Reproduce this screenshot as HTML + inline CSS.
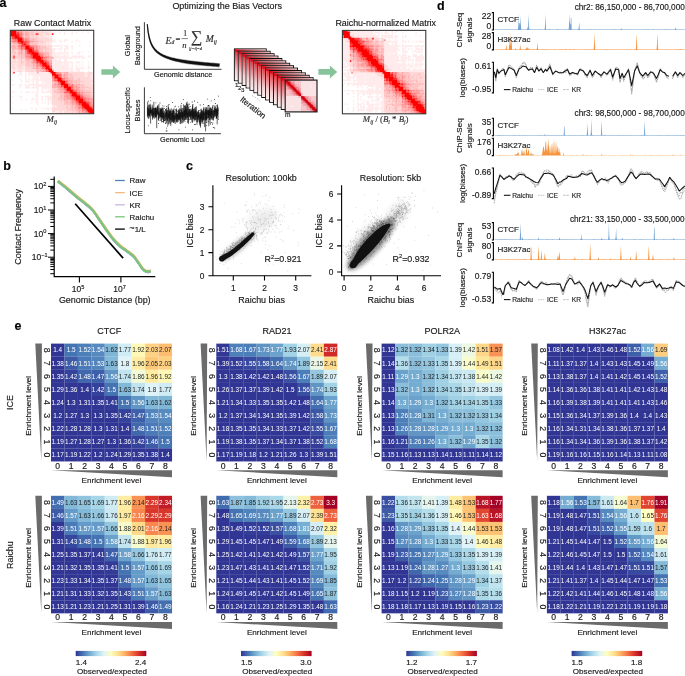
<!DOCTYPE html>
<html><head><meta charset="utf-8"><title>Raichu figure</title>
<style>html,body{margin:0;padding:0;background:#fff;overflow:hidden;width:685px;height:676px;}svg{display:block;will-change:transform;}text{stroke:#1a1a1a;stroke-width:.16px;}text.w,text.g{stroke:none;}</style></head>
<body><svg width="685" height="676" viewBox="0 0 685 676" font-family='"Liberation Sans", sans-serif' fill="#1a1a1a">
<rect width="685" height="676" fill="#fff"/>
<text x="14.50" y="330.20" font-size="12.5" fill="#000" font-weight="bold">e</text>
<text x="109.20" y="334.00" font-size="9.0" text-anchor="middle">CTCF</text>
<rect x="51.00" y="343.60" width="13.49" height="13.14" fill="#313695"/>
<rect x="64.44" y="343.60" width="13.49" height="13.14" fill="#4574b3"/>
<rect x="77.89" y="343.60" width="13.49" height="13.14" fill="#4d7fb9"/>
<rect x="91.33" y="343.60" width="13.49" height="13.14" fill="#578abf"/>
<rect x="104.78" y="343.60" width="13.49" height="13.14" fill="#7fb6d6"/>
<rect x="118.22" y="343.60" width="13.49" height="13.14" fill="#cfebf3"/>
<rect x="131.67" y="343.60" width="13.49" height="13.14" fill="#fff8b6"/>
<rect x="145.11" y="343.60" width="13.49" height="13.14" fill="#fed081"/>
<rect x="158.56" y="343.60" width="13.49" height="13.14" fill="#fdbd6f"/>
<rect x="51.00" y="356.69" width="13.49" height="13.14" fill="#313695"/>
<rect x="64.44" y="356.69" width="13.49" height="13.14" fill="#3d5ba7"/>
<rect x="77.89" y="356.69" width="13.49" height="13.14" fill="#4a7ab7"/>
<rect x="91.33" y="356.69" width="13.49" height="13.14" fill="#5385bd"/>
<rect x="104.78" y="356.69" width="13.49" height="13.14" fill="#83b9d8"/>
<rect x="118.22" y="356.69" width="13.49" height="13.14" fill="#e0f3f8"/>
<rect x="131.67" y="356.69" width="13.49" height="13.14" fill="#feeca3"/>
<rect x="145.11" y="356.69" width="13.49" height="13.14" fill="#fdc778"/>
<rect x="158.56" y="356.69" width="13.49" height="13.14" fill="#fed081"/>
<rect x="51.00" y="369.78" width="13.49" height="13.14" fill="#313695"/>
<rect x="64.44" y="369.78" width="13.49" height="13.14" fill="#35429b"/>
<rect x="77.89" y="369.78" width="13.49" height="13.14" fill="#4167ad"/>
<rect x="91.33" y="369.78" width="13.49" height="13.14" fill="#3e60aa"/>
<rect x="104.78" y="369.78" width="13.49" height="13.14" fill="#6095c4"/>
<rect x="118.22" y="369.78" width="13.49" height="13.14" fill="#c1e4ef"/>
<rect x="131.67" y="369.78" width="13.49" height="13.14" fill="#f2fad7"/>
<rect x="145.11" y="369.78" width="13.49" height="13.14" fill="#feeca3"/>
<rect x="158.56" y="369.78" width="13.49" height="13.14" fill="#fff8b6"/>
<rect x="51.00" y="382.87" width="13.49" height="13.14" fill="#313695"/>
<rect x="64.44" y="382.87" width="13.49" height="13.14" fill="#313695"/>
<rect x="77.89" y="382.87" width="13.49" height="13.14" fill="#313695"/>
<rect x="91.33" y="382.87" width="13.49" height="13.14" fill="#35429b"/>
<rect x="104.78" y="382.87" width="13.49" height="13.14" fill="#4574b3"/>
<rect x="118.22" y="382.87" width="13.49" height="13.14" fill="#83b9d8"/>
<rect x="131.67" y="382.87" width="13.49" height="13.14" fill="#c1e4ef"/>
<rect x="145.11" y="382.87" width="13.49" height="13.14" fill="#e0f3f8"/>
<rect x="158.56" y="382.87" width="13.49" height="13.14" fill="#cfebf3"/>
<rect x="51.00" y="395.96" width="13.49" height="13.14" fill="#313695"/>
<rect x="64.44" y="395.96" width="13.49" height="13.14" fill="#313695"/>
<rect x="77.89" y="395.96" width="13.49" height="13.14" fill="#313695"/>
<rect x="91.33" y="395.96" width="13.49" height="13.14" fill="#313695"/>
<rect x="104.78" y="395.96" width="13.49" height="13.14" fill="#333b97"/>
<rect x="118.22" y="395.96" width="13.49" height="13.14" fill="#4574b3"/>
<rect x="131.67" y="395.96" width="13.49" height="13.14" fill="#6095c4"/>
<rect x="145.11" y="395.96" width="13.49" height="13.14" fill="#83b9d8"/>
<rect x="158.56" y="395.96" width="13.49" height="13.14" fill="#7fb6d6"/>
<rect x="51.00" y="409.04" width="13.49" height="13.14" fill="#313695"/>
<rect x="64.44" y="409.04" width="13.49" height="13.14" fill="#313695"/>
<rect x="77.89" y="409.04" width="13.49" height="13.14" fill="#313695"/>
<rect x="91.33" y="409.04" width="13.49" height="13.14" fill="#313695"/>
<rect x="104.78" y="409.04" width="13.49" height="13.14" fill="#313695"/>
<rect x="118.22" y="409.04" width="13.49" height="13.14" fill="#35429b"/>
<rect x="131.67" y="409.04" width="13.49" height="13.14" fill="#3e60aa"/>
<rect x="145.11" y="409.04" width="13.49" height="13.14" fill="#5385bd"/>
<rect x="158.56" y="409.04" width="13.49" height="13.14" fill="#578abf"/>
<rect x="51.00" y="422.13" width="13.49" height="13.14" fill="#313695"/>
<rect x="64.44" y="422.13" width="13.49" height="13.14" fill="#313695"/>
<rect x="77.89" y="422.13" width="13.49" height="13.14" fill="#313695"/>
<rect x="91.33" y="422.13" width="13.49" height="13.14" fill="#313695"/>
<rect x="104.78" y="422.13" width="13.49" height="13.14" fill="#313695"/>
<rect x="118.22" y="422.13" width="13.49" height="13.14" fill="#313695"/>
<rect x="131.67" y="422.13" width="13.49" height="13.14" fill="#4167ad"/>
<rect x="145.11" y="422.13" width="13.49" height="13.14" fill="#4a7ab7"/>
<rect x="158.56" y="422.13" width="13.49" height="13.14" fill="#4d7fb9"/>
<rect x="51.00" y="435.22" width="13.49" height="13.14" fill="#313695"/>
<rect x="64.44" y="435.22" width="13.49" height="13.14" fill="#313695"/>
<rect x="77.89" y="435.22" width="13.49" height="13.14" fill="#313695"/>
<rect x="91.33" y="435.22" width="13.49" height="13.14" fill="#313695"/>
<rect x="104.78" y="435.22" width="13.49" height="13.14" fill="#313695"/>
<rect x="118.22" y="435.22" width="13.49" height="13.14" fill="#313695"/>
<rect x="131.67" y="435.22" width="13.49" height="13.14" fill="#35429b"/>
<rect x="145.11" y="435.22" width="13.49" height="13.14" fill="#3d5ba7"/>
<rect x="158.56" y="435.22" width="13.49" height="13.14" fill="#4574b3"/>
<rect x="51.00" y="448.31" width="13.49" height="13.14" fill="#313695"/>
<rect x="64.44" y="448.31" width="13.49" height="13.14" fill="#313695"/>
<rect x="77.89" y="448.31" width="13.49" height="13.14" fill="#313695"/>
<rect x="91.33" y="448.31" width="13.49" height="13.14" fill="#313695"/>
<rect x="104.78" y="448.31" width="13.49" height="13.14" fill="#313695"/>
<rect x="118.22" y="448.31" width="13.49" height="13.14" fill="#313695"/>
<rect x="131.67" y="448.31" width="13.49" height="13.14" fill="#313695"/>
<rect x="145.11" y="448.31" width="13.49" height="13.14" fill="#313695"/>
<rect x="158.56" y="448.31" width="13.49" height="13.14" fill="#313695"/>
<text x="57.72" y="352.45" font-size="6.4" fill="#fff" text-anchor="middle" class="w">1.4</text>
<text x="71.17" y="352.45" font-size="6.4" fill="#fff" text-anchor="middle" class="w">1.5</text>
<text x="84.61" y="352.45" font-size="6.4" fill="#fff" text-anchor="middle" class="w">1.52</text>
<text x="98.06" y="352.45" font-size="6.4" fill="#fff" text-anchor="middle" class="w">1.54</text>
<text x="111.50" y="352.45" font-size="6.4" fill="#222" text-anchor="middle" class="g">1.62</text>
<text x="124.94" y="352.45" font-size="6.4" fill="#222" text-anchor="middle" class="g">1.77</text>
<text x="138.39" y="352.45" font-size="6.4" fill="#222" text-anchor="middle" class="g">1.92</text>
<text x="151.83" y="352.45" font-size="6.4" fill="#222" text-anchor="middle" class="g">2.03</text>
<text x="165.28" y="352.45" font-size="6.4" fill="#222" text-anchor="middle" class="g">2.07</text>
<text x="57.72" y="365.54" font-size="6.4" fill="#fff" text-anchor="middle" class="w">1.38</text>
<text x="71.17" y="365.54" font-size="6.4" fill="#fff" text-anchor="middle" class="w">1.46</text>
<text x="84.61" y="365.54" font-size="6.4" fill="#fff" text-anchor="middle" class="w">1.51</text>
<text x="98.06" y="365.54" font-size="6.4" fill="#fff" text-anchor="middle" class="w">1.53</text>
<text x="111.50" y="365.54" font-size="6.4" fill="#222" text-anchor="middle" class="g">1.63</text>
<text x="124.94" y="365.54" font-size="6.4" fill="#222" text-anchor="middle" class="g">1.8</text>
<text x="138.39" y="365.54" font-size="6.4" fill="#222" text-anchor="middle" class="g">1.96</text>
<text x="151.83" y="365.54" font-size="6.4" fill="#222" text-anchor="middle" class="g">2.05</text>
<text x="165.28" y="365.54" font-size="6.4" fill="#222" text-anchor="middle" class="g">2.03</text>
<text x="57.72" y="378.63" font-size="6.4" fill="#fff" text-anchor="middle" class="w">1.35</text>
<text x="71.17" y="378.63" font-size="6.4" fill="#fff" text-anchor="middle" class="w">1.42</text>
<text x="84.61" y="378.63" font-size="6.4" fill="#fff" text-anchor="middle" class="w">1.48</text>
<text x="98.06" y="378.63" font-size="6.4" fill="#fff" text-anchor="middle" class="w">1.47</text>
<text x="111.50" y="378.63" font-size="6.4" fill="#fff" text-anchor="middle" class="w">1.56</text>
<text x="124.94" y="378.63" font-size="6.4" fill="#222" text-anchor="middle" class="g">1.74</text>
<text x="138.39" y="378.63" font-size="6.4" fill="#222" text-anchor="middle" class="g">1.86</text>
<text x="151.83" y="378.63" font-size="6.4" fill="#222" text-anchor="middle" class="g">1.96</text>
<text x="165.28" y="378.63" font-size="6.4" fill="#222" text-anchor="middle" class="g">1.92</text>
<text x="57.72" y="391.72" font-size="6.4" fill="#fff" text-anchor="middle" class="w">1.29</text>
<text x="71.17" y="391.72" font-size="6.4" fill="#fff" text-anchor="middle" class="w">1.36</text>
<text x="84.61" y="391.72" font-size="6.4" fill="#fff" text-anchor="middle" class="w">1.4</text>
<text x="98.06" y="391.72" font-size="6.4" fill="#fff" text-anchor="middle" class="w">1.42</text>
<text x="111.50" y="391.72" font-size="6.4" fill="#fff" text-anchor="middle" class="w">1.5</text>
<text x="124.94" y="391.72" font-size="6.4" fill="#222" text-anchor="middle" class="g">1.63</text>
<text x="138.39" y="391.72" font-size="6.4" fill="#222" text-anchor="middle" class="g">1.74</text>
<text x="151.83" y="391.72" font-size="6.4" fill="#222" text-anchor="middle" class="g">1.8</text>
<text x="165.28" y="391.72" font-size="6.4" fill="#222" text-anchor="middle" class="g">1.77</text>
<text x="57.72" y="404.80" font-size="6.4" fill="#fff" text-anchor="middle" class="w">1.24</text>
<text x="71.17" y="404.80" font-size="6.4" fill="#fff" text-anchor="middle" class="w">1.3</text>
<text x="84.61" y="404.80" font-size="6.4" fill="#fff" text-anchor="middle" class="w">1.31</text>
<text x="98.06" y="404.80" font-size="6.4" fill="#fff" text-anchor="middle" class="w">1.35</text>
<text x="111.50" y="404.80" font-size="6.4" fill="#fff" text-anchor="middle" class="w">1.41</text>
<text x="124.94" y="404.80" font-size="6.4" fill="#fff" text-anchor="middle" class="w">1.5</text>
<text x="138.39" y="404.80" font-size="6.4" fill="#fff" text-anchor="middle" class="w">1.56</text>
<text x="151.83" y="404.80" font-size="6.4" fill="#222" text-anchor="middle" class="g">1.63</text>
<text x="165.28" y="404.80" font-size="6.4" fill="#222" text-anchor="middle" class="g">1.62</text>
<text x="57.72" y="417.89" font-size="6.4" fill="#fff" text-anchor="middle" class="w">1.2</text>
<text x="71.17" y="417.89" font-size="6.4" fill="#fff" text-anchor="middle" class="w">1.27</text>
<text x="84.61" y="417.89" font-size="6.4" fill="#fff" text-anchor="middle" class="w">1.3</text>
<text x="98.06" y="417.89" font-size="6.4" fill="#fff" text-anchor="middle" class="w">1.3</text>
<text x="111.50" y="417.89" font-size="6.4" fill="#fff" text-anchor="middle" class="w">1.35</text>
<text x="124.94" y="417.89" font-size="6.4" fill="#fff" text-anchor="middle" class="w">1.42</text>
<text x="138.39" y="417.89" font-size="6.4" fill="#fff" text-anchor="middle" class="w">1.47</text>
<text x="151.83" y="417.89" font-size="6.4" fill="#fff" text-anchor="middle" class="w">1.53</text>
<text x="165.28" y="417.89" font-size="6.4" fill="#fff" text-anchor="middle" class="w">1.54</text>
<text x="57.72" y="430.98" font-size="6.4" fill="#fff" text-anchor="middle" class="w">1.22</text>
<text x="71.17" y="430.98" font-size="6.4" fill="#fff" text-anchor="middle" class="w">1.28</text>
<text x="84.61" y="430.98" font-size="6.4" fill="#fff" text-anchor="middle" class="w">1.28</text>
<text x="98.06" y="430.98" font-size="6.4" fill="#fff" text-anchor="middle" class="w">1.3</text>
<text x="111.50" y="430.98" font-size="6.4" fill="#fff" text-anchor="middle" class="w">1.31</text>
<text x="124.94" y="430.98" font-size="6.4" fill="#fff" text-anchor="middle" class="w">1.4</text>
<text x="138.39" y="430.98" font-size="6.4" fill="#fff" text-anchor="middle" class="w">1.48</text>
<text x="151.83" y="430.98" font-size="6.4" fill="#fff" text-anchor="middle" class="w">1.51</text>
<text x="165.28" y="430.98" font-size="6.4" fill="#fff" text-anchor="middle" class="w">1.52</text>
<text x="57.72" y="444.07" font-size="6.4" fill="#fff" text-anchor="middle" class="w">1.19</text>
<text x="71.17" y="444.07" font-size="6.4" fill="#fff" text-anchor="middle" class="w">1.27</text>
<text x="84.61" y="444.07" font-size="6.4" fill="#fff" text-anchor="middle" class="w">1.28</text>
<text x="98.06" y="444.07" font-size="6.4" fill="#fff" text-anchor="middle" class="w">1.27</text>
<text x="111.50" y="444.07" font-size="6.4" fill="#fff" text-anchor="middle" class="w">1.3</text>
<text x="124.94" y="444.07" font-size="6.4" fill="#fff" text-anchor="middle" class="w">1.36</text>
<text x="138.39" y="444.07" font-size="6.4" fill="#fff" text-anchor="middle" class="w">1.42</text>
<text x="151.83" y="444.07" font-size="6.4" fill="#fff" text-anchor="middle" class="w">1.46</text>
<text x="165.28" y="444.07" font-size="6.4" fill="#fff" text-anchor="middle" class="w">1.5</text>
<text x="57.72" y="457.16" font-size="6.4" fill="#fff" text-anchor="middle" class="w">1.17</text>
<text x="71.17" y="457.16" font-size="6.4" fill="#fff" text-anchor="middle" class="w">1.19</text>
<text x="84.61" y="457.16" font-size="6.4" fill="#fff" text-anchor="middle" class="w">1.22</text>
<text x="98.06" y="457.16" font-size="6.4" fill="#fff" text-anchor="middle" class="w">1.2</text>
<text x="111.50" y="457.16" font-size="6.4" fill="#fff" text-anchor="middle" class="w">1.24</text>
<text x="124.94" y="457.16" font-size="6.4" fill="#fff" text-anchor="middle" class="w">1.29</text>
<text x="138.39" y="457.16" font-size="6.4" fill="#fff" text-anchor="middle" class="w">1.35</text>
<text x="151.83" y="457.16" font-size="6.4" fill="#fff" text-anchor="middle" class="w">1.38</text>
<text x="165.28" y="457.16" font-size="6.4" fill="#fff" text-anchor="middle" class="w">1.4</text>
<polygon points="35.30,343.60 41.90,343.60 41.30,461.40" fill="#6b6b6b"/>
<polygon points="51.00,470.20 172.00,470.20 172.00,477.20" fill="#6b6b6b"/>
<text transform="translate(43.70,350.14) rotate(90)" font-size="8.6" text-anchor="middle">8</text>
<text transform="translate(43.70,363.23) rotate(90)" font-size="8.6" text-anchor="middle">7</text>
<text transform="translate(43.70,376.32) rotate(90)" font-size="8.6" text-anchor="middle">6</text>
<text transform="translate(43.70,389.41) rotate(90)" font-size="8.6" text-anchor="middle">5</text>
<text transform="translate(43.70,402.50) rotate(90)" font-size="8.6" text-anchor="middle">4</text>
<text transform="translate(43.70,415.59) rotate(90)" font-size="8.6" text-anchor="middle">3</text>
<text transform="translate(43.70,428.68) rotate(90)" font-size="8.6" text-anchor="middle">2</text>
<text transform="translate(43.70,441.77) rotate(90)" font-size="8.6" text-anchor="middle">1</text>
<text transform="translate(43.70,454.86) rotate(90)" font-size="8.6" text-anchor="middle">0</text>
<text x="57.72" y="468.50" font-size="8.6" text-anchor="middle">0</text>
<text x="71.17" y="468.50" font-size="8.6" text-anchor="middle">1</text>
<text x="84.61" y="468.50" font-size="8.6" text-anchor="middle">2</text>
<text x="98.06" y="468.50" font-size="8.6" text-anchor="middle">3</text>
<text x="111.50" y="468.50" font-size="8.6" text-anchor="middle">4</text>
<text x="124.94" y="468.50" font-size="8.6" text-anchor="middle">5</text>
<text x="138.39" y="468.50" font-size="8.6" text-anchor="middle">6</text>
<text x="151.83" y="468.50" font-size="8.6" text-anchor="middle">7</text>
<text x="165.28" y="468.50" font-size="8.6" text-anchor="middle">8</text>
<text x="111.50" y="483.20" font-size="8.1" text-anchor="middle">Enrichment level</text>
<text transform="translate(31.00,405.90) rotate(-90)" font-size="8.1" text-anchor="middle">Enrichment level</text>
<rect x="51.00" y="495.80" width="13.49" height="13.11" fill="#436fb1"/>
<rect x="64.44" y="495.80" width="13.49" height="13.11" fill="#83b9d8"/>
<rect x="77.89" y="495.80" width="13.49" height="13.11" fill="#90c3dd"/>
<rect x="91.33" y="495.80" width="13.49" height="13.11" fill="#a6d5e7"/>
<rect x="104.78" y="495.80" width="13.49" height="13.11" fill="#cfebf3"/>
<rect x="118.22" y="495.80" width="13.49" height="13.11" fill="#feeca3"/>
<rect x="131.67" y="495.80" width="13.49" height="13.11" fill="#f99355"/>
<rect x="145.11" y="495.80" width="13.49" height="13.11" fill="#da362a"/>
<rect x="158.56" y="495.80" width="13.49" height="13.11" fill="#c21c27"/>
<rect x="51.00" y="508.86" width="13.49" height="13.11" fill="#3d5ba7"/>
<rect x="64.44" y="508.86" width="13.49" height="13.11" fill="#659bc8"/>
<rect x="77.89" y="508.86" width="13.49" height="13.11" fill="#83b9d8"/>
<rect x="91.33" y="508.86" width="13.49" height="13.11" fill="#94c7df"/>
<rect x="104.78" y="508.86" width="13.49" height="13.11" fill="#cbe9f2"/>
<rect x="118.22" y="508.86" width="13.49" height="13.11" fill="#feea9f"/>
<rect x="131.67" y="508.86" width="13.49" height="13.11" fill="#f8864f"/>
<rect x="145.11" y="508.86" width="13.49" height="13.11" fill="#da362a"/>
<rect x="158.56" y="508.86" width="13.49" height="13.11" fill="#da362a"/>
<rect x="51.00" y="521.91" width="13.49" height="13.11" fill="#313695"/>
<rect x="64.44" y="521.91" width="13.49" height="13.11" fill="#4a7ab7"/>
<rect x="77.89" y="521.91" width="13.49" height="13.11" fill="#659bc8"/>
<rect x="91.33" y="521.91" width="13.49" height="13.11" fill="#659bc8"/>
<rect x="104.78" y="521.91" width="13.49" height="13.11" fill="#94c7df"/>
<rect x="118.22" y="521.91" width="13.49" height="13.11" fill="#f8fccc"/>
<rect x="131.67" y="521.91" width="13.49" height="13.11" fill="#feda8a"/>
<rect x="145.11" y="521.91" width="13.49" height="13.11" fill="#f8864f"/>
<rect x="158.56" y="521.91" width="13.49" height="13.11" fill="#f99355"/>
<rect x="51.00" y="534.97" width="13.49" height="13.11" fill="#313695"/>
<rect x="64.44" y="534.97" width="13.49" height="13.11" fill="#36479e"/>
<rect x="77.89" y="534.97" width="13.49" height="13.11" fill="#4167ad"/>
<rect x="91.33" y="534.97" width="13.49" height="13.11" fill="#4574b3"/>
<rect x="104.78" y="534.97" width="13.49" height="13.11" fill="#6ba2cb"/>
<rect x="118.22" y="534.97" width="13.49" height="13.11" fill="#c1e4ef"/>
<rect x="131.67" y="534.97" width="13.49" height="13.11" fill="#f8fccc"/>
<rect x="145.11" y="534.97" width="13.49" height="13.11" fill="#feea9f"/>
<rect x="158.56" y="534.97" width="13.49" height="13.11" fill="#feeca3"/>
<rect x="51.00" y="548.02" width="13.49" height="13.11" fill="#313695"/>
<rect x="64.44" y="548.02" width="13.49" height="13.11" fill="#313695"/>
<rect x="77.89" y="548.02" width="13.49" height="13.11" fill="#313695"/>
<rect x="91.33" y="548.02" width="13.49" height="13.11" fill="#333b97"/>
<rect x="104.78" y="548.02" width="13.49" height="13.11" fill="#3e60aa"/>
<rect x="118.22" y="548.02" width="13.49" height="13.11" fill="#6ba2cb"/>
<rect x="131.67" y="548.02" width="13.49" height="13.11" fill="#94c7df"/>
<rect x="145.11" y="548.02" width="13.49" height="13.11" fill="#cbe9f2"/>
<rect x="158.56" y="548.02" width="13.49" height="13.11" fill="#cfebf3"/>
<rect x="51.00" y="561.08" width="13.49" height="13.11" fill="#313695"/>
<rect x="64.44" y="561.08" width="13.49" height="13.11" fill="#313695"/>
<rect x="77.89" y="561.08" width="13.49" height="13.11" fill="#313695"/>
<rect x="91.33" y="561.08" width="13.49" height="13.11" fill="#313695"/>
<rect x="104.78" y="561.08" width="13.49" height="13.11" fill="#333b97"/>
<rect x="118.22" y="561.08" width="13.49" height="13.11" fill="#4574b3"/>
<rect x="131.67" y="561.08" width="13.49" height="13.11" fill="#659bc8"/>
<rect x="145.11" y="561.08" width="13.49" height="13.11" fill="#94c7df"/>
<rect x="158.56" y="561.08" width="13.49" height="13.11" fill="#a6d5e7"/>
<rect x="51.00" y="574.13" width="13.49" height="13.11" fill="#313695"/>
<rect x="64.44" y="574.13" width="13.49" height="13.11" fill="#313695"/>
<rect x="77.89" y="574.13" width="13.49" height="13.11" fill="#313695"/>
<rect x="91.33" y="574.13" width="13.49" height="13.11" fill="#313695"/>
<rect x="104.78" y="574.13" width="13.49" height="13.11" fill="#313695"/>
<rect x="118.22" y="574.13" width="13.49" height="13.11" fill="#4167ad"/>
<rect x="131.67" y="574.13" width="13.49" height="13.11" fill="#659bc8"/>
<rect x="145.11" y="574.13" width="13.49" height="13.11" fill="#83b9d8"/>
<rect x="158.56" y="574.13" width="13.49" height="13.11" fill="#90c3dd"/>
<rect x="51.00" y="587.19" width="13.49" height="13.11" fill="#313695"/>
<rect x="64.44" y="587.19" width="13.49" height="13.11" fill="#313695"/>
<rect x="77.89" y="587.19" width="13.49" height="13.11" fill="#313695"/>
<rect x="91.33" y="587.19" width="13.49" height="13.11" fill="#313695"/>
<rect x="104.78" y="587.19" width="13.49" height="13.11" fill="#313695"/>
<rect x="118.22" y="587.19" width="13.49" height="13.11" fill="#36479e"/>
<rect x="131.67" y="587.19" width="13.49" height="13.11" fill="#4a7ab7"/>
<rect x="145.11" y="587.19" width="13.49" height="13.11" fill="#659bc8"/>
<rect x="158.56" y="587.19" width="13.49" height="13.11" fill="#83b9d8"/>
<rect x="51.00" y="600.24" width="13.49" height="13.11" fill="#313695"/>
<rect x="64.44" y="600.24" width="13.49" height="13.11" fill="#313695"/>
<rect x="77.89" y="600.24" width="13.49" height="13.11" fill="#313695"/>
<rect x="91.33" y="600.24" width="13.49" height="13.11" fill="#313695"/>
<rect x="104.78" y="600.24" width="13.49" height="13.11" fill="#313695"/>
<rect x="118.22" y="600.24" width="13.49" height="13.11" fill="#313695"/>
<rect x="131.67" y="600.24" width="13.49" height="13.11" fill="#313695"/>
<rect x="145.11" y="600.24" width="13.49" height="13.11" fill="#3d5ba7"/>
<rect x="158.56" y="600.24" width="13.49" height="13.11" fill="#436fb1"/>
<text x="57.72" y="504.63" font-size="6.4" fill="#fff" text-anchor="middle" class="w">1.49</text>
<text x="71.17" y="504.63" font-size="6.4" fill="#222" text-anchor="middle" class="g">1.63</text>
<text x="84.61" y="504.63" font-size="6.4" fill="#222" text-anchor="middle" class="g">1.65</text>
<text x="98.06" y="504.63" font-size="6.4" fill="#222" text-anchor="middle" class="g">1.69</text>
<text x="111.50" y="504.63" font-size="6.4" fill="#222" text-anchor="middle" class="g">1.77</text>
<text x="124.94" y="504.63" font-size="6.4" fill="#222" text-anchor="middle" class="g">1.96</text>
<text x="138.39" y="504.63" font-size="6.4" fill="#222" text-anchor="middle" class="g">2.14</text>
<text x="151.83" y="504.63" font-size="6.4" fill="#fff" text-anchor="middle" class="w">2.29</text>
<text x="165.28" y="504.63" font-size="6.4" fill="#fff" text-anchor="middle" class="w">2.34</text>
<text x="57.72" y="517.69" font-size="6.4" fill="#fff" text-anchor="middle" class="w">1.46</text>
<text x="71.17" y="517.69" font-size="6.4" fill="#fff" text-anchor="middle" class="w">1.57</text>
<text x="84.61" y="517.69" font-size="6.4" fill="#222" text-anchor="middle" class="g">1.63</text>
<text x="98.06" y="517.69" font-size="6.4" fill="#222" text-anchor="middle" class="g">1.66</text>
<text x="111.50" y="517.69" font-size="6.4" fill="#222" text-anchor="middle" class="g">1.76</text>
<text x="124.94" y="517.69" font-size="6.4" fill="#222" text-anchor="middle" class="g">1.97</text>
<text x="138.39" y="517.69" font-size="6.4" fill="#fff" text-anchor="middle" class="w">2.16</text>
<text x="151.83" y="517.69" font-size="6.4" fill="#fff" text-anchor="middle" class="w">2.29</text>
<text x="165.28" y="517.69" font-size="6.4" fill="#fff" text-anchor="middle" class="w">2.29</text>
<text x="57.72" y="530.74" font-size="6.4" fill="#fff" text-anchor="middle" class="w">1.39</text>
<text x="71.17" y="530.74" font-size="6.4" fill="#fff" text-anchor="middle" class="w">1.51</text>
<text x="84.61" y="530.74" font-size="6.4" fill="#fff" text-anchor="middle" class="w">1.57</text>
<text x="98.06" y="530.74" font-size="6.4" fill="#fff" text-anchor="middle" class="w">1.57</text>
<text x="111.50" y="530.74" font-size="6.4" fill="#222" text-anchor="middle" class="g">1.66</text>
<text x="124.94" y="530.74" font-size="6.4" fill="#222" text-anchor="middle" class="g">1.88</text>
<text x="138.39" y="530.74" font-size="6.4" fill="#222" text-anchor="middle" class="g">2.01</text>
<text x="151.83" y="530.74" font-size="6.4" fill="#fff" text-anchor="middle" class="w">2.16</text>
<text x="165.28" y="530.74" font-size="6.4" fill="#222" text-anchor="middle" class="g">2.14</text>
<text x="57.72" y="543.80" font-size="6.4" fill="#fff" text-anchor="middle" class="w">1.31</text>
<text x="71.17" y="543.80" font-size="6.4" fill="#fff" text-anchor="middle" class="w">1.43</text>
<text x="84.61" y="543.80" font-size="6.4" fill="#fff" text-anchor="middle" class="w">1.48</text>
<text x="98.06" y="543.80" font-size="6.4" fill="#fff" text-anchor="middle" class="w">1.5</text>
<text x="111.50" y="543.80" font-size="6.4" fill="#fff" text-anchor="middle" class="w">1.58</text>
<text x="124.94" y="543.80" font-size="6.4" fill="#222" text-anchor="middle" class="g">1.74</text>
<text x="138.39" y="543.80" font-size="6.4" fill="#222" text-anchor="middle" class="g">1.88</text>
<text x="151.83" y="543.80" font-size="6.4" fill="#222" text-anchor="middle" class="g">1.97</text>
<text x="165.28" y="543.80" font-size="6.4" fill="#222" text-anchor="middle" class="g">1.96</text>
<text x="57.72" y="556.85" font-size="6.4" fill="#fff" text-anchor="middle" class="w">1.25</text>
<text x="71.17" y="556.85" font-size="6.4" fill="#fff" text-anchor="middle" class="w">1.35</text>
<text x="84.61" y="556.85" font-size="6.4" fill="#fff" text-anchor="middle" class="w">1.37</text>
<text x="98.06" y="556.85" font-size="6.4" fill="#fff" text-anchor="middle" class="w">1.41</text>
<text x="111.50" y="556.85" font-size="6.4" fill="#fff" text-anchor="middle" class="w">1.47</text>
<text x="124.94" y="556.85" font-size="6.4" fill="#fff" text-anchor="middle" class="w">1.58</text>
<text x="138.39" y="556.85" font-size="6.4" fill="#222" text-anchor="middle" class="g">1.66</text>
<text x="151.83" y="556.85" font-size="6.4" fill="#222" text-anchor="middle" class="g">1.76</text>
<text x="165.28" y="556.85" font-size="6.4" fill="#222" text-anchor="middle" class="g">1.77</text>
<text x="57.72" y="569.91" font-size="6.4" fill="#fff" text-anchor="middle" class="w">1.21</text>
<text x="71.17" y="569.91" font-size="6.4" fill="#fff" text-anchor="middle" class="w">1.32</text>
<text x="84.61" y="569.91" font-size="6.4" fill="#fff" text-anchor="middle" class="w">1.35</text>
<text x="98.06" y="569.91" font-size="6.4" fill="#fff" text-anchor="middle" class="w">1.35</text>
<text x="111.50" y="569.91" font-size="6.4" fill="#fff" text-anchor="middle" class="w">1.41</text>
<text x="124.94" y="569.91" font-size="6.4" fill="#fff" text-anchor="middle" class="w">1.5</text>
<text x="138.39" y="569.91" font-size="6.4" fill="#fff" text-anchor="middle" class="w">1.57</text>
<text x="151.83" y="569.91" font-size="6.4" fill="#222" text-anchor="middle" class="g">1.66</text>
<text x="165.28" y="569.91" font-size="6.4" fill="#222" text-anchor="middle" class="g">1.69</text>
<text x="57.72" y="582.97" font-size="6.4" fill="#fff" text-anchor="middle" class="w">1.23</text>
<text x="71.17" y="582.97" font-size="6.4" fill="#fff" text-anchor="middle" class="w">1.33</text>
<text x="84.61" y="582.97" font-size="6.4" fill="#fff" text-anchor="middle" class="w">1.34</text>
<text x="98.06" y="582.97" font-size="6.4" fill="#fff" text-anchor="middle" class="w">1.35</text>
<text x="111.50" y="582.97" font-size="6.4" fill="#fff" text-anchor="middle" class="w">1.37</text>
<text x="124.94" y="582.97" font-size="6.4" fill="#fff" text-anchor="middle" class="w">1.48</text>
<text x="138.39" y="582.97" font-size="6.4" fill="#fff" text-anchor="middle" class="w">1.57</text>
<text x="151.83" y="582.97" font-size="6.4" fill="#222" text-anchor="middle" class="g">1.63</text>
<text x="165.28" y="582.97" font-size="6.4" fill="#222" text-anchor="middle" class="g">1.65</text>
<text x="57.72" y="596.02" font-size="6.4" fill="#fff" text-anchor="middle" class="w">1.21</text>
<text x="71.17" y="596.02" font-size="6.4" fill="#fff" text-anchor="middle" class="w">1.31</text>
<text x="84.61" y="596.02" font-size="6.4" fill="#fff" text-anchor="middle" class="w">1.33</text>
<text x="98.06" y="596.02" font-size="6.4" fill="#fff" text-anchor="middle" class="w">1.32</text>
<text x="111.50" y="596.02" font-size="6.4" fill="#fff" text-anchor="middle" class="w">1.35</text>
<text x="124.94" y="596.02" font-size="6.4" fill="#fff" text-anchor="middle" class="w">1.43</text>
<text x="138.39" y="596.02" font-size="6.4" fill="#fff" text-anchor="middle" class="w">1.51</text>
<text x="151.83" y="596.02" font-size="6.4" fill="#fff" text-anchor="middle" class="w">1.57</text>
<text x="165.28" y="596.02" font-size="6.4" fill="#222" text-anchor="middle" class="g">1.63</text>
<text x="57.72" y="609.08" font-size="6.4" fill="#fff" text-anchor="middle" class="w">1.13</text>
<text x="71.17" y="609.08" font-size="6.4" fill="#fff" text-anchor="middle" class="w">1.21</text>
<text x="84.61" y="609.08" font-size="6.4" fill="#fff" text-anchor="middle" class="w">1.23</text>
<text x="98.06" y="609.08" font-size="6.4" fill="#fff" text-anchor="middle" class="w">1.21</text>
<text x="111.50" y="609.08" font-size="6.4" fill="#fff" text-anchor="middle" class="w">1.25</text>
<text x="124.94" y="609.08" font-size="6.4" fill="#fff" text-anchor="middle" class="w">1.31</text>
<text x="138.39" y="609.08" font-size="6.4" fill="#fff" text-anchor="middle" class="w">1.39</text>
<text x="151.83" y="609.08" font-size="6.4" fill="#fff" text-anchor="middle" class="w">1.46</text>
<text x="165.28" y="609.08" font-size="6.4" fill="#fff" text-anchor="middle" class="w">1.49</text>
<polygon points="35.30,495.80 41.90,495.80 41.30,613.30" fill="#6b6b6b"/>
<polygon points="51.00,622.10 172.00,622.10 172.00,629.10" fill="#6b6b6b"/>
<text transform="translate(43.70,502.33) rotate(90)" font-size="8.6" text-anchor="middle">8</text>
<text transform="translate(43.70,515.38) rotate(90)" font-size="8.6" text-anchor="middle">7</text>
<text transform="translate(43.70,528.44) rotate(90)" font-size="8.6" text-anchor="middle">6</text>
<text transform="translate(43.70,541.49) rotate(90)" font-size="8.6" text-anchor="middle">5</text>
<text transform="translate(43.70,554.55) rotate(90)" font-size="8.6" text-anchor="middle">4</text>
<text transform="translate(43.70,567.61) rotate(90)" font-size="8.6" text-anchor="middle">3</text>
<text transform="translate(43.70,580.66) rotate(90)" font-size="8.6" text-anchor="middle">2</text>
<text transform="translate(43.70,593.72) rotate(90)" font-size="8.6" text-anchor="middle">1</text>
<text transform="translate(43.70,606.77) rotate(90)" font-size="8.6" text-anchor="middle">0</text>
<text x="57.72" y="620.40" font-size="8.6" text-anchor="middle">0</text>
<text x="71.17" y="620.40" font-size="8.6" text-anchor="middle">1</text>
<text x="84.61" y="620.40" font-size="8.6" text-anchor="middle">2</text>
<text x="98.06" y="620.40" font-size="8.6" text-anchor="middle">3</text>
<text x="111.50" y="620.40" font-size="8.6" text-anchor="middle">4</text>
<text x="124.94" y="620.40" font-size="8.6" text-anchor="middle">5</text>
<text x="138.39" y="620.40" font-size="8.6" text-anchor="middle">6</text>
<text x="151.83" y="620.40" font-size="8.6" text-anchor="middle">7</text>
<text x="165.28" y="620.40" font-size="8.6" text-anchor="middle">8</text>
<text x="111.50" y="635.10" font-size="8.1" text-anchor="middle">Enrichment level</text>
<text transform="translate(31.00,557.95) rotate(-90)" font-size="8.1" text-anchor="middle">Enrichment level</text>
<defs><linearGradient id="cb75" x1="0" y1="0" x2="1" y2="0"><stop offset="0.00" stop-color="#313695"/><stop offset="0.10" stop-color="#4574b3"/><stop offset="0.20" stop-color="#74add1"/><stop offset="0.30" stop-color="#aad8e9"/><stop offset="0.40" stop-color="#e0f3f8"/><stop offset="0.50" stop-color="#fffebf"/><stop offset="0.60" stop-color="#fee090"/><stop offset="0.70" stop-color="#fdad60"/><stop offset="0.80" stop-color="#f46d43"/><stop offset="0.90" stop-color="#d62f27"/><stop offset="1.00" stop-color="#a50026"/></linearGradient></defs>
<rect x="75.70" y="650.90" width="70.60" height="5.20" fill="url(#cb75)"/>
<text x="75.70" y="665.40" font-size="8.1">1.4</text>
<text x="146.30" y="665.40" font-size="8.1" text-anchor="end">2.4</text>
<text x="112.00" y="673.60" font-size="8.1" text-anchor="middle">Observed/expected</text>
<text x="277.00" y="334.00" font-size="9.0" text-anchor="middle">RAD21</text>
<rect x="216.30" y="343.60" width="13.49" height="13.14" fill="#323896"/>
<rect x="229.74" y="343.60" width="13.49" height="13.14" fill="#4d7fb9"/>
<rect x="243.19" y="343.60" width="13.49" height="13.14" fill="#4b7db8"/>
<rect x="256.63" y="343.60" width="13.49" height="13.14" fill="#5e93c3"/>
<rect x="270.08" y="343.60" width="13.49" height="13.14" fill="#6ba2cb"/>
<rect x="283.52" y="343.60" width="13.49" height="13.14" fill="#a3d3e6"/>
<rect x="296.97" y="343.60" width="13.49" height="13.14" fill="#d6eef5"/>
<rect x="310.41" y="343.60" width="13.49" height="13.14" fill="#fedc8c"/>
<rect x="323.86" y="343.60" width="13.49" height="13.14" fill="#d02927"/>
<rect x="216.30" y="356.69" width="13.49" height="13.14" fill="#313695"/>
<rect x="229.74" y="356.69" width="13.49" height="13.14" fill="#333d99"/>
<rect x="243.19" y="356.69" width="13.49" height="13.14" fill="#374a9f"/>
<rect x="256.63" y="356.69" width="13.49" height="13.14" fill="#3b56a5"/>
<rect x="270.08" y="356.69" width="13.49" height="13.14" fill="#436fb1"/>
<rect x="283.52" y="356.69" width="13.49" height="13.14" fill="#6095c4"/>
<rect x="296.97" y="356.69" width="13.49" height="13.14" fill="#94c7df"/>
<rect x="310.41" y="356.69" width="13.49" height="13.14" fill="#eaf7e6"/>
<rect x="323.86" y="356.69" width="13.49" height="13.14" fill="#fedc8c"/>
<rect x="216.30" y="369.78" width="13.49" height="13.14" fill="#313695"/>
<rect x="229.74" y="369.78" width="13.49" height="13.14" fill="#313695"/>
<rect x="243.19" y="369.78" width="13.49" height="13.14" fill="#313695"/>
<rect x="256.63" y="369.78" width="13.49" height="13.14" fill="#313695"/>
<rect x="270.08" y="369.78" width="13.49" height="13.14" fill="#313695"/>
<rect x="283.52" y="369.78" width="13.49" height="13.14" fill="#394fa1"/>
<rect x="296.97" y="369.78" width="13.49" height="13.14" fill="#4b7db8"/>
<rect x="310.41" y="369.78" width="13.49" height="13.14" fill="#94c7df"/>
<rect x="323.86" y="369.78" width="13.49" height="13.14" fill="#d6eef5"/>
<rect x="216.30" y="382.87" width="13.49" height="13.14" fill="#313695"/>
<rect x="229.74" y="382.87" width="13.49" height="13.14" fill="#313695"/>
<rect x="243.19" y="382.87" width="13.49" height="13.14" fill="#313695"/>
<rect x="256.63" y="382.87" width="13.49" height="13.14" fill="#313695"/>
<rect x="270.08" y="382.87" width="13.49" height="13.14" fill="#313695"/>
<rect x="283.52" y="382.87" width="13.49" height="13.14" fill="#313695"/>
<rect x="296.97" y="382.87" width="13.49" height="13.14" fill="#394fa1"/>
<rect x="310.41" y="382.87" width="13.49" height="13.14" fill="#6095c4"/>
<rect x="323.86" y="382.87" width="13.49" height="13.14" fill="#a3d3e6"/>
<rect x="216.30" y="395.96" width="13.49" height="13.14" fill="#313695"/>
<rect x="229.74" y="395.96" width="13.49" height="13.14" fill="#313695"/>
<rect x="243.19" y="395.96" width="13.49" height="13.14" fill="#313695"/>
<rect x="256.63" y="395.96" width="13.49" height="13.14" fill="#313695"/>
<rect x="270.08" y="395.96" width="13.49" height="13.14" fill="#313695"/>
<rect x="283.52" y="395.96" width="13.49" height="13.14" fill="#313695"/>
<rect x="296.97" y="395.96" width="13.49" height="13.14" fill="#313695"/>
<rect x="310.41" y="395.96" width="13.49" height="13.14" fill="#436fb1"/>
<rect x="323.86" y="395.96" width="13.49" height="13.14" fill="#6ba2cb"/>
<rect x="216.30" y="409.04" width="13.49" height="13.14" fill="#313695"/>
<rect x="229.74" y="409.04" width="13.49" height="13.14" fill="#313695"/>
<rect x="243.19" y="409.04" width="13.49" height="13.14" fill="#313695"/>
<rect x="256.63" y="409.04" width="13.49" height="13.14" fill="#313695"/>
<rect x="270.08" y="409.04" width="13.49" height="13.14" fill="#313695"/>
<rect x="283.52" y="409.04" width="13.49" height="13.14" fill="#313695"/>
<rect x="296.97" y="409.04" width="13.49" height="13.14" fill="#313695"/>
<rect x="310.41" y="409.04" width="13.49" height="13.14" fill="#3b56a5"/>
<rect x="323.86" y="409.04" width="13.49" height="13.14" fill="#5e93c3"/>
<rect x="216.30" y="422.13" width="13.49" height="13.14" fill="#313695"/>
<rect x="229.74" y="422.13" width="13.49" height="13.14" fill="#313695"/>
<rect x="243.19" y="422.13" width="13.49" height="13.14" fill="#313695"/>
<rect x="256.63" y="422.13" width="13.49" height="13.14" fill="#313695"/>
<rect x="270.08" y="422.13" width="13.49" height="13.14" fill="#313695"/>
<rect x="283.52" y="422.13" width="13.49" height="13.14" fill="#313695"/>
<rect x="296.97" y="422.13" width="13.49" height="13.14" fill="#313695"/>
<rect x="310.41" y="422.13" width="13.49" height="13.14" fill="#374a9f"/>
<rect x="323.86" y="422.13" width="13.49" height="13.14" fill="#4b7db8"/>
<rect x="216.30" y="435.22" width="13.49" height="13.14" fill="#313695"/>
<rect x="229.74" y="435.22" width="13.49" height="13.14" fill="#313695"/>
<rect x="243.19" y="435.22" width="13.49" height="13.14" fill="#313695"/>
<rect x="256.63" y="435.22" width="13.49" height="13.14" fill="#313695"/>
<rect x="270.08" y="435.22" width="13.49" height="13.14" fill="#313695"/>
<rect x="283.52" y="435.22" width="13.49" height="13.14" fill="#313695"/>
<rect x="296.97" y="435.22" width="13.49" height="13.14" fill="#313695"/>
<rect x="310.41" y="435.22" width="13.49" height="13.14" fill="#333d99"/>
<rect x="323.86" y="435.22" width="13.49" height="13.14" fill="#4d7fb9"/>
<rect x="216.30" y="448.31" width="13.49" height="13.14" fill="#313695"/>
<rect x="229.74" y="448.31" width="13.49" height="13.14" fill="#313695"/>
<rect x="243.19" y="448.31" width="13.49" height="13.14" fill="#313695"/>
<rect x="256.63" y="448.31" width="13.49" height="13.14" fill="#313695"/>
<rect x="270.08" y="448.31" width="13.49" height="13.14" fill="#313695"/>
<rect x="283.52" y="448.31" width="13.49" height="13.14" fill="#313695"/>
<rect x="296.97" y="448.31" width="13.49" height="13.14" fill="#313695"/>
<rect x="310.41" y="448.31" width="13.49" height="13.14" fill="#313695"/>
<rect x="323.86" y="448.31" width="13.49" height="13.14" fill="#323896"/>
<text x="223.02" y="352.45" font-size="6.4" fill="#fff" text-anchor="middle" class="w">1.51</text>
<text x="236.47" y="352.45" font-size="6.4" fill="#fff" text-anchor="middle" class="w">1.68</text>
<text x="249.91" y="352.45" font-size="6.4" fill="#fff" text-anchor="middle" class="w">1.67</text>
<text x="263.36" y="352.45" font-size="6.4" fill="#fff" text-anchor="middle" class="w">1.73</text>
<text x="276.80" y="352.45" font-size="6.4" fill="#fff" text-anchor="middle" class="w">1.77</text>
<text x="290.24" y="352.45" font-size="6.4" fill="#222" text-anchor="middle" class="g">1.93</text>
<text x="303.69" y="352.45" font-size="6.4" fill="#222" text-anchor="middle" class="g">2.07</text>
<text x="317.13" y="352.45" font-size="6.4" fill="#222" text-anchor="middle" class="g">2.41</text>
<text x="330.58" y="352.45" font-size="6.4" fill="#fff" text-anchor="middle" class="w">2.87</text>
<text x="223.02" y="365.54" font-size="6.4" fill="#fff" text-anchor="middle" class="w">1.39</text>
<text x="236.47" y="365.54" font-size="6.4" fill="#fff" text-anchor="middle" class="w">1.52</text>
<text x="249.91" y="365.54" font-size="6.4" fill="#fff" text-anchor="middle" class="w">1.55</text>
<text x="263.36" y="365.54" font-size="6.4" fill="#fff" text-anchor="middle" class="w">1.58</text>
<text x="276.80" y="365.54" font-size="6.4" fill="#fff" text-anchor="middle" class="w">1.64</text>
<text x="290.24" y="365.54" font-size="6.4" fill="#fff" text-anchor="middle" class="w">1.74</text>
<text x="303.69" y="365.54" font-size="6.4" fill="#222" text-anchor="middle" class="g">1.89</text>
<text x="317.13" y="365.54" font-size="6.4" fill="#222" text-anchor="middle" class="g">2.15</text>
<text x="330.58" y="365.54" font-size="6.4" fill="#222" text-anchor="middle" class="g">2.41</text>
<text x="223.02" y="378.63" font-size="6.4" fill="#fff" text-anchor="middle" class="w">1.3</text>
<text x="236.47" y="378.63" font-size="6.4" fill="#fff" text-anchor="middle" class="w">1.38</text>
<text x="249.91" y="378.63" font-size="6.4" fill="#fff" text-anchor="middle" class="w">1.42</text>
<text x="263.36" y="378.63" font-size="6.4" fill="#fff" text-anchor="middle" class="w">1.42</text>
<text x="276.80" y="378.63" font-size="6.4" fill="#fff" text-anchor="middle" class="w">1.48</text>
<text x="290.24" y="378.63" font-size="6.4" fill="#fff" text-anchor="middle" class="w">1.56</text>
<text x="303.69" y="378.63" font-size="6.4" fill="#fff" text-anchor="middle" class="w">1.67</text>
<text x="317.13" y="378.63" font-size="6.4" fill="#222" text-anchor="middle" class="g">1.89</text>
<text x="330.58" y="378.63" font-size="6.4" fill="#222" text-anchor="middle" class="g">2.07</text>
<text x="223.02" y="391.72" font-size="6.4" fill="#fff" text-anchor="middle" class="w">1.26</text>
<text x="236.47" y="391.72" font-size="6.4" fill="#fff" text-anchor="middle" class="w">1.37</text>
<text x="249.91" y="391.72" font-size="6.4" fill="#fff" text-anchor="middle" class="w">1.37</text>
<text x="263.36" y="391.72" font-size="6.4" fill="#fff" text-anchor="middle" class="w">1.39</text>
<text x="276.80" y="391.72" font-size="6.4" fill="#fff" text-anchor="middle" class="w">1.42</text>
<text x="290.24" y="391.72" font-size="6.4" fill="#fff" text-anchor="middle" class="w">1.5</text>
<text x="303.69" y="391.72" font-size="6.4" fill="#fff" text-anchor="middle" class="w">1.56</text>
<text x="317.13" y="391.72" font-size="6.4" fill="#fff" text-anchor="middle" class="w">1.74</text>
<text x="330.58" y="391.72" font-size="6.4" fill="#222" text-anchor="middle" class="g">1.93</text>
<text x="223.02" y="404.80" font-size="6.4" fill="#fff" text-anchor="middle" class="w">1.21</text>
<text x="236.47" y="404.80" font-size="6.4" fill="#fff" text-anchor="middle" class="w">1.34</text>
<text x="249.91" y="404.80" font-size="6.4" fill="#fff" text-anchor="middle" class="w">1.33</text>
<text x="263.36" y="404.80" font-size="6.4" fill="#fff" text-anchor="middle" class="w">1.35</text>
<text x="276.80" y="404.80" font-size="6.4" fill="#fff" text-anchor="middle" class="w">1.35</text>
<text x="290.24" y="404.80" font-size="6.4" fill="#fff" text-anchor="middle" class="w">1.42</text>
<text x="303.69" y="404.80" font-size="6.4" fill="#fff" text-anchor="middle" class="w">1.48</text>
<text x="317.13" y="404.80" font-size="6.4" fill="#fff" text-anchor="middle" class="w">1.64</text>
<text x="330.58" y="404.80" font-size="6.4" fill="#fff" text-anchor="middle" class="w">1.77</text>
<text x="223.02" y="417.89" font-size="6.4" fill="#fff" text-anchor="middle" class="w">1.2</text>
<text x="236.47" y="417.89" font-size="6.4" fill="#fff" text-anchor="middle" class="w">1.37</text>
<text x="249.91" y="417.89" font-size="6.4" fill="#fff" text-anchor="middle" class="w">1.34</text>
<text x="263.36" y="417.89" font-size="6.4" fill="#fff" text-anchor="middle" class="w">1.34</text>
<text x="276.80" y="417.89" font-size="6.4" fill="#fff" text-anchor="middle" class="w">1.35</text>
<text x="290.24" y="417.89" font-size="6.4" fill="#fff" text-anchor="middle" class="w">1.39</text>
<text x="303.69" y="417.89" font-size="6.4" fill="#fff" text-anchor="middle" class="w">1.42</text>
<text x="317.13" y="417.89" font-size="6.4" fill="#fff" text-anchor="middle" class="w">1.58</text>
<text x="330.58" y="417.89" font-size="6.4" fill="#fff" text-anchor="middle" class="w">1.73</text>
<text x="223.02" y="430.98" font-size="6.4" fill="#fff" text-anchor="middle" class="w">1.18</text>
<text x="236.47" y="430.98" font-size="6.4" fill="#fff" text-anchor="middle" class="w">1.35</text>
<text x="249.91" y="430.98" font-size="6.4" fill="#fff" text-anchor="middle" class="w">1.35</text>
<text x="263.36" y="430.98" font-size="6.4" fill="#fff" text-anchor="middle" class="w">1.34</text>
<text x="276.80" y="430.98" font-size="6.4" fill="#fff" text-anchor="middle" class="w">1.33</text>
<text x="290.24" y="430.98" font-size="6.4" fill="#fff" text-anchor="middle" class="w">1.37</text>
<text x="303.69" y="430.98" font-size="6.4" fill="#fff" text-anchor="middle" class="w">1.42</text>
<text x="317.13" y="430.98" font-size="6.4" fill="#fff" text-anchor="middle" class="w">1.55</text>
<text x="330.58" y="430.98" font-size="6.4" fill="#fff" text-anchor="middle" class="w">1.67</text>
<text x="223.02" y="444.07" font-size="6.4" fill="#fff" text-anchor="middle" class="w">1.19</text>
<text x="236.47" y="444.07" font-size="6.4" fill="#fff" text-anchor="middle" class="w">1.38</text>
<text x="249.91" y="444.07" font-size="6.4" fill="#fff" text-anchor="middle" class="w">1.35</text>
<text x="263.36" y="444.07" font-size="6.4" fill="#fff" text-anchor="middle" class="w">1.37</text>
<text x="276.80" y="444.07" font-size="6.4" fill="#fff" text-anchor="middle" class="w">1.34</text>
<text x="290.24" y="444.07" font-size="6.4" fill="#fff" text-anchor="middle" class="w">1.37</text>
<text x="303.69" y="444.07" font-size="6.4" fill="#fff" text-anchor="middle" class="w">1.38</text>
<text x="317.13" y="444.07" font-size="6.4" fill="#fff" text-anchor="middle" class="w">1.52</text>
<text x="330.58" y="444.07" font-size="6.4" fill="#fff" text-anchor="middle" class="w">1.68</text>
<text x="223.02" y="457.16" font-size="6.4" fill="#fff" text-anchor="middle" class="w">1.17</text>
<text x="236.47" y="457.16" font-size="6.4" fill="#fff" text-anchor="middle" class="w">1.19</text>
<text x="249.91" y="457.16" font-size="6.4" fill="#fff" text-anchor="middle" class="w">1.18</text>
<text x="263.36" y="457.16" font-size="6.4" fill="#fff" text-anchor="middle" class="w">1.2</text>
<text x="276.80" y="457.16" font-size="6.4" fill="#fff" text-anchor="middle" class="w">1.21</text>
<text x="290.24" y="457.16" font-size="6.4" fill="#fff" text-anchor="middle" class="w">1.26</text>
<text x="303.69" y="457.16" font-size="6.4" fill="#fff" text-anchor="middle" class="w">1.3</text>
<text x="317.13" y="457.16" font-size="6.4" fill="#fff" text-anchor="middle" class="w">1.39</text>
<text x="330.58" y="457.16" font-size="6.4" fill="#fff" text-anchor="middle" class="w">1.51</text>
<polygon points="200.60,343.60 207.20,343.60 206.60,461.40" fill="#6b6b6b"/>
<polygon points="216.30,470.20 337.30,470.20 337.30,477.20" fill="#6b6b6b"/>
<text transform="translate(209.00,350.14) rotate(90)" font-size="8.6" text-anchor="middle">8</text>
<text transform="translate(209.00,363.23) rotate(90)" font-size="8.6" text-anchor="middle">7</text>
<text transform="translate(209.00,376.32) rotate(90)" font-size="8.6" text-anchor="middle">6</text>
<text transform="translate(209.00,389.41) rotate(90)" font-size="8.6" text-anchor="middle">5</text>
<text transform="translate(209.00,402.50) rotate(90)" font-size="8.6" text-anchor="middle">4</text>
<text transform="translate(209.00,415.59) rotate(90)" font-size="8.6" text-anchor="middle">3</text>
<text transform="translate(209.00,428.68) rotate(90)" font-size="8.6" text-anchor="middle">2</text>
<text transform="translate(209.00,441.77) rotate(90)" font-size="8.6" text-anchor="middle">1</text>
<text transform="translate(209.00,454.86) rotate(90)" font-size="8.6" text-anchor="middle">0</text>
<text x="223.02" y="468.50" font-size="8.6" text-anchor="middle">0</text>
<text x="236.47" y="468.50" font-size="8.6" text-anchor="middle">1</text>
<text x="249.91" y="468.50" font-size="8.6" text-anchor="middle">2</text>
<text x="263.36" y="468.50" font-size="8.6" text-anchor="middle">3</text>
<text x="276.80" y="468.50" font-size="8.6" text-anchor="middle">4</text>
<text x="290.24" y="468.50" font-size="8.6" text-anchor="middle">5</text>
<text x="303.69" y="468.50" font-size="8.6" text-anchor="middle">6</text>
<text x="317.13" y="468.50" font-size="8.6" text-anchor="middle">7</text>
<text x="330.58" y="468.50" font-size="8.6" text-anchor="middle">8</text>
<text x="276.80" y="483.20" font-size="8.1" text-anchor="middle">Enrichment level</text>
<text transform="translate(196.30,405.90) rotate(-90)" font-size="8.1" text-anchor="middle">Enrichment level</text>
<rect x="216.30" y="495.80" width="13.49" height="13.11" fill="#426cb0"/>
<rect x="229.74" y="495.80" width="13.49" height="13.11" fill="#8ec2dc"/>
<rect x="243.19" y="495.80" width="13.49" height="13.11" fill="#85bbd9"/>
<rect x="256.63" y="495.80" width="13.49" height="13.11" fill="#9fd0e4"/>
<rect x="270.08" y="495.80" width="13.49" height="13.11" fill="#aad8e9"/>
<rect x="283.52" y="495.80" width="13.49" height="13.11" fill="#e6f5ed"/>
<rect x="296.97" y="495.80" width="13.49" height="13.11" fill="#fff1aa"/>
<rect x="310.41" y="495.80" width="13.49" height="13.11" fill="#ee613e"/>
<rect x="323.86" y="495.80" width="13.49" height="13.11" fill="#a50026"/>
<rect x="216.30" y="508.86" width="13.49" height="13.11" fill="#313695"/>
<rect x="229.74" y="508.86" width="13.49" height="13.11" fill="#4574b3"/>
<rect x="243.19" y="508.86" width="13.49" height="13.11" fill="#5183bb"/>
<rect x="256.63" y="508.86" width="13.49" height="13.11" fill="#578abf"/>
<rect x="270.08" y="508.86" width="13.49" height="13.11" fill="#6ba2cb"/>
<rect x="283.52" y="508.86" width="13.49" height="13.11" fill="#94c7df"/>
<rect x="296.97" y="508.86" width="13.49" height="13.11" fill="#d6eef5"/>
<rect x="310.41" y="508.86" width="13.49" height="13.11" fill="#fee294"/>
<rect x="323.86" y="508.86" width="13.49" height="13.11" fill="#ee613e"/>
<rect x="216.30" y="521.91" width="13.49" height="13.11" fill="#313695"/>
<rect x="229.74" y="521.91" width="13.49" height="13.11" fill="#313695"/>
<rect x="243.19" y="521.91" width="13.49" height="13.11" fill="#333d99"/>
<rect x="256.63" y="521.91" width="13.49" height="13.11" fill="#333d99"/>
<rect x="270.08" y="521.91" width="13.49" height="13.11" fill="#3a51a2"/>
<rect x="283.52" y="521.91" width="13.49" height="13.11" fill="#4d7fb9"/>
<rect x="296.97" y="521.91" width="13.49" height="13.11" fill="#76afd2"/>
<rect x="310.41" y="521.91" width="13.49" height="13.11" fill="#d6eef5"/>
<rect x="323.86" y="521.91" width="13.49" height="13.11" fill="#fff1aa"/>
<rect x="216.30" y="534.97" width="13.49" height="13.11" fill="#313695"/>
<rect x="229.74" y="534.97" width="13.49" height="13.11" fill="#313695"/>
<rect x="243.19" y="534.97" width="13.49" height="13.11" fill="#313695"/>
<rect x="256.63" y="534.97" width="13.49" height="13.11" fill="#313695"/>
<rect x="270.08" y="534.97" width="13.49" height="13.11" fill="#313695"/>
<rect x="283.52" y="534.97" width="13.49" height="13.11" fill="#3d5ba7"/>
<rect x="296.97" y="534.97" width="13.49" height="13.11" fill="#4d7fb9"/>
<rect x="310.41" y="534.97" width="13.49" height="13.11" fill="#94c7df"/>
<rect x="323.86" y="534.97" width="13.49" height="13.11" fill="#e6f5ed"/>
<rect x="216.30" y="548.02" width="13.49" height="13.11" fill="#313695"/>
<rect x="229.74" y="548.02" width="13.49" height="13.11" fill="#313695"/>
<rect x="243.19" y="548.02" width="13.49" height="13.11" fill="#313695"/>
<rect x="256.63" y="548.02" width="13.49" height="13.11" fill="#313695"/>
<rect x="270.08" y="548.02" width="13.49" height="13.11" fill="#313695"/>
<rect x="283.52" y="548.02" width="13.49" height="13.11" fill="#313695"/>
<rect x="296.97" y="548.02" width="13.49" height="13.11" fill="#3a51a2"/>
<rect x="310.41" y="548.02" width="13.49" height="13.11" fill="#6ba2cb"/>
<rect x="323.86" y="548.02" width="13.49" height="13.11" fill="#aad8e9"/>
<rect x="216.30" y="561.08" width="13.49" height="13.11" fill="#313695"/>
<rect x="229.74" y="561.08" width="13.49" height="13.11" fill="#313695"/>
<rect x="243.19" y="561.08" width="13.49" height="13.11" fill="#313695"/>
<rect x="256.63" y="561.08" width="13.49" height="13.11" fill="#313695"/>
<rect x="270.08" y="561.08" width="13.49" height="13.11" fill="#313695"/>
<rect x="283.52" y="561.08" width="13.49" height="13.11" fill="#313695"/>
<rect x="296.97" y="561.08" width="13.49" height="13.11" fill="#333d99"/>
<rect x="310.41" y="561.08" width="13.49" height="13.11" fill="#578abf"/>
<rect x="323.86" y="561.08" width="13.49" height="13.11" fill="#9fd0e4"/>
<rect x="216.30" y="574.13" width="13.49" height="13.11" fill="#313695"/>
<rect x="229.74" y="574.13" width="13.49" height="13.11" fill="#313695"/>
<rect x="243.19" y="574.13" width="13.49" height="13.11" fill="#313695"/>
<rect x="256.63" y="574.13" width="13.49" height="13.11" fill="#313695"/>
<rect x="270.08" y="574.13" width="13.49" height="13.11" fill="#313695"/>
<rect x="283.52" y="574.13" width="13.49" height="13.11" fill="#313695"/>
<rect x="296.97" y="574.13" width="13.49" height="13.11" fill="#333d99"/>
<rect x="310.41" y="574.13" width="13.49" height="13.11" fill="#5183bb"/>
<rect x="323.86" y="574.13" width="13.49" height="13.11" fill="#85bbd9"/>
<rect x="216.30" y="587.19" width="13.49" height="13.11" fill="#313695"/>
<rect x="229.74" y="587.19" width="13.49" height="13.11" fill="#313695"/>
<rect x="243.19" y="587.19" width="13.49" height="13.11" fill="#313695"/>
<rect x="256.63" y="587.19" width="13.49" height="13.11" fill="#313695"/>
<rect x="270.08" y="587.19" width="13.49" height="13.11" fill="#313695"/>
<rect x="283.52" y="587.19" width="13.49" height="13.11" fill="#313695"/>
<rect x="296.97" y="587.19" width="13.49" height="13.11" fill="#313695"/>
<rect x="310.41" y="587.19" width="13.49" height="13.11" fill="#4574b3"/>
<rect x="323.86" y="587.19" width="13.49" height="13.11" fill="#8ec2dc"/>
<rect x="216.30" y="600.24" width="13.49" height="13.11" fill="#313695"/>
<rect x="229.74" y="600.24" width="13.49" height="13.11" fill="#313695"/>
<rect x="243.19" y="600.24" width="13.49" height="13.11" fill="#313695"/>
<rect x="256.63" y="600.24" width="13.49" height="13.11" fill="#313695"/>
<rect x="270.08" y="600.24" width="13.49" height="13.11" fill="#313695"/>
<rect x="283.52" y="600.24" width="13.49" height="13.11" fill="#313695"/>
<rect x="296.97" y="600.24" width="13.49" height="13.11" fill="#313695"/>
<rect x="310.41" y="600.24" width="13.49" height="13.11" fill="#313695"/>
<rect x="323.86" y="600.24" width="13.49" height="13.11" fill="#426cb0"/>
<text x="223.02" y="504.63" font-size="6.4" fill="#fff" text-anchor="middle" class="w">1.63</text>
<text x="236.47" y="504.63" font-size="6.4" fill="#222" text-anchor="middle" class="g">1.87</text>
<text x="249.91" y="504.63" font-size="6.4" fill="#222" text-anchor="middle" class="g">1.85</text>
<text x="263.36" y="504.63" font-size="6.4" fill="#222" text-anchor="middle" class="g">1.92</text>
<text x="276.80" y="504.63" font-size="6.4" fill="#222" text-anchor="middle" class="g">1.95</text>
<text x="290.24" y="504.63" font-size="6.4" fill="#222" text-anchor="middle" class="g">2.13</text>
<text x="303.69" y="504.63" font-size="6.4" fill="#222" text-anchor="middle" class="g">2.32</text>
<text x="317.13" y="504.63" font-size="6.4" fill="#fff" text-anchor="middle" class="w">2.73</text>
<text x="330.58" y="504.63" font-size="6.4" fill="#fff" text-anchor="middle" class="w">3.3</text>
<text x="223.02" y="517.69" font-size="6.4" fill="#fff" text-anchor="middle" class="w">1.48</text>
<text x="236.47" y="517.69" font-size="6.4" fill="#fff" text-anchor="middle" class="w">1.65</text>
<text x="249.91" y="517.69" font-size="6.4" fill="#fff" text-anchor="middle" class="w">1.69</text>
<text x="263.36" y="517.69" font-size="6.4" fill="#fff" text-anchor="middle" class="w">1.71</text>
<text x="276.80" y="517.69" font-size="6.4" fill="#fff" text-anchor="middle" class="w">1.77</text>
<text x="290.24" y="517.69" font-size="6.4" fill="#222" text-anchor="middle" class="g">1.89</text>
<text x="303.69" y="517.69" font-size="6.4" fill="#222" text-anchor="middle" class="g">2.07</text>
<text x="317.13" y="517.69" font-size="6.4" fill="#222" text-anchor="middle" class="g">2.39</text>
<text x="330.58" y="517.69" font-size="6.4" fill="#fff" text-anchor="middle" class="w">2.73</text>
<text x="223.02" y="530.74" font-size="6.4" fill="#fff" text-anchor="middle" class="w">1.35</text>
<text x="236.47" y="530.74" font-size="6.4" fill="#fff" text-anchor="middle" class="w">1.49</text>
<text x="249.91" y="530.74" font-size="6.4" fill="#fff" text-anchor="middle" class="w">1.52</text>
<text x="263.36" y="530.74" font-size="6.4" fill="#fff" text-anchor="middle" class="w">1.52</text>
<text x="276.80" y="530.74" font-size="6.4" fill="#fff" text-anchor="middle" class="w">1.57</text>
<text x="290.24" y="530.74" font-size="6.4" fill="#fff" text-anchor="middle" class="w">1.68</text>
<text x="303.69" y="530.74" font-size="6.4" fill="#fff" text-anchor="middle" class="w">1.81</text>
<text x="317.13" y="530.74" font-size="6.4" fill="#222" text-anchor="middle" class="g">2.07</text>
<text x="330.58" y="530.74" font-size="6.4" fill="#222" text-anchor="middle" class="g">2.32</text>
<text x="223.02" y="543.80" font-size="6.4" fill="#fff" text-anchor="middle" class="w">1.29</text>
<text x="236.47" y="543.80" font-size="6.4" fill="#fff" text-anchor="middle" class="w">1.45</text>
<text x="249.91" y="543.80" font-size="6.4" fill="#fff" text-anchor="middle" class="w">1.45</text>
<text x="263.36" y="543.80" font-size="6.4" fill="#fff" text-anchor="middle" class="w">1.47</text>
<text x="276.80" y="543.80" font-size="6.4" fill="#fff" text-anchor="middle" class="w">1.49</text>
<text x="290.24" y="543.80" font-size="6.4" fill="#fff" text-anchor="middle" class="w">1.59</text>
<text x="303.69" y="543.80" font-size="6.4" fill="#fff" text-anchor="middle" class="w">1.68</text>
<text x="317.13" y="543.80" font-size="6.4" fill="#222" text-anchor="middle" class="g">1.89</text>
<text x="330.58" y="543.80" font-size="6.4" fill="#222" text-anchor="middle" class="g">2.13</text>
<text x="223.02" y="556.85" font-size="6.4" fill="#fff" text-anchor="middle" class="w">1.25</text>
<text x="236.47" y="556.85" font-size="6.4" fill="#fff" text-anchor="middle" class="w">1.42</text>
<text x="249.91" y="556.85" font-size="6.4" fill="#fff" text-anchor="middle" class="w">1.41</text>
<text x="263.36" y="556.85" font-size="6.4" fill="#fff" text-anchor="middle" class="w">1.42</text>
<text x="276.80" y="556.85" font-size="6.4" fill="#fff" text-anchor="middle" class="w">1.42</text>
<text x="290.24" y="556.85" font-size="6.4" fill="#fff" text-anchor="middle" class="w">1.49</text>
<text x="303.69" y="556.85" font-size="6.4" fill="#fff" text-anchor="middle" class="w">1.57</text>
<text x="317.13" y="556.85" font-size="6.4" fill="#fff" text-anchor="middle" class="w">1.77</text>
<text x="330.58" y="556.85" font-size="6.4" fill="#222" text-anchor="middle" class="g">1.95</text>
<text x="223.02" y="569.91" font-size="6.4" fill="#fff" text-anchor="middle" class="w">1.23</text>
<text x="236.47" y="569.91" font-size="6.4" fill="#fff" text-anchor="middle" class="w">1.47</text>
<text x="249.91" y="569.91" font-size="6.4" fill="#fff" text-anchor="middle" class="w">1.43</text>
<text x="263.36" y="569.91" font-size="6.4" fill="#fff" text-anchor="middle" class="w">1.41</text>
<text x="276.80" y="569.91" font-size="6.4" fill="#fff" text-anchor="middle" class="w">1.42</text>
<text x="290.24" y="569.91" font-size="6.4" fill="#fff" text-anchor="middle" class="w">1.47</text>
<text x="303.69" y="569.91" font-size="6.4" fill="#fff" text-anchor="middle" class="w">1.52</text>
<text x="317.13" y="569.91" font-size="6.4" fill="#fff" text-anchor="middle" class="w">1.71</text>
<text x="330.58" y="569.91" font-size="6.4" fill="#222" text-anchor="middle" class="g">1.92</text>
<text x="223.02" y="582.97" font-size="6.4" fill="#fff" text-anchor="middle" class="w">1.21</text>
<text x="236.47" y="582.97" font-size="6.4" fill="#fff" text-anchor="middle" class="w">1.45</text>
<text x="249.91" y="582.97" font-size="6.4" fill="#fff" text-anchor="middle" class="w">1.44</text>
<text x="263.36" y="582.97" font-size="6.4" fill="#fff" text-anchor="middle" class="w">1.43</text>
<text x="276.80" y="582.97" font-size="6.4" fill="#fff" text-anchor="middle" class="w">1.41</text>
<text x="290.24" y="582.97" font-size="6.4" fill="#fff" text-anchor="middle" class="w">1.45</text>
<text x="303.69" y="582.97" font-size="6.4" fill="#fff" text-anchor="middle" class="w">1.52</text>
<text x="317.13" y="582.97" font-size="6.4" fill="#fff" text-anchor="middle" class="w">1.69</text>
<text x="330.58" y="582.97" font-size="6.4" fill="#222" text-anchor="middle" class="g">1.85</text>
<text x="223.02" y="596.02" font-size="6.4" fill="#fff" text-anchor="middle" class="w">1.24</text>
<text x="236.47" y="596.02" font-size="6.4" fill="#fff" text-anchor="middle" class="w">1.49</text>
<text x="249.91" y="596.02" font-size="6.4" fill="#fff" text-anchor="middle" class="w">1.45</text>
<text x="263.36" y="596.02" font-size="6.4" fill="#fff" text-anchor="middle" class="w">1.47</text>
<text x="276.80" y="596.02" font-size="6.4" fill="#fff" text-anchor="middle" class="w">1.42</text>
<text x="290.24" y="596.02" font-size="6.4" fill="#fff" text-anchor="middle" class="w">1.45</text>
<text x="303.69" y="596.02" font-size="6.4" fill="#fff" text-anchor="middle" class="w">1.49</text>
<text x="317.13" y="596.02" font-size="6.4" fill="#fff" text-anchor="middle" class="w">1.65</text>
<text x="330.58" y="596.02" font-size="6.4" fill="#222" text-anchor="middle" class="g">1.87</text>
<text x="223.02" y="609.08" font-size="6.4" fill="#fff" text-anchor="middle" class="w">1.16</text>
<text x="236.47" y="609.08" font-size="6.4" fill="#fff" text-anchor="middle" class="w">1.24</text>
<text x="249.91" y="609.08" font-size="6.4" fill="#fff" text-anchor="middle" class="w">1.21</text>
<text x="263.36" y="609.08" font-size="6.4" fill="#fff" text-anchor="middle" class="w">1.23</text>
<text x="276.80" y="609.08" font-size="6.4" fill="#fff" text-anchor="middle" class="w">1.25</text>
<text x="290.24" y="609.08" font-size="6.4" fill="#fff" text-anchor="middle" class="w">1.29</text>
<text x="303.69" y="609.08" font-size="6.4" fill="#fff" text-anchor="middle" class="w">1.35</text>
<text x="317.13" y="609.08" font-size="6.4" fill="#fff" text-anchor="middle" class="w">1.48</text>
<text x="330.58" y="609.08" font-size="6.4" fill="#fff" text-anchor="middle" class="w">1.63</text>
<polygon points="200.60,495.80 207.20,495.80 206.60,613.30" fill="#6b6b6b"/>
<polygon points="216.30,622.10 337.30,622.10 337.30,629.10" fill="#6b6b6b"/>
<text transform="translate(209.00,502.33) rotate(90)" font-size="8.6" text-anchor="middle">8</text>
<text transform="translate(209.00,515.38) rotate(90)" font-size="8.6" text-anchor="middle">7</text>
<text transform="translate(209.00,528.44) rotate(90)" font-size="8.6" text-anchor="middle">6</text>
<text transform="translate(209.00,541.49) rotate(90)" font-size="8.6" text-anchor="middle">5</text>
<text transform="translate(209.00,554.55) rotate(90)" font-size="8.6" text-anchor="middle">4</text>
<text transform="translate(209.00,567.61) rotate(90)" font-size="8.6" text-anchor="middle">3</text>
<text transform="translate(209.00,580.66) rotate(90)" font-size="8.6" text-anchor="middle">2</text>
<text transform="translate(209.00,593.72) rotate(90)" font-size="8.6" text-anchor="middle">1</text>
<text transform="translate(209.00,606.77) rotate(90)" font-size="8.6" text-anchor="middle">0</text>
<text x="223.02" y="620.40" font-size="8.6" text-anchor="middle">0</text>
<text x="236.47" y="620.40" font-size="8.6" text-anchor="middle">1</text>
<text x="249.91" y="620.40" font-size="8.6" text-anchor="middle">2</text>
<text x="263.36" y="620.40" font-size="8.6" text-anchor="middle">3</text>
<text x="276.80" y="620.40" font-size="8.6" text-anchor="middle">4</text>
<text x="290.24" y="620.40" font-size="8.6" text-anchor="middle">5</text>
<text x="303.69" y="620.40" font-size="8.6" text-anchor="middle">6</text>
<text x="317.13" y="620.40" font-size="8.6" text-anchor="middle">7</text>
<text x="330.58" y="620.40" font-size="8.6" text-anchor="middle">8</text>
<text x="276.80" y="635.10" font-size="8.1" text-anchor="middle">Enrichment level</text>
<text transform="translate(196.30,557.95) rotate(-90)" font-size="8.1" text-anchor="middle">Enrichment level</text>
<defs><linearGradient id="cb241" x1="0" y1="0" x2="1" y2="0"><stop offset="0.00" stop-color="#313695"/><stop offset="0.10" stop-color="#4574b3"/><stop offset="0.20" stop-color="#74add1"/><stop offset="0.30" stop-color="#aad8e9"/><stop offset="0.40" stop-color="#e0f3f8"/><stop offset="0.50" stop-color="#fffebf"/><stop offset="0.60" stop-color="#fee090"/><stop offset="0.70" stop-color="#fdad60"/><stop offset="0.80" stop-color="#f46d43"/><stop offset="0.90" stop-color="#d62f27"/><stop offset="1.00" stop-color="#a50026"/></linearGradient></defs>
<rect x="241.00" y="650.90" width="70.60" height="5.20" fill="url(#cb241)"/>
<text x="241.00" y="665.40" font-size="8.1">1.5</text>
<text x="311.60" y="665.40" font-size="8.1" text-anchor="end">3.0</text>
<text x="277.30" y="673.60" font-size="8.1" text-anchor="middle">Observed/expected</text>
<text x="442.30" y="334.00" font-size="9.0" text-anchor="middle">POLR2A</text>
<rect x="381.60" y="343.60" width="13.49" height="13.14" fill="#313695"/>
<rect x="395.04" y="343.60" width="13.49" height="13.14" fill="#8abeda"/>
<rect x="408.49" y="343.60" width="13.49" height="13.14" fill="#8abeda"/>
<rect x="421.93" y="343.60" width="13.49" height="13.14" fill="#9fd0e4"/>
<rect x="435.38" y="343.60" width="13.49" height="13.14" fill="#94c7df"/>
<rect x="448.82" y="343.60" width="13.49" height="13.14" fill="#d6eef5"/>
<rect x="462.27" y="343.60" width="13.49" height="13.14" fill="#ecf8e2"/>
<rect x="475.71" y="343.60" width="13.49" height="13.14" fill="#fed687"/>
<rect x="489.16" y="343.60" width="13.49" height="13.14" fill="#f99355"/>
<rect x="381.60" y="356.69" width="13.49" height="13.14" fill="#313695"/>
<rect x="395.04" y="356.69" width="13.49" height="13.14" fill="#b4deec"/>
<rect x="408.49" y="356.69" width="13.49" height="13.14" fill="#8abeda"/>
<rect x="421.93" y="356.69" width="13.49" height="13.14" fill="#94c7df"/>
<rect x="435.38" y="356.69" width="13.49" height="13.14" fill="#aad8e9"/>
<rect x="448.82" y="356.69" width="13.49" height="13.14" fill="#d6eef5"/>
<rect x="462.27" y="356.69" width="13.49" height="13.14" fill="#f8fccc"/>
<rect x="475.71" y="356.69" width="13.49" height="13.14" fill="#fee699"/>
<rect x="489.16" y="356.69" width="13.49" height="13.14" fill="#fed687"/>
<rect x="381.60" y="369.78" width="13.49" height="13.14" fill="#313695"/>
<rect x="395.04" y="369.78" width="13.49" height="13.14" fill="#6ba2cb"/>
<rect x="408.49" y="369.78" width="13.49" height="13.14" fill="#74add1"/>
<rect x="421.93" y="369.78" width="13.49" height="13.14" fill="#8abeda"/>
<rect x="435.38" y="369.78" width="13.49" height="13.14" fill="#9fd0e4"/>
<rect x="448.82" y="369.78" width="13.49" height="13.14" fill="#c1e4ef"/>
<rect x="462.27" y="369.78" width="13.49" height="13.14" fill="#cbe9f2"/>
<rect x="475.71" y="369.78" width="13.49" height="13.14" fill="#f8fccc"/>
<rect x="489.16" y="369.78" width="13.49" height="13.14" fill="#ecf8e2"/>
<rect x="381.60" y="382.87" width="13.49" height="13.14" fill="#313695"/>
<rect x="395.04" y="382.87" width="13.49" height="13.14" fill="#8abeda"/>
<rect x="408.49" y="382.87" width="13.49" height="13.14" fill="#74add1"/>
<rect x="421.93" y="382.87" width="13.49" height="13.14" fill="#8abeda"/>
<rect x="435.38" y="382.87" width="13.49" height="13.14" fill="#9fd0e4"/>
<rect x="448.82" y="382.87" width="13.49" height="13.14" fill="#aad8e9"/>
<rect x="462.27" y="382.87" width="13.49" height="13.14" fill="#c1e4ef"/>
<rect x="475.71" y="382.87" width="13.49" height="13.14" fill="#d6eef5"/>
<rect x="489.16" y="382.87" width="13.49" height="13.14" fill="#d6eef5"/>
<rect x="381.60" y="395.96" width="13.49" height="13.14" fill="#313695"/>
<rect x="395.04" y="395.96" width="13.49" height="13.14" fill="#74add1"/>
<rect x="408.49" y="395.96" width="13.49" height="13.14" fill="#6ba2cb"/>
<rect x="421.93" y="395.96" width="13.49" height="13.14" fill="#74add1"/>
<rect x="435.38" y="395.96" width="13.49" height="13.14" fill="#8abeda"/>
<rect x="448.82" y="395.96" width="13.49" height="13.14" fill="#9fd0e4"/>
<rect x="462.27" y="395.96" width="13.49" height="13.14" fill="#9fd0e4"/>
<rect x="475.71" y="395.96" width="13.49" height="13.14" fill="#aad8e9"/>
<rect x="489.16" y="395.96" width="13.49" height="13.14" fill="#94c7df"/>
<rect x="381.60" y="409.04" width="13.49" height="13.14" fill="#313695"/>
<rect x="395.04" y="409.04" width="13.49" height="13.14" fill="#4d7fb9"/>
<rect x="408.49" y="409.04" width="13.49" height="13.14" fill="#6095c4"/>
<rect x="421.93" y="409.04" width="13.49" height="13.14" fill="#7fb6d6"/>
<rect x="435.38" y="409.04" width="13.49" height="13.14" fill="#74add1"/>
<rect x="448.82" y="409.04" width="13.49" height="13.14" fill="#8abeda"/>
<rect x="462.27" y="409.04" width="13.49" height="13.14" fill="#8abeda"/>
<rect x="475.71" y="409.04" width="13.49" height="13.14" fill="#94c7df"/>
<rect x="489.16" y="409.04" width="13.49" height="13.14" fill="#9fd0e4"/>
<rect x="381.60" y="422.13" width="13.49" height="13.14" fill="#313695"/>
<rect x="395.04" y="422.13" width="13.49" height="13.14" fill="#4d7fb9"/>
<rect x="408.49" y="422.13" width="13.49" height="13.14" fill="#6095c4"/>
<rect x="421.93" y="422.13" width="13.49" height="13.14" fill="#6095c4"/>
<rect x="435.38" y="422.13" width="13.49" height="13.14" fill="#6ba2cb"/>
<rect x="448.82" y="422.13" width="13.49" height="13.14" fill="#74add1"/>
<rect x="462.27" y="422.13" width="13.49" height="13.14" fill="#74add1"/>
<rect x="475.71" y="422.13" width="13.49" height="13.14" fill="#8abeda"/>
<rect x="489.16" y="422.13" width="13.49" height="13.14" fill="#8abeda"/>
<rect x="381.60" y="435.22" width="13.49" height="13.14" fill="#313695"/>
<rect x="395.04" y="435.22" width="13.49" height="13.14" fill="#35429b"/>
<rect x="408.49" y="435.22" width="13.49" height="13.14" fill="#4d7fb9"/>
<rect x="421.93" y="435.22" width="13.49" height="13.14" fill="#4d7fb9"/>
<rect x="435.38" y="435.22" width="13.49" height="13.14" fill="#74add1"/>
<rect x="448.82" y="435.22" width="13.49" height="13.14" fill="#8abeda"/>
<rect x="462.27" y="435.22" width="13.49" height="13.14" fill="#6ba2cb"/>
<rect x="475.71" y="435.22" width="13.49" height="13.14" fill="#aad8e9"/>
<rect x="489.16" y="435.22" width="13.49" height="13.14" fill="#8abeda"/>
<rect x="381.60" y="448.31" width="13.49" height="13.14" fill="#313695"/>
<rect x="395.04" y="448.31" width="13.49" height="13.14" fill="#313695"/>
<rect x="408.49" y="448.31" width="13.49" height="13.14" fill="#313695"/>
<rect x="421.93" y="448.31" width="13.49" height="13.14" fill="#313695"/>
<rect x="435.38" y="448.31" width="13.49" height="13.14" fill="#313695"/>
<rect x="448.82" y="448.31" width="13.49" height="13.14" fill="#313695"/>
<rect x="462.27" y="448.31" width="13.49" height="13.14" fill="#313695"/>
<rect x="475.71" y="448.31" width="13.49" height="13.14" fill="#313695"/>
<rect x="489.16" y="448.31" width="13.49" height="13.14" fill="#313695"/>
<text x="388.32" y="352.45" font-size="6.4" fill="#fff" text-anchor="middle" class="w">1.12</text>
<text x="401.77" y="352.45" font-size="6.4" fill="#222" text-anchor="middle" class="g">1.32</text>
<text x="415.21" y="352.45" font-size="6.4" fill="#222" text-anchor="middle" class="g">1.32</text>
<text x="428.66" y="352.45" font-size="6.4" fill="#222" text-anchor="middle" class="g">1.34</text>
<text x="442.10" y="352.45" font-size="6.4" fill="#222" text-anchor="middle" class="g">1.33</text>
<text x="455.54" y="352.45" font-size="6.4" fill="#222" text-anchor="middle" class="g">1.39</text>
<text x="468.99" y="352.45" font-size="6.4" fill="#222" text-anchor="middle" class="g">1.42</text>
<text x="482.43" y="352.45" font-size="6.4" fill="#222" text-anchor="middle" class="g">1.51</text>
<text x="495.88" y="352.45" font-size="6.4" fill="#222" text-anchor="middle" class="g">1.57</text>
<text x="388.32" y="365.54" font-size="6.4" fill="#fff" text-anchor="middle" class="w">1.14</text>
<text x="401.77" y="365.54" font-size="6.4" fill="#222" text-anchor="middle" class="g">1.36</text>
<text x="415.21" y="365.54" font-size="6.4" fill="#222" text-anchor="middle" class="g">1.32</text>
<text x="428.66" y="365.54" font-size="6.4" fill="#222" text-anchor="middle" class="g">1.33</text>
<text x="442.10" y="365.54" font-size="6.4" fill="#222" text-anchor="middle" class="g">1.35</text>
<text x="455.54" y="365.54" font-size="6.4" fill="#222" text-anchor="middle" class="g">1.39</text>
<text x="468.99" y="365.54" font-size="6.4" fill="#222" text-anchor="middle" class="g">1.44</text>
<text x="482.43" y="365.54" font-size="6.4" fill="#222" text-anchor="middle" class="g">1.49</text>
<text x="495.88" y="365.54" font-size="6.4" fill="#222" text-anchor="middle" class="g">1.51</text>
<text x="388.32" y="378.63" font-size="6.4" fill="#fff" text-anchor="middle" class="w">1.11</text>
<text x="401.77" y="378.63" font-size="6.4" fill="#fff" text-anchor="middle" class="w">1.29</text>
<text x="415.21" y="378.63" font-size="6.4" fill="#fff" text-anchor="middle" class="w">1.3</text>
<text x="428.66" y="378.63" font-size="6.4" fill="#222" text-anchor="middle" class="g">1.32</text>
<text x="442.10" y="378.63" font-size="6.4" fill="#222" text-anchor="middle" class="g">1.34</text>
<text x="455.54" y="378.63" font-size="6.4" fill="#222" text-anchor="middle" class="g">1.37</text>
<text x="468.99" y="378.63" font-size="6.4" fill="#222" text-anchor="middle" class="g">1.38</text>
<text x="482.43" y="378.63" font-size="6.4" fill="#222" text-anchor="middle" class="g">1.44</text>
<text x="495.88" y="378.63" font-size="6.4" fill="#222" text-anchor="middle" class="g">1.42</text>
<text x="388.32" y="391.72" font-size="6.4" fill="#fff" text-anchor="middle" class="w">1.13</text>
<text x="401.77" y="391.72" font-size="6.4" fill="#222" text-anchor="middle" class="g">1.32</text>
<text x="415.21" y="391.72" font-size="6.4" fill="#fff" text-anchor="middle" class="w">1.3</text>
<text x="428.66" y="391.72" font-size="6.4" fill="#222" text-anchor="middle" class="g">1.32</text>
<text x="442.10" y="391.72" font-size="6.4" fill="#222" text-anchor="middle" class="g">1.34</text>
<text x="455.54" y="391.72" font-size="6.4" fill="#222" text-anchor="middle" class="g">1.35</text>
<text x="468.99" y="391.72" font-size="6.4" fill="#222" text-anchor="middle" class="g">1.37</text>
<text x="482.43" y="391.72" font-size="6.4" fill="#222" text-anchor="middle" class="g">1.39</text>
<text x="495.88" y="391.72" font-size="6.4" fill="#222" text-anchor="middle" class="g">1.39</text>
<text x="388.32" y="404.80" font-size="6.4" fill="#fff" text-anchor="middle" class="w">1.14</text>
<text x="401.77" y="404.80" font-size="6.4" fill="#fff" text-anchor="middle" class="w">1.3</text>
<text x="415.21" y="404.80" font-size="6.4" fill="#fff" text-anchor="middle" class="w">1.29</text>
<text x="428.66" y="404.80" font-size="6.4" fill="#fff" text-anchor="middle" class="w">1.3</text>
<text x="442.10" y="404.80" font-size="6.4" fill="#222" text-anchor="middle" class="g">1.32</text>
<text x="455.54" y="404.80" font-size="6.4" fill="#222" text-anchor="middle" class="g">1.34</text>
<text x="468.99" y="404.80" font-size="6.4" fill="#222" text-anchor="middle" class="g">1.34</text>
<text x="482.43" y="404.80" font-size="6.4" fill="#222" text-anchor="middle" class="g">1.35</text>
<text x="495.88" y="404.80" font-size="6.4" fill="#222" text-anchor="middle" class="g">1.33</text>
<text x="388.32" y="417.89" font-size="6.4" fill="#fff" text-anchor="middle" class="w">1.13</text>
<text x="401.77" y="417.89" font-size="6.4" fill="#fff" text-anchor="middle" class="w">1.26</text>
<text x="415.21" y="417.89" font-size="6.4" fill="#fff" text-anchor="middle" class="w">1.28</text>
<text x="428.66" y="417.89" font-size="6.4" fill="#222" text-anchor="middle" class="g">1.31</text>
<text x="442.10" y="417.89" font-size="6.4" fill="#fff" text-anchor="middle" class="w">1.3</text>
<text x="455.54" y="417.89" font-size="6.4" fill="#222" text-anchor="middle" class="g">1.32</text>
<text x="468.99" y="417.89" font-size="6.4" fill="#222" text-anchor="middle" class="g">1.32</text>
<text x="482.43" y="417.89" font-size="6.4" fill="#222" text-anchor="middle" class="g">1.33</text>
<text x="495.88" y="417.89" font-size="6.4" fill="#222" text-anchor="middle" class="g">1.34</text>
<text x="388.32" y="430.98" font-size="6.4" fill="#fff" text-anchor="middle" class="w">1.13</text>
<text x="401.77" y="430.98" font-size="6.4" fill="#fff" text-anchor="middle" class="w">1.26</text>
<text x="415.21" y="430.98" font-size="6.4" fill="#fff" text-anchor="middle" class="w">1.28</text>
<text x="428.66" y="430.98" font-size="6.4" fill="#fff" text-anchor="middle" class="w">1.28</text>
<text x="442.10" y="430.98" font-size="6.4" fill="#fff" text-anchor="middle" class="w">1.29</text>
<text x="455.54" y="430.98" font-size="6.4" fill="#fff" text-anchor="middle" class="w">1.3</text>
<text x="468.99" y="430.98" font-size="6.4" fill="#fff" text-anchor="middle" class="w">1.3</text>
<text x="482.43" y="430.98" font-size="6.4" fill="#222" text-anchor="middle" class="g">1.32</text>
<text x="495.88" y="430.98" font-size="6.4" fill="#222" text-anchor="middle" class="g">1.32</text>
<text x="388.32" y="444.07" font-size="6.4" fill="#fff" text-anchor="middle" class="w">1.16</text>
<text x="401.77" y="444.07" font-size="6.4" fill="#fff" text-anchor="middle" class="w">1.21</text>
<text x="415.21" y="444.07" font-size="6.4" fill="#fff" text-anchor="middle" class="w">1.26</text>
<text x="428.66" y="444.07" font-size="6.4" fill="#fff" text-anchor="middle" class="w">1.26</text>
<text x="442.10" y="444.07" font-size="6.4" fill="#fff" text-anchor="middle" class="w">1.3</text>
<text x="455.54" y="444.07" font-size="6.4" fill="#222" text-anchor="middle" class="g">1.32</text>
<text x="468.99" y="444.07" font-size="6.4" fill="#fff" text-anchor="middle" class="w">1.29</text>
<text x="482.43" y="444.07" font-size="6.4" fill="#222" text-anchor="middle" class="g">1.35</text>
<text x="495.88" y="444.07" font-size="6.4" fill="#222" text-anchor="middle" class="g">1.32</text>
<text x="388.32" y="457.16" font-size="6.4" fill="#fff" text-anchor="middle" class="w">1.15</text>
<text x="401.77" y="457.16" font-size="6.4" fill="#fff" text-anchor="middle" class="w">1.16</text>
<text x="415.21" y="457.16" font-size="6.4" fill="#fff" text-anchor="middle" class="w">1.13</text>
<text x="428.66" y="457.16" font-size="6.4" fill="#fff" text-anchor="middle" class="w">1.13</text>
<text x="442.10" y="457.16" font-size="6.4" fill="#fff" text-anchor="middle" class="w">1.14</text>
<text x="455.54" y="457.16" font-size="6.4" fill="#fff" text-anchor="middle" class="w">1.13</text>
<text x="468.99" y="457.16" font-size="6.4" fill="#fff" text-anchor="middle" class="w">1.11</text>
<text x="482.43" y="457.16" font-size="6.4" fill="#fff" text-anchor="middle" class="w">1.14</text>
<text x="495.88" y="457.16" font-size="6.4" fill="#fff" text-anchor="middle" class="w">1.12</text>
<polygon points="365.90,343.60 372.50,343.60 371.90,461.40" fill="#6b6b6b"/>
<polygon points="381.60,470.20 502.60,470.20 502.60,477.20" fill="#6b6b6b"/>
<text transform="translate(374.30,350.14) rotate(90)" font-size="8.6" text-anchor="middle">8</text>
<text transform="translate(374.30,363.23) rotate(90)" font-size="8.6" text-anchor="middle">7</text>
<text transform="translate(374.30,376.32) rotate(90)" font-size="8.6" text-anchor="middle">6</text>
<text transform="translate(374.30,389.41) rotate(90)" font-size="8.6" text-anchor="middle">5</text>
<text transform="translate(374.30,402.50) rotate(90)" font-size="8.6" text-anchor="middle">4</text>
<text transform="translate(374.30,415.59) rotate(90)" font-size="8.6" text-anchor="middle">3</text>
<text transform="translate(374.30,428.68) rotate(90)" font-size="8.6" text-anchor="middle">2</text>
<text transform="translate(374.30,441.77) rotate(90)" font-size="8.6" text-anchor="middle">1</text>
<text transform="translate(374.30,454.86) rotate(90)" font-size="8.6" text-anchor="middle">0</text>
<text x="388.32" y="468.50" font-size="8.6" text-anchor="middle">0</text>
<text x="401.77" y="468.50" font-size="8.6" text-anchor="middle">1</text>
<text x="415.21" y="468.50" font-size="8.6" text-anchor="middle">2</text>
<text x="428.66" y="468.50" font-size="8.6" text-anchor="middle">3</text>
<text x="442.10" y="468.50" font-size="8.6" text-anchor="middle">4</text>
<text x="455.54" y="468.50" font-size="8.6" text-anchor="middle">5</text>
<text x="468.99" y="468.50" font-size="8.6" text-anchor="middle">6</text>
<text x="482.43" y="468.50" font-size="8.6" text-anchor="middle">7</text>
<text x="495.88" y="468.50" font-size="8.6" text-anchor="middle">8</text>
<text x="442.10" y="483.20" font-size="8.1" text-anchor="middle">Enrichment level</text>
<text transform="translate(361.60,405.90) rotate(-90)" font-size="8.1" text-anchor="middle">Enrichment level</text>
<rect x="381.60" y="495.80" width="13.49" height="13.11" fill="#394fa1"/>
<rect x="395.04" y="495.80" width="13.49" height="13.11" fill="#b4deec"/>
<rect x="408.49" y="495.80" width="13.49" height="13.11" fill="#c1e4ef"/>
<rect x="421.93" y="495.80" width="13.49" height="13.11" fill="#e6f5ed"/>
<rect x="435.38" y="495.80" width="13.49" height="13.11" fill="#d6eef5"/>
<rect x="448.82" y="495.80" width="13.49" height="13.11" fill="#feeca3"/>
<rect x="462.27" y="495.80" width="13.49" height="13.11" fill="#fdc374"/>
<rect x="475.71" y="495.80" width="13.49" height="13.11" fill="#b91326"/>
<rect x="489.16" y="495.80" width="13.49" height="13.11" fill="#a50026"/>
<rect x="381.60" y="508.86" width="13.49" height="13.11" fill="#3d5ba7"/>
<rect x="395.04" y="508.86" width="13.49" height="13.11" fill="#aad8e9"/>
<rect x="408.49" y="508.86" width="13.49" height="13.11" fill="#9fd0e4"/>
<rect x="421.93" y="508.86" width="13.49" height="13.11" fill="#b4deec"/>
<rect x="435.38" y="508.86" width="13.49" height="13.11" fill="#d6eef5"/>
<rect x="448.82" y="508.86" width="13.49" height="13.11" fill="#fff8b6"/>
<rect x="462.27" y="508.86" width="13.49" height="13.11" fill="#fdc374"/>
<rect x="475.71" y="508.86" width="13.49" height="13.11" fill="#e24731"/>
<rect x="489.16" y="508.86" width="13.49" height="13.11" fill="#b91326"/>
<rect x="381.60" y="521.91" width="13.49" height="13.11" fill="#313695"/>
<rect x="395.04" y="521.91" width="13.49" height="13.11" fill="#6095c4"/>
<rect x="408.49" y="521.91" width="13.49" height="13.11" fill="#6ba2cb"/>
<rect x="421.93" y="521.91" width="13.49" height="13.11" fill="#94c7df"/>
<rect x="435.38" y="521.91" width="13.49" height="13.11" fill="#aad8e9"/>
<rect x="448.82" y="521.91" width="13.49" height="13.11" fill="#e0f3f8"/>
<rect x="462.27" y="521.91" width="13.49" height="13.11" fill="#f8fccc"/>
<rect x="475.71" y="521.91" width="13.49" height="13.11" fill="#fdc374"/>
<rect x="489.16" y="521.91" width="13.49" height="13.11" fill="#fdc374"/>
<rect x="381.60" y="534.97" width="13.49" height="13.11" fill="#313695"/>
<rect x="395.04" y="534.97" width="13.49" height="13.11" fill="#578abf"/>
<rect x="408.49" y="534.97" width="13.49" height="13.11" fill="#6095c4"/>
<rect x="421.93" y="534.97" width="13.49" height="13.11" fill="#74add1"/>
<rect x="435.38" y="534.97" width="13.49" height="13.11" fill="#94c7df"/>
<rect x="448.82" y="534.97" width="13.49" height="13.11" fill="#aad8e9"/>
<rect x="462.27" y="534.97" width="13.49" height="13.11" fill="#e0f3f8"/>
<rect x="475.71" y="534.97" width="13.49" height="13.11" fill="#fff8b6"/>
<rect x="489.16" y="534.97" width="13.49" height="13.11" fill="#feeca3"/>
<rect x="381.60" y="548.02" width="13.49" height="13.11" fill="#313695"/>
<rect x="395.04" y="548.02" width="13.49" height="13.11" fill="#3d5ba7"/>
<rect x="408.49" y="548.02" width="13.49" height="13.11" fill="#4574b3"/>
<rect x="421.93" y="548.02" width="13.49" height="13.11" fill="#578abf"/>
<rect x="435.38" y="548.02" width="13.49" height="13.11" fill="#6ba2cb"/>
<rect x="448.82" y="548.02" width="13.49" height="13.11" fill="#94c7df"/>
<rect x="462.27" y="548.02" width="13.49" height="13.11" fill="#aad8e9"/>
<rect x="475.71" y="548.02" width="13.49" height="13.11" fill="#d6eef5"/>
<rect x="489.16" y="548.02" width="13.49" height="13.11" fill="#d6eef5"/>
<rect x="381.60" y="561.08" width="13.49" height="13.11" fill="#313695"/>
<rect x="395.04" y="561.08" width="13.49" height="13.11" fill="#313695"/>
<rect x="408.49" y="561.08" width="13.49" height="13.11" fill="#4167ad"/>
<rect x="421.93" y="561.08" width="13.49" height="13.11" fill="#6095c4"/>
<rect x="435.38" y="561.08" width="13.49" height="13.11" fill="#578abf"/>
<rect x="448.82" y="561.08" width="13.49" height="13.11" fill="#74add1"/>
<rect x="462.27" y="561.08" width="13.49" height="13.11" fill="#94c7df"/>
<rect x="475.71" y="561.08" width="13.49" height="13.11" fill="#b4deec"/>
<rect x="489.16" y="561.08" width="13.49" height="13.11" fill="#e6f5ed"/>
<rect x="381.60" y="574.13" width="13.49" height="13.11" fill="#313695"/>
<rect x="395.04" y="574.13" width="13.49" height="13.11" fill="#313695"/>
<rect x="408.49" y="574.13" width="13.49" height="13.11" fill="#394fa1"/>
<rect x="421.93" y="574.13" width="13.49" height="13.11" fill="#4167ad"/>
<rect x="435.38" y="574.13" width="13.49" height="13.11" fill="#4574b3"/>
<rect x="448.82" y="574.13" width="13.49" height="13.11" fill="#6095c4"/>
<rect x="462.27" y="574.13" width="13.49" height="13.11" fill="#6ba2cb"/>
<rect x="475.71" y="574.13" width="13.49" height="13.11" fill="#9fd0e4"/>
<rect x="489.16" y="574.13" width="13.49" height="13.11" fill="#c1e4ef"/>
<rect x="381.60" y="587.19" width="13.49" height="13.11" fill="#313695"/>
<rect x="395.04" y="587.19" width="13.49" height="13.11" fill="#313695"/>
<rect x="408.49" y="587.19" width="13.49" height="13.11" fill="#313695"/>
<rect x="421.93" y="587.19" width="13.49" height="13.11" fill="#313695"/>
<rect x="435.38" y="587.19" width="13.49" height="13.11" fill="#3d5ba7"/>
<rect x="448.82" y="587.19" width="13.49" height="13.11" fill="#578abf"/>
<rect x="462.27" y="587.19" width="13.49" height="13.11" fill="#6095c4"/>
<rect x="475.71" y="587.19" width="13.49" height="13.11" fill="#aad8e9"/>
<rect x="489.16" y="587.19" width="13.49" height="13.11" fill="#b4deec"/>
<rect x="381.60" y="600.24" width="13.49" height="13.11" fill="#313695"/>
<rect x="395.04" y="600.24" width="13.49" height="13.11" fill="#313695"/>
<rect x="408.49" y="600.24" width="13.49" height="13.11" fill="#313695"/>
<rect x="421.93" y="600.24" width="13.49" height="13.11" fill="#313695"/>
<rect x="435.38" y="600.24" width="13.49" height="13.11" fill="#313695"/>
<rect x="448.82" y="600.24" width="13.49" height="13.11" fill="#313695"/>
<rect x="462.27" y="600.24" width="13.49" height="13.11" fill="#313695"/>
<rect x="475.71" y="600.24" width="13.49" height="13.11" fill="#3d5ba7"/>
<rect x="489.16" y="600.24" width="13.49" height="13.11" fill="#394fa1"/>
<text x="388.32" y="504.63" font-size="6.4" fill="#fff" text-anchor="middle" class="w">1.22</text>
<text x="401.77" y="504.63" font-size="6.4" fill="#222" text-anchor="middle" class="g">1.36</text>
<text x="415.21" y="504.63" font-size="6.4" fill="#222" text-anchor="middle" class="g">1.37</text>
<text x="428.66" y="504.63" font-size="6.4" fill="#222" text-anchor="middle" class="g">1.41</text>
<text x="442.10" y="504.63" font-size="6.4" fill="#222" text-anchor="middle" class="g">1.39</text>
<text x="455.54" y="504.63" font-size="6.4" fill="#222" text-anchor="middle" class="g">1.48</text>
<text x="468.99" y="504.63" font-size="6.4" fill="#222" text-anchor="middle" class="g">1.53</text>
<text x="482.43" y="504.63" font-size="6.4" fill="#fff" text-anchor="middle" class="w">1.68</text>
<text x="495.88" y="504.63" font-size="6.4" fill="#fff" text-anchor="middle" class="w">1.77</text>
<text x="388.32" y="517.69" font-size="6.4" fill="#fff" text-anchor="middle" class="w">1.23</text>
<text x="401.77" y="517.69" font-size="6.4" fill="#222" text-anchor="middle" class="g">1.35</text>
<text x="415.21" y="517.69" font-size="6.4" fill="#222" text-anchor="middle" class="g">1.34</text>
<text x="428.66" y="517.69" font-size="6.4" fill="#222" text-anchor="middle" class="g">1.36</text>
<text x="442.10" y="517.69" font-size="6.4" fill="#222" text-anchor="middle" class="g">1.39</text>
<text x="455.54" y="517.69" font-size="6.4" fill="#222" text-anchor="middle" class="g">1.46</text>
<text x="468.99" y="517.69" font-size="6.4" fill="#222" text-anchor="middle" class="g">1.53</text>
<text x="482.43" y="517.69" font-size="6.4" fill="#fff" text-anchor="middle" class="w">1.63</text>
<text x="495.88" y="517.69" font-size="6.4" fill="#fff" text-anchor="middle" class="w">1.68</text>
<text x="388.32" y="530.74" font-size="6.4" fill="#fff" text-anchor="middle" class="w">1.16</text>
<text x="401.77" y="530.74" font-size="6.4" fill="#fff" text-anchor="middle" class="w">1.28</text>
<text x="415.21" y="530.74" font-size="6.4" fill="#fff" text-anchor="middle" class="w">1.29</text>
<text x="428.66" y="530.74" font-size="6.4" fill="#222" text-anchor="middle" class="g">1.33</text>
<text x="442.10" y="530.74" font-size="6.4" fill="#222" text-anchor="middle" class="g">1.35</text>
<text x="455.54" y="530.74" font-size="6.4" fill="#222" text-anchor="middle" class="g">1.4</text>
<text x="468.99" y="530.74" font-size="6.4" fill="#222" text-anchor="middle" class="g">1.44</text>
<text x="482.43" y="530.74" font-size="6.4" fill="#222" text-anchor="middle" class="g">1.53</text>
<text x="495.88" y="530.74" font-size="6.4" fill="#222" text-anchor="middle" class="g">1.53</text>
<text x="388.32" y="543.80" font-size="6.4" fill="#fff" text-anchor="middle" class="w">1.15</text>
<text x="401.77" y="543.80" font-size="6.4" fill="#fff" text-anchor="middle" class="w">1.27</text>
<text x="415.21" y="543.80" font-size="6.4" fill="#fff" text-anchor="middle" class="w">1.28</text>
<text x="428.66" y="543.80" font-size="6.4" fill="#fff" text-anchor="middle" class="w">1.3</text>
<text x="442.10" y="543.80" font-size="6.4" fill="#222" text-anchor="middle" class="g">1.33</text>
<text x="455.54" y="543.80" font-size="6.4" fill="#222" text-anchor="middle" class="g">1.35</text>
<text x="468.99" y="543.80" font-size="6.4" fill="#222" text-anchor="middle" class="g">1.4</text>
<text x="482.43" y="543.80" font-size="6.4" fill="#222" text-anchor="middle" class="g">1.46</text>
<text x="495.88" y="543.80" font-size="6.4" fill="#222" text-anchor="middle" class="g">1.48</text>
<text x="388.32" y="556.85" font-size="6.4" fill="#fff" text-anchor="middle" class="w">1.19</text>
<text x="401.77" y="556.85" font-size="6.4" fill="#fff" text-anchor="middle" class="w">1.23</text>
<text x="415.21" y="556.85" font-size="6.4" fill="#fff" text-anchor="middle" class="w">1.25</text>
<text x="428.66" y="556.85" font-size="6.4" fill="#fff" text-anchor="middle" class="w">1.27</text>
<text x="442.10" y="556.85" font-size="6.4" fill="#fff" text-anchor="middle" class="w">1.29</text>
<text x="455.54" y="556.85" font-size="6.4" fill="#222" text-anchor="middle" class="g">1.33</text>
<text x="468.99" y="556.85" font-size="6.4" fill="#222" text-anchor="middle" class="g">1.35</text>
<text x="482.43" y="556.85" font-size="6.4" fill="#222" text-anchor="middle" class="g">1.39</text>
<text x="495.88" y="556.85" font-size="6.4" fill="#222" text-anchor="middle" class="g">1.39</text>
<text x="388.32" y="569.91" font-size="6.4" fill="#fff" text-anchor="middle" class="w">1.13</text>
<text x="401.77" y="569.91" font-size="6.4" fill="#fff" text-anchor="middle" class="w">1.19</text>
<text x="415.21" y="569.91" font-size="6.4" fill="#fff" text-anchor="middle" class="w">1.24</text>
<text x="428.66" y="569.91" font-size="6.4" fill="#fff" text-anchor="middle" class="w">1.28</text>
<text x="442.10" y="569.91" font-size="6.4" fill="#fff" text-anchor="middle" class="w">1.27</text>
<text x="455.54" y="569.91" font-size="6.4" fill="#fff" text-anchor="middle" class="w">1.3</text>
<text x="468.99" y="569.91" font-size="6.4" fill="#222" text-anchor="middle" class="g">1.33</text>
<text x="482.43" y="569.91" font-size="6.4" fill="#222" text-anchor="middle" class="g">1.36</text>
<text x="495.88" y="569.91" font-size="6.4" fill="#222" text-anchor="middle" class="g">1.41</text>
<text x="388.32" y="582.97" font-size="6.4" fill="#fff" text-anchor="middle" class="w">1.17</text>
<text x="401.77" y="582.97" font-size="6.4" fill="#fff" text-anchor="middle" class="w">1.2</text>
<text x="415.21" y="582.97" font-size="6.4" fill="#fff" text-anchor="middle" class="w">1.22</text>
<text x="428.66" y="582.97" font-size="6.4" fill="#fff" text-anchor="middle" class="w">1.24</text>
<text x="442.10" y="582.97" font-size="6.4" fill="#fff" text-anchor="middle" class="w">1.25</text>
<text x="455.54" y="582.97" font-size="6.4" fill="#fff" text-anchor="middle" class="w">1.28</text>
<text x="468.99" y="582.97" font-size="6.4" fill="#fff" text-anchor="middle" class="w">1.29</text>
<text x="482.43" y="582.97" font-size="6.4" fill="#222" text-anchor="middle" class="g">1.34</text>
<text x="495.88" y="582.97" font-size="6.4" fill="#222" text-anchor="middle" class="g">1.37</text>
<text x="388.32" y="596.02" font-size="6.4" fill="#fff" text-anchor="middle" class="w">1.18</text>
<text x="401.77" y="596.02" font-size="6.4" fill="#fff" text-anchor="middle" class="w">1.15</text>
<text x="415.21" y="596.02" font-size="6.4" fill="#fff" text-anchor="middle" class="w">1.2</text>
<text x="428.66" y="596.02" font-size="6.4" fill="#fff" text-anchor="middle" class="w">1.19</text>
<text x="442.10" y="596.02" font-size="6.4" fill="#fff" text-anchor="middle" class="w">1.23</text>
<text x="455.54" y="596.02" font-size="6.4" fill="#fff" text-anchor="middle" class="w">1.27</text>
<text x="468.99" y="596.02" font-size="6.4" fill="#fff" text-anchor="middle" class="w">1.28</text>
<text x="482.43" y="596.02" font-size="6.4" fill="#222" text-anchor="middle" class="g">1.35</text>
<text x="495.88" y="596.02" font-size="6.4" fill="#222" text-anchor="middle" class="g">1.36</text>
<text x="388.32" y="609.08" font-size="6.4" fill="#fff" text-anchor="middle" class="w">1.18</text>
<text x="401.77" y="609.08" font-size="6.4" fill="#fff" text-anchor="middle" class="w">1.18</text>
<text x="415.21" y="609.08" font-size="6.4" fill="#fff" text-anchor="middle" class="w">1.17</text>
<text x="428.66" y="609.08" font-size="6.4" fill="#fff" text-anchor="middle" class="w">1.13</text>
<text x="442.10" y="609.08" font-size="6.4" fill="#fff" text-anchor="middle" class="w">1.19</text>
<text x="455.54" y="609.08" font-size="6.4" fill="#fff" text-anchor="middle" class="w">1.15</text>
<text x="468.99" y="609.08" font-size="6.4" fill="#fff" text-anchor="middle" class="w">1.16</text>
<text x="482.43" y="609.08" font-size="6.4" fill="#fff" text-anchor="middle" class="w">1.23</text>
<text x="495.88" y="609.08" font-size="6.4" fill="#fff" text-anchor="middle" class="w">1.22</text>
<polygon points="365.90,495.80 372.50,495.80 371.90,613.30" fill="#6b6b6b"/>
<polygon points="381.60,622.10 502.60,622.10 502.60,629.10" fill="#6b6b6b"/>
<text transform="translate(374.30,502.33) rotate(90)" font-size="8.6" text-anchor="middle">8</text>
<text transform="translate(374.30,515.38) rotate(90)" font-size="8.6" text-anchor="middle">7</text>
<text transform="translate(374.30,528.44) rotate(90)" font-size="8.6" text-anchor="middle">6</text>
<text transform="translate(374.30,541.49) rotate(90)" font-size="8.6" text-anchor="middle">5</text>
<text transform="translate(374.30,554.55) rotate(90)" font-size="8.6" text-anchor="middle">4</text>
<text transform="translate(374.30,567.61) rotate(90)" font-size="8.6" text-anchor="middle">3</text>
<text transform="translate(374.30,580.66) rotate(90)" font-size="8.6" text-anchor="middle">2</text>
<text transform="translate(374.30,593.72) rotate(90)" font-size="8.6" text-anchor="middle">1</text>
<text transform="translate(374.30,606.77) rotate(90)" font-size="8.6" text-anchor="middle">0</text>
<text x="388.32" y="620.40" font-size="8.6" text-anchor="middle">0</text>
<text x="401.77" y="620.40" font-size="8.6" text-anchor="middle">1</text>
<text x="415.21" y="620.40" font-size="8.6" text-anchor="middle">2</text>
<text x="428.66" y="620.40" font-size="8.6" text-anchor="middle">3</text>
<text x="442.10" y="620.40" font-size="8.6" text-anchor="middle">4</text>
<text x="455.54" y="620.40" font-size="8.6" text-anchor="middle">5</text>
<text x="468.99" y="620.40" font-size="8.6" text-anchor="middle">6</text>
<text x="482.43" y="620.40" font-size="8.6" text-anchor="middle">7</text>
<text x="495.88" y="620.40" font-size="8.6" text-anchor="middle">8</text>
<text x="442.10" y="635.10" font-size="8.1" text-anchor="middle">Enrichment level</text>
<text transform="translate(361.60,557.95) rotate(-90)" font-size="8.1" text-anchor="middle">Enrichment level</text>
<defs><linearGradient id="cb406" x1="0" y1="0" x2="1" y2="0"><stop offset="0.00" stop-color="#313695"/><stop offset="0.10" stop-color="#4574b3"/><stop offset="0.20" stop-color="#74add1"/><stop offset="0.30" stop-color="#aad8e9"/><stop offset="0.40" stop-color="#e0f3f8"/><stop offset="0.50" stop-color="#fffebf"/><stop offset="0.60" stop-color="#fee090"/><stop offset="0.70" stop-color="#fdad60"/><stop offset="0.80" stop-color="#f46d43"/><stop offset="0.90" stop-color="#d62f27"/><stop offset="1.00" stop-color="#a50026"/></linearGradient></defs>
<rect x="406.30" y="650.90" width="70.60" height="5.20" fill="url(#cb406)"/>
<text x="406.30" y="665.40" font-size="8.1">1.2</text>
<text x="476.90" y="665.40" font-size="8.1" text-anchor="end">1.7</text>
<text x="442.60" y="673.60" font-size="8.1" text-anchor="middle">Observed/expected</text>
<text x="607.60" y="334.00" font-size="9.0" text-anchor="middle">H3K27ac</text>
<rect x="546.90" y="343.60" width="13.49" height="13.14" fill="#313695"/>
<rect x="560.34" y="343.60" width="13.49" height="13.14" fill="#313695"/>
<rect x="573.79" y="343.60" width="13.49" height="13.14" fill="#313695"/>
<rect x="587.23" y="343.60" width="13.49" height="13.14" fill="#313695"/>
<rect x="600.68" y="343.60" width="13.49" height="13.14" fill="#313695"/>
<rect x="614.12" y="343.60" width="13.49" height="13.14" fill="#313695"/>
<rect x="627.57" y="343.60" width="13.49" height="13.14" fill="#3e60aa"/>
<rect x="641.01" y="343.60" width="13.49" height="13.14" fill="#74add1"/>
<rect x="654.46" y="343.60" width="13.49" height="13.14" fill="#fece7f"/>
<rect x="546.90" y="356.69" width="13.49" height="13.14" fill="#313695"/>
<rect x="560.34" y="356.69" width="13.49" height="13.14" fill="#313695"/>
<rect x="573.79" y="356.69" width="13.49" height="13.14" fill="#313695"/>
<rect x="587.23" y="356.69" width="13.49" height="13.14" fill="#313695"/>
<rect x="600.68" y="356.69" width="13.49" height="13.14" fill="#313695"/>
<rect x="614.12" y="356.69" width="13.49" height="13.14" fill="#313695"/>
<rect x="627.57" y="356.69" width="13.49" height="13.14" fill="#313695"/>
<rect x="641.01" y="356.69" width="13.49" height="13.14" fill="#313695"/>
<rect x="654.46" y="356.69" width="13.49" height="13.14" fill="#74add1"/>
<rect x="546.90" y="369.78" width="13.49" height="13.14" fill="#313695"/>
<rect x="560.34" y="369.78" width="13.49" height="13.14" fill="#313695"/>
<rect x="573.79" y="369.78" width="13.49" height="13.14" fill="#313695"/>
<rect x="587.23" y="369.78" width="13.49" height="13.14" fill="#313695"/>
<rect x="600.68" y="369.78" width="13.49" height="13.14" fill="#313695"/>
<rect x="614.12" y="369.78" width="13.49" height="13.14" fill="#313695"/>
<rect x="627.57" y="369.78" width="13.49" height="13.14" fill="#313695"/>
<rect x="641.01" y="369.78" width="13.49" height="13.14" fill="#313695"/>
<rect x="654.46" y="369.78" width="13.49" height="13.14" fill="#3e60aa"/>
<rect x="546.90" y="382.87" width="13.49" height="13.14" fill="#313695"/>
<rect x="560.34" y="382.87" width="13.49" height="13.14" fill="#313695"/>
<rect x="573.79" y="382.87" width="13.49" height="13.14" fill="#313695"/>
<rect x="587.23" y="382.87" width="13.49" height="13.14" fill="#313695"/>
<rect x="600.68" y="382.87" width="13.49" height="13.14" fill="#313695"/>
<rect x="614.12" y="382.87" width="13.49" height="13.14" fill="#313695"/>
<rect x="627.57" y="382.87" width="13.49" height="13.14" fill="#313695"/>
<rect x="641.01" y="382.87" width="13.49" height="13.14" fill="#313695"/>
<rect x="654.46" y="382.87" width="13.49" height="13.14" fill="#313695"/>
<rect x="546.90" y="395.96" width="13.49" height="13.14" fill="#313695"/>
<rect x="560.34" y="395.96" width="13.49" height="13.14" fill="#313695"/>
<rect x="573.79" y="395.96" width="13.49" height="13.14" fill="#313695"/>
<rect x="587.23" y="395.96" width="13.49" height="13.14" fill="#313695"/>
<rect x="600.68" y="395.96" width="13.49" height="13.14" fill="#313695"/>
<rect x="614.12" y="395.96" width="13.49" height="13.14" fill="#313695"/>
<rect x="627.57" y="395.96" width="13.49" height="13.14" fill="#313695"/>
<rect x="641.01" y="395.96" width="13.49" height="13.14" fill="#313695"/>
<rect x="654.46" y="395.96" width="13.49" height="13.14" fill="#313695"/>
<rect x="546.90" y="409.04" width="13.49" height="13.14" fill="#313695"/>
<rect x="560.34" y="409.04" width="13.49" height="13.14" fill="#313695"/>
<rect x="573.79" y="409.04" width="13.49" height="13.14" fill="#313695"/>
<rect x="587.23" y="409.04" width="13.49" height="13.14" fill="#313695"/>
<rect x="600.68" y="409.04" width="13.49" height="13.14" fill="#313695"/>
<rect x="614.12" y="409.04" width="13.49" height="13.14" fill="#313695"/>
<rect x="627.57" y="409.04" width="13.49" height="13.14" fill="#313695"/>
<rect x="641.01" y="409.04" width="13.49" height="13.14" fill="#313695"/>
<rect x="654.46" y="409.04" width="13.49" height="13.14" fill="#313695"/>
<rect x="546.90" y="422.13" width="13.49" height="13.14" fill="#313695"/>
<rect x="560.34" y="422.13" width="13.49" height="13.14" fill="#313695"/>
<rect x="573.79" y="422.13" width="13.49" height="13.14" fill="#313695"/>
<rect x="587.23" y="422.13" width="13.49" height="13.14" fill="#313695"/>
<rect x="600.68" y="422.13" width="13.49" height="13.14" fill="#313695"/>
<rect x="614.12" y="422.13" width="13.49" height="13.14" fill="#313695"/>
<rect x="627.57" y="422.13" width="13.49" height="13.14" fill="#313695"/>
<rect x="641.01" y="422.13" width="13.49" height="13.14" fill="#313695"/>
<rect x="654.46" y="422.13" width="13.49" height="13.14" fill="#313695"/>
<rect x="546.90" y="435.22" width="13.49" height="13.14" fill="#313695"/>
<rect x="560.34" y="435.22" width="13.49" height="13.14" fill="#313695"/>
<rect x="573.79" y="435.22" width="13.49" height="13.14" fill="#313695"/>
<rect x="587.23" y="435.22" width="13.49" height="13.14" fill="#313695"/>
<rect x="600.68" y="435.22" width="13.49" height="13.14" fill="#313695"/>
<rect x="614.12" y="435.22" width="13.49" height="13.14" fill="#313695"/>
<rect x="627.57" y="435.22" width="13.49" height="13.14" fill="#313695"/>
<rect x="641.01" y="435.22" width="13.49" height="13.14" fill="#313695"/>
<rect x="654.46" y="435.22" width="13.49" height="13.14" fill="#313695"/>
<rect x="546.90" y="448.31" width="13.49" height="13.14" fill="#313695"/>
<rect x="560.34" y="448.31" width="13.49" height="13.14" fill="#313695"/>
<rect x="573.79" y="448.31" width="13.49" height="13.14" fill="#313695"/>
<rect x="587.23" y="448.31" width="13.49" height="13.14" fill="#313695"/>
<rect x="600.68" y="448.31" width="13.49" height="13.14" fill="#313695"/>
<rect x="614.12" y="448.31" width="13.49" height="13.14" fill="#313695"/>
<rect x="627.57" y="448.31" width="13.49" height="13.14" fill="#313695"/>
<rect x="641.01" y="448.31" width="13.49" height="13.14" fill="#313695"/>
<rect x="654.46" y="448.31" width="13.49" height="13.14" fill="#313695"/>
<text x="553.62" y="352.45" font-size="6.4" fill="#fff" text-anchor="middle" class="w">1.08</text>
<text x="567.07" y="352.45" font-size="6.4" fill="#fff" text-anchor="middle" class="w">1.42</text>
<text x="580.51" y="352.45" font-size="6.4" fill="#fff" text-anchor="middle" class="w">1.4</text>
<text x="593.96" y="352.45" font-size="6.4" fill="#fff" text-anchor="middle" class="w">1.43</text>
<text x="607.40" y="352.45" font-size="6.4" fill="#fff" text-anchor="middle" class="w">1.46</text>
<text x="620.84" y="352.45" font-size="6.4" fill="#fff" text-anchor="middle" class="w">1.48</text>
<text x="634.29" y="352.45" font-size="6.4" fill="#fff" text-anchor="middle" class="w">1.52</text>
<text x="647.73" y="352.45" font-size="6.4" fill="#fff" text-anchor="middle" class="w">1.56</text>
<text x="661.18" y="352.45" font-size="6.4" fill="#222" text-anchor="middle" class="g">1.69</text>
<text x="553.62" y="365.54" font-size="6.4" fill="#fff" text-anchor="middle" class="w">1.11</text>
<text x="567.07" y="365.54" font-size="6.4" fill="#fff" text-anchor="middle" class="w">1.37</text>
<text x="580.51" y="365.54" font-size="6.4" fill="#fff" text-anchor="middle" class="w">1.37</text>
<text x="593.96" y="365.54" font-size="6.4" fill="#fff" text-anchor="middle" class="w">1.4</text>
<text x="607.40" y="365.54" font-size="6.4" fill="#fff" text-anchor="middle" class="w">1.43</text>
<text x="620.84" y="365.54" font-size="6.4" fill="#fff" text-anchor="middle" class="w">1.43</text>
<text x="634.29" y="365.54" font-size="6.4" fill="#fff" text-anchor="middle" class="w">1.45</text>
<text x="647.73" y="365.54" font-size="6.4" fill="#fff" text-anchor="middle" class="w">1.49</text>
<text x="661.18" y="365.54" font-size="6.4" fill="#fff" text-anchor="middle" class="w">1.56</text>
<text x="553.62" y="378.63" font-size="6.4" fill="#fff" text-anchor="middle" class="w">1.13</text>
<text x="567.07" y="378.63" font-size="6.4" fill="#fff" text-anchor="middle" class="w">1.38</text>
<text x="580.51" y="378.63" font-size="6.4" fill="#fff" text-anchor="middle" class="w">1.37</text>
<text x="593.96" y="378.63" font-size="6.4" fill="#fff" text-anchor="middle" class="w">1.4</text>
<text x="607.40" y="378.63" font-size="6.4" fill="#fff" text-anchor="middle" class="w">1.41</text>
<text x="620.84" y="378.63" font-size="6.4" fill="#fff" text-anchor="middle" class="w">1.42</text>
<text x="634.29" y="378.63" font-size="6.4" fill="#fff" text-anchor="middle" class="w">1.45</text>
<text x="647.73" y="378.63" font-size="6.4" fill="#fff" text-anchor="middle" class="w">1.45</text>
<text x="661.18" y="378.63" font-size="6.4" fill="#fff" text-anchor="middle" class="w">1.52</text>
<text x="553.62" y="391.72" font-size="6.4" fill="#fff" text-anchor="middle" class="w">1.14</text>
<text x="567.07" y="391.72" font-size="6.4" fill="#fff" text-anchor="middle" class="w">1.36</text>
<text x="580.51" y="391.72" font-size="6.4" fill="#fff" text-anchor="middle" class="w">1.36</text>
<text x="593.96" y="391.72" font-size="6.4" fill="#fff" text-anchor="middle" class="w">1.38</text>
<text x="607.40" y="391.72" font-size="6.4" fill="#fff" text-anchor="middle" class="w">1.41</text>
<text x="620.84" y="391.72" font-size="6.4" fill="#fff" text-anchor="middle" class="w">1.41</text>
<text x="634.29" y="391.72" font-size="6.4" fill="#fff" text-anchor="middle" class="w">1.42</text>
<text x="647.73" y="391.72" font-size="6.4" fill="#fff" text-anchor="middle" class="w">1.43</text>
<text x="661.18" y="391.72" font-size="6.4" fill="#fff" text-anchor="middle" class="w">1.48</text>
<text x="553.62" y="404.80" font-size="6.4" fill="#fff" text-anchor="middle" class="w">1.16</text>
<text x="567.07" y="404.80" font-size="6.4" fill="#fff" text-anchor="middle" class="w">1.39</text>
<text x="580.51" y="404.80" font-size="6.4" fill="#fff" text-anchor="middle" class="w">1.38</text>
<text x="593.96" y="404.80" font-size="6.4" fill="#fff" text-anchor="middle" class="w">1.39</text>
<text x="607.40" y="404.80" font-size="6.4" fill="#fff" text-anchor="middle" class="w">1.41</text>
<text x="620.84" y="404.80" font-size="6.4" fill="#fff" text-anchor="middle" class="w">1.41</text>
<text x="634.29" y="404.80" font-size="6.4" fill="#fff" text-anchor="middle" class="w">1.41</text>
<text x="647.73" y="404.80" font-size="6.4" fill="#fff" text-anchor="middle" class="w">1.43</text>
<text x="661.18" y="404.80" font-size="6.4" fill="#fff" text-anchor="middle" class="w">1.46</text>
<text x="553.62" y="417.89" font-size="6.4" fill="#fff" text-anchor="middle" class="w">1.15</text>
<text x="567.07" y="417.89" font-size="6.4" fill="#fff" text-anchor="middle" class="w">1.36</text>
<text x="580.51" y="417.89" font-size="6.4" fill="#fff" text-anchor="middle" class="w">1.34</text>
<text x="593.96" y="417.89" font-size="6.4" fill="#fff" text-anchor="middle" class="w">1.37</text>
<text x="607.40" y="417.89" font-size="6.4" fill="#fff" text-anchor="middle" class="w">1.39</text>
<text x="620.84" y="417.89" font-size="6.4" fill="#fff" text-anchor="middle" class="w">1.36</text>
<text x="634.29" y="417.89" font-size="6.4" fill="#fff" text-anchor="middle" class="w">1.4</text>
<text x="647.73" y="417.89" font-size="6.4" fill="#fff" text-anchor="middle" class="w">1.4</text>
<text x="661.18" y="417.89" font-size="6.4" fill="#fff" text-anchor="middle" class="w">1.43</text>
<text x="553.62" y="430.98" font-size="6.4" fill="#fff" text-anchor="middle" class="w">1.16</text>
<text x="567.07" y="430.98" font-size="6.4" fill="#fff" text-anchor="middle" class="w">1.34</text>
<text x="580.51" y="430.98" font-size="6.4" fill="#fff" text-anchor="middle" class="w">1.31</text>
<text x="593.96" y="430.98" font-size="6.4" fill="#fff" text-anchor="middle" class="w">1.34</text>
<text x="607.40" y="430.98" font-size="6.4" fill="#fff" text-anchor="middle" class="w">1.38</text>
<text x="620.84" y="430.98" font-size="6.4" fill="#fff" text-anchor="middle" class="w">1.36</text>
<text x="634.29" y="430.98" font-size="6.4" fill="#fff" text-anchor="middle" class="w">1.37</text>
<text x="647.73" y="430.98" font-size="6.4" fill="#fff" text-anchor="middle" class="w">1.37</text>
<text x="661.18" y="430.98" font-size="6.4" fill="#fff" text-anchor="middle" class="w">1.4</text>
<text x="553.62" y="444.07" font-size="6.4" fill="#fff" text-anchor="middle" class="w">1.16</text>
<text x="567.07" y="444.07" font-size="6.4" fill="#fff" text-anchor="middle" class="w">1.34</text>
<text x="580.51" y="444.07" font-size="6.4" fill="#fff" text-anchor="middle" class="w">1.34</text>
<text x="593.96" y="444.07" font-size="6.4" fill="#fff" text-anchor="middle" class="w">1.36</text>
<text x="607.40" y="444.07" font-size="6.4" fill="#fff" text-anchor="middle" class="w">1.39</text>
<text x="620.84" y="444.07" font-size="6.4" fill="#fff" text-anchor="middle" class="w">1.36</text>
<text x="634.29" y="444.07" font-size="6.4" fill="#fff" text-anchor="middle" class="w">1.38</text>
<text x="647.73" y="444.07" font-size="6.4" fill="#fff" text-anchor="middle" class="w">1.37</text>
<text x="661.18" y="444.07" font-size="6.4" fill="#fff" text-anchor="middle" class="w">1.42</text>
<text x="553.62" y="457.16" font-size="6.4" fill="#fff" text-anchor="middle" class="w">1.19</text>
<text x="567.07" y="457.16" font-size="6.4" fill="#fff" text-anchor="middle" class="w">1.16</text>
<text x="580.51" y="457.16" font-size="6.4" fill="#fff" text-anchor="middle" class="w">1.16</text>
<text x="593.96" y="457.16" font-size="6.4" fill="#fff" text-anchor="middle" class="w">1.15</text>
<text x="607.40" y="457.16" font-size="6.4" fill="#fff" text-anchor="middle" class="w">1.16</text>
<text x="620.84" y="457.16" font-size="6.4" fill="#fff" text-anchor="middle" class="w">1.14</text>
<text x="634.29" y="457.16" font-size="6.4" fill="#fff" text-anchor="middle" class="w">1.13</text>
<text x="647.73" y="457.16" font-size="6.4" fill="#fff" text-anchor="middle" class="w">1.11</text>
<text x="661.18" y="457.16" font-size="6.4" fill="#fff" text-anchor="middle" class="w">1.08</text>
<polygon points="531.20,343.60 537.80,343.60 537.20,461.40" fill="#6b6b6b"/>
<polygon points="546.90,470.20 667.90,470.20 667.90,477.20" fill="#6b6b6b"/>
<text transform="translate(539.60,350.14) rotate(90)" font-size="8.6" text-anchor="middle">8</text>
<text transform="translate(539.60,363.23) rotate(90)" font-size="8.6" text-anchor="middle">7</text>
<text transform="translate(539.60,376.32) rotate(90)" font-size="8.6" text-anchor="middle">6</text>
<text transform="translate(539.60,389.41) rotate(90)" font-size="8.6" text-anchor="middle">5</text>
<text transform="translate(539.60,402.50) rotate(90)" font-size="8.6" text-anchor="middle">4</text>
<text transform="translate(539.60,415.59) rotate(90)" font-size="8.6" text-anchor="middle">3</text>
<text transform="translate(539.60,428.68) rotate(90)" font-size="8.6" text-anchor="middle">2</text>
<text transform="translate(539.60,441.77) rotate(90)" font-size="8.6" text-anchor="middle">1</text>
<text transform="translate(539.60,454.86) rotate(90)" font-size="8.6" text-anchor="middle">0</text>
<text x="553.62" y="468.50" font-size="8.6" text-anchor="middle">0</text>
<text x="567.07" y="468.50" font-size="8.6" text-anchor="middle">1</text>
<text x="580.51" y="468.50" font-size="8.6" text-anchor="middle">2</text>
<text x="593.96" y="468.50" font-size="8.6" text-anchor="middle">3</text>
<text x="607.40" y="468.50" font-size="8.6" text-anchor="middle">4</text>
<text x="620.84" y="468.50" font-size="8.6" text-anchor="middle">5</text>
<text x="634.29" y="468.50" font-size="8.6" text-anchor="middle">6</text>
<text x="647.73" y="468.50" font-size="8.6" text-anchor="middle">7</text>
<text x="661.18" y="468.50" font-size="8.6" text-anchor="middle">8</text>
<text x="607.40" y="483.20" font-size="8.1" text-anchor="middle">Enrichment level</text>
<text transform="translate(526.90,405.90) rotate(-90)" font-size="8.1" text-anchor="middle">Enrichment level</text>
<rect x="546.90" y="495.80" width="13.49" height="13.11" fill="#313695"/>
<rect x="560.34" y="495.80" width="13.49" height="13.11" fill="#74add1"/>
<rect x="573.79" y="495.80" width="13.49" height="13.11" fill="#4574b3"/>
<rect x="587.23" y="495.80" width="13.49" height="13.11" fill="#85bbd9"/>
<rect x="600.68" y="495.80" width="13.49" height="13.11" fill="#cdeaf3"/>
<rect x="614.12" y="495.80" width="13.49" height="13.11" fill="#f5fbd3"/>
<rect x="627.57" y="495.80" width="13.49" height="13.11" fill="#fdbf71"/>
<rect x="641.01" y="495.80" width="13.49" height="13.11" fill="#e14430"/>
<rect x="654.46" y="495.80" width="13.49" height="13.11" fill="#a50026"/>
<rect x="546.90" y="508.86" width="13.49" height="13.11" fill="#313695"/>
<rect x="560.34" y="508.86" width="13.49" height="13.11" fill="#313695"/>
<rect x="573.79" y="508.86" width="13.49" height="13.11" fill="#313695"/>
<rect x="587.23" y="508.86" width="13.49" height="13.11" fill="#374a9f"/>
<rect x="600.68" y="508.86" width="13.49" height="13.11" fill="#5588be"/>
<rect x="614.12" y="508.86" width="13.49" height="13.11" fill="#74add1"/>
<rect x="627.57" y="508.86" width="13.49" height="13.11" fill="#bde2ee"/>
<rect x="641.01" y="508.86" width="13.49" height="13.11" fill="#feffc1"/>
<rect x="654.46" y="508.86" width="13.49" height="13.11" fill="#e14430"/>
<rect x="546.90" y="521.91" width="13.49" height="13.11" fill="#313695"/>
<rect x="560.34" y="521.91" width="13.49" height="13.11" fill="#313695"/>
<rect x="573.79" y="521.91" width="13.49" height="13.11" fill="#313695"/>
<rect x="587.23" y="521.91" width="13.49" height="13.11" fill="#374a9f"/>
<rect x="600.68" y="521.91" width="13.49" height="13.11" fill="#3e60aa"/>
<rect x="614.12" y="521.91" width="13.49" height="13.11" fill="#6399c7"/>
<rect x="627.57" y="521.91" width="13.49" height="13.11" fill="#aad8e9"/>
<rect x="641.01" y="521.91" width="13.49" height="13.11" fill="#bde2ee"/>
<rect x="654.46" y="521.91" width="13.49" height="13.11" fill="#fdbf71"/>
<rect x="546.90" y="534.97" width="13.49" height="13.11" fill="#313695"/>
<rect x="560.34" y="534.97" width="13.49" height="13.11" fill="#313695"/>
<rect x="573.79" y="534.97" width="13.49" height="13.11" fill="#313695"/>
<rect x="587.23" y="534.97" width="13.49" height="13.11" fill="#313695"/>
<rect x="600.68" y="534.97" width="13.49" height="13.11" fill="#313695"/>
<rect x="614.12" y="534.97" width="13.49" height="13.11" fill="#3e60aa"/>
<rect x="627.57" y="534.97" width="13.49" height="13.11" fill="#6399c7"/>
<rect x="641.01" y="534.97" width="13.49" height="13.11" fill="#74add1"/>
<rect x="654.46" y="534.97" width="13.49" height="13.11" fill="#f5fbd3"/>
<rect x="546.90" y="548.02" width="13.49" height="13.11" fill="#313695"/>
<rect x="560.34" y="548.02" width="13.49" height="13.11" fill="#313695"/>
<rect x="573.79" y="548.02" width="13.49" height="13.11" fill="#313695"/>
<rect x="587.23" y="548.02" width="13.49" height="13.11" fill="#313695"/>
<rect x="600.68" y="548.02" width="13.49" height="13.11" fill="#313695"/>
<rect x="614.12" y="548.02" width="13.49" height="13.11" fill="#313695"/>
<rect x="627.57" y="548.02" width="13.49" height="13.11" fill="#3e60aa"/>
<rect x="641.01" y="548.02" width="13.49" height="13.11" fill="#5588be"/>
<rect x="654.46" y="548.02" width="13.49" height="13.11" fill="#cdeaf3"/>
<rect x="546.90" y="561.08" width="13.49" height="13.11" fill="#313695"/>
<rect x="560.34" y="561.08" width="13.49" height="13.11" fill="#313695"/>
<rect x="573.79" y="561.08" width="13.49" height="13.11" fill="#313695"/>
<rect x="587.23" y="561.08" width="13.49" height="13.11" fill="#313695"/>
<rect x="600.68" y="561.08" width="13.49" height="13.11" fill="#313695"/>
<rect x="614.12" y="561.08" width="13.49" height="13.11" fill="#313695"/>
<rect x="627.57" y="561.08" width="13.49" height="13.11" fill="#374a9f"/>
<rect x="641.01" y="561.08" width="13.49" height="13.11" fill="#374a9f"/>
<rect x="654.46" y="561.08" width="13.49" height="13.11" fill="#85bbd9"/>
<rect x="546.90" y="574.13" width="13.49" height="13.11" fill="#313695"/>
<rect x="560.34" y="574.13" width="13.49" height="13.11" fill="#313695"/>
<rect x="573.79" y="574.13" width="13.49" height="13.11" fill="#313695"/>
<rect x="587.23" y="574.13" width="13.49" height="13.11" fill="#313695"/>
<rect x="600.68" y="574.13" width="13.49" height="13.11" fill="#313695"/>
<rect x="614.12" y="574.13" width="13.49" height="13.11" fill="#313695"/>
<rect x="627.57" y="574.13" width="13.49" height="13.11" fill="#313695"/>
<rect x="641.01" y="574.13" width="13.49" height="13.11" fill="#313695"/>
<rect x="654.46" y="574.13" width="13.49" height="13.11" fill="#4574b3"/>
<rect x="546.90" y="587.19" width="13.49" height="13.11" fill="#313695"/>
<rect x="560.34" y="587.19" width="13.49" height="13.11" fill="#313695"/>
<rect x="573.79" y="587.19" width="13.49" height="13.11" fill="#313695"/>
<rect x="587.23" y="587.19" width="13.49" height="13.11" fill="#313695"/>
<rect x="600.68" y="587.19" width="13.49" height="13.11" fill="#313695"/>
<rect x="614.12" y="587.19" width="13.49" height="13.11" fill="#313695"/>
<rect x="627.57" y="587.19" width="13.49" height="13.11" fill="#313695"/>
<rect x="641.01" y="587.19" width="13.49" height="13.11" fill="#313695"/>
<rect x="654.46" y="587.19" width="13.49" height="13.11" fill="#74add1"/>
<rect x="546.90" y="600.24" width="13.49" height="13.11" fill="#313695"/>
<rect x="560.34" y="600.24" width="13.49" height="13.11" fill="#313695"/>
<rect x="573.79" y="600.24" width="13.49" height="13.11" fill="#313695"/>
<rect x="587.23" y="600.24" width="13.49" height="13.11" fill="#313695"/>
<rect x="600.68" y="600.24" width="13.49" height="13.11" fill="#313695"/>
<rect x="614.12" y="600.24" width="13.49" height="13.11" fill="#313695"/>
<rect x="627.57" y="600.24" width="13.49" height="13.11" fill="#313695"/>
<rect x="641.01" y="600.24" width="13.49" height="13.11" fill="#313695"/>
<rect x="654.46" y="600.24" width="13.49" height="13.11" fill="#313695"/>
<text x="553.62" y="504.63" font-size="6.4" fill="#fff" text-anchor="middle" class="w">1.18</text>
<text x="567.07" y="504.63" font-size="6.4" fill="#fff" text-anchor="middle" class="w">1.56</text>
<text x="580.51" y="504.63" font-size="6.4" fill="#fff" text-anchor="middle" class="w">1.53</text>
<text x="593.96" y="504.63" font-size="6.4" fill="#222" text-anchor="middle" class="g">1.57</text>
<text x="607.40" y="504.63" font-size="6.4" fill="#222" text-anchor="middle" class="g">1.61</text>
<text x="620.84" y="504.63" font-size="6.4" fill="#222" text-anchor="middle" class="g">1.64</text>
<text x="634.29" y="504.63" font-size="6.4" fill="#222" text-anchor="middle" class="g">1.7</text>
<text x="647.73" y="504.63" font-size="6.4" fill="#fff" text-anchor="middle" class="w">1.76</text>
<text x="661.18" y="504.63" font-size="6.4" fill="#fff" text-anchor="middle" class="w">1.91</text>
<text x="553.62" y="517.69" font-size="6.4" fill="#fff" text-anchor="middle" class="w">1.19</text>
<text x="567.07" y="517.69" font-size="6.4" fill="#fff" text-anchor="middle" class="w">1.48</text>
<text x="580.51" y="517.69" font-size="6.4" fill="#fff" text-anchor="middle" class="w">1.47</text>
<text x="593.96" y="517.69" font-size="6.4" fill="#fff" text-anchor="middle" class="w">1.51</text>
<text x="607.40" y="517.69" font-size="6.4" fill="#fff" text-anchor="middle" class="w">1.54</text>
<text x="620.84" y="517.69" font-size="6.4" fill="#fff" text-anchor="middle" class="w">1.56</text>
<text x="634.29" y="517.69" font-size="6.4" fill="#222" text-anchor="middle" class="g">1.6</text>
<text x="647.73" y="517.69" font-size="6.4" fill="#222" text-anchor="middle" class="g">1.65</text>
<text x="661.18" y="517.69" font-size="6.4" fill="#fff" text-anchor="middle" class="w">1.76</text>
<text x="553.62" y="530.74" font-size="6.4" fill="#fff" text-anchor="middle" class="w">1.19</text>
<text x="567.07" y="530.74" font-size="6.4" fill="#fff" text-anchor="middle" class="w">1.48</text>
<text x="580.51" y="530.74" font-size="6.4" fill="#fff" text-anchor="middle" class="w">1.47</text>
<text x="593.96" y="530.74" font-size="6.4" fill="#fff" text-anchor="middle" class="w">1.51</text>
<text x="607.40" y="530.74" font-size="6.4" fill="#fff" text-anchor="middle" class="w">1.52</text>
<text x="620.84" y="530.74" font-size="6.4" fill="#fff" text-anchor="middle" class="w">1.55</text>
<text x="634.29" y="530.74" font-size="6.4" fill="#222" text-anchor="middle" class="g">1.59</text>
<text x="647.73" y="530.74" font-size="6.4" fill="#222" text-anchor="middle" class="g">1.6</text>
<text x="661.18" y="530.74" font-size="6.4" fill="#222" text-anchor="middle" class="g">1.7</text>
<text x="553.62" y="543.80" font-size="6.4" fill="#fff" text-anchor="middle" class="w">1.21</text>
<text x="567.07" y="543.80" font-size="6.4" fill="#fff" text-anchor="middle" class="w">1.45</text>
<text x="580.51" y="543.80" font-size="6.4" fill="#fff" text-anchor="middle" class="w">1.44</text>
<text x="593.96" y="543.80" font-size="6.4" fill="#fff" text-anchor="middle" class="w">1.47</text>
<text x="607.40" y="543.80" font-size="6.4" fill="#fff" text-anchor="middle" class="w">1.5</text>
<text x="620.84" y="543.80" font-size="6.4" fill="#fff" text-anchor="middle" class="w">1.52</text>
<text x="634.29" y="543.80" font-size="6.4" fill="#fff" text-anchor="middle" class="w">1.55</text>
<text x="647.73" y="543.80" font-size="6.4" fill="#fff" text-anchor="middle" class="w">1.56</text>
<text x="661.18" y="543.80" font-size="6.4" fill="#222" text-anchor="middle" class="g">1.64</text>
<text x="553.62" y="556.85" font-size="6.4" fill="#fff" text-anchor="middle" class="w">1.22</text>
<text x="567.07" y="556.85" font-size="6.4" fill="#fff" text-anchor="middle" class="w">1.46</text>
<text x="580.51" y="556.85" font-size="6.4" fill="#fff" text-anchor="middle" class="w">1.45</text>
<text x="593.96" y="556.85" font-size="6.4" fill="#fff" text-anchor="middle" class="w">1.47</text>
<text x="607.40" y="556.85" font-size="6.4" fill="#fff" text-anchor="middle" class="w">1.5</text>
<text x="620.84" y="556.85" font-size="6.4" fill="#fff" text-anchor="middle" class="w">1.5</text>
<text x="634.29" y="556.85" font-size="6.4" fill="#fff" text-anchor="middle" class="w">1.52</text>
<text x="647.73" y="556.85" font-size="6.4" fill="#fff" text-anchor="middle" class="w">1.54</text>
<text x="661.18" y="556.85" font-size="6.4" fill="#222" text-anchor="middle" class="g">1.61</text>
<text x="553.62" y="569.91" font-size="6.4" fill="#fff" text-anchor="middle" class="w">1.19</text>
<text x="567.07" y="569.91" font-size="6.4" fill="#fff" text-anchor="middle" class="w">1.44</text>
<text x="580.51" y="569.91" font-size="6.4" fill="#fff" text-anchor="middle" class="w">1.4</text>
<text x="593.96" y="569.91" font-size="6.4" fill="#fff" text-anchor="middle" class="w">1.43</text>
<text x="607.40" y="569.91" font-size="6.4" fill="#fff" text-anchor="middle" class="w">1.47</text>
<text x="620.84" y="569.91" font-size="6.4" fill="#fff" text-anchor="middle" class="w">1.47</text>
<text x="634.29" y="569.91" font-size="6.4" fill="#fff" text-anchor="middle" class="w">1.51</text>
<text x="647.73" y="569.91" font-size="6.4" fill="#fff" text-anchor="middle" class="w">1.51</text>
<text x="661.18" y="569.91" font-size="6.4" fill="#222" text-anchor="middle" class="g">1.57</text>
<text x="553.62" y="582.97" font-size="6.4" fill="#fff" text-anchor="middle" class="w">1.21</text>
<text x="567.07" y="582.97" font-size="6.4" fill="#fff" text-anchor="middle" class="w">1.41</text>
<text x="580.51" y="582.97" font-size="6.4" fill="#fff" text-anchor="middle" class="w">1.37</text>
<text x="593.96" y="582.97" font-size="6.4" fill="#fff" text-anchor="middle" class="w">1.4</text>
<text x="607.40" y="582.97" font-size="6.4" fill="#fff" text-anchor="middle" class="w">1.45</text>
<text x="620.84" y="582.97" font-size="6.4" fill="#fff" text-anchor="middle" class="w">1.44</text>
<text x="634.29" y="582.97" font-size="6.4" fill="#fff" text-anchor="middle" class="w">1.47</text>
<text x="647.73" y="582.97" font-size="6.4" fill="#fff" text-anchor="middle" class="w">1.47</text>
<text x="661.18" y="582.97" font-size="6.4" fill="#fff" text-anchor="middle" class="w">1.53</text>
<text x="553.62" y="596.02" font-size="6.4" fill="#fff" text-anchor="middle" class="w">1.22</text>
<text x="567.07" y="596.02" font-size="6.4" fill="#fff" text-anchor="middle" class="w">1.42</text>
<text x="580.51" y="596.02" font-size="6.4" fill="#fff" text-anchor="middle" class="w">1.41</text>
<text x="593.96" y="596.02" font-size="6.4" fill="#fff" text-anchor="middle" class="w">1.44</text>
<text x="607.40" y="596.02" font-size="6.4" fill="#fff" text-anchor="middle" class="w">1.46</text>
<text x="620.84" y="596.02" font-size="6.4" fill="#fff" text-anchor="middle" class="w">1.45</text>
<text x="634.29" y="596.02" font-size="6.4" fill="#fff" text-anchor="middle" class="w">1.48</text>
<text x="647.73" y="596.02" font-size="6.4" fill="#fff" text-anchor="middle" class="w">1.48</text>
<text x="661.18" y="596.02" font-size="6.4" fill="#fff" text-anchor="middle" class="w">1.56</text>
<text x="553.62" y="609.08" font-size="6.4" fill="#fff" text-anchor="middle" class="w">1.18</text>
<text x="567.07" y="609.08" font-size="6.4" fill="#fff" text-anchor="middle" class="w">1.22</text>
<text x="580.51" y="609.08" font-size="6.4" fill="#fff" text-anchor="middle" class="w">1.21</text>
<text x="593.96" y="609.08" font-size="6.4" fill="#fff" text-anchor="middle" class="w">1.19</text>
<text x="607.40" y="609.08" font-size="6.4" fill="#fff" text-anchor="middle" class="w">1.22</text>
<text x="620.84" y="609.08" font-size="6.4" fill="#fff" text-anchor="middle" class="w">1.21</text>
<text x="634.29" y="609.08" font-size="6.4" fill="#fff" text-anchor="middle" class="w">1.19</text>
<text x="647.73" y="609.08" font-size="6.4" fill="#fff" text-anchor="middle" class="w">1.19</text>
<text x="661.18" y="609.08" font-size="6.4" fill="#fff" text-anchor="middle" class="w">1.18</text>
<polygon points="531.20,495.80 537.80,495.80 537.20,613.30" fill="#6b6b6b"/>
<polygon points="546.90,622.10 667.90,622.10 667.90,629.10" fill="#6b6b6b"/>
<text transform="translate(539.60,502.33) rotate(90)" font-size="8.6" text-anchor="middle">8</text>
<text transform="translate(539.60,515.38) rotate(90)" font-size="8.6" text-anchor="middle">7</text>
<text transform="translate(539.60,528.44) rotate(90)" font-size="8.6" text-anchor="middle">6</text>
<text transform="translate(539.60,541.49) rotate(90)" font-size="8.6" text-anchor="middle">5</text>
<text transform="translate(539.60,554.55) rotate(90)" font-size="8.6" text-anchor="middle">4</text>
<text transform="translate(539.60,567.61) rotate(90)" font-size="8.6" text-anchor="middle">3</text>
<text transform="translate(539.60,580.66) rotate(90)" font-size="8.6" text-anchor="middle">2</text>
<text transform="translate(539.60,593.72) rotate(90)" font-size="8.6" text-anchor="middle">1</text>
<text transform="translate(539.60,606.77) rotate(90)" font-size="8.6" text-anchor="middle">0</text>
<text x="553.62" y="620.40" font-size="8.6" text-anchor="middle">0</text>
<text x="567.07" y="620.40" font-size="8.6" text-anchor="middle">1</text>
<text x="580.51" y="620.40" font-size="8.6" text-anchor="middle">2</text>
<text x="593.96" y="620.40" font-size="8.6" text-anchor="middle">3</text>
<text x="607.40" y="620.40" font-size="8.6" text-anchor="middle">4</text>
<text x="620.84" y="620.40" font-size="8.6" text-anchor="middle">5</text>
<text x="634.29" y="620.40" font-size="8.6" text-anchor="middle">6</text>
<text x="647.73" y="620.40" font-size="8.6" text-anchor="middle">7</text>
<text x="661.18" y="620.40" font-size="8.6" text-anchor="middle">8</text>
<text x="607.40" y="635.10" font-size="8.1" text-anchor="middle">Enrichment level</text>
<text transform="translate(526.90,557.95) rotate(-90)" font-size="8.1" text-anchor="middle">Enrichment level</text>
<defs><linearGradient id="cb571" x1="0" y1="0" x2="1" y2="0"><stop offset="0.00" stop-color="#313695"/><stop offset="0.10" stop-color="#4574b3"/><stop offset="0.20" stop-color="#74add1"/><stop offset="0.30" stop-color="#aad8e9"/><stop offset="0.40" stop-color="#e0f3f8"/><stop offset="0.50" stop-color="#fffebf"/><stop offset="0.60" stop-color="#fee090"/><stop offset="0.70" stop-color="#fdad60"/><stop offset="0.80" stop-color="#f46d43"/><stop offset="0.90" stop-color="#d62f27"/><stop offset="1.00" stop-color="#a50026"/></linearGradient></defs>
<rect x="571.60" y="650.90" width="70.60" height="5.20" fill="url(#cb571)"/>
<text x="571.60" y="665.40" font-size="8.1">1.5</text>
<text x="642.20" y="665.40" font-size="8.1" text-anchor="end">1.8</text>
<text x="607.90" y="673.60" font-size="8.1" text-anchor="middle">Observed/expected</text>
<text transform="translate(13.2,402.5) rotate(-90)" font-size="8.9" text-anchor="middle">ICE</text>
<text transform="translate(13.2,555.1) rotate(-90)" font-size="8.9" text-anchor="middle">Raichu</text>
<text x="-0.60" y="6.80" font-size="12.5" fill="#000" font-weight="bold">a</text>
<text x="13.80" y="26.10" font-size="8.9">Raw Contact Matrix</text>
<path d="M52.0 30.3h41.7v1.6h-41.7zM55.0 31.8h4.5v1.6h-4.5zM60.9 31.8h3.0v1.6h-3.0zM65.4 31.8h6.0v1.6h-6.0zM72.9 31.8h3.0v1.6h-3.0zM77.3 31.8h4.5v1.6h-4.5zM83.3 31.8h4.5v1.6h-4.5zM89.2 31.8h4.5v1.6h-4.5zM53.5 33.3h10.4v1.6h-10.4zM65.4 33.3h6.0v1.6h-6.0zM72.9 33.3h20.9v1.6h-20.9zM52.0 34.8h41.7v1.6h-41.7zM52.0 36.3h41.7v1.6h-41.7zM52.0 37.7h3.0v1.6h-3.0zM56.5 37.7h37.2v1.6h-37.2zM55.0 39.2h3.0v1.6h-3.0zM59.4 39.2h4.5v1.6h-4.5zM68.4 39.2h7.4v1.6h-7.4zM77.3 39.2h16.4v1.6h-16.4zM56.5 40.7h3.0v1.6h-3.0zM62.4 40.7h1.5v1.6h-1.5zM65.4 40.7h6.0v1.6h-6.0zM72.9 40.7h3.0v1.6h-3.0zM77.3 40.7h1.5v1.6h-1.5zM80.3 40.7h8.9v1.6h-8.9zM90.7 40.7h3.0v1.6h-3.0zM52.0 42.2h41.7v1.6h-41.7zM52.0 43.7h41.7v1.6h-41.7zM62.4 45.2h1.5v1.6h-1.5zM68.4 45.2h3.0v1.6h-3.0zM72.9 45.2h6.0v1.6h-6.0zM80.3 45.2h8.9v1.6h-8.9zM90.7 45.2h3.0v1.6h-3.0zM52.0 46.7h8.9v1.6h-8.9zM62.4 46.7h3.0v1.6h-3.0zM68.4 46.7h3.0v1.6h-3.0zM72.9 46.7h20.9v1.6h-20.9zM56.5 48.2h1.5v1.6h-1.5zM62.4 48.2h1.5v1.6h-1.5zM68.4 48.2h3.0v1.6h-3.0zM72.9 48.2h20.9v1.6h-20.9zM55.0 49.7h8.9v1.6h-8.9zM65.4 49.7h28.3v1.6h-28.3zM55.0 51.2h4.5v1.6h-4.5zM60.9 51.2h3.0v1.6h-3.0zM65.4 51.2h1.5v1.6h-1.5zM68.4 51.2h3.0v1.6h-3.0zM72.9 51.2h6.0v1.6h-6.0zM80.3 51.2h1.5v1.6h-1.5zM83.3 51.2h4.5v1.6h-4.5zM89.2 51.2h4.5v1.6h-4.5zM68.4 52.6h3.0v1.6h-3.0zM72.9 52.6h4.5v1.6h-4.5zM80.3 52.6h13.4v1.6h-13.4zM56.5 54.1h1.5v1.6h-1.5zM59.4 54.1h4.5v1.6h-4.5zM65.4 54.1h1.5v1.6h-1.5zM68.4 54.1h25.3v1.6h-25.3zM68.4 55.6h3.0v1.6h-3.0zM83.3 55.6h4.5v1.6h-4.5zM90.7 55.6h3.0v1.6h-3.0zM72.9 57.1h1.5v1.6h-1.5zM77.3 57.1h1.5v1.6h-1.5zM80.3 57.1h1.5v1.6h-1.5zM84.8 57.1h8.9v1.6h-8.9zM56.5 58.6h3.0v1.6h-3.0zM60.9 58.6h3.0v1.6h-3.0zM66.9 58.6h26.8v1.6h-26.8zM60.9 60.1h3.0v1.6h-3.0zM66.9 60.1h26.8v1.6h-26.8zM72.9 61.6h3.0v1.6h-3.0zM80.3 61.6h1.5v1.6h-1.5zM83.3 61.6h4.5v1.6h-4.5zM89.2 61.6h4.5v1.6h-4.5zM62.4 63.1h1.5v1.6h-1.5zM68.4 63.1h3.0v1.6h-3.0zM72.9 63.1h20.9v1.6h-20.9zM69.9 64.6h1.5v1.6h-1.5zM72.9 64.6h3.0v1.6h-3.0zM77.3 64.6h1.5v1.6h-1.5zM80.3 64.6h1.5v1.6h-1.5zM83.3 64.6h4.5v1.6h-4.5zM89.2 64.6h4.5v1.6h-4.5zM68.4 66.0h3.0v1.6h-3.0zM72.9 66.0h3.0v1.6h-3.0zM77.3 66.0h10.4v1.6h-10.4zM89.2 66.0h4.5v1.6h-4.5zM72.9 67.5h3.0v1.6h-3.0zM84.8 67.5h3.0v1.6h-3.0zM90.7 67.5h3.0v1.6h-3.0zM68.4 69.0h1.5v1.6h-1.5zM72.9 69.0h3.0v1.6h-3.0zM80.3 69.0h13.4v1.6h-13.4zM74.3 70.5h1.5v1.6h-1.5zM80.3 70.5h1.5v1.6h-1.5zM83.3 70.5h4.5v1.6h-4.5zM89.2 70.5h4.5v1.6h-4.5zM10.3 72.0h1.5v1.6h-1.5zM14.8 72.0h4.5v1.6h-4.5zM22.2 72.0h3.0v1.6h-3.0zM26.7 72.0h1.5v1.6h-1.5zM10.3 73.5h1.5v1.6h-1.5zM13.3 73.5h6.0v1.6h-6.0zM22.2 73.5h3.0v1.6h-3.0zM26.7 73.5h1.5v1.6h-1.5zM10.3 75.0h7.4v1.6h-7.4zM19.2 75.0h1.5v1.6h-1.5zM22.2 75.0h3.0v1.6h-3.0zM26.7 75.0h1.5v1.6h-1.5zM29.7 75.0h3.0v1.6h-3.0zM10.3 76.5h14.9v1.6h-14.9zM26.7 76.5h6.0v1.6h-6.0zM34.1 76.5h1.5v1.6h-1.5zM38.6 76.5h1.5v1.6h-1.5zM10.3 78.0h8.9v1.6h-8.9zM20.7 78.0h4.5v1.6h-4.5zM26.7 78.0h1.5v1.6h-1.5zM29.7 78.0h3.0v1.6h-3.0zM38.6 78.0h1.5v1.6h-1.5zM10.3 79.4h1.5v1.6h-1.5zM13.3 79.4h7.4v1.6h-7.4zM22.2 79.4h3.0v1.6h-3.0zM26.7 79.4h1.5v1.6h-1.5zM29.7 79.4h1.5v1.6h-1.5zM34.1 79.4h1.5v1.6h-1.5zM10.3 80.9h10.4v1.6h-10.4zM22.2 80.9h3.0v1.6h-3.0zM29.7 80.9h3.0v1.6h-3.0zM34.1 80.9h1.5v1.6h-1.5zM38.6 80.9h3.0v1.6h-3.0zM10.3 82.4h22.3v1.6h-22.3zM34.1 82.4h1.5v1.6h-1.5zM38.6 82.4h3.0v1.6h-3.0zM43.1 82.4h1.5v1.6h-1.5zM10.3 83.9h1.5v1.6h-1.5zM14.8 83.9h4.5v1.6h-4.5zM22.2 83.9h3.0v1.6h-3.0zM26.7 83.9h1.5v1.6h-1.5zM10.3 85.4h8.9v1.6h-8.9zM20.7 85.4h4.5v1.6h-4.5zM29.7 85.4h3.0v1.6h-3.0zM34.1 85.4h1.5v1.6h-1.5zM10.3 86.9h8.9v1.6h-8.9zM20.7 86.9h4.5v1.6h-4.5zM29.7 86.9h1.5v1.6h-1.5zM38.6 86.9h3.0v1.6h-3.0zM10.3 88.4h26.8v1.6h-26.8zM38.6 88.4h3.0v1.6h-3.0zM43.1 88.4h1.5v1.6h-1.5zM46.0 88.4h1.5v1.6h-1.5zM49.0 88.4h1.5v1.6h-1.5zM10.3 89.9h26.8v1.6h-26.8zM38.6 89.9h3.0v1.6h-3.0zM43.1 89.9h4.5v1.6h-4.5zM10.3 91.4h1.5v1.6h-1.5zM14.8 91.4h6.0v1.6h-6.0zM22.2 91.4h3.0v1.6h-3.0zM29.7 91.4h1.5v1.6h-1.5zM34.1 91.4h1.5v1.6h-1.5zM38.6 91.4h3.0v1.6h-3.0zM10.3 92.9h25.3v1.6h-25.3zM37.1 92.9h13.4v1.6h-13.4zM10.3 94.3h25.3v1.6h-25.3zM38.6 94.3h13.4v1.6h-13.4zM10.3 95.8h1.5v1.6h-1.5zM13.3 95.8h6.0v1.6h-6.0zM22.2 95.8h13.4v1.6h-13.4zM38.6 95.8h3.0v1.6h-3.0zM43.1 95.8h1.5v1.6h-1.5zM10.3 97.3h22.3v1.6h-22.3zM34.1 97.3h1.5v1.6h-1.5zM37.1 97.3h4.5v1.6h-4.5zM43.1 97.3h4.5v1.6h-4.5zM10.3 98.8h10.4v1.6h-10.4zM22.2 98.8h3.0v1.6h-3.0zM26.7 98.8h4.5v1.6h-4.5zM34.1 98.8h1.5v1.6h-1.5zM38.6 98.8h3.0v1.6h-3.0zM43.1 98.8h1.5v1.6h-1.5zM46.0 98.8h1.5v1.6h-1.5zM10.3 100.3h25.3v1.6h-25.3zM37.1 100.3h10.4v1.6h-10.4zM49.0 100.3h3.0v1.6h-3.0zM10.3 101.8h1.5v1.6h-1.5zM13.3 101.8h17.9v1.6h-17.9zM32.6 101.8h3.0v1.6h-3.0zM38.6 101.8h3.0v1.6h-3.0zM43.1 101.8h1.5v1.6h-1.5zM46.0 101.8h1.5v1.6h-1.5zM49.0 101.8h1.5v1.6h-1.5zM10.3 103.3h26.8v1.6h-26.8zM38.6 103.3h8.9v1.6h-8.9zM49.0 103.3h3.0v1.6h-3.0zM10.3 104.8h41.7v1.6h-41.7zM10.3 106.3h41.7v1.6h-41.7zM10.3 107.7h1.5v1.6h-1.5zM13.3 107.7h17.9v1.6h-17.9zM32.6 107.7h3.0v1.6h-3.0zM37.1 107.7h4.5v1.6h-4.5zM43.1 107.7h1.5v1.6h-1.5zM49.0 107.7h1.5v1.6h-1.5zM10.3 109.2h10.4v1.6h-10.4zM22.2 109.2h3.0v1.6h-3.0zM26.7 109.2h8.9v1.6h-8.9zM37.1 109.2h10.4v1.6h-10.4zM49.0 109.2h3.0v1.6h-3.0zM10.3 110.7h41.7v1.6h-41.7zM10.3 112.2h41.7v1.6h-41.7z" fill="#ffffff"/>
<path d="M38.6 30.3h3.0v1.6h-3.0zM43.1 30.3h8.9v1.6h-8.9zM49.0 31.8h6.0v1.6h-6.0zM59.4 31.8h1.5v1.6h-1.5zM63.9 31.8h1.5v1.6h-1.5zM71.4 31.8h1.5v1.6h-1.5zM75.8 31.8h1.5v1.6h-1.5zM81.8 31.8h1.5v1.6h-1.5zM87.7 31.8h1.5v1.6h-1.5zM43.1 33.3h1.5v1.6h-1.5zM63.9 33.3h1.5v1.6h-1.5zM71.4 33.3h1.5v1.6h-1.5zM44.6 34.8h3.0v1.6h-3.0zM49.0 34.8h3.0v1.6h-3.0zM38.6 36.3h3.0v1.6h-3.0zM43.1 36.3h1.5v1.6h-1.5zM46.0 36.3h6.0v1.6h-6.0zM49.0 37.7h1.5v1.6h-1.5zM55.0 37.7h1.5v1.6h-1.5zM52.0 39.2h3.0v1.6h-3.0zM58.0 39.2h1.5v1.6h-1.5zM63.9 39.2h4.5v1.6h-4.5zM75.8 39.2h1.5v1.6h-1.5zM49.0 40.7h1.5v1.6h-1.5zM52.0 40.7h4.5v1.6h-4.5zM59.4 40.7h3.0v1.6h-3.0zM63.9 40.7h1.5v1.6h-1.5zM71.4 40.7h1.5v1.6h-1.5zM75.8 40.7h1.5v1.6h-1.5zM78.8 40.7h1.5v1.6h-1.5zM89.2 40.7h1.5v1.6h-1.5zM46.0 42.2h1.5v1.6h-1.5zM49.0 42.2h3.0v1.6h-3.0zM43.1 43.7h1.5v1.6h-1.5zM46.0 43.7h6.0v1.6h-6.0zM52.0 45.2h10.4v1.6h-10.4zM63.9 45.2h4.5v1.6h-4.5zM71.4 45.2h1.5v1.6h-1.5zM78.8 45.2h1.5v1.6h-1.5zM89.2 45.2h1.5v1.6h-1.5zM60.9 46.7h1.5v1.6h-1.5zM65.4 46.7h3.0v1.6h-3.0zM71.4 46.7h1.5v1.6h-1.5zM52.0 48.2h4.5v1.6h-4.5zM58.0 48.2h4.5v1.6h-4.5zM63.9 48.2h4.5v1.6h-4.5zM71.4 48.2h1.5v1.6h-1.5zM52.0 49.7h3.0v1.6h-3.0zM63.9 49.7h1.5v1.6h-1.5zM52.0 51.2h3.0v1.6h-3.0zM59.4 51.2h1.5v1.6h-1.5zM63.9 51.2h1.5v1.6h-1.5zM66.9 51.2h1.5v1.6h-1.5zM71.4 51.2h1.5v1.6h-1.5zM78.8 51.2h1.5v1.6h-1.5zM81.8 51.2h1.5v1.6h-1.5zM87.7 51.2h1.5v1.6h-1.5zM52.0 52.6h16.4v1.6h-16.4zM71.4 52.6h1.5v1.6h-1.5zM77.3 52.6h3.0v1.6h-3.0zM52.0 54.1h4.5v1.6h-4.5zM58.0 54.1h1.5v1.6h-1.5zM63.9 54.1h1.5v1.6h-1.5zM66.9 54.1h1.5v1.6h-1.5zM52.0 55.6h16.4v1.6h-16.4zM71.4 55.6h11.9v1.6h-11.9zM87.7 55.6h3.0v1.6h-3.0zM53.5 57.1h19.4v1.6h-19.4zM74.3 57.1h3.0v1.6h-3.0zM78.8 57.1h1.5v1.6h-1.5zM81.8 57.1h3.0v1.6h-3.0zM10.3 58.6h1.5v1.6h-1.5zM16.3 58.6h1.5v1.6h-1.5zM52.0 58.6h4.5v1.6h-4.5zM59.4 58.6h1.5v1.6h-1.5zM63.9 58.6h3.0v1.6h-3.0zM10.3 60.1h1.5v1.6h-1.5zM16.3 60.1h1.5v1.6h-1.5zM52.0 60.1h8.9v1.6h-8.9zM63.9 60.1h3.0v1.6h-3.0zM52.0 61.6h20.9v1.6h-20.9zM75.8 61.6h4.5v1.6h-4.5zM81.8 61.6h1.5v1.6h-1.5zM87.7 61.6h1.5v1.6h-1.5zM10.3 63.1h1.5v1.6h-1.5zM13.3 63.1h1.5v1.6h-1.5zM16.3 63.1h1.5v1.6h-1.5zM23.7 63.1h1.5v1.6h-1.5zM52.0 63.1h10.4v1.6h-10.4zM63.9 63.1h4.5v1.6h-4.5zM71.4 63.1h1.5v1.6h-1.5zM10.3 64.6h1.5v1.6h-1.5zM14.8 64.6h1.5v1.6h-1.5zM52.0 64.6h17.9v1.6h-17.9zM71.4 64.6h1.5v1.6h-1.5zM75.8 64.6h1.5v1.6h-1.5zM78.8 64.6h1.5v1.6h-1.5zM81.8 64.6h1.5v1.6h-1.5zM87.7 64.6h1.5v1.6h-1.5zM10.3 66.0h1.5v1.6h-1.5zM14.8 66.0h3.0v1.6h-3.0zM22.2 66.0h3.0v1.6h-3.0zM52.0 66.0h16.4v1.6h-16.4zM71.4 66.0h1.5v1.6h-1.5zM75.8 66.0h1.5v1.6h-1.5zM87.7 66.0h1.5v1.6h-1.5zM10.3 67.5h1.5v1.6h-1.5zM16.3 67.5h1.5v1.6h-1.5zM23.7 67.5h1.5v1.6h-1.5zM53.5 67.5h19.4v1.6h-19.4zM75.8 67.5h8.9v1.6h-8.9zM87.7 67.5h3.0v1.6h-3.0zM10.3 69.0h3.0v1.6h-3.0zM14.8 69.0h4.5v1.6h-4.5zM20.7 69.0h4.5v1.6h-4.5zM53.5 69.0h14.9v1.6h-14.9zM69.9 69.0h3.0v1.6h-3.0zM75.8 69.0h4.5v1.6h-4.5zM10.3 70.5h3.0v1.6h-3.0zM14.8 70.5h3.0v1.6h-3.0zM22.2 70.5h3.0v1.6h-3.0zM56.5 70.5h17.9v1.6h-17.9zM75.8 70.5h4.5v1.6h-4.5zM81.8 70.5h1.5v1.6h-1.5zM87.7 70.5h1.5v1.6h-1.5zM11.8 72.0h1.5v1.6h-1.5zM19.2 72.0h3.0v1.6h-3.0zM25.2 72.0h1.5v1.6h-1.5zM28.2 72.0h8.9v1.6h-8.9zM38.6 72.0h8.9v1.6h-8.9zM84.8 72.0h3.0v1.6h-3.0zM92.2 72.0h1.5v1.6h-1.5zM11.8 73.5h1.5v1.6h-1.5zM19.2 73.5h3.0v1.6h-3.0zM25.2 73.5h1.5v1.6h-1.5zM28.2 73.5h22.3v1.6h-22.3zM84.8 73.5h1.5v1.6h-1.5zM92.2 73.5h1.5v1.6h-1.5zM17.7 75.0h1.5v1.6h-1.5zM20.7 75.0h1.5v1.6h-1.5zM25.2 75.0h1.5v1.6h-1.5zM28.2 75.0h1.5v1.6h-1.5zM32.6 75.0h17.9v1.6h-17.9zM84.8 75.0h3.0v1.6h-3.0zM90.7 75.0h3.0v1.6h-3.0zM25.2 76.5h1.5v1.6h-1.5zM32.6 76.5h1.5v1.6h-1.5zM35.6 76.5h3.0v1.6h-3.0zM40.1 76.5h11.9v1.6h-11.9zM90.7 76.5h1.5v1.6h-1.5zM19.2 78.0h1.5v1.6h-1.5zM25.2 78.0h1.5v1.6h-1.5zM28.2 78.0h1.5v1.6h-1.5zM32.6 78.0h6.0v1.6h-6.0zM40.1 78.0h11.9v1.6h-11.9zM90.7 78.0h3.0v1.6h-3.0zM11.8 79.4h1.5v1.6h-1.5zM20.7 79.4h1.5v1.6h-1.5zM25.2 79.4h1.5v1.6h-1.5zM28.2 79.4h1.5v1.6h-1.5zM31.2 79.4h3.0v1.6h-3.0zM35.6 79.4h16.4v1.6h-16.4zM20.7 80.9h1.5v1.6h-1.5zM25.2 80.9h4.5v1.6h-4.5zM32.6 80.9h1.5v1.6h-1.5zM35.6 80.9h3.0v1.6h-3.0zM41.6 80.9h10.4v1.6h-10.4zM32.6 82.4h1.5v1.6h-1.5zM35.6 82.4h3.0v1.6h-3.0zM41.6 82.4h1.5v1.6h-1.5zM44.6 82.4h7.4v1.6h-7.4zM90.7 82.4h3.0v1.6h-3.0zM11.8 83.9h3.0v1.6h-3.0zM19.2 83.9h3.0v1.6h-3.0zM25.2 83.9h1.5v1.6h-1.5zM28.2 83.9h23.8v1.6h-23.8zM19.2 85.4h1.5v1.6h-1.5zM25.2 85.4h4.5v1.6h-4.5zM32.6 85.4h1.5v1.6h-1.5zM35.6 85.4h16.4v1.6h-16.4zM19.2 86.9h1.5v1.6h-1.5zM25.2 86.9h4.5v1.6h-4.5zM31.2 86.9h7.4v1.6h-7.4zM41.6 86.9h10.4v1.6h-10.4zM37.1 88.4h1.5v1.6h-1.5zM41.6 88.4h1.5v1.6h-1.5zM44.6 88.4h1.5v1.6h-1.5zM47.5 88.4h1.5v1.6h-1.5zM50.5 88.4h1.5v1.6h-1.5zM37.1 89.9h1.5v1.6h-1.5zM41.6 89.9h1.5v1.6h-1.5zM47.5 89.9h4.5v1.6h-4.5zM11.8 91.4h3.0v1.6h-3.0zM20.7 91.4h1.5v1.6h-1.5zM25.2 91.4h4.5v1.6h-4.5zM31.2 91.4h3.0v1.6h-3.0zM35.6 91.4h3.0v1.6h-3.0zM41.6 91.4h10.4v1.6h-10.4zM35.6 92.9h1.5v1.6h-1.5zM50.5 92.9h1.5v1.6h-1.5zM35.6 94.3h3.0v1.6h-3.0zM11.8 95.8h1.5v1.6h-1.5zM19.2 95.8h3.0v1.6h-3.0zM35.6 95.8h3.0v1.6h-3.0zM41.6 95.8h1.5v1.6h-1.5zM44.6 95.8h7.4v1.6h-7.4zM32.6 97.3h1.5v1.6h-1.5zM35.6 97.3h1.5v1.6h-1.5zM41.6 97.3h1.5v1.6h-1.5zM47.5 97.3h4.5v1.6h-4.5zM20.7 98.8h1.5v1.6h-1.5zM25.2 98.8h1.5v1.6h-1.5zM31.2 98.8h3.0v1.6h-3.0zM35.6 98.8h3.0v1.6h-3.0zM41.6 98.8h1.5v1.6h-1.5zM44.6 98.8h1.5v1.6h-1.5zM47.5 98.8h4.5v1.6h-4.5zM35.6 100.3h1.5v1.6h-1.5zM47.5 100.3h1.5v1.6h-1.5zM11.8 101.8h1.5v1.6h-1.5zM31.2 101.8h1.5v1.6h-1.5zM35.6 101.8h3.0v1.6h-3.0zM41.6 101.8h1.5v1.6h-1.5zM44.6 101.8h1.5v1.6h-1.5zM47.5 101.8h1.5v1.6h-1.5zM50.5 101.8h1.5v1.6h-1.5zM37.1 103.3h1.5v1.6h-1.5zM47.5 103.3h1.5v1.6h-1.5zM52.0 104.8h4.5v1.6h-4.5zM52.0 106.3h1.5v1.6h-1.5zM55.0 106.3h1.5v1.6h-1.5zM11.8 107.7h1.5v1.6h-1.5zM31.2 107.7h1.5v1.6h-1.5zM35.6 107.7h1.5v1.6h-1.5zM41.6 107.7h1.5v1.6h-1.5zM44.6 107.7h4.5v1.6h-4.5zM50.5 107.7h1.5v1.6h-1.5zM20.7 109.2h1.5v1.6h-1.5zM25.2 109.2h1.5v1.6h-1.5zM35.6 109.2h1.5v1.6h-1.5zM47.5 109.2h1.5v1.6h-1.5zM55.0 110.7h4.5v1.6h-4.5zM62.4 110.7h1.5v1.6h-1.5zM52.0 112.2h4.5v1.6h-4.5zM58.0 112.2h1.5v1.6h-1.5zM62.4 112.2h1.5v1.6h-1.5z" fill="#ffebeb"/>
<path d="M23.7 30.3h1.5v1.6h-1.5zM28.2 30.3h10.4v1.6h-10.4zM41.6 30.3h1.5v1.6h-1.5zM34.1 31.8h1.5v1.6h-1.5zM38.6 31.8h10.4v1.6h-10.4zM34.1 33.3h1.5v1.6h-1.5zM38.6 33.3h4.5v1.6h-4.5zM44.6 33.3h7.4v1.6h-7.4zM29.7 34.8h1.5v1.6h-1.5zM34.1 34.8h1.5v1.6h-1.5zM37.1 34.8h7.4v1.6h-7.4zM47.5 34.8h1.5v1.6h-1.5zM29.7 36.3h7.4v1.6h-7.4zM41.6 36.3h1.5v1.6h-1.5zM44.6 36.3h1.5v1.6h-1.5zM37.1 37.7h11.9v1.6h-11.9zM50.5 37.7h1.5v1.6h-1.5zM38.6 39.2h13.4v1.6h-13.4zM43.1 40.7h6.0v1.6h-6.0zM50.5 40.7h1.5v1.6h-1.5zM38.6 42.2h3.0v1.6h-3.0zM43.1 42.2h3.0v1.6h-3.0zM47.5 42.2h1.5v1.6h-1.5zM10.3 43.7h1.5v1.6h-1.5zM38.6 43.7h4.5v1.6h-4.5zM44.6 43.7h1.5v1.6h-1.5zM46.0 45.2h1.5v1.6h-1.5zM49.0 45.2h3.0v1.6h-3.0zM46.0 46.7h6.0v1.6h-6.0zM10.3 48.2h1.5v1.6h-1.5zM49.0 48.2h3.0v1.6h-3.0zM10.3 49.7h1.5v1.6h-1.5zM14.8 49.7h3.0v1.6h-3.0zM43.1 49.7h1.5v1.6h-1.5zM46.0 49.7h6.0v1.6h-6.0zM10.3 51.2h1.5v1.6h-1.5zM16.3 51.2h1.5v1.6h-1.5zM49.0 51.2h1.5v1.6h-1.5zM10.3 52.6h1.5v1.6h-1.5zM16.3 52.6h1.5v1.6h-1.5zM49.0 52.6h3.0v1.6h-3.0zM10.3 54.1h7.4v1.6h-7.4zM49.0 54.1h3.0v1.6h-3.0zM10.3 55.6h1.5v1.6h-1.5zM16.3 55.6h1.5v1.6h-1.5zM10.3 57.1h1.5v1.6h-1.5zM14.8 57.1h1.5v1.6h-1.5zM17.7 57.1h1.5v1.6h-1.5zM11.8 58.6h4.5v1.6h-4.5zM17.7 58.6h3.0v1.6h-3.0zM22.2 58.6h3.0v1.6h-3.0zM11.8 60.1h4.5v1.6h-4.5zM17.7 60.1h3.0v1.6h-3.0zM22.2 60.1h3.0v1.6h-3.0zM10.3 61.6h10.4v1.6h-10.4zM23.7 61.6h1.5v1.6h-1.5zM11.8 63.1h1.5v1.6h-1.5zM14.8 63.1h1.5v1.6h-1.5zM17.7 63.1h6.0v1.6h-6.0zM29.7 63.1h1.5v1.6h-1.5zM11.8 64.6h3.0v1.6h-3.0zM16.3 64.6h8.9v1.6h-8.9zM11.8 66.0h3.0v1.6h-3.0zM17.7 66.0h4.5v1.6h-4.5zM25.2 66.0h3.0v1.6h-3.0zM29.7 66.0h1.5v1.6h-1.5zM11.8 67.5h4.5v1.6h-4.5zM17.7 67.5h6.0v1.6h-6.0zM26.7 67.5h1.5v1.6h-1.5zM29.7 67.5h1.5v1.6h-1.5zM52.0 67.5h1.5v1.6h-1.5zM13.3 69.0h1.5v1.6h-1.5zM19.2 69.0h1.5v1.6h-1.5zM25.2 69.0h10.4v1.6h-10.4zM52.0 69.0h1.5v1.6h-1.5zM13.3 70.5h1.5v1.6h-1.5zM17.7 70.5h4.5v1.6h-4.5zM25.2 70.5h6.0v1.6h-6.0zM32.6 70.5h3.0v1.6h-3.0zM53.5 70.5h3.0v1.6h-3.0zM47.5 72.0h3.0v1.6h-3.0zM68.4 72.0h16.4v1.6h-16.4zM87.7 72.0h4.5v1.6h-4.5zM50.5 73.5h1.5v1.6h-1.5zM72.9 73.5h3.0v1.6h-3.0zM77.3 73.5h7.4v1.6h-7.4zM86.3 73.5h6.0v1.6h-6.0zM50.5 75.0h1.5v1.6h-1.5zM68.4 75.0h1.5v1.6h-1.5zM72.9 75.0h11.9v1.6h-11.9zM87.7 75.0h3.0v1.6h-3.0zM74.3 76.5h16.4v1.6h-16.4zM92.2 76.5h1.5v1.6h-1.5zM72.9 78.0h4.5v1.6h-4.5zM80.3 78.0h10.4v1.6h-10.4zM80.3 79.4h13.4v1.6h-13.4zM83.3 80.9h10.4v1.6h-10.4zM80.3 82.4h10.4v1.6h-10.4zM84.8 83.9h8.9v1.6h-8.9zM84.8 85.4h1.5v1.6h-1.5zM87.7 85.4h6.0v1.6h-6.0zM90.7 86.9h3.0v1.6h-3.0zM52.0 88.4h1.5v1.6h-1.5zM55.0 88.4h1.5v1.6h-1.5zM84.8 88.4h4.5v1.6h-4.5zM90.7 88.4h3.0v1.6h-3.0zM52.0 89.9h1.5v1.6h-1.5zM90.7 89.9h3.0v1.6h-3.0zM52.0 91.4h1.5v1.6h-1.5zM52.0 92.9h4.5v1.6h-4.5zM58.0 92.9h1.5v1.6h-1.5zM90.7 92.9h3.0v1.6h-3.0zM52.0 94.3h7.4v1.6h-7.4zM92.2 94.3h1.5v1.6h-1.5zM52.0 95.8h1.5v1.6h-1.5zM55.0 95.8h4.5v1.6h-4.5zM52.0 97.3h6.0v1.6h-6.0zM52.0 98.8h6.0v1.6h-6.0zM52.0 100.3h8.9v1.6h-8.9zM62.4 100.3h1.5v1.6h-1.5zM52.0 101.8h8.9v1.6h-8.9zM62.4 101.8h1.5v1.6h-1.5zM52.0 103.3h11.9v1.6h-11.9zM56.5 104.8h10.4v1.6h-10.4zM68.4 104.8h1.5v1.6h-1.5zM53.5 106.3h1.5v1.6h-1.5zM56.5 106.3h8.9v1.6h-8.9zM68.4 106.3h1.5v1.6h-1.5zM52.0 107.7h14.9v1.6h-14.9zM68.4 107.7h1.5v1.6h-1.5zM52.0 109.2h14.9v1.6h-14.9zM52.0 110.7h3.0v1.6h-3.0zM59.4 110.7h3.0v1.6h-3.0zM63.9 110.7h7.4v1.6h-7.4zM72.9 110.7h1.5v1.6h-1.5zM56.5 112.2h1.5v1.6h-1.5zM59.4 112.2h3.0v1.6h-3.0zM63.9 112.2h7.4v1.6h-7.4zM72.9 112.2h3.0v1.6h-3.0z" fill="#ffd8d8"/>
<path d="M22.2 30.3h1.5v1.6h-1.5zM25.2 30.3h3.0v1.6h-3.0zM23.7 31.8h1.5v1.6h-1.5zM29.7 31.8h4.5v1.6h-4.5zM35.6 31.8h3.0v1.6h-3.0zM23.7 33.3h1.5v1.6h-1.5zM29.7 33.3h4.5v1.6h-4.5zM23.7 34.8h1.5v1.6h-1.5zM31.2 34.8h3.0v1.6h-3.0zM35.6 34.8h1.5v1.6h-1.5zM23.7 36.3h1.5v1.6h-1.5zM26.7 36.3h1.5v1.6h-1.5zM37.1 36.3h1.5v1.6h-1.5zM29.7 37.7h3.0v1.6h-3.0zM34.1 37.7h3.0v1.6h-3.0zM34.1 39.2h4.5v1.6h-4.5zM38.6 40.7h4.5v1.6h-4.5zM10.3 42.2h1.5v1.6h-1.5zM34.1 42.2h4.5v1.6h-4.5zM41.6 42.2h1.5v1.6h-1.5zM11.8 43.7h6.0v1.6h-6.0zM29.7 43.7h8.9v1.6h-8.9zM10.3 45.2h1.5v1.6h-1.5zM40.1 45.2h6.0v1.6h-6.0zM47.5 45.2h1.5v1.6h-1.5zM10.3 46.7h1.5v1.6h-1.5zM16.3 46.7h1.5v1.6h-1.5zM40.1 46.7h6.0v1.6h-6.0zM43.1 48.2h6.0v1.6h-6.0zM11.8 49.7h3.0v1.6h-3.0zM17.7 49.7h1.5v1.6h-1.5zM23.7 49.7h1.5v1.6h-1.5zM38.6 49.7h4.5v1.6h-4.5zM44.6 49.7h1.5v1.6h-1.5zM11.8 51.2h4.5v1.6h-4.5zM17.7 51.2h1.5v1.6h-1.5zM23.7 51.2h1.5v1.6h-1.5zM43.1 51.2h6.0v1.6h-6.0zM50.5 51.2h1.5v1.6h-1.5zM11.8 52.6h4.5v1.6h-4.5zM23.7 52.6h1.5v1.6h-1.5zM17.7 54.1h3.0v1.6h-3.0zM22.2 54.1h3.0v1.6h-3.0zM46.0 54.1h1.5v1.6h-1.5zM11.8 55.6h1.5v1.6h-1.5zM14.8 55.6h1.5v1.6h-1.5zM17.7 55.6h3.0v1.6h-3.0zM22.2 55.6h3.0v1.6h-3.0zM49.0 55.6h3.0v1.6h-3.0zM11.8 57.1h1.5v1.6h-1.5zM16.3 57.1h1.5v1.6h-1.5zM19.2 57.1h1.5v1.6h-1.5zM22.2 57.1h3.0v1.6h-3.0zM20.7 58.6h1.5v1.6h-1.5zM29.7 58.6h1.5v1.6h-1.5zM49.0 58.6h3.0v1.6h-3.0zM20.7 60.1h1.5v1.6h-1.5zM25.2 60.1h3.0v1.6h-3.0zM29.7 60.1h1.5v1.6h-1.5zM20.7 61.6h3.0v1.6h-3.0zM25.2 61.6h3.0v1.6h-3.0zM29.7 61.6h1.5v1.6h-1.5zM25.2 63.1h4.5v1.6h-4.5zM31.2 63.1h1.5v1.6h-1.5zM25.2 64.6h7.4v1.6h-7.4zM28.2 66.0h1.5v1.6h-1.5zM31.2 66.0h1.5v1.6h-1.5zM34.1 66.0h1.5v1.6h-1.5zM25.2 67.5h1.5v1.6h-1.5zM28.2 67.5h1.5v1.6h-1.5zM31.2 67.5h1.5v1.6h-1.5zM35.6 69.0h1.5v1.6h-1.5zM38.6 69.0h1.5v1.6h-1.5zM31.2 70.5h1.5v1.6h-1.5zM35.6 70.5h1.5v1.6h-1.5zM38.6 70.5h1.5v1.6h-1.5zM62.4 72.0h1.5v1.6h-1.5zM68.4 73.5h4.5v1.6h-4.5zM75.8 73.5h1.5v1.6h-1.5zM69.9 75.0h3.0v1.6h-3.0zM68.4 76.5h6.0v1.6h-6.0zM69.9 78.0h1.5v1.6h-1.5zM77.3 78.0h3.0v1.6h-3.0zM72.9 79.4h7.4v1.6h-7.4zM72.9 80.9h3.0v1.6h-3.0zM77.3 80.9h6.0v1.6h-6.0zM52.0 82.4h1.5v1.6h-1.5zM72.9 82.4h7.4v1.6h-7.4zM80.3 83.9h4.5v1.6h-4.5zM80.3 85.4h1.5v1.6h-1.5zM83.3 85.4h1.5v1.6h-1.5zM86.3 85.4h1.5v1.6h-1.5zM80.3 86.9h1.5v1.6h-1.5zM83.3 86.9h7.4v1.6h-7.4zM53.5 88.4h1.5v1.6h-1.5zM56.5 88.4h1.5v1.6h-1.5zM80.3 88.4h4.5v1.6h-4.5zM89.2 88.4h1.5v1.6h-1.5zM53.5 89.9h6.0v1.6h-6.0zM83.3 89.9h7.4v1.6h-7.4zM53.5 91.4h4.5v1.6h-4.5zM90.7 91.4h3.0v1.6h-3.0zM56.5 92.9h1.5v1.6h-1.5zM59.4 92.9h4.5v1.6h-4.5zM84.8 92.9h6.0v1.6h-6.0zM59.4 94.3h4.5v1.6h-4.5zM89.2 94.3h3.0v1.6h-3.0zM53.5 95.8h1.5v1.6h-1.5zM59.4 95.8h1.5v1.6h-1.5zM62.4 95.8h1.5v1.6h-1.5zM90.7 95.8h3.0v1.6h-3.0zM58.0 97.3h6.0v1.6h-6.0zM92.2 97.3h1.5v1.6h-1.5zM58.0 98.8h6.0v1.6h-6.0zM60.9 100.3h1.5v1.6h-1.5zM63.9 100.3h6.0v1.6h-6.0zM60.9 101.8h1.5v1.6h-1.5zM63.9 101.8h1.5v1.6h-1.5zM68.4 101.8h1.5v1.6h-1.5zM63.9 103.3h7.4v1.6h-7.4zM66.9 104.8h1.5v1.6h-1.5zM69.9 104.8h1.5v1.6h-1.5zM72.9 104.8h1.5v1.6h-1.5zM65.4 106.3h3.0v1.6h-3.0zM69.9 106.3h1.5v1.6h-1.5zM72.9 106.3h1.5v1.6h-1.5zM66.9 107.7h1.5v1.6h-1.5zM69.9 107.7h1.5v1.6h-1.5zM72.9 107.7h1.5v1.6h-1.5zM66.9 109.2h4.5v1.6h-4.5zM72.9 109.2h3.0v1.6h-3.0zM71.4 110.7h1.5v1.6h-1.5zM74.3 110.7h3.0v1.6h-3.0zM71.4 112.2h1.5v1.6h-1.5zM75.8 112.2h3.0v1.6h-3.0z" fill="#ffc4c4"/>
<path d="M20.7 30.3h1.5v1.6h-1.5zM22.2 31.8h1.5v1.6h-1.5zM26.7 31.8h3.0v1.6h-3.0zM26.7 33.3h3.0v1.6h-3.0zM25.2 34.8h4.5v1.6h-4.5zM25.2 36.3h1.5v1.6h-1.5zM28.2 36.3h1.5v1.6h-1.5zM23.7 37.7h1.5v1.6h-1.5zM32.6 37.7h1.5v1.6h-1.5zM29.7 39.2h4.5v1.6h-4.5zM10.3 40.7h1.5v1.6h-1.5zM34.1 40.7h4.5v1.6h-4.5zM11.8 42.2h1.5v1.6h-1.5zM29.7 42.2h4.5v1.6h-4.5zM17.7 43.7h1.5v1.6h-1.5zM14.8 45.2h3.0v1.6h-3.0zM38.6 45.2h1.5v1.6h-1.5zM11.8 46.7h4.5v1.6h-4.5zM38.6 46.7h1.5v1.6h-1.5zM11.8 48.2h6.0v1.6h-6.0zM40.1 48.2h3.0v1.6h-3.0zM19.2 49.7h1.5v1.6h-1.5zM22.2 49.7h1.5v1.6h-1.5zM19.2 51.2h1.5v1.6h-1.5zM22.2 51.2h1.5v1.6h-1.5zM40.1 51.2h1.5v1.6h-1.5zM17.7 52.6h3.0v1.6h-3.0zM22.2 52.6h1.5v1.6h-1.5zM44.6 52.6h4.5v1.6h-4.5zM20.7 54.1h1.5v1.6h-1.5zM43.1 54.1h3.0v1.6h-3.0zM47.5 54.1h1.5v1.6h-1.5zM20.7 55.6h1.5v1.6h-1.5zM20.7 57.1h1.5v1.6h-1.5zM49.0 57.1h3.0v1.6h-3.0zM25.2 58.6h3.0v1.6h-3.0zM46.0 58.6h3.0v1.6h-3.0zM28.2 60.1h1.5v1.6h-1.5zM31.2 60.1h1.5v1.6h-1.5zM47.5 60.1h4.5v1.6h-4.5zM28.2 61.6h1.5v1.6h-1.5zM49.0 61.6h1.5v1.6h-1.5zM34.1 63.1h1.5v1.6h-1.5zM32.6 64.6h3.0v1.6h-3.0zM32.6 66.0h1.5v1.6h-1.5zM38.6 66.0h1.5v1.6h-1.5zM32.6 67.5h3.0v1.6h-3.0zM38.6 67.5h3.0v1.6h-3.0zM37.1 69.0h1.5v1.6h-1.5zM40.1 69.0h3.0v1.6h-3.0zM37.1 70.5h1.5v1.6h-1.5zM40.1 70.5h1.5v1.6h-1.5zM60.9 72.0h1.5v1.6h-1.5zM63.9 72.0h4.5v1.6h-4.5zM62.4 73.5h1.5v1.6h-1.5zM65.4 73.5h3.0v1.6h-3.0zM62.4 75.0h1.5v1.6h-1.5zM65.4 75.0h3.0v1.6h-3.0zM62.4 76.5h1.5v1.6h-1.5zM66.9 76.5h1.5v1.6h-1.5zM68.4 78.0h1.5v1.6h-1.5zM71.4 78.0h1.5v1.6h-1.5zM69.9 79.4h3.0v1.6h-3.0zM52.0 80.9h1.5v1.6h-1.5zM69.9 80.9h3.0v1.6h-3.0zM75.8 80.9h1.5v1.6h-1.5zM53.5 82.4h4.5v1.6h-4.5zM69.9 82.4h3.0v1.6h-3.0zM52.0 83.9h1.5v1.6h-1.5zM74.3 83.9h1.5v1.6h-1.5zM77.3 83.9h1.5v1.6h-1.5zM52.0 85.4h4.5v1.6h-4.5zM77.3 85.4h3.0v1.6h-3.0zM81.8 85.4h1.5v1.6h-1.5zM52.0 86.9h6.0v1.6h-6.0zM81.8 86.9h1.5v1.6h-1.5zM58.0 88.4h1.5v1.6h-1.5zM78.8 88.4h1.5v1.6h-1.5zM59.4 89.9h4.5v1.6h-4.5zM80.3 89.9h3.0v1.6h-3.0zM58.0 91.4h6.0v1.6h-6.0zM84.8 91.4h6.0v1.6h-6.0zM83.3 92.9h1.5v1.6h-1.5zM63.9 94.3h1.5v1.6h-1.5zM83.3 94.3h6.0v1.6h-6.0zM60.9 95.8h1.5v1.6h-1.5zM86.3 95.8h4.5v1.6h-4.5zM63.9 97.3h3.0v1.6h-3.0zM90.7 97.3h1.5v1.6h-1.5zM65.4 98.8h1.5v1.6h-1.5zM68.4 98.8h1.5v1.6h-1.5zM69.9 100.3h1.5v1.6h-1.5zM90.7 100.3h3.0v1.6h-3.0zM65.4 101.8h3.0v1.6h-3.0zM69.9 101.8h1.5v1.6h-1.5zM72.9 103.3h3.0v1.6h-3.0zM71.4 104.8h1.5v1.6h-1.5zM74.3 104.8h1.5v1.6h-1.5zM71.4 106.3h1.5v1.6h-1.5zM74.3 106.3h3.0v1.6h-3.0zM71.4 107.7h1.5v1.6h-1.5zM74.3 107.7h3.0v1.6h-3.0zM71.4 109.2h1.5v1.6h-1.5zM75.8 109.2h1.5v1.6h-1.5zM77.3 110.7h1.5v1.6h-1.5zM80.3 110.7h1.5v1.6h-1.5zM80.3 112.2h1.5v1.6h-1.5z" fill="#ffb1b1"/>
<path d="M16.3 30.3h1.5v1.6h-1.5zM19.2 30.3h1.5v1.6h-1.5zM25.2 31.8h1.5v1.6h-1.5zM22.2 34.8h1.5v1.6h-1.5zM10.3 36.3h1.5v1.6h-1.5zM22.2 36.3h1.5v1.6h-1.5zM26.7 37.7h3.0v1.6h-3.0zM10.3 39.2h1.5v1.6h-1.5zM29.7 40.7h1.5v1.6h-1.5zM32.6 40.7h1.5v1.6h-1.5zM14.8 42.2h3.0v1.6h-3.0zM11.8 45.2h1.5v1.6h-1.5zM37.1 45.2h1.5v1.6h-1.5zM17.7 46.7h1.5v1.6h-1.5zM34.1 46.7h1.5v1.6h-1.5zM37.1 46.7h1.5v1.6h-1.5zM17.7 48.2h1.5v1.6h-1.5zM38.6 48.2h1.5v1.6h-1.5zM20.7 49.7h1.5v1.6h-1.5zM38.6 51.2h1.5v1.6h-1.5zM41.6 51.2h1.5v1.6h-1.5zM20.7 52.6h1.5v1.6h-1.5zM41.6 52.6h3.0v1.6h-3.0zM26.7 54.1h1.5v1.6h-1.5zM44.6 55.6h4.5v1.6h-4.5zM25.2 57.1h3.0v1.6h-3.0zM47.5 57.1h1.5v1.6h-1.5zM52.0 57.1h1.5v1.6h-1.5zM28.2 58.6h1.5v1.6h-1.5zM31.2 58.6h1.5v1.6h-1.5zM31.2 61.6h3.0v1.6h-3.0zM50.5 61.6h1.5v1.6h-1.5zM32.6 63.1h1.5v1.6h-1.5zM49.0 63.1h3.0v1.6h-3.0zM35.6 64.6h1.5v1.6h-1.5zM35.6 66.0h1.5v1.6h-1.5zM35.6 67.5h3.0v1.6h-3.0zM43.1 69.0h1.5v1.6h-1.5zM41.6 70.5h3.0v1.6h-3.0zM37.1 72.0h1.5v1.6h-1.5zM59.4 72.0h1.5v1.6h-1.5zM60.9 73.5h1.5v1.6h-1.5zM63.9 73.5h1.5v1.6h-1.5zM63.9 76.5h3.0v1.6h-3.0zM65.4 78.0h3.0v1.6h-3.0zM52.0 79.4h1.5v1.6h-1.5zM68.4 79.4h1.5v1.6h-1.5zM53.5 80.9h1.5v1.6h-1.5zM68.4 80.9h1.5v1.6h-1.5zM53.5 83.9h1.5v1.6h-1.5zM56.5 83.9h1.5v1.6h-1.5zM69.9 83.9h1.5v1.6h-1.5zM72.9 83.9h1.5v1.6h-1.5zM75.8 83.9h1.5v1.6h-1.5zM78.8 83.9h1.5v1.6h-1.5zM56.5 85.4h3.0v1.6h-3.0zM72.9 85.4h3.0v1.6h-3.0zM58.0 86.9h1.5v1.6h-1.5zM74.3 86.9h6.0v1.6h-6.0zM59.4 88.4h3.0v1.6h-3.0zM75.8 88.4h3.0v1.6h-3.0zM63.9 89.9h1.5v1.6h-1.5zM77.3 89.9h3.0v1.6h-3.0zM80.3 91.4h1.5v1.6h-1.5zM83.3 91.4h1.5v1.6h-1.5zM63.9 92.9h3.0v1.6h-3.0zM80.3 92.9h3.0v1.6h-3.0zM65.4 94.3h3.0v1.6h-3.0zM63.9 95.8h1.5v1.6h-1.5zM66.9 95.8h3.0v1.6h-3.0zM84.8 95.8h1.5v1.6h-1.5zM66.9 97.3h4.5v1.6h-4.5zM87.7 97.3h3.0v1.6h-3.0zM63.9 98.8h1.5v1.6h-1.5zM66.9 98.8h1.5v1.6h-1.5zM69.9 98.8h1.5v1.6h-1.5zM89.2 98.8h4.5v1.6h-4.5zM71.4 100.3h3.0v1.6h-3.0zM89.2 100.3h1.5v1.6h-1.5zM72.9 101.8h1.5v1.6h-1.5zM92.2 101.8h1.5v1.6h-1.5zM71.4 103.3h1.5v1.6h-1.5zM90.7 103.3h3.0v1.6h-3.0zM75.8 104.8h1.5v1.6h-1.5zM77.3 107.7h1.5v1.6h-1.5zM77.3 109.2h4.5v1.6h-4.5zM78.8 110.7h1.5v1.6h-1.5zM83.3 110.7h1.5v1.6h-1.5zM78.8 112.2h1.5v1.6h-1.5zM81.8 112.2h3.0v1.6h-3.0z" fill="#ff9d9d"/>
<path d="M17.7 30.3h1.5v1.6h-1.5zM19.2 31.8h1.5v1.6h-1.5zM22.2 33.3h1.5v1.6h-1.5zM25.2 33.3h1.5v1.6h-1.5zM10.3 37.7h1.5v1.6h-1.5zM11.8 39.2h1.5v1.6h-1.5zM23.7 39.2h1.5v1.6h-1.5zM26.7 39.2h3.0v1.6h-3.0zM31.2 40.7h1.5v1.6h-1.5zM13.3 42.2h1.5v1.6h-1.5zM19.2 43.7h1.5v1.6h-1.5zM13.3 45.2h1.5v1.6h-1.5zM34.1 45.2h3.0v1.6h-3.0zM19.2 46.7h1.5v1.6h-1.5zM35.6 46.7h1.5v1.6h-1.5zM19.2 48.2h1.5v1.6h-1.5zM34.1 48.2h1.5v1.6h-1.5zM37.1 48.2h1.5v1.6h-1.5zM20.7 51.2h1.5v1.6h-1.5zM38.6 52.6h3.0v1.6h-3.0zM25.2 54.1h1.5v1.6h-1.5zM28.2 54.1h1.5v1.6h-1.5zM40.1 54.1h3.0v1.6h-3.0zM25.2 55.6h3.0v1.6h-3.0zM43.1 55.6h1.5v1.6h-1.5zM28.2 57.1h1.5v1.6h-1.5zM46.0 57.1h1.5v1.6h-1.5zM32.6 58.6h1.5v1.6h-1.5zM43.1 58.6h3.0v1.6h-3.0zM32.6 60.1h3.0v1.6h-3.0zM34.1 61.6h1.5v1.6h-1.5zM35.6 63.1h1.5v1.6h-1.5zM38.6 63.1h1.5v1.6h-1.5zM38.6 64.6h1.5v1.6h-1.5zM50.5 64.6h1.5v1.6h-1.5zM37.1 66.0h1.5v1.6h-1.5zM44.6 70.5h1.5v1.6h-1.5zM56.5 72.0h3.0v1.6h-3.0zM60.9 75.0h1.5v1.6h-1.5zM63.9 75.0h1.5v1.6h-1.5zM52.0 76.5h1.5v1.6h-1.5zM60.9 76.5h1.5v1.6h-1.5zM52.0 78.0h1.5v1.6h-1.5zM65.4 79.4h3.0v1.6h-3.0zM55.0 80.9h3.0v1.6h-3.0zM66.9 80.9h1.5v1.6h-1.5zM66.9 82.4h3.0v1.6h-3.0zM55.0 83.9h1.5v1.6h-1.5zM59.4 85.4h1.5v1.6h-1.5zM75.8 85.4h1.5v1.6h-1.5zM59.4 86.9h4.5v1.6h-4.5zM72.9 86.9h1.5v1.6h-1.5zM62.4 88.4h1.5v1.6h-1.5zM74.3 88.4h1.5v1.6h-1.5zM81.8 91.4h1.5v1.6h-1.5zM66.9 92.9h1.5v1.6h-1.5zM68.4 94.3h1.5v1.6h-1.5zM80.3 94.3h3.0v1.6h-3.0zM65.4 95.8h1.5v1.6h-1.5zM83.3 95.8h1.5v1.6h-1.5zM84.8 97.3h3.0v1.6h-3.0zM86.3 98.8h1.5v1.6h-1.5zM74.3 100.3h1.5v1.6h-1.5zM87.7 100.3h1.5v1.6h-1.5zM71.4 101.8h1.5v1.6h-1.5zM74.3 101.8h1.5v1.6h-1.5zM90.7 101.8h1.5v1.6h-1.5zM75.8 103.3h1.5v1.6h-1.5zM77.3 104.8h1.5v1.6h-1.5zM90.7 104.8h3.0v1.6h-3.0zM77.3 106.3h3.0v1.6h-3.0zM80.3 107.7h1.5v1.6h-1.5zM81.8 110.7h1.5v1.6h-1.5zM84.8 110.7h1.5v1.6h-1.5zM84.8 112.2h1.5v1.6h-1.5z" fill="#ff8989"/>
<path d="M20.7 31.8h1.5v1.6h-1.5zM20.7 33.3h1.5v1.6h-1.5zM20.7 34.8h1.5v1.6h-1.5zM25.2 37.7h1.5v1.6h-1.5zM11.8 40.7h4.5v1.6h-4.5zM26.7 42.2h1.5v1.6h-1.5zM26.7 43.7h3.0v1.6h-3.0zM17.7 45.2h1.5v1.6h-1.5zM31.2 45.2h3.0v1.6h-3.0zM22.2 46.7h3.0v1.6h-3.0zM23.7 48.2h1.5v1.6h-1.5zM35.6 48.2h1.5v1.6h-1.5zM34.1 49.7h4.5v1.6h-4.5zM25.2 51.2h1.5v1.6h-1.5zM25.2 52.6h1.5v1.6h-1.5zM29.7 54.1h1.5v1.6h-1.5zM28.2 55.6h3.0v1.6h-3.0zM29.7 57.1h1.5v1.6h-1.5zM43.1 57.1h3.0v1.6h-3.0zM44.6 60.1h3.0v1.6h-3.0zM37.1 63.1h1.5v1.6h-1.5zM37.1 64.6h1.5v1.6h-1.5zM40.1 64.6h1.5v1.6h-1.5zM49.0 64.6h1.5v1.6h-1.5zM40.1 66.0h1.5v1.6h-1.5zM44.6 69.0h1.5v1.6h-1.5zM62.4 78.0h3.0v1.6h-3.0zM58.0 82.4h1.5v1.6h-1.5zM58.0 83.9h1.5v1.6h-1.5zM68.4 83.9h1.5v1.6h-1.5zM63.9 88.4h1.5v1.6h-1.5zM72.9 88.4h1.5v1.6h-1.5zM74.3 89.9h3.0v1.6h-3.0zM78.8 91.4h1.5v1.6h-1.5zM68.4 92.9h1.5v1.6h-1.5zM77.3 92.9h3.0v1.6h-3.0zM69.9 94.3h1.5v1.6h-1.5zM69.9 95.8h1.5v1.6h-1.5zM72.9 97.3h1.5v1.6h-1.5zM83.3 97.3h1.5v1.6h-1.5zM71.4 98.8h3.0v1.6h-3.0zM84.8 98.8h1.5v1.6h-1.5zM87.7 98.8h1.5v1.6h-1.5zM86.3 100.3h1.5v1.6h-1.5zM77.3 103.3h1.5v1.6h-1.5zM78.8 104.8h1.5v1.6h-1.5zM80.3 106.3h1.5v1.6h-1.5zM92.2 106.3h1.5v1.6h-1.5zM78.8 107.7h1.5v1.6h-1.5zM86.3 112.2h1.5v1.6h-1.5z" fill="#ff7676"/>
<path d="M19.2 33.3h1.5v1.6h-1.5zM20.7 36.3h1.5v1.6h-1.5zM13.3 39.2h1.5v1.6h-1.5zM16.3 40.7h1.5v1.6h-1.5zM23.7 40.7h1.5v1.6h-1.5zM26.7 40.7h3.0v1.6h-3.0zM28.2 42.2h1.5v1.6h-1.5zM20.7 43.7h1.5v1.6h-1.5zM29.7 45.2h1.5v1.6h-1.5zM20.7 46.7h1.5v1.6h-1.5zM32.6 46.7h1.5v1.6h-1.5zM20.7 48.2h3.0v1.6h-3.0zM25.2 49.7h1.5v1.6h-1.5zM26.7 52.6h1.5v1.6h-1.5zM38.6 54.1h1.5v1.6h-1.5zM41.6 55.6h1.5v1.6h-1.5zM34.1 58.6h1.5v1.6h-1.5zM35.6 61.6h1.5v1.6h-1.5zM46.0 61.6h3.0v1.6h-3.0zM47.5 63.1h1.5v1.6h-1.5zM41.6 66.0h1.5v1.6h-1.5zM50.5 66.0h1.5v1.6h-1.5zM41.6 67.5h3.0v1.6h-3.0zM46.0 70.5h1.5v1.6h-1.5zM58.0 73.5h3.0v1.6h-3.0zM59.4 75.0h1.5v1.6h-1.5zM53.5 78.0h1.5v1.6h-1.5zM53.5 79.4h3.0v1.6h-3.0zM63.9 79.4h1.5v1.6h-1.5zM59.4 83.9h1.5v1.6h-1.5zM71.4 83.9h1.5v1.6h-1.5zM69.9 85.4h3.0v1.6h-3.0zM65.4 89.9h1.5v1.6h-1.5zM63.9 91.4h3.0v1.6h-3.0zM77.3 91.4h1.5v1.6h-1.5zM81.8 95.8h1.5v1.6h-1.5zM71.4 97.3h1.5v1.6h-1.5zM84.8 100.3h1.5v1.6h-1.5zM75.8 101.8h1.5v1.6h-1.5zM89.2 101.8h1.5v1.6h-1.5zM89.2 103.3h1.5v1.6h-1.5zM80.3 104.8h1.5v1.6h-1.5zM89.2 104.8h1.5v1.6h-1.5zM90.7 106.3h1.5v1.6h-1.5zM81.8 109.2h4.5v1.6h-4.5zM86.3 110.7h1.5v1.6h-1.5z" fill="#ff6262"/>
<path d="M16.3 31.8h3.0v1.6h-3.0zM37.1 33.3h1.5v1.6h-1.5zM19.2 34.8h1.5v1.6h-1.5zM11.8 36.3h1.5v1.6h-1.5zM11.8 37.7h1.5v1.6h-1.5zM22.2 37.7h1.5v1.6h-1.5zM14.8 39.2h1.5v1.6h-1.5zM25.2 39.2h1.5v1.6h-1.5zM17.7 42.2h1.5v1.6h-1.5zM19.2 45.2h1.5v1.6h-1.5zM37.1 51.2h1.5v1.6h-1.5zM40.1 55.6h1.5v1.6h-1.5zM13.3 57.1h1.5v1.6h-1.5zM31.2 57.1h1.5v1.6h-1.5zM35.6 60.1h1.5v1.6h-1.5zM62.4 79.4h1.5v1.6h-1.5zM65.4 80.9h1.5v1.6h-1.5zM59.4 82.4h1.5v1.6h-1.5zM60.9 85.4h1.5v1.6h-1.5zM71.4 86.9h1.5v1.6h-1.5zM72.9 89.9h1.5v1.6h-1.5zM66.9 91.4h1.5v1.6h-1.5zM69.9 92.9h1.5v1.6h-1.5zM80.3 95.8h1.5v1.6h-1.5zM75.8 100.3h1.5v1.6h-1.5zM87.7 101.8h1.5v1.6h-1.5zM81.8 107.7h1.5v1.6h-1.5z" fill="#ff4e4e"/>
<path d="M35.6 33.3h1.5v1.6h-1.5zM19.2 36.3h1.5v1.6h-1.5zM16.3 39.2h1.5v1.6h-1.5zM29.7 46.7h3.0v1.6h-3.0zM26.7 49.7h1.5v1.6h-1.5zM26.7 51.2h1.5v1.6h-1.5zM35.6 51.2h1.5v1.6h-1.5zM13.3 55.6h1.5v1.6h-1.5zM31.2 55.6h1.5v1.6h-1.5zM41.6 58.6h1.5v1.6h-1.5zM43.1 60.1h1.5v1.6h-1.5zM38.6 61.6h1.5v1.6h-1.5zM40.1 63.1h1.5v1.6h-1.5zM49.0 66.0h1.5v1.6h-1.5zM50.5 67.5h1.5v1.6h-1.5zM46.0 69.0h1.5v1.6h-1.5zM47.5 70.5h1.5v1.6h-1.5zM56.5 73.5h1.5v1.6h-1.5zM58.0 75.0h1.5v1.6h-1.5zM53.5 76.5h1.5v1.6h-1.5zM55.0 78.0h1.5v1.6h-1.5zM65.4 82.4h1.5v1.6h-1.5zM62.4 85.4h1.5v1.6h-1.5zM71.4 88.4h1.5v1.6h-1.5zM68.4 91.4h1.5v1.6h-1.5zM75.8 91.4h1.5v1.6h-1.5zM78.8 94.3h1.5v1.6h-1.5zM71.4 95.8h1.5v1.6h-1.5zM81.8 97.3h1.5v1.6h-1.5zM74.3 98.8h1.5v1.6h-1.5zM83.3 98.8h1.5v1.6h-1.5zM77.3 101.8h1.5v1.6h-1.5zM86.3 101.8h1.5v1.6h-1.5zM78.8 103.3h1.5v1.6h-1.5zM87.7 103.3h1.5v1.6h-1.5zM81.8 106.3h1.5v1.6h-1.5zM83.3 107.7h1.5v1.6h-1.5zM92.2 107.7h1.5v1.6h-1.5zM87.7 112.2h1.5v1.6h-1.5z" fill="#ff3b3b"/>
<path d="M16.3 33.3h1.5v1.6h-1.5zM52.0 33.3h1.5v1.6h-1.5zM17.7 34.8h1.5v1.6h-1.5zM13.3 36.3h1.5v1.6h-1.5zM14.8 37.7h1.5v1.6h-1.5zM25.2 40.7h1.5v1.6h-1.5zM25.2 43.7h1.5v1.6h-1.5zM20.7 45.2h1.5v1.6h-1.5zM23.7 45.2h1.5v1.6h-1.5zM32.6 49.7h1.5v1.6h-1.5zM29.7 52.6h1.5v1.6h-1.5zM41.6 57.1h1.5v1.6h-1.5zM37.1 61.6h1.5v1.6h-1.5zM46.0 63.1h1.5v1.6h-1.5zM47.5 64.6h1.5v1.6h-1.5zM43.1 66.0h1.5v1.6h-1.5zM44.6 67.5h1.5v1.6h-1.5zM13.3 72.0h1.5v1.6h-1.5zM55.0 72.0h1.5v1.6h-1.5zM52.0 75.0h1.5v1.6h-1.5zM59.4 76.5h1.5v1.6h-1.5zM60.9 78.0h1.5v1.6h-1.5zM56.5 79.4h1.5v1.6h-1.5zM58.0 80.9h1.5v1.6h-1.5zM68.4 85.4h1.5v1.6h-1.5zM65.4 88.4h1.5v1.6h-1.5zM75.8 92.9h1.5v1.6h-1.5zM77.3 94.3h1.5v1.6h-1.5zM72.9 95.8h1.5v1.6h-1.5zM74.3 97.3h1.5v1.6h-1.5zM83.3 100.3h1.5v1.6h-1.5zM80.3 103.3h1.5v1.6h-1.5z" fill="#ff2727"/>
<path d="M17.7 33.3h1.5v1.6h-1.5zM13.3 37.7h1.5v1.6h-1.5zM22.2 39.2h1.5v1.6h-1.5zM19.2 42.2h1.5v1.6h-1.5zM23.7 42.2h3.0v1.6h-3.0zM22.2 43.7h1.5v1.6h-1.5zM22.2 45.2h1.5v1.6h-1.5zM32.6 48.2h1.5v1.6h-1.5zM34.1 51.2h1.5v1.6h-1.5zM28.2 52.6h1.5v1.6h-1.5zM31.2 54.1h1.5v1.6h-1.5zM44.6 61.6h1.5v1.6h-1.5zM41.6 64.6h1.5v1.6h-1.5zM80.3 97.3h1.5v1.6h-1.5zM77.3 100.3h1.5v1.6h-1.5z" fill="#ff1414"/>
<path d="M10.3 30.3h6.0v1.6h-6.0zM10.3 31.8h6.0v1.6h-6.0zM10.3 33.3h6.0v1.6h-6.0zM10.3 34.8h7.4v1.6h-7.4zM14.8 36.3h4.5v1.6h-4.5zM16.3 37.7h6.0v1.6h-6.0zM17.7 39.2h4.5v1.6h-4.5zM17.7 40.7h6.0v1.6h-6.0zM20.7 42.2h3.0v1.6h-3.0zM23.7 43.7h1.5v1.6h-1.5zM25.2 45.2h4.5v1.6h-4.5zM25.2 46.7h4.5v1.6h-4.5zM25.2 48.2h7.4v1.6h-7.4zM28.2 49.7h4.5v1.6h-4.5zM28.2 51.2h6.0v1.6h-6.0zM31.2 52.6h7.4v1.6h-7.4zM32.6 54.1h6.0v1.6h-6.0zM32.6 55.6h7.4v1.6h-7.4zM32.6 57.1h8.9v1.6h-8.9zM35.6 58.6h6.0v1.6h-6.0zM37.1 60.1h6.0v1.6h-6.0zM40.1 61.6h4.5v1.6h-4.5zM41.6 63.1h4.5v1.6h-4.5zM43.1 64.6h4.5v1.6h-4.5zM44.6 66.0h4.5v1.6h-4.5zM46.0 67.5h4.5v1.6h-4.5zM47.5 69.0h4.5v1.6h-4.5zM49.0 70.5h4.5v1.6h-4.5zM50.5 72.0h4.5v1.6h-4.5zM52.0 73.5h4.5v1.6h-4.5zM53.5 75.0h4.5v1.6h-4.5zM55.0 76.5h4.5v1.6h-4.5zM56.5 78.0h4.5v1.6h-4.5zM58.0 79.4h4.5v1.6h-4.5zM59.4 80.9h6.0v1.6h-6.0zM60.9 82.4h4.5v1.6h-4.5zM60.9 83.9h7.4v1.6h-7.4zM63.9 85.4h4.5v1.6h-4.5zM63.9 86.9h7.4v1.6h-7.4zM66.9 88.4h4.5v1.6h-4.5zM66.9 89.9h6.0v1.6h-6.0zM69.9 91.4h6.0v1.6h-6.0zM71.4 92.9h4.5v1.6h-4.5zM71.4 94.3h6.0v1.6h-6.0zM74.3 95.8h6.0v1.6h-6.0zM75.8 97.3h4.5v1.6h-4.5zM75.8 98.8h7.4v1.6h-7.4zM78.8 100.3h4.5v1.6h-4.5zM78.8 101.8h7.4v1.6h-7.4zM81.8 103.3h6.0v1.6h-6.0zM81.8 104.8h7.4v1.6h-7.4zM83.3 106.3h7.4v1.6h-7.4zM84.8 107.7h7.4v1.6h-7.4zM86.3 109.2h7.4v1.6h-7.4zM87.7 110.7h6.0v1.6h-6.0zM89.2 112.2h4.5v1.6h-4.5z" fill="#ff0000"/>
<rect x="10.3" y="30.3" width="83.4" height="83.4" fill="none" stroke="#3a3a3a" stroke-width="1.1"/>
<text x="46.6" y="122.4" font-size="8.8" font-style="italic" font-family='"Liberation Serif", serif' fill="#333">M<tspan font-size="5.5" dy="2">ij</tspan></text>
<polygon points="101.4,69.2 112.9,69.2 112.9,65.5 120.2,72.0 112.9,78.5 112.9,74.8 101.4,74.8" fill="#88c49b"/>
<text x="172.40" y="8.50" font-size="8.98">Optimizing the Bias Vectors</text>
<path d="M144.4 22.2V69.3H221.5" fill="none" stroke="#222" stroke-width="0.9"/>
<polygon points="146.70,24.22 146.74,24.86 146.84,26.07 146.97,27.58 147.14,29.23 147.34,30.93 147.56,32.62 147.81,34.26 148.09,35.83 148.39,37.32 148.72,38.72 149.06,40.05 149.43,41.30 149.82,42.47 150.23,43.58 150.66,44.62 151.11,45.60 151.58,46.53 152.06,47.40 152.57,48.23 153.10,49.02 153.65,49.76 154.21,50.46 154.79,51.13 155.39,51.77 156.00,52.38 156.63,52.96 157.27,53.51 157.93,54.04 158.60,54.54 159.29,55.02 159.99,55.49 160.71,55.93 161.43,56.35 162.17,56.76 162.92,57.15 163.69,57.53 164.46,57.90 165.25,58.25 166.05,58.59 166.87,58.91 167.69,59.23 168.52,59.54 169.37,59.83 170.23,60.12 171.10,60.40 171.97,60.67 172.87,60.93 173.77,61.19 174.68,61.44 175.60,61.68 176.53,61.92 177.48,62.14 178.43,62.37 179.40,62.59 180.37,62.80 181.36,63.01 182.36,63.21 183.36,63.41 184.38,63.60 185.40,63.79 186.44,63.98 187.49,64.15 188.55,64.30 189.62,64.45 190.70,64.59 191.78,64.73 192.88,64.87 193.99,65.00 195.11,65.14 196.23,65.26 197.37,65.39 198.51,65.51 199.67,65.63 200.83,65.75 202.00,65.87 203.18,65.98 204.37,66.09 205.57,66.20 206.78,66.30 208.00,66.41 209.23,66.51 210.46,66.61 211.71,66.71 212.96,66.81 214.22,66.90 215.49,66.99 216.77,67.09 218.06,67.18 219.36,67.26 219.64,63.07 218.35,62.99 217.07,62.90 215.80,62.80 214.53,62.71 213.28,62.62 212.03,62.52 210.80,62.42 209.57,62.32 208.35,62.22 207.15,62.12 205.95,62.01 204.76,61.91 203.58,61.80 202.41,61.69 201.25,61.57 200.10,61.46 198.95,61.34 197.82,61.21 196.70,61.09 195.59,60.96 194.49,60.83 193.40,60.70 192.31,60.57 191.24,60.43 190.18,60.29 189.13,60.14 188.09,59.99 187.06,59.86 186.04,59.73 185.02,59.59 184.02,59.46 183.03,59.32 182.05,59.17 181.08,59.02 180.12,58.86 179.17,58.70 178.24,58.54 177.31,58.37 176.40,58.19 175.49,58.01 174.60,57.82 173.72,57.62 172.85,57.42 172.00,57.21 171.15,56.99 170.32,56.77 169.50,56.54 168.69,56.29 167.90,56.04 167.12,55.78 166.35,55.51 165.59,55.23 164.85,54.93 164.11,54.63 163.40,54.31 162.69,53.97 162.00,53.62 161.32,53.26 160.66,52.88 160.01,52.48 159.37,52.06 158.74,51.62 158.13,51.16 157.54,50.68 156.95,50.16 156.38,49.62 155.82,49.05 155.28,48.44 154.75,47.79 154.23,47.11 153.73,46.37 153.24,45.59 152.77,44.76 152.31,43.86 151.86,42.90 151.43,41.87 151.02,40.77 150.63,39.59 150.26,38.32 149.90,36.97 149.57,35.53 149.26,34.00 148.97,32.40 148.70,30.74 148.47,29.07 148.27,27.44 148.10,25.95 147.97,24.75 147.90,24.12" fill="#777" fill-opacity="0.7"/>
<polygon points="146.80,24.21 146.85,24.85 146.95,26.06 147.09,27.57 147.26,29.22 147.47,30.91 147.70,32.60 147.96,34.23 148.24,35.79 148.55,37.28 148.88,38.68 149.23,40.00 149.61,41.24 150.00,42.41 150.41,43.50 150.85,44.53 151.30,45.50 151.78,46.42 152.27,47.28 152.78,48.09 153.31,48.86 153.85,49.59 154.41,50.28 154.99,50.94 155.59,51.56 156.20,52.16 156.83,52.72 157.47,53.26 158.12,53.77 158.79,54.26 159.48,54.73 160.17,55.18 160.88,55.61 161.61,56.02 162.34,56.42 163.09,56.80 163.85,57.16 164.62,57.52 165.41,57.86 166.21,58.18 167.01,58.50 167.83,58.81 168.67,59.10 169.51,59.39 170.36,59.66 171.23,59.93 172.10,60.19 172.99,60.44 173.89,60.69 174.80,60.93 175.72,61.16 176.65,61.38 177.59,61.60 178.55,61.81 179.51,62.02 180.48,62.22 181.46,62.42 182.46,62.62 183.46,62.80 184.48,62.99 185.50,63.17 186.54,63.34 187.58,63.51 188.64,63.66 189.70,63.80 190.78,63.95 191.87,64.09 192.96,64.23 194.07,64.36 195.18,64.49 196.30,64.62 197.44,64.74 198.58,64.87 199.73,64.99 200.89,65.10 202.07,65.22 203.24,65.33 204.43,65.44 205.63,65.55 206.84,65.66 208.06,65.76 209.28,65.86 210.52,65.96 211.76,66.06 213.01,66.16 214.27,66.25 215.54,66.35 216.82,66.44 218.11,66.53 219.40,66.61 219.60,63.72 218.31,63.63 217.02,63.54 215.75,63.45 214.49,63.36 213.23,63.27 211.98,63.17 210.75,63.07 209.52,62.97 208.30,62.87 207.09,62.77 205.89,62.66 204.70,62.55 203.52,62.44 202.34,62.33 201.18,62.22 200.03,62.10 198.89,61.98 197.75,61.86 196.63,61.74 195.51,61.61 194.41,61.48 193.32,61.35 192.23,61.21 191.16,61.07 190.09,60.93 189.04,60.79 188.00,60.64 186.96,60.49 185.94,60.35 184.92,60.21 183.92,60.06 182.93,59.91 181.94,59.76 180.97,59.59 180.01,59.43 179.06,59.26 178.12,59.08 177.19,58.90 176.28,58.71 175.37,58.52 174.48,58.32 173.60,58.11 172.72,57.90 171.87,57.68 171.02,57.45 170.18,57.22 169.36,56.97 168.55,56.72 167.75,56.46 166.96,56.18 166.19,55.90 165.43,55.61 164.68,55.30 163.95,54.98 163.23,54.65 162.52,54.30 161.82,53.94 161.14,53.57 160.47,53.17 159.82,52.76 159.17,52.33 158.55,51.87 157.93,51.40 157.33,50.90 156.75,50.37 156.18,49.82 155.62,49.23 155.07,48.61 154.54,47.95 154.03,47.25 153.53,46.50 153.04,45.71 152.57,44.86 152.11,43.95 151.67,42.98 151.25,41.94 150.84,40.83 150.46,39.64 150.09,38.37 149.74,37.00 149.41,35.56 149.11,34.03 148.83,32.42 148.57,30.76 148.34,29.09 148.15,27.46 147.98,25.96 147.86,24.76 147.80,24.13" fill="#111"/>
<text transform="translate(130.4,45.6) rotate(-90)" font-size="7.3" text-anchor="middle">Global</text>
<text transform="translate(139.6,45.6) rotate(-90)" font-size="7.3" text-anchor="middle">Background</text>
<text x="154.00" y="77.40" font-size="7.29">Genomic distance</text>
<g font-family='"Liberation Serif", serif' fill="#333"><text x="165.4" y="43.8" font-size="9.8" font-style="italic">E<tspan font-size="5.6" dy="0">d</tspan></text><text x="175.6" y="41.6" font-size="8.5">=</text><text x="183.3" y="36.3" font-size="7.6">1</text><line x1="181.5" y1="38.6" x2="188.0" y2="38.6" stroke="#333" stroke-width="0.6"/><text x="182.2" y="47.6" font-size="8.6" font-style="italic">n</text><text x="190.9" y="41.7" font-size="16">&#8721;</text><text x="189.0" y="50.0" font-size="4.4" font-style="italic">|j−i|=d</text><text x="205.8" y="41.6" font-size="9.6" font-style="italic">M<tspan font-size="5.6" dy="2.4">ij</tspan></text></g>
<path d="M144.4 87.3V133.7H220.9" fill="none" stroke="#222" stroke-width="0.9"/>
<path d="M147.4 106.6V115.8M147.7 101.6V117.0M148.0 108.1V118.3M148.4 104.8V115.1M148.7 109.5V118.9M149.0 108.2V116.1M149.3 104.9V115.9M149.6 109.7V117.5M150.0 103.7V115.3M150.3 104.6V113.2M150.6 107.5V123.6M150.9 106.8V113.1M151.2 109.7V113.9M151.6 110.0V116.2M151.9 108.7V114.5M152.2 104.6V115.7M152.5 108.8V119.7M152.8 106.6V118.2M153.2 112.6V117.2M153.5 108.1V117.5M153.8 101.9V115.2M154.1 111.2V113.8M154.4 108.2V118.8M154.8 108.1V115.4M155.1 107.9V117.2M155.4 108.1V116.8M155.7 107.3V118.2M156.0 107.7V116.7M156.4 109.7V117.3M156.7 108.5V128.2M157.0 107.6V115.5M157.3 106.1V114.4M157.6 106.5V114.7M158.0 105.7V113.2M158.3 112.4V120.5M158.6 110.5V120.3M158.9 103.9V119.0M159.2 108.2V118.3M159.6 113.1V116.6M159.9 111.4V113.9M160.2 107.8V117.0M160.5 109.3V117.5M160.8 108.4V120.5M161.2 109.0V116.5M161.5 108.8V122.3M161.8 107.6V117.3M162.1 108.3V117.9M162.4 111.6V119.8M162.8 107.4V118.4M163.1 107.9V117.4M163.4 112.7V122.5M163.7 113.0V122.7M164.0 110.5V120.7M164.4 115.2V119.4M164.7 111.4V115.4M165.0 115.1V120.4M165.3 113.1V117.0M165.6 109.0V120.6M166.0 112.5V123.3M166.3 109.7V116.7M166.6 107.8V119.4M166.9 111.8V123.3M167.2 110.7V120.9M167.6 109.9V120.5M167.9 113.4V125.5M168.2 104.9V117.7M168.5 107.1V118.4M168.8 113.7V124.3M169.2 111.0V122.6M169.5 110.6V119.1M169.8 108.7V120.9M170.1 111.2V124.1M170.4 109.7V120.0M170.8 110.8V125.9M171.1 111.3V115.5M171.4 114.4V121.8M171.7 109.7V120.0M172.0 112.9V121.4M172.4 112.4V122.4M172.7 110.6V119.1M173.0 109.3V121.2M173.3 110.7V121.4M173.6 109.7V122.1M174.0 108.3V122.9M174.3 111.4V122.0M174.6 115.6V120.3M174.9 114.6V119.1M175.2 116.2V124.0M175.6 113.0V119.7M175.9 109.8V117.1M176.2 113.4V122.2M176.5 108.5V122.4M176.8 113.2V119.5M177.2 115.0V121.1M177.5 114.0V122.5M177.8 113.5V118.6M178.1 110.1V119.4M178.4 109.4V120.2M178.8 111.9V121.8M179.1 112.8V119.2M179.4 110.4V120.3M179.7 108.2V119.2M180.0 109.1V119.4M180.4 112.1V124.1M180.7 112.9V121.7M181.0 104.8V116.9M181.3 108.3V123.5M181.6 110.0V118.3M182.0 111.4V117.6M182.3 111.8V123.2M182.6 111.3V119.9M182.9 108.1V119.2M183.2 112.5V122.6M183.6 104.3V117.0M183.9 109.6V121.3M184.2 110.8V119.9M184.5 105.8V116.5M184.8 109.8V120.2M185.2 105.0V120.1M185.5 107.1V118.2M185.8 105.9V119.6M186.1 108.9V115.3M186.4 102.8V118.2M186.8 109.5V120.0M187.1 101.6V116.4M187.4 104.6V118.0M187.7 112.8V123.0M188.0 104.5V116.5M188.4 111.4V124.0M188.7 106.9V120.5M189.0 108.6V116.3M189.3 110.0V115.6M189.6 109.1V116.8M190.0 108.9V117.7M190.3 112.1V119.8M190.6 110.9V118.9M190.9 108.8V116.8M191.2 109.6V116.1M191.6 110.9V119.8M191.9 109.9V121.9M192.2 107.7V115.9M192.5 105.4V122.8M192.8 104.6V118.3M193.2 108.8V117.9M193.5 111.2V119.0M193.8 109.1V119.4M194.1 108.8V121.5M194.4 111.7V120.0M194.8 107.8V116.6M195.1 110.0V120.3M195.4 106.9V120.3M195.7 110.9V117.3M196.0 110.6V119.5M196.4 106.4V116.7M196.7 113.1V121.1M197.0 111.5V124.8M197.3 114.7V119.7M197.6 111.8V122.2M198.0 112.3V119.4M198.3 110.4V120.5M198.6 110.4V117.6M198.9 114.5V118.6M199.2 111.9V122.4M199.6 113.8V124.3M199.9 115.6V121.5M200.2 113.2V125.8M200.5 112.2V127.6M200.8 108.9V119.3M201.2 114.2V123.5M201.5 110.1V119.3M201.8 110.4V121.8M202.1 110.2V120.2M202.4 110.8V122.0M202.8 112.6V124.0M203.1 111.8V120.4M203.4 108.7V118.5M203.7 107.1V119.6M204.0 111.1V120.0M204.4 113.4V127.1M204.7 112.4V114.9M205.0 107.6V118.9M205.3 109.2V121.1M205.6 109.1V131.4M206.0 111.6V119.7M206.3 107.7V119.6M206.6 109.9V120.3M206.9 107.6V122.3M207.2 111.0V119.0M207.6 108.8V114.8M207.9 110.6V117.9M208.2 110.4V118.0M208.5 110.2V117.9M208.8 108.5V126.3M209.2 107.0V120.1M209.5 109.9V115.7M209.8 108.3V120.1M210.1 111.1V123.7M210.4 107.7V116.7M210.8 107.3V118.9M211.1 110.7V119.8M211.4 108.7V118.3M211.7 109.2V118.1M212.0 108.1V113.6M212.4 111.0V119.6M212.7 105.3V115.5M213.0 113.5V120.2M213.3 110.8V120.5M213.6 110.2V118.6M214.0 109.7V112.7M214.3 106.0V117.4M214.6 107.7V115.1M214.9 109.5V117.2M215.2 109.0V115.8M215.6 107.2V116.1M215.9 105.9V112.6M216.2 110.0V118.8M216.5 108.7V118.0M216.8 108.3V118.8M217.2 110.6V124.4M217.5 104.4V115.9M217.8 106.4V114.3M218.1 107.8V118.6" stroke="#000" stroke-width="0.62" fill="none"/>
<path d="M207.5 105.6h0.8v0.8h-0.8zM178.5 129.5h0.8v0.8h-0.8zM168.6 104.1h0.8v0.8h-0.8zM159.6 102.6h0.8v0.8h-0.8zM207.3 98.8h0.8v0.8h-0.8zM170.8 121.8h0.8v0.8h-0.8zM170.9 113.7h0.8v0.8h-0.8zM212.9 127.1h0.8v0.8h-0.8zM181.1 103.3h0.8v0.8h-0.8zM199.0 121.6h0.8v0.8h-0.8zM203.6 122.8h0.8v0.8h-0.8zM212.2 106.9h0.8v0.8h-0.8zM149.9 97.0h0.8v0.8h-0.8zM172.1 102.3h0.8v0.8h-0.8zM197.3 102.0h0.8v0.8h-0.8zM192.5 104.3h0.8v0.8h-0.8zM199.8 104.6h0.8v0.8h-0.8zM161.7 110.8h0.8v0.8h-0.8zM210.0 123.6h0.8v0.8h-0.8zM155.5 102.4h0.8v0.8h-0.8zM214.9 103.1h0.8v0.8h-0.8zM168.0 113.2h0.8v0.8h-0.8zM157.0 105.4h0.8v0.8h-0.8zM166.1 127.8h0.8v0.8h-0.8zM165.8 130.6h0.8v0.8h-0.8zM212.1 123.8h0.8v0.8h-0.8zM208.0 104.9h0.8v0.8h-0.8zM184.4 106.2h0.8v0.8h-0.8zM172.2 110.7h0.8v0.8h-0.8zM208.7 105.9h0.8v0.8h-0.8zM188.3 121.3h0.8v0.8h-0.8zM161.9 105.5h0.8v0.8h-0.8zM147.9 125.4h0.8v0.8h-0.8zM206.1 125.2h0.8v0.8h-0.8zM189.6 119.3h0.8v0.8h-0.8zM205.4 107.5h0.8v0.8h-0.8zM182.9 99.2h0.8v0.8h-0.8zM182.4 108.2h0.8v0.8h-0.8zM192.1 129.4h0.8v0.8h-0.8zM210.8 100.4h0.8v0.8h-0.8zM177.5 111.3h0.8v0.8h-0.8zM177.9 106.5h0.8v0.8h-0.8zM174.5 106.5h0.8v0.8h-0.8zM189.7 106.1h0.8v0.8h-0.8zM172.3 116.1h0.8v0.8h-0.8zM179.5 122.4h0.8v0.8h-0.8zM159.6 119.9h0.8v0.8h-0.8zM164.0 120.1h0.8v0.8h-0.8zM180.4 109.8h0.8v0.8h-0.8zM201.1 108.7h0.8v0.8h-0.8zM198.9 109.9h0.8v0.8h-0.8zM172.3 113.4h0.8v0.8h-0.8zM170.9 108.6h0.8v0.8h-0.8zM218.1 95.7h0.8v0.8h-0.8zM215.8 104.9h0.8v0.8h-0.8zM158.1 122.9h0.8v0.8h-0.8zM199.6 124.5h0.8v0.8h-0.8zM212.2 123.7h0.8v0.8h-0.8zM162.2 121.2h0.8v0.8h-0.8zM208.2 121.3h0.8v0.8h-0.8zM196.8 121.4h0.8v0.8h-0.8zM190.4 122.0h0.8v0.8h-0.8zM148.0 100.7h0.8v0.8h-0.8zM188.3 118.8h0.8v0.8h-0.8zM207.6 107.5h0.8v0.8h-0.8zM179.8 118.0h0.8v0.8h-0.8zM166.0 105.9h0.8v0.8h-0.8zM176.0 110.5h0.8v0.8h-0.8zM165.3 123.1h0.8v0.8h-0.8zM208.5 105.1h0.8v0.8h-0.8zM211.0 122.3h0.8v0.8h-0.8zM182.3 109.6h0.8v0.8h-0.8zM150.3 100.5h0.8v0.8h-0.8zM214.3 127.6h0.8v0.8h-0.8zM154.8 113.9h0.8v0.8h-0.8zM183.9 119.7h0.8v0.8h-0.8zM184.6 120.9h0.8v0.8h-0.8zM217.8 110.0h0.8v0.8h-0.8zM175.4 109.3h0.8v0.8h-0.8zM192.8 116.4h0.8v0.8h-0.8zM167.1 125.7h0.8v0.8h-0.8zM212.5 122.4h0.8v0.8h-0.8zM188.7 104.2h0.8v0.8h-0.8zM214.2 99.2h0.8v0.8h-0.8zM218.1 119.3h0.8v0.8h-0.8zM213.5 105.2h0.8v0.8h-0.8zM205.0 111.8h0.8v0.8h-0.8zM163.6 105.8h0.8v0.8h-0.8zM172.6 120.8h0.8v0.8h-0.8zM186.5 104.2h0.8v0.8h-0.8zM202.9 119.4h0.8v0.8h-0.8zM166.6 130.4h0.8v0.8h-0.8zM196.3 121.3h0.8v0.8h-0.8zM204.7 118.8h0.8v0.8h-0.8zM173.0 122.2h0.8v0.8h-0.8zM191.8 101.6h0.8v0.8h-0.8zM194.3 124.1h0.8v0.8h-0.8zM174.9 105.7h0.8v0.8h-0.8zM206.3 122.1h0.8v0.8h-0.8zM206.5 107.5h0.8v0.8h-0.8zM194.2 100.6h0.8v0.8h-0.8zM165.3 109.6h0.8v0.8h-0.8zM188.6 103.5h0.8v0.8h-0.8zM203.2 104.0h0.8v0.8h-0.8zM211.7 110.5h0.8v0.8h-0.8zM216.9 109.5h0.8v0.8h-0.8zM195.0 124.3h0.8v0.8h-0.8zM185.2 126.8h0.8v0.8h-0.8zM195.2 109.4h0.8v0.8h-0.8zM164.2 108.2h0.8v0.8h-0.8z" fill="#111"/>
<text transform="translate(130.4,110.5) rotate(-90)" font-size="7.3" text-anchor="middle">Locus-specific</text>
<text transform="translate(139.6,110.5) rotate(-90)" font-size="7.3" text-anchor="middle">Biases</text>
<text x="160.00" y="142.40" font-size="7.29">Genomic Loci</text>
<defs><linearGradient id="cardL" x1="0" y1="0" x2="0" y2="1"><stop offset="0" stop-color="#e42028"/><stop offset="0.3" stop-color="#ee7078"/><stop offset="0.7" stop-color="#f9d0d3"/><stop offset="1" stop-color="#fdeeee"/></linearGradient><linearGradient id="cardT" x1="0" y1="0" x2="1" y2="0"><stop offset="0" stop-color="#e00010"/><stop offset="0.3" stop-color="#c04a50"/><stop offset="1" stop-color="#e8b8bb"/></linearGradient></defs>
<rect x="234.40" y="48.90" width="31.8" height="31.8" fill="#fff" stroke="#111" stroke-width="1"/>
<rect x="234.90" y="49.40" width="3.91" height="30.80" fill="url(#cardL)"/>
<rect x="234.90" y="49.40" width="30.80" height="2.40" fill="url(#cardT)"/>
<rect x="238.31" y="51.30" width="31.8" height="31.8" fill="#fff" stroke="#111" stroke-width="1"/>
<rect x="238.81" y="51.80" width="3.91" height="30.80" fill="url(#cardL)"/>
<rect x="238.81" y="51.80" width="30.80" height="2.40" fill="url(#cardT)"/>
<rect x="242.22" y="53.70" width="31.8" height="31.8" fill="#fff" stroke="#111" stroke-width="1"/>
<rect x="242.72" y="54.20" width="3.91" height="30.80" fill="url(#cardL)"/>
<rect x="242.72" y="54.20" width="30.80" height="2.40" fill="url(#cardT)"/>
<rect x="246.12" y="56.10" width="31.8" height="31.8" fill="#fff" stroke="#111" stroke-width="1"/>
<rect x="246.62" y="56.60" width="3.91" height="30.80" fill="url(#cardL)"/>
<rect x="246.62" y="56.60" width="30.80" height="2.40" fill="url(#cardT)"/>
<rect x="250.03" y="58.50" width="31.8" height="31.8" fill="#fff" stroke="#111" stroke-width="1"/>
<rect x="250.53" y="59.00" width="3.91" height="30.80" fill="url(#cardL)"/>
<rect x="250.53" y="59.00" width="30.80" height="2.40" fill="url(#cardT)"/>
<rect x="253.94" y="60.90" width="31.8" height="31.8" fill="#fff" stroke="#111" stroke-width="1"/>
<rect x="254.44" y="61.40" width="3.91" height="30.80" fill="url(#cardL)"/>
<rect x="254.44" y="61.40" width="30.80" height="2.40" fill="url(#cardT)"/>
<rect x="257.85" y="63.30" width="31.8" height="31.8" fill="#fff" stroke="#111" stroke-width="1"/>
<rect x="258.35" y="63.80" width="3.91" height="30.80" fill="url(#cardL)"/>
<rect x="258.35" y="63.80" width="30.80" height="2.40" fill="url(#cardT)"/>
<rect x="261.75" y="65.70" width="31.8" height="31.8" fill="#fff" stroke="#111" stroke-width="1"/>
<rect x="262.25" y="66.20" width="3.91" height="30.80" fill="url(#cardL)"/>
<rect x="262.25" y="66.20" width="30.80" height="2.40" fill="url(#cardT)"/>
<rect x="265.66" y="68.10" width="31.8" height="31.8" fill="#fff" stroke="#111" stroke-width="1"/>
<rect x="266.16" y="68.60" width="3.91" height="30.80" fill="url(#cardL)"/>
<rect x="266.16" y="68.60" width="30.80" height="2.40" fill="url(#cardT)"/>
<rect x="269.57" y="70.50" width="31.8" height="31.8" fill="#fff" stroke="#111" stroke-width="1"/>
<rect x="270.07" y="71.00" width="3.91" height="30.80" fill="url(#cardL)"/>
<rect x="270.07" y="71.00" width="30.80" height="2.40" fill="url(#cardT)"/>
<rect x="273.48" y="72.90" width="31.8" height="31.8" fill="#fff" stroke="#111" stroke-width="1"/>
<rect x="273.98" y="73.40" width="3.91" height="30.80" fill="url(#cardL)"/>
<rect x="273.98" y="73.40" width="30.80" height="2.40" fill="url(#cardT)"/>
<rect x="277.38" y="75.30" width="31.8" height="31.8" fill="#fff" stroke="#111" stroke-width="1"/>
<rect x="277.88" y="75.80" width="3.91" height="30.80" fill="url(#cardL)"/>
<rect x="277.88" y="75.80" width="30.80" height="2.40" fill="url(#cardT)"/>
<rect x="281.29" y="77.70" width="31.8" height="31.8" fill="#fff" stroke="#111" stroke-width="1"/>
<rect x="281.79" y="78.20" width="3.91" height="30.80" fill="url(#cardL)"/>
<rect x="281.79" y="78.20" width="30.80" height="2.40" fill="url(#cardT)"/>
<path d="M311.0 86.1h1.0v1.1h-1.0zM291.2 105.9h1.0v1.1h-1.0z" fill="#ffffff"/>
<path d="M300.1 80.1h16.9v1.1h-16.9zM301.1 81.1h15.9v1.1h-15.9zM301.1 82.1h15.9v1.1h-15.9zM301.1 83.1h15.9v1.1h-15.9zM301.1 84.1h15.9v1.1h-15.9zM301.1 85.1h15.9v1.1h-15.9zM301.1 86.1h9.9v1.1h-9.9zM312.0 86.1h5.0v1.1h-5.0zM301.1 87.1h15.9v1.1h-15.9zM301.1 88.0h15.9v1.1h-15.9zM301.1 89.0h15.9v1.1h-15.9zM301.1 90.0h15.9v1.1h-15.9zM301.1 91.0h15.9v1.1h-15.9zM301.1 92.0h15.9v1.1h-15.9zM303.1 93.0h13.9v1.1h-13.9zM303.1 94.0h13.9v1.1h-13.9zM285.2 95.0h1.0v1.1h-1.0zM303.1 95.0h13.9v1.1h-13.9zM285.2 96.0h12.9v1.1h-12.9zM285.2 97.0h12.9v1.1h-12.9zM285.2 98.0h15.9v1.1h-15.9zM285.2 99.0h15.9v1.1h-15.9zM285.2 100.0h15.9v1.1h-15.9zM285.2 101.0h15.9v1.1h-15.9zM285.2 102.0h15.9v1.1h-15.9zM285.2 103.0h15.9v1.1h-15.9zM285.2 103.9h15.9v1.1h-15.9zM285.2 104.9h15.9v1.1h-15.9zM285.2 105.9h6.0v1.1h-6.0zM292.2 105.9h8.9v1.1h-8.9zM285.2 106.9h15.9v1.1h-15.9zM285.2 107.9h15.9v1.1h-15.9zM285.2 108.9h15.9v1.1h-15.9zM285.2 109.9h15.9v1.1h-15.9zM285.2 110.9h15.9v1.1h-15.9z" fill="#fae3e4"/>
<path d="M295.1 80.1h5.0v1.1h-5.0zM295.1 81.1h6.0v1.1h-6.0zM295.1 82.1h6.0v1.1h-6.0zM295.1 83.1h6.0v1.1h-6.0zM297.1 84.1h1.0v1.1h-1.0zM299.1 84.1h2.0v1.1h-2.0zM297.1 85.1h1.0v1.1h-1.0zM299.1 85.1h2.0v1.1h-2.0zM300.1 86.1h1.0v1.1h-1.0zM300.1 87.1h1.0v1.1h-1.0zM285.2 90.0h4.0v1.1h-4.0zM285.2 91.0h4.0v1.1h-4.0zM285.2 92.0h6.0v1.1h-6.0zM285.2 93.0h4.0v1.1h-4.0zM301.1 93.0h2.0v1.1h-2.0zM285.2 94.0h6.0v1.1h-6.0zM302.1 94.0h1.0v1.1h-1.0zM286.2 95.0h7.0v1.1h-7.0zM302.1 95.0h1.0v1.1h-1.0zM298.1 96.0h1.0v1.1h-1.0zM309.1 96.0h8.0v1.1h-8.0zM298.1 97.0h3.0v1.1h-3.0zM309.1 97.0h1.0v1.1h-1.0zM311.0 97.0h6.0v1.1h-6.0zM311.0 98.0h6.0v1.1h-6.0zM311.0 99.0h6.0v1.1h-6.0zM311.0 100.0h6.0v1.1h-6.0zM314.0 101.0h3.0v1.1h-3.0zM315.0 102.0h2.0v1.1h-2.0zM315.0 103.0h1.0v1.1h-1.0zM301.1 103.9h2.0v1.1h-2.0zM316.0 103.9h1.0v1.1h-1.0zM301.1 104.9h1.0v1.1h-1.0zM301.1 105.9h5.0v1.1h-5.0zM301.1 106.9h5.0v1.1h-5.0zM301.1 107.9h5.0v1.1h-5.0zM301.1 108.9h6.0v1.1h-6.0zM301.1 109.9h8.0v1.1h-8.0zM301.1 110.9h7.0v1.1h-7.0zM309.1 110.9h1.0v1.1h-1.0z" fill="#f6c6ca"/>
<path d="M291.2 80.1h4.0v1.1h-4.0zM291.2 81.1h4.0v1.1h-4.0zM294.1 82.1h1.0v1.1h-1.0zM294.1 83.1h1.0v1.1h-1.0zM295.1 84.1h2.0v1.1h-2.0zM298.1 84.1h1.0v1.1h-1.0zM295.1 85.1h2.0v1.1h-2.0zM298.1 85.1h1.0v1.1h-1.0zM285.2 86.1h2.0v1.1h-2.0zM296.1 86.1h4.0v1.1h-4.0zM285.2 87.1h2.0v1.1h-2.0zM298.1 87.1h2.0v1.1h-2.0zM285.2 88.0h2.0v1.1h-2.0zM299.1 88.0h2.0v1.1h-2.0zM285.2 89.0h4.0v1.1h-4.0zM300.1 89.0h1.0v1.1h-1.0zM289.2 90.0h2.0v1.1h-2.0zM300.1 90.0h1.0v1.1h-1.0zM289.2 91.0h3.0v1.1h-3.0zM291.2 92.0h1.0v1.1h-1.0zM289.2 93.0h4.0v1.1h-4.0zM291.2 94.0h3.0v1.1h-3.0zM301.1 94.0h1.0v1.1h-1.0zM293.1 95.0h3.0v1.1h-3.0zM301.1 95.0h1.0v1.1h-1.0zM299.1 96.0h2.0v1.1h-2.0zM306.1 96.0h3.0v1.1h-3.0zM308.1 97.0h1.0v1.1h-1.0zM310.0 97.0h1.0v1.1h-1.0zM308.1 98.0h3.0v1.1h-3.0zM308.1 99.0h3.0v1.1h-3.0zM310.0 100.0h1.0v1.1h-1.0zM301.1 101.0h1.0v1.1h-1.0zM310.0 101.0h4.0v1.1h-4.0zM301.1 102.0h1.0v1.1h-1.0zM312.0 102.0h3.0v1.1h-3.0zM301.1 103.0h4.0v1.1h-4.0zM313.0 103.0h2.0v1.1h-2.0zM316.0 103.0h1.0v1.1h-1.0zM303.1 103.9h2.0v1.1h-2.0zM314.0 103.9h2.0v1.1h-2.0zM302.1 104.9h5.0v1.1h-5.0zM315.0 104.9h2.0v1.1h-2.0zM306.1 105.9h1.0v1.1h-1.0zM316.0 105.9h1.0v1.1h-1.0zM306.1 106.9h2.0v1.1h-2.0zM306.1 107.9h3.0v1.1h-3.0zM307.1 108.9h3.0v1.1h-3.0zM309.1 109.9h2.0v1.1h-2.0zM308.1 110.9h1.0v1.1h-1.0zM310.0 110.9h2.0v1.1h-2.0z" fill="#f1aaaf"/>
<path d="M290.2 80.1h1.0v1.1h-1.0zM292.2 82.1h2.0v1.1h-2.0zM293.1 83.1h1.0v1.1h-1.0zM294.1 84.1h1.0v1.1h-1.0zM285.2 85.1h1.0v1.1h-1.0zM295.1 86.1h1.0v1.1h-1.0zM287.2 87.1h1.0v1.1h-1.0zM297.1 87.1h1.0v1.1h-1.0zM287.2 88.0h2.0v1.1h-2.0zM297.1 88.0h2.0v1.1h-2.0zM289.2 89.0h1.0v1.1h-1.0zM299.1 89.0h1.0v1.1h-1.0zM291.2 90.0h1.0v1.1h-1.0zM299.1 90.0h1.0v1.1h-1.0zM300.1 91.0h1.0v1.1h-1.0zM292.2 92.0h2.0v1.1h-2.0zM293.1 93.0h1.0v1.1h-1.0zM294.1 94.0h2.0v1.1h-2.0zM296.1 95.0h1.0v1.1h-1.0zM305.1 96.0h1.0v1.1h-1.0zM306.1 97.0h2.0v1.1h-2.0zM307.1 98.0h1.0v1.1h-1.0zM301.1 100.0h1.0v1.1h-1.0zM308.1 100.0h2.0v1.1h-2.0zM302.1 101.0h1.0v1.1h-1.0zM309.1 101.0h1.0v1.1h-1.0zM302.1 102.0h2.0v1.1h-2.0zM311.0 102.0h1.0v1.1h-1.0zM305.1 103.0h1.0v1.1h-1.0zM311.0 103.0h2.0v1.1h-2.0zM305.1 103.9h2.0v1.1h-2.0zM313.0 103.9h1.0v1.1h-1.0zM314.0 104.9h1.0v1.1h-1.0zM307.1 105.9h2.0v1.1h-2.0zM315.0 105.9h1.0v1.1h-1.0zM308.1 106.9h1.0v1.1h-1.0zM316.0 106.9h1.0v1.1h-1.0zM309.1 107.9h1.0v1.1h-1.0zM310.0 108.9h1.0v1.1h-1.0zM311.0 109.9h1.0v1.1h-1.0zM312.0 110.9h1.0v1.1h-1.0z" fill="#ed8e94"/>
<path d="M289.2 80.1h1.0v1.1h-1.0zM290.2 81.1h1.0v1.1h-1.0zM291.2 82.1h1.0v1.1h-1.0zM291.2 83.1h2.0v1.1h-2.0zM285.2 84.1h1.0v1.1h-1.0zM292.2 84.1h2.0v1.1h-2.0zM286.2 85.1h1.0v1.1h-1.0zM294.1 85.1h1.0v1.1h-1.0zM287.2 86.1h2.0v1.1h-2.0zM294.1 86.1h1.0v1.1h-1.0zM288.2 87.1h2.0v1.1h-2.0zM295.1 87.1h2.0v1.1h-2.0zM289.2 88.0h1.0v1.1h-1.0zM296.1 88.0h1.0v1.1h-1.0zM290.2 89.0h2.0v1.1h-2.0zM297.1 89.0h2.0v1.1h-2.0zM292.2 90.0h1.0v1.1h-1.0zM292.2 91.0h2.0v1.1h-2.0zM294.1 92.0h1.0v1.1h-1.0zM300.1 92.0h1.0v1.1h-1.0zM294.1 93.0h1.0v1.1h-1.0zM297.1 95.0h1.0v1.1h-1.0zM305.1 97.0h1.0v1.1h-1.0zM306.1 98.0h1.0v1.1h-1.0zM307.1 99.0h1.0v1.1h-1.0zM302.1 100.0h1.0v1.1h-1.0zM303.1 101.0h1.0v1.1h-1.0zM304.1 102.0h1.0v1.1h-1.0zM310.0 102.0h1.0v1.1h-1.0zM312.0 103.9h1.0v1.1h-1.0zM307.1 104.9h1.0v1.1h-1.0zM313.0 104.9h1.0v1.1h-1.0zM314.0 105.9h1.0v1.1h-1.0zM309.1 106.9h1.0v1.1h-1.0zM315.0 106.9h1.0v1.1h-1.0zM310.0 107.9h1.0v1.1h-1.0zM316.0 107.9h1.0v1.1h-1.0zM311.0 108.9h1.0v1.1h-1.0zM312.0 109.9h1.0v1.1h-1.0zM313.0 110.9h1.0v1.1h-1.0z" fill="#e8717a"/>
<path d="M288.2 80.1h1.0v1.1h-1.0zM289.2 81.1h1.0v1.1h-1.0zM290.2 82.1h1.0v1.1h-1.0zM285.2 83.1h1.0v1.1h-1.0zM286.2 84.1h1.0v1.1h-1.0zM287.2 85.1h1.0v1.1h-1.0zM293.1 85.1h1.0v1.1h-1.0zM290.2 88.0h1.0v1.1h-1.0zM297.1 90.0h2.0v1.1h-2.0zM299.1 91.0h1.0v1.1h-1.0zM295.1 92.0h1.0v1.1h-1.0zM295.1 93.0h1.0v1.1h-1.0zM296.1 94.0h1.0v1.1h-1.0zM304.1 96.0h1.0v1.1h-1.0zM301.1 99.0h1.0v1.1h-1.0zM306.1 99.0h1.0v1.1h-1.0zM304.1 101.0h1.0v1.1h-1.0zM308.1 101.0h1.0v1.1h-1.0zM306.1 103.0h1.0v1.1h-1.0zM313.0 105.9h1.0v1.1h-1.0zM311.0 107.9h1.0v1.1h-1.0z" fill="#e4555f"/>
<path d="M291.2 84.1h1.0v1.1h-1.0zM289.2 86.1h1.0v1.1h-1.0zM293.1 86.1h1.0v1.1h-1.0zM291.2 88.0h1.0v1.1h-1.0zM296.1 89.0h1.0v1.1h-1.0zM294.1 91.0h1.0v1.1h-1.0zM299.1 92.0h1.0v1.1h-1.0zM300.1 93.0h1.0v1.1h-1.0zM297.1 94.0h1.0v1.1h-1.0zM298.1 95.0h1.0v1.1h-1.0zM305.1 98.0h1.0v1.1h-1.0zM303.1 100.0h1.0v1.1h-1.0zM307.1 100.0h1.0v1.1h-1.0zM305.1 102.0h1.0v1.1h-1.0zM309.1 102.0h1.0v1.1h-1.0zM310.0 103.0h1.0v1.1h-1.0zM307.1 103.9h1.0v1.1h-1.0zM311.0 103.9h1.0v1.1h-1.0zM308.1 104.9h1.0v1.1h-1.0zM309.1 105.9h1.0v1.1h-1.0zM315.0 107.9h1.0v1.1h-1.0zM313.0 109.9h1.0v1.1h-1.0z" fill="#df3945"/>
<path d="M287.2 80.1h1.0v1.1h-1.0zM288.2 81.1h1.0v1.1h-1.0zM285.2 82.1h1.0v1.1h-1.0zM286.2 83.1h1.0v1.1h-1.0zM290.2 83.1h1.0v1.1h-1.0zM288.2 85.1h1.0v1.1h-1.0zM292.2 85.1h1.0v1.1h-1.0zM290.2 87.1h1.0v1.1h-1.0zM294.1 87.1h1.0v1.1h-1.0zM295.1 88.0h1.0v1.1h-1.0zM292.2 89.0h1.0v1.1h-1.0zM293.1 90.0h1.0v1.1h-1.0zM298.1 91.0h1.0v1.1h-1.0zM296.1 93.0h1.0v1.1h-1.0zM303.1 96.0h1.0v1.1h-1.0zM304.1 97.0h1.0v1.1h-1.0zM301.1 98.0h1.0v1.1h-1.0zM302.1 99.0h1.0v1.1h-1.0zM312.0 104.9h1.0v1.1h-1.0zM310.0 106.9h1.0v1.1h-1.0zM314.0 106.9h1.0v1.1h-1.0zM312.0 108.9h1.0v1.1h-1.0zM316.0 108.9h1.0v1.1h-1.0zM314.0 110.9h1.0v1.1h-1.0z" fill="#db1c2a"/>
<path d="M285.2 80.1h2.0v1.1h-2.0zM285.2 81.1h3.0v1.1h-3.0zM286.2 82.1h4.0v1.1h-4.0zM287.2 83.1h3.0v1.1h-3.0zM287.2 84.1h4.0v1.1h-4.0zM289.2 85.1h3.0v1.1h-3.0zM290.2 86.1h3.0v1.1h-3.0zM291.2 87.1h3.0v1.1h-3.0zM292.2 88.0h3.0v1.1h-3.0zM293.1 89.0h3.0v1.1h-3.0zM294.1 90.0h3.0v1.1h-3.0zM295.1 91.0h3.0v1.1h-3.0zM296.1 92.0h3.0v1.1h-3.0zM297.1 93.0h3.0v1.1h-3.0zM298.1 94.0h3.0v1.1h-3.0zM299.1 95.0h2.0v1.1h-2.0zM301.1 96.0h2.0v1.1h-2.0zM301.1 97.0h3.0v1.1h-3.0zM302.1 98.0h3.0v1.1h-3.0zM303.1 99.0h3.0v1.1h-3.0zM304.1 100.0h3.0v1.1h-3.0zM305.1 101.0h3.0v1.1h-3.0zM306.1 102.0h3.0v1.1h-3.0zM307.1 103.0h3.0v1.1h-3.0zM308.1 103.9h3.0v1.1h-3.0zM309.1 104.9h3.0v1.1h-3.0zM310.0 105.9h3.0v1.1h-3.0zM311.0 106.9h3.0v1.1h-3.0zM312.0 107.9h3.0v1.1h-3.0zM313.0 108.9h3.0v1.1h-3.0zM314.0 109.9h3.0v1.1h-3.0zM315.0 110.9h2.0v1.1h-2.0z" fill="#d6000f"/>
<rect x="285.20" y="80.10" width="31.8" height="31.8" fill="none" stroke="#222" stroke-width="1.2"/>
<text x="234.90" y="86.70" font-size="6.2">1</text>
<text x="237.90" y="89.90" font-size="6.2">2</text>
<text x="241.00" y="92.00" font-size="6.2">3</text>
<path d="M252 95.4L260.7 101" stroke="#999" stroke-width="0.8" stroke-dasharray="0.8 1.2"/>
<text transform="translate(239.4,100.4) rotate(38)" font-size="8.4">Iteration</text>
<text x="285.00" y="117.30" font-size="6.6">m</text>
<polygon points="318.4,69.1 329.9,69.1 329.9,65.4 337.2,71.9 329.9,78.5 329.9,74.7 318.4,74.7" fill="#88c49b"/>
<text x="335.40" y="26.10" font-size="8.9">Raichu-normalized Matrix</text>
<path d="M373.7 30.4h1.5v1.6h-1.5zM376.7 30.4h1.5v1.6h-1.5zM379.6 30.4h6.0v1.6h-6.0zM387.1 30.4h4.5v1.6h-4.5zM393.0 30.4h3.0v1.6h-3.0zM397.5 30.4h28.3v1.6h-28.3zM373.7 31.9h1.5v1.6h-1.5zM379.6 31.9h1.5v1.6h-1.5zM382.6 31.9h1.5v1.6h-1.5zM388.6 31.9h3.0v1.6h-3.0zM393.0 31.9h1.5v1.6h-1.5zM396.0 31.9h6.0v1.6h-6.0zM403.5 31.9h11.9v1.6h-11.9zM416.9 31.9h8.9v1.6h-8.9zM375.2 33.4h3.0v1.6h-3.0zM379.6 33.4h1.5v1.6h-1.5zM382.6 33.4h3.0v1.6h-3.0zM387.1 33.4h1.5v1.6h-1.5zM390.1 33.4h1.5v1.6h-1.5zM393.0 33.4h32.8v1.6h-32.8zM379.6 34.9h1.5v1.6h-1.5zM393.0 34.9h1.5v1.6h-1.5zM397.5 34.9h4.5v1.6h-4.5zM403.5 34.9h1.5v1.6h-1.5zM406.4 34.9h8.9v1.6h-8.9zM416.9 34.9h3.0v1.6h-3.0zM421.3 34.9h4.5v1.6h-4.5zM378.1 36.4h3.0v1.6h-3.0zM382.6 36.4h1.5v1.6h-1.5zM393.0 36.4h1.5v1.6h-1.5zM397.5 36.4h4.5v1.6h-4.5zM403.5 36.4h1.5v1.6h-1.5zM406.4 36.4h19.4v1.6h-19.4zM384.1 37.8h4.5v1.6h-4.5zM390.1 37.8h1.5v1.6h-1.5zM393.0 37.8h1.5v1.6h-1.5zM396.0 37.8h29.8v1.6h-29.8zM385.6 39.3h3.0v1.6h-3.0zM390.1 39.3h6.0v1.6h-6.0zM397.5 39.3h4.5v1.6h-4.5zM403.5 39.3h22.3v1.6h-22.3zM397.5 40.8h4.5v1.6h-4.5zM406.4 40.8h1.5v1.6h-1.5zM409.4 40.8h3.0v1.6h-3.0zM413.9 40.8h1.5v1.6h-1.5zM416.9 40.8h1.5v1.6h-1.5zM424.3 40.8h1.5v1.6h-1.5zM388.6 42.3h3.0v1.6h-3.0zM393.0 42.3h1.5v1.6h-1.5zM397.5 42.3h28.3v1.6h-28.3zM390.1 43.8h1.5v1.6h-1.5zM393.0 43.8h1.5v1.6h-1.5zM397.5 43.8h4.5v1.6h-4.5zM403.5 43.8h22.3v1.6h-22.3zM400.5 45.3h1.5v1.6h-1.5zM412.4 45.3h1.5v1.6h-1.5zM424.3 45.3h1.5v1.6h-1.5zM397.5 46.8h4.5v1.6h-4.5zM403.5 46.8h1.5v1.6h-1.5zM406.4 46.8h8.9v1.6h-8.9zM416.9 46.8h4.5v1.6h-4.5zM422.8 46.8h3.0v1.6h-3.0zM399.0 48.3h3.0v1.6h-3.0zM404.9 48.3h3.0v1.6h-3.0zM409.4 48.3h1.5v1.6h-1.5zM412.4 48.3h3.0v1.6h-3.0zM422.8 48.3h3.0v1.6h-3.0zM397.5 49.8h1.5v1.6h-1.5zM400.5 49.8h1.5v1.6h-1.5zM403.5 49.8h1.5v1.6h-1.5zM406.4 49.8h7.4v1.6h-7.4zM415.4 49.8h3.0v1.6h-3.0zM419.8 49.8h1.5v1.6h-1.5zM422.8 49.8h3.0v1.6h-3.0zM397.5 51.2h4.5v1.6h-4.5zM407.9 51.2h4.5v1.6h-4.5zM413.9 51.2h1.5v1.6h-1.5zM422.8 51.2h3.0v1.6h-3.0zM388.6 52.7h1.5v1.6h-1.5zM393.0 52.7h1.5v1.6h-1.5zM397.5 52.7h6.0v1.6h-6.0zM404.9 52.7h20.9v1.6h-20.9zM397.5 54.2h1.5v1.6h-1.5zM400.5 54.2h1.5v1.6h-1.5zM406.4 54.2h6.0v1.6h-6.0zM416.9 54.2h3.0v1.6h-3.0zM422.8 54.2h3.0v1.6h-3.0zM399.0 55.7h1.5v1.6h-1.5zM406.4 55.7h1.5v1.6h-1.5zM410.9 55.7h1.5v1.6h-1.5zM424.3 55.7h1.5v1.6h-1.5zM399.0 57.2h1.5v1.6h-1.5zM409.4 57.2h6.0v1.6h-6.0zM424.3 57.2h1.5v1.6h-1.5zM399.0 58.7h1.5v1.6h-1.5zM406.4 58.7h1.5v1.6h-1.5zM410.9 58.7h1.5v1.6h-1.5zM413.9 58.7h1.5v1.6h-1.5zM424.3 58.7h1.5v1.6h-1.5zM406.4 60.2h1.5v1.6h-1.5zM409.4 60.2h1.5v1.6h-1.5zM413.9 60.2h1.5v1.6h-1.5zM422.8 60.2h3.0v1.6h-3.0zM342.4 61.7h3.0v1.6h-3.0zM397.5 61.7h4.5v1.6h-4.5zM404.9 61.7h10.4v1.6h-10.4zM416.9 61.7h3.0v1.6h-3.0zM421.3 61.7h4.5v1.6h-4.5zM345.4 63.2h1.5v1.6h-1.5zM406.4 63.2h1.5v1.6h-1.5zM409.4 63.2h1.5v1.6h-1.5zM413.9 63.2h1.5v1.6h-1.5zM424.3 63.2h1.5v1.6h-1.5zM342.4 64.7h1.5v1.6h-1.5zM345.4 64.7h1.5v1.6h-1.5zM412.4 64.7h1.5v1.6h-1.5zM416.9 64.7h1.5v1.6h-1.5zM422.8 64.7h3.0v1.6h-3.0zM348.4 66.1h1.5v1.6h-1.5zM406.4 66.1h3.0v1.6h-3.0zM413.9 66.1h1.5v1.6h-1.5zM418.4 66.1h1.5v1.6h-1.5zM421.3 66.1h4.5v1.6h-4.5zM342.4 67.6h7.4v1.6h-7.4zM400.5 67.6h1.5v1.6h-1.5zM406.4 67.6h1.5v1.6h-1.5zM409.4 67.6h4.5v1.6h-4.5zM415.4 67.6h4.5v1.6h-4.5zM421.3 67.6h4.5v1.6h-4.5zM342.4 69.1h1.5v1.6h-1.5zM410.9 69.1h1.5v1.6h-1.5zM342.4 70.6h4.5v1.6h-4.5zM348.4 70.6h1.5v1.6h-1.5zM342.4 72.1h1.5v1.6h-1.5zM345.4 72.1h1.5v1.6h-1.5zM349.8 72.1h1.5v1.6h-1.5zM349.8 73.6h3.0v1.6h-3.0zM342.4 75.1h1.5v1.6h-1.5zM345.4 75.1h1.5v1.6h-1.5zM349.8 75.1h3.0v1.6h-3.0zM342.4 76.6h3.0v1.6h-3.0zM354.3 76.6h1.5v1.6h-1.5zM364.7 76.6h1.5v1.6h-1.5zM342.4 78.1h4.5v1.6h-4.5zM349.8 78.1h3.0v1.6h-3.0zM354.3 78.1h3.0v1.6h-3.0zM351.3 79.5h1.5v1.6h-1.5zM342.4 81.0h10.4v1.6h-10.4zM354.3 81.0h3.0v1.6h-3.0zM364.7 81.0h1.5v1.6h-1.5zM342.4 82.5h1.5v1.6h-1.5zM345.4 82.5h1.5v1.6h-1.5zM351.3 82.5h1.5v1.6h-1.5zM343.9 84.0h3.0v1.6h-3.0zM349.8 84.0h1.5v1.6h-1.5zM342.4 85.5h14.9v1.6h-14.9zM358.8 85.5h1.5v1.6h-1.5zM361.8 85.5h6.0v1.6h-6.0zM373.7 85.5h1.5v1.6h-1.5zM342.4 87.0h14.9v1.6h-14.9zM358.8 87.0h3.0v1.6h-3.0zM363.2 87.0h3.0v1.6h-3.0zM367.7 87.0h4.5v1.6h-4.5zM373.7 87.0h1.5v1.6h-1.5zM342.4 88.5h25.3v1.6h-25.3zM373.7 88.5h1.5v1.6h-1.5zM379.6 88.5h1.5v1.6h-1.5zM342.4 90.0h1.5v1.6h-1.5zM345.4 90.0h1.5v1.6h-1.5zM349.8 90.0h1.5v1.6h-1.5zM354.3 90.0h1.5v1.6h-1.5zM364.7 90.0h1.5v1.6h-1.5zM342.4 91.5h10.4v1.6h-10.4zM354.3 91.5h3.0v1.6h-3.0zM358.8 91.5h1.5v1.6h-1.5zM361.8 91.5h1.5v1.6h-1.5zM342.4 93.0h4.5v1.6h-4.5zM349.8 93.0h3.0v1.6h-3.0zM354.3 93.0h3.0v1.6h-3.0zM360.3 93.0h1.5v1.6h-1.5zM364.7 93.0h1.5v1.6h-1.5zM373.7 93.0h1.5v1.6h-1.5zM342.4 94.4h14.9v1.6h-14.9zM358.8 94.4h4.5v1.6h-4.5zM364.7 94.4h4.5v1.6h-4.5zM370.7 94.4h6.0v1.6h-6.0zM378.1 94.4h3.0v1.6h-3.0zM342.4 95.9h10.4v1.6h-10.4zM354.3 95.9h3.0v1.6h-3.0zM358.8 95.9h1.5v1.6h-1.5zM361.8 95.9h6.0v1.6h-6.0zM373.7 95.9h1.5v1.6h-1.5zM378.1 95.9h1.5v1.6h-1.5zM342.4 97.4h14.9v1.6h-14.9zM358.8 97.4h8.9v1.6h-8.9zM369.2 97.4h1.5v1.6h-1.5zM372.2 97.4h4.5v1.6h-4.5zM379.6 97.4h1.5v1.6h-1.5zM342.4 98.9h14.9v1.6h-14.9zM358.8 98.9h1.5v1.6h-1.5zM361.8 98.9h10.4v1.6h-10.4zM373.7 98.9h1.5v1.6h-1.5zM379.6 98.9h3.0v1.6h-3.0zM342.4 100.4h10.4v1.6h-10.4zM354.3 100.4h8.9v1.6h-8.9zM364.7 100.4h1.5v1.6h-1.5zM369.2 100.4h1.5v1.6h-1.5zM373.7 100.4h1.5v1.6h-1.5zM376.7 100.4h1.5v1.6h-1.5zM379.6 100.4h1.5v1.6h-1.5zM342.4 101.9h14.9v1.6h-14.9zM358.8 101.9h3.0v1.6h-3.0zM363.2 101.9h3.0v1.6h-3.0zM369.2 101.9h7.4v1.6h-7.4zM378.1 101.9h1.5v1.6h-1.5zM342.4 103.4h1.5v1.6h-1.5zM345.4 103.4h1.5v1.6h-1.5zM348.4 103.4h4.5v1.6h-4.5zM354.3 103.4h3.0v1.6h-3.0zM361.8 103.4h1.5v1.6h-1.5zM364.7 103.4h1.5v1.6h-1.5zM379.6 103.4h1.5v1.6h-1.5zM342.4 104.9h14.9v1.6h-14.9zM358.8 104.9h1.5v1.6h-1.5zM361.8 104.9h1.5v1.6h-1.5zM364.7 104.9h3.0v1.6h-3.0zM373.7 104.9h1.5v1.6h-1.5zM376.7 104.9h1.5v1.6h-1.5zM379.6 104.9h1.5v1.6h-1.5zM342.4 106.4h10.4v1.6h-10.4zM354.3 106.4h3.0v1.6h-3.0zM358.8 106.4h1.5v1.6h-1.5zM364.7 106.4h3.0v1.6h-3.0zM373.7 106.4h1.5v1.6h-1.5zM378.1 106.4h3.0v1.6h-3.0zM342.4 107.8h4.5v1.6h-4.5zM348.4 107.8h4.5v1.6h-4.5zM354.3 107.8h3.0v1.6h-3.0zM358.8 107.8h1.5v1.6h-1.5zM361.8 107.8h1.5v1.6h-1.5zM364.7 107.8h1.5v1.6h-1.5zM342.4 109.3h10.4v1.6h-10.4zM354.3 109.3h3.0v1.6h-3.0zM364.7 109.3h1.5v1.6h-1.5zM373.7 109.3h1.5v1.6h-1.5zM378.1 109.3h3.0v1.6h-3.0zM342.4 110.8h10.4v1.6h-10.4zM354.3 110.8h3.0v1.6h-3.0zM358.8 110.8h8.9v1.6h-8.9zM372.2 110.8h3.0v1.6h-3.0zM376.7 110.8h4.5v1.6h-4.5zM342.4 112.3h38.7v1.6h-38.7z" fill="#ffffff"/>
<path d="M349.8 30.4h23.8v1.6h-23.8zM375.2 30.4h1.5v1.6h-1.5zM378.1 30.4h1.5v1.6h-1.5zM385.6 30.4h1.5v1.6h-1.5zM391.5 30.4h1.5v1.6h-1.5zM396.0 30.4h1.5v1.6h-1.5zM351.3 31.9h22.3v1.6h-22.3zM375.2 31.9h4.5v1.6h-4.5zM381.1 31.9h1.5v1.6h-1.5zM384.1 31.9h4.5v1.6h-4.5zM391.5 31.9h1.5v1.6h-1.5zM394.5 31.9h1.5v1.6h-1.5zM402.0 31.9h1.5v1.6h-1.5zM415.4 31.9h1.5v1.6h-1.5zM351.3 33.4h1.5v1.6h-1.5zM354.3 33.4h20.9v1.6h-20.9zM378.1 33.4h1.5v1.6h-1.5zM381.1 33.4h1.5v1.6h-1.5zM385.6 33.4h1.5v1.6h-1.5zM388.6 33.4h1.5v1.6h-1.5zM391.5 33.4h1.5v1.6h-1.5zM354.3 34.9h3.0v1.6h-3.0zM358.8 34.9h20.9v1.6h-20.9zM381.1 34.9h11.9v1.6h-11.9zM394.5 34.9h3.0v1.6h-3.0zM402.0 34.9h1.5v1.6h-1.5zM404.9 34.9h1.5v1.6h-1.5zM415.4 34.9h1.5v1.6h-1.5zM419.8 34.9h1.5v1.6h-1.5zM354.3 36.4h23.8v1.6h-23.8zM381.1 36.4h1.5v1.6h-1.5zM384.1 36.4h8.9v1.6h-8.9zM394.5 36.4h3.0v1.6h-3.0zM402.0 36.4h1.5v1.6h-1.5zM404.9 36.4h1.5v1.6h-1.5zM342.4 37.8h1.5v1.6h-1.5zM379.6 37.8h1.5v1.6h-1.5zM388.6 37.8h1.5v1.6h-1.5zM391.5 37.8h1.5v1.6h-1.5zM394.5 37.8h1.5v1.6h-1.5zM342.4 39.3h4.5v1.6h-4.5zM378.1 39.3h3.0v1.6h-3.0zM388.6 39.3h1.5v1.6h-1.5zM396.0 39.3h1.5v1.6h-1.5zM402.0 39.3h1.5v1.6h-1.5zM342.4 40.8h3.0v1.6h-3.0zM384.1 40.8h13.4v1.6h-13.4zM402.0 40.8h4.5v1.6h-4.5zM407.9 40.8h1.5v1.6h-1.5zM412.4 40.8h1.5v1.6h-1.5zM415.4 40.8h1.5v1.6h-1.5zM418.4 40.8h6.0v1.6h-6.0zM342.4 42.3h7.4v1.6h-7.4zM384.1 42.3h4.5v1.6h-4.5zM391.5 42.3h1.5v1.6h-1.5zM394.5 42.3h3.0v1.6h-3.0zM342.4 43.8h7.4v1.6h-7.4zM384.1 43.8h6.0v1.6h-6.0zM391.5 43.8h1.5v1.6h-1.5zM394.5 43.8h3.0v1.6h-3.0zM402.0 43.8h1.5v1.6h-1.5zM342.4 45.3h4.5v1.6h-4.5zM348.4 45.3h1.5v1.6h-1.5zM384.1 45.3h16.4v1.6h-16.4zM402.0 45.3h10.4v1.6h-10.4zM413.9 45.3h10.4v1.6h-10.4zM342.4 46.8h7.4v1.6h-7.4zM384.1 46.8h13.4v1.6h-13.4zM402.0 46.8h1.5v1.6h-1.5zM404.9 46.8h1.5v1.6h-1.5zM415.4 46.8h1.5v1.6h-1.5zM421.3 46.8h1.5v1.6h-1.5zM342.4 48.3h7.4v1.6h-7.4zM384.1 48.3h14.9v1.6h-14.9zM402.0 48.3h3.0v1.6h-3.0zM407.9 48.3h1.5v1.6h-1.5zM410.9 48.3h1.5v1.6h-1.5zM415.4 48.3h7.4v1.6h-7.4zM342.4 49.8h7.4v1.6h-7.4zM384.1 49.8h13.4v1.6h-13.4zM399.0 49.8h1.5v1.6h-1.5zM402.0 49.8h1.5v1.6h-1.5zM404.9 49.8h1.5v1.6h-1.5zM413.9 49.8h1.5v1.6h-1.5zM418.4 49.8h1.5v1.6h-1.5zM421.3 49.8h1.5v1.6h-1.5zM342.4 51.2h7.4v1.6h-7.4zM384.1 51.2h13.4v1.6h-13.4zM402.0 51.2h6.0v1.6h-6.0zM412.4 51.2h1.5v1.6h-1.5zM415.4 51.2h7.4v1.6h-7.4zM342.4 52.7h7.4v1.6h-7.4zM384.1 52.7h4.5v1.6h-4.5zM390.1 52.7h3.0v1.6h-3.0zM394.5 52.7h3.0v1.6h-3.0zM403.5 52.7h1.5v1.6h-1.5zM342.4 54.2h7.4v1.6h-7.4zM384.1 54.2h13.4v1.6h-13.4zM399.0 54.2h1.5v1.6h-1.5zM402.0 54.2h4.5v1.6h-4.5zM412.4 54.2h4.5v1.6h-4.5zM419.8 54.2h3.0v1.6h-3.0zM342.4 55.7h7.4v1.6h-7.4zM384.1 55.7h14.9v1.6h-14.9zM400.5 55.7h6.0v1.6h-6.0zM407.9 55.7h3.0v1.6h-3.0zM412.4 55.7h11.9v1.6h-11.9zM342.4 57.2h7.4v1.6h-7.4zM384.1 57.2h14.9v1.6h-14.9zM400.5 57.2h8.9v1.6h-8.9zM415.4 57.2h8.9v1.6h-8.9zM342.4 58.7h7.4v1.6h-7.4zM384.1 58.7h14.9v1.6h-14.9zM400.5 58.7h6.0v1.6h-6.0zM407.9 58.7h3.0v1.6h-3.0zM412.4 58.7h1.5v1.6h-1.5zM415.4 58.7h8.9v1.6h-8.9zM342.4 60.2h7.4v1.6h-7.4zM384.1 60.2h22.3v1.6h-22.3zM407.9 60.2h1.5v1.6h-1.5zM410.9 60.2h3.0v1.6h-3.0zM415.4 60.2h7.4v1.6h-7.4zM345.4 61.7h4.5v1.6h-4.5zM384.1 61.7h13.4v1.6h-13.4zM402.0 61.7h3.0v1.6h-3.0zM415.4 61.7h1.5v1.6h-1.5zM419.8 61.7h1.5v1.6h-1.5zM342.4 63.2h3.0v1.6h-3.0zM346.9 63.2h3.0v1.6h-3.0zM385.6 63.2h20.9v1.6h-20.9zM407.9 63.2h1.5v1.6h-1.5zM410.9 63.2h3.0v1.6h-3.0zM415.4 63.2h8.9v1.6h-8.9zM343.9 64.7h1.5v1.6h-1.5zM346.9 64.7h3.0v1.6h-3.0zM387.1 64.7h25.3v1.6h-25.3zM413.9 64.7h3.0v1.6h-3.0zM418.4 64.7h4.5v1.6h-4.5zM342.4 66.1h6.0v1.6h-6.0zM351.3 66.1h1.5v1.6h-1.5zM388.6 66.1h17.9v1.6h-17.9zM409.4 66.1h4.5v1.6h-4.5zM415.4 66.1h3.0v1.6h-3.0zM419.8 66.1h1.5v1.6h-1.5zM349.8 67.6h3.0v1.6h-3.0zM388.6 67.6h11.9v1.6h-11.9zM402.0 67.6h4.5v1.6h-4.5zM407.9 67.6h1.5v1.6h-1.5zM413.9 67.6h1.5v1.6h-1.5zM419.8 67.6h1.5v1.6h-1.5zM343.9 69.1h6.0v1.6h-6.0zM391.5 69.1h19.4v1.6h-19.4zM412.4 69.1h13.4v1.6h-13.4zM346.9 70.6h1.5v1.6h-1.5zM390.1 70.6h35.7v1.6h-35.7zM343.9 72.1h1.5v1.6h-1.5zM346.9 72.1h3.0v1.6h-3.0zM352.8 72.1h22.3v1.6h-22.3zM424.3 72.1h1.5v1.6h-1.5zM342.4 73.6h7.4v1.6h-7.4zM352.8 73.6h23.8v1.6h-23.8zM424.3 73.6h1.5v1.6h-1.5zM343.9 75.1h1.5v1.6h-1.5zM346.9 75.1h3.0v1.6h-3.0zM352.8 75.1h25.3v1.6h-25.3zM345.4 76.6h8.9v1.6h-8.9zM355.8 76.6h8.9v1.6h-8.9zM366.2 76.6h14.9v1.6h-14.9zM346.9 78.1h3.0v1.6h-3.0zM352.8 78.1h1.5v1.6h-1.5zM357.3 78.1h23.8v1.6h-23.8zM382.6 78.1h1.5v1.6h-1.5zM424.3 78.1h1.5v1.6h-1.5zM342.4 79.5h8.9v1.6h-8.9zM352.8 79.5h31.3v1.6h-31.3zM352.8 81.0h1.5v1.6h-1.5zM357.3 81.0h7.4v1.6h-7.4zM366.2 81.0h17.9v1.6h-17.9zM343.9 82.5h1.5v1.6h-1.5zM346.9 82.5h4.5v1.6h-4.5zM352.8 82.5h31.3v1.6h-31.3zM342.4 84.0h1.5v1.6h-1.5zM346.9 84.0h3.0v1.6h-3.0zM351.3 84.0h32.8v1.6h-32.8zM357.3 85.5h1.5v1.6h-1.5zM360.3 85.5h1.5v1.6h-1.5zM367.7 85.5h6.0v1.6h-6.0zM375.2 85.5h8.9v1.6h-8.9zM357.3 87.0h1.5v1.6h-1.5zM361.8 87.0h1.5v1.6h-1.5zM366.2 87.0h1.5v1.6h-1.5zM372.2 87.0h1.5v1.6h-1.5zM375.2 87.0h8.9v1.6h-8.9zM367.7 88.5h6.0v1.6h-6.0zM375.2 88.5h4.5v1.6h-4.5zM381.1 88.5h3.0v1.6h-3.0zM343.9 90.0h1.5v1.6h-1.5zM346.9 90.0h3.0v1.6h-3.0zM351.3 90.0h3.0v1.6h-3.0zM355.8 90.0h8.9v1.6h-8.9zM366.2 90.0h17.9v1.6h-17.9zM352.8 91.5h1.5v1.6h-1.5zM357.3 91.5h1.5v1.6h-1.5zM360.3 91.5h1.5v1.6h-1.5zM363.2 91.5h20.9v1.6h-20.9zM346.9 93.0h3.0v1.6h-3.0zM352.8 93.0h1.5v1.6h-1.5zM357.3 93.0h3.0v1.6h-3.0zM361.8 93.0h3.0v1.6h-3.0zM366.2 93.0h7.4v1.6h-7.4zM375.2 93.0h8.9v1.6h-8.9zM357.3 94.4h1.5v1.6h-1.5zM363.2 94.4h1.5v1.6h-1.5zM369.2 94.4h1.5v1.6h-1.5zM376.7 94.4h1.5v1.6h-1.5zM381.1 94.4h3.0v1.6h-3.0zM352.8 95.9h1.5v1.6h-1.5zM357.3 95.9h1.5v1.6h-1.5zM360.3 95.9h1.5v1.6h-1.5zM367.7 95.9h6.0v1.6h-6.0zM375.2 95.9h3.0v1.6h-3.0zM379.6 95.9h4.5v1.6h-4.5zM357.3 97.4h1.5v1.6h-1.5zM367.7 97.4h1.5v1.6h-1.5zM370.7 97.4h1.5v1.6h-1.5zM376.7 97.4h3.0v1.6h-3.0zM381.1 97.4h3.0v1.6h-3.0zM357.3 98.9h1.5v1.6h-1.5zM360.3 98.9h1.5v1.6h-1.5zM372.2 98.9h1.5v1.6h-1.5zM375.2 98.9h4.5v1.6h-4.5zM382.6 98.9h1.5v1.6h-1.5zM352.8 100.4h1.5v1.6h-1.5zM363.2 100.4h1.5v1.6h-1.5zM366.2 100.4h3.0v1.6h-3.0zM370.7 100.4h3.0v1.6h-3.0zM375.2 100.4h1.5v1.6h-1.5zM378.1 100.4h1.5v1.6h-1.5zM381.1 100.4h3.0v1.6h-3.0zM357.3 101.9h1.5v1.6h-1.5zM361.8 101.9h1.5v1.6h-1.5zM366.2 101.9h3.0v1.6h-3.0zM376.7 101.9h1.5v1.6h-1.5zM379.6 101.9h4.5v1.6h-4.5zM343.9 103.4h1.5v1.6h-1.5zM346.9 103.4h1.5v1.6h-1.5zM352.8 103.4h1.5v1.6h-1.5zM357.3 103.4h4.5v1.6h-4.5zM363.2 103.4h1.5v1.6h-1.5zM366.2 103.4h13.4v1.6h-13.4zM381.1 103.4h3.0v1.6h-3.0zM357.3 104.9h1.5v1.6h-1.5zM360.3 104.9h1.5v1.6h-1.5zM363.2 104.9h1.5v1.6h-1.5zM367.7 104.9h6.0v1.6h-6.0zM375.2 104.9h1.5v1.6h-1.5zM378.1 104.9h1.5v1.6h-1.5zM381.1 104.9h3.0v1.6h-3.0zM352.8 106.4h1.5v1.6h-1.5zM357.3 106.4h1.5v1.6h-1.5zM360.3 106.4h4.5v1.6h-4.5zM367.7 106.4h6.0v1.6h-6.0zM375.2 106.4h3.0v1.6h-3.0zM381.1 106.4h3.0v1.6h-3.0zM346.9 107.8h1.5v1.6h-1.5zM352.8 107.8h1.5v1.6h-1.5zM357.3 107.8h1.5v1.6h-1.5zM360.3 107.8h1.5v1.6h-1.5zM363.2 107.8h1.5v1.6h-1.5zM366.2 107.8h17.9v1.6h-17.9zM352.8 109.3h1.5v1.6h-1.5zM357.3 109.3h7.4v1.6h-7.4zM366.2 109.3h7.4v1.6h-7.4zM375.2 109.3h3.0v1.6h-3.0zM381.1 109.3h3.0v1.6h-3.0zM352.8 110.8h1.5v1.6h-1.5zM357.3 110.8h1.5v1.6h-1.5zM367.7 110.8h4.5v1.6h-4.5zM375.2 110.8h1.5v1.6h-1.5zM381.1 110.8h3.0v1.6h-3.0zM381.1 112.3h6.0v1.6h-6.0zM390.1 112.3h1.5v1.6h-1.5z" fill="#ffebeb"/>
<path d="M349.8 31.9h1.5v1.6h-1.5zM349.8 33.4h1.5v1.6h-1.5zM352.8 33.4h1.5v1.6h-1.5zM349.8 34.9h4.5v1.6h-4.5zM357.3 34.9h1.5v1.6h-1.5zM351.3 36.4h1.5v1.6h-1.5zM343.9 37.8h4.5v1.6h-4.5zM373.7 37.8h6.0v1.6h-6.0zM381.1 37.8h3.0v1.6h-3.0zM346.9 39.3h3.0v1.6h-3.0zM373.7 39.3h4.5v1.6h-4.5zM381.1 39.3h3.0v1.6h-3.0zM345.4 40.8h3.0v1.6h-3.0zM373.7 40.8h1.5v1.6h-1.5zM379.6 40.8h1.5v1.6h-1.5zM378.1 42.3h3.0v1.6h-3.0zM382.6 42.3h1.5v1.6h-1.5zM379.6 43.8h1.5v1.6h-1.5zM382.6 43.8h1.5v1.6h-1.5zM346.9 45.3h1.5v1.6h-1.5zM382.6 46.8h1.5v1.6h-1.5zM379.6 49.8h1.5v1.6h-1.5zM349.8 61.7h4.5v1.6h-4.5zM349.8 63.2h3.0v1.6h-3.0zM384.1 63.2h1.5v1.6h-1.5zM349.8 64.7h3.0v1.6h-3.0zM384.1 64.7h3.0v1.6h-3.0zM349.8 66.1h1.5v1.6h-1.5zM354.3 66.1h1.5v1.6h-1.5zM384.1 66.1h4.5v1.6h-4.5zM352.8 67.6h4.5v1.6h-4.5zM361.8 67.6h1.5v1.6h-1.5zM384.1 67.6h4.5v1.6h-4.5zM349.8 69.1h3.0v1.6h-3.0zM388.6 69.1h3.0v1.6h-3.0zM349.8 70.6h3.0v1.6h-3.0zM354.3 70.6h3.0v1.6h-3.0zM358.8 70.6h1.5v1.6h-1.5zM387.1 70.6h3.0v1.6h-3.0zM375.2 72.1h6.0v1.6h-6.0zM409.4 72.1h14.9v1.6h-14.9zM376.7 73.6h4.5v1.6h-4.5zM410.9 73.6h3.0v1.6h-3.0zM415.4 73.6h1.5v1.6h-1.5zM421.3 73.6h3.0v1.6h-3.0zM378.1 75.1h3.0v1.6h-3.0zM382.6 75.1h1.5v1.6h-1.5zM409.4 75.1h3.0v1.6h-3.0zM413.9 75.1h1.5v1.6h-1.5zM416.9 75.1h8.9v1.6h-8.9zM381.1 76.6h3.0v1.6h-3.0zM413.9 76.6h1.5v1.6h-1.5zM416.9 76.6h1.5v1.6h-1.5zM422.8 76.6h3.0v1.6h-3.0zM381.1 78.1h1.5v1.6h-1.5zM410.9 78.1h4.5v1.6h-4.5zM416.9 78.1h7.4v1.6h-7.4zM418.4 79.5h3.0v1.6h-3.0zM422.8 79.5h3.0v1.6h-3.0zM413.9 81.0h1.5v1.6h-1.5zM418.4 81.0h1.5v1.6h-1.5zM421.3 81.0h4.5v1.6h-4.5zM424.3 82.5h1.5v1.6h-1.5zM424.3 84.0h1.5v1.6h-1.5zM419.8 85.5h6.0v1.6h-6.0zM418.4 87.0h3.0v1.6h-3.0zM422.8 87.0h3.0v1.6h-3.0zM422.8 88.5h3.0v1.6h-3.0zM424.3 90.0h1.5v1.6h-1.5zM424.3 91.5h1.5v1.6h-1.5zM424.3 94.4h1.5v1.6h-1.5zM384.1 97.4h1.5v1.6h-1.5zM387.1 97.4h1.5v1.6h-1.5zM384.1 98.9h4.5v1.6h-4.5zM390.1 98.9h1.5v1.6h-1.5zM384.1 100.4h3.0v1.6h-3.0zM390.1 100.4h1.5v1.6h-1.5zM384.1 101.9h1.5v1.6h-1.5zM387.1 101.9h4.5v1.6h-4.5zM393.0 101.9h1.5v1.6h-1.5zM384.1 103.4h3.0v1.6h-3.0zM384.1 104.9h1.5v1.6h-1.5zM387.1 104.9h4.5v1.6h-4.5zM384.1 106.4h1.5v1.6h-1.5zM387.1 106.4h1.5v1.6h-1.5zM390.1 106.4h4.5v1.6h-4.5zM399.0 106.4h1.5v1.6h-1.5zM384.1 107.8h1.5v1.6h-1.5zM387.1 107.8h1.5v1.6h-1.5zM390.1 107.8h3.0v1.6h-3.0zM397.5 107.8h3.0v1.6h-3.0zM384.1 109.3h4.5v1.6h-4.5zM390.1 109.3h1.5v1.6h-1.5zM393.0 109.3h1.5v1.6h-1.5zM397.5 109.3h1.5v1.6h-1.5zM384.1 110.8h10.4v1.6h-10.4zM397.5 110.8h4.5v1.6h-4.5zM387.1 112.3h3.0v1.6h-3.0zM391.5 112.3h13.4v1.6h-13.4zM406.4 112.3h1.5v1.6h-1.5z" fill="#ffd8d8"/>
<path d="M352.8 36.4h1.5v1.6h-1.5zM364.7 37.8h1.5v1.6h-1.5zM367.7 37.8h4.5v1.6h-4.5zM364.7 39.3h1.5v1.6h-1.5zM369.2 39.3h4.5v1.6h-4.5zM348.4 40.8h1.5v1.6h-1.5zM378.1 40.8h1.5v1.6h-1.5zM381.1 40.8h3.0v1.6h-3.0zM372.2 42.3h6.0v1.6h-6.0zM381.1 42.3h1.5v1.6h-1.5zM373.7 43.8h1.5v1.6h-1.5zM376.7 43.8h3.0v1.6h-3.0zM381.1 43.8h1.5v1.6h-1.5zM379.6 45.3h1.5v1.6h-1.5zM382.6 45.3h1.5v1.6h-1.5zM373.7 46.8h1.5v1.6h-1.5zM378.1 46.8h3.0v1.6h-3.0zM379.6 48.3h1.5v1.6h-1.5zM382.6 49.8h1.5v1.6h-1.5zM349.8 52.7h3.0v1.6h-3.0zM379.6 52.7h1.5v1.6h-1.5zM382.6 52.7h1.5v1.6h-1.5zM349.8 55.7h1.5v1.6h-1.5zM349.8 57.2h3.0v1.6h-3.0zM349.8 58.7h3.0v1.6h-3.0zM351.3 60.2h1.5v1.6h-1.5zM354.3 60.2h1.5v1.6h-1.5zM354.3 61.7h3.0v1.6h-3.0zM358.8 61.7h1.5v1.6h-1.5zM354.3 63.2h1.5v1.6h-1.5zM354.3 64.7h3.0v1.6h-3.0zM352.8 66.1h1.5v1.6h-1.5zM355.8 66.1h1.5v1.6h-1.5zM358.8 66.1h1.5v1.6h-1.5zM357.3 67.6h4.5v1.6h-4.5zM364.7 67.6h1.5v1.6h-1.5zM352.8 69.1h4.5v1.6h-4.5zM384.1 69.1h4.5v1.6h-4.5zM352.8 70.6h1.5v1.6h-1.5zM357.3 70.6h1.5v1.6h-1.5zM361.8 70.6h1.5v1.6h-1.5zM364.7 70.6h1.5v1.6h-1.5zM385.6 70.6h1.5v1.6h-1.5zM381.1 72.1h1.5v1.6h-1.5zM399.0 72.1h3.0v1.6h-3.0zM403.5 72.1h6.0v1.6h-6.0zM381.1 73.6h3.0v1.6h-3.0zM403.5 73.6h7.4v1.6h-7.4zM413.9 73.6h1.5v1.6h-1.5zM416.9 73.6h4.5v1.6h-4.5zM381.1 75.1h1.5v1.6h-1.5zM406.4 75.1h1.5v1.6h-1.5zM412.4 75.1h1.5v1.6h-1.5zM415.4 75.1h1.5v1.6h-1.5zM406.4 76.6h1.5v1.6h-1.5zM409.4 76.6h4.5v1.6h-4.5zM415.4 76.6h1.5v1.6h-1.5zM418.4 76.6h4.5v1.6h-4.5zM403.5 78.1h7.4v1.6h-7.4zM415.4 78.1h1.5v1.6h-1.5zM406.4 79.5h1.5v1.6h-1.5zM409.4 79.5h6.0v1.6h-6.0zM416.9 79.5h1.5v1.6h-1.5zM421.3 79.5h1.5v1.6h-1.5zM407.9 81.0h1.5v1.6h-1.5zM410.9 81.0h3.0v1.6h-3.0zM415.4 81.0h3.0v1.6h-3.0zM419.8 81.0h1.5v1.6h-1.5zM409.4 82.5h3.0v1.6h-3.0zM413.9 82.5h6.0v1.6h-6.0zM421.3 82.5h3.0v1.6h-3.0zM413.9 84.0h3.0v1.6h-3.0zM418.4 84.0h3.0v1.6h-3.0zM422.8 84.0h1.5v1.6h-1.5zM410.9 85.5h4.5v1.6h-4.5zM416.9 85.5h3.0v1.6h-3.0zM384.1 87.0h1.5v1.6h-1.5zM409.4 87.0h8.9v1.6h-8.9zM421.3 87.0h1.5v1.6h-1.5zM384.1 88.5h1.5v1.6h-1.5zM410.9 88.5h4.5v1.6h-4.5zM416.9 88.5h6.0v1.6h-6.0zM384.1 91.5h3.0v1.6h-3.0zM390.1 91.5h1.5v1.6h-1.5zM419.8 91.5h1.5v1.6h-1.5zM422.8 91.5h1.5v1.6h-1.5zM384.1 93.0h3.0v1.6h-3.0zM390.1 93.0h1.5v1.6h-1.5zM424.3 93.0h1.5v1.6h-1.5zM384.1 94.4h8.9v1.6h-8.9zM422.8 94.4h1.5v1.6h-1.5zM384.1 95.9h3.0v1.6h-3.0zM390.1 95.9h1.5v1.6h-1.5zM393.0 95.9h1.5v1.6h-1.5zM422.8 95.9h3.0v1.6h-3.0zM385.6 97.4h1.5v1.6h-1.5zM388.6 97.4h4.5v1.6h-4.5zM394.5 97.4h1.5v1.6h-1.5zM399.0 97.4h1.5v1.6h-1.5zM424.3 97.4h1.5v1.6h-1.5zM388.6 98.9h1.5v1.6h-1.5zM391.5 98.9h4.5v1.6h-4.5zM397.5 98.9h4.5v1.6h-4.5zM387.1 100.4h3.0v1.6h-3.0zM391.5 100.4h3.0v1.6h-3.0zM397.5 100.4h4.5v1.6h-4.5zM385.6 101.9h1.5v1.6h-1.5zM391.5 101.9h1.5v1.6h-1.5zM394.5 101.9h7.4v1.6h-7.4zM387.1 103.4h4.5v1.6h-4.5zM393.0 103.4h4.5v1.6h-4.5zM399.0 103.4h1.5v1.6h-1.5zM385.6 104.9h1.5v1.6h-1.5zM391.5 104.9h4.5v1.6h-4.5zM397.5 104.9h4.5v1.6h-4.5zM385.6 106.4h1.5v1.6h-1.5zM388.6 106.4h1.5v1.6h-1.5zM394.5 106.4h4.5v1.6h-4.5zM400.5 106.4h1.5v1.6h-1.5zM385.6 107.8h1.5v1.6h-1.5zM388.6 107.8h1.5v1.6h-1.5zM393.0 107.8h1.5v1.6h-1.5zM396.0 107.8h1.5v1.6h-1.5zM400.5 107.8h1.5v1.6h-1.5zM403.5 107.8h1.5v1.6h-1.5zM388.6 109.3h1.5v1.6h-1.5zM391.5 109.3h1.5v1.6h-1.5zM394.5 109.3h1.5v1.6h-1.5zM399.0 109.3h3.0v1.6h-3.0zM394.5 110.8h3.0v1.6h-3.0zM403.5 110.8h1.5v1.6h-1.5zM406.4 110.8h3.0v1.6h-3.0zM404.9 112.3h1.5v1.6h-1.5zM407.9 112.3h3.0v1.6h-3.0z" fill="#ffc4c4"/>
<path d="M361.8 37.8h3.0v1.6h-3.0zM361.8 39.3h1.5v1.6h-1.5zM366.2 39.3h3.0v1.6h-3.0zM372.2 40.8h1.5v1.6h-1.5zM375.2 40.8h3.0v1.6h-3.0zM364.7 42.3h1.5v1.6h-1.5zM369.2 42.3h3.0v1.6h-3.0zM369.2 43.8h4.5v1.6h-4.5zM375.2 43.8h1.5v1.6h-1.5zM373.7 45.3h1.5v1.6h-1.5zM381.1 45.3h1.5v1.6h-1.5zM376.7 46.8h1.5v1.6h-1.5zM381.1 46.8h1.5v1.6h-1.5zM373.7 48.3h1.5v1.6h-1.5zM378.1 48.3h1.5v1.6h-1.5zM381.1 48.3h3.0v1.6h-3.0zM349.8 49.8h3.0v1.6h-3.0zM373.7 49.8h1.5v1.6h-1.5zM378.1 49.8h1.5v1.6h-1.5zM381.1 49.8h1.5v1.6h-1.5zM349.8 51.2h1.5v1.6h-1.5zM378.1 51.2h3.0v1.6h-3.0zM382.6 51.2h1.5v1.6h-1.5zM354.3 52.7h1.5v1.6h-1.5zM376.7 52.7h3.0v1.6h-3.0zM381.1 52.7h1.5v1.6h-1.5zM351.3 54.2h1.5v1.6h-1.5zM379.6 54.2h1.5v1.6h-1.5zM382.6 54.2h1.5v1.6h-1.5zM351.3 55.7h1.5v1.6h-1.5zM379.6 55.7h1.5v1.6h-1.5zM354.3 57.2h3.0v1.6h-3.0zM354.3 58.7h3.0v1.6h-3.0zM352.8 60.2h1.5v1.6h-1.5zM355.8 60.2h1.5v1.6h-1.5zM357.3 61.7h1.5v1.6h-1.5zM360.3 61.7h3.0v1.6h-3.0zM352.8 63.2h1.5v1.6h-1.5zM355.8 63.2h1.5v1.6h-1.5zM352.8 64.7h1.5v1.6h-1.5zM358.8 64.7h1.5v1.6h-1.5zM364.7 64.7h1.5v1.6h-1.5zM360.3 66.1h6.0v1.6h-6.0zM363.2 67.6h1.5v1.6h-1.5zM366.2 67.6h3.0v1.6h-3.0zM357.3 69.1h6.0v1.6h-6.0zM364.7 69.1h1.5v1.6h-1.5zM360.3 70.6h1.5v1.6h-1.5zM363.2 70.6h1.5v1.6h-1.5zM366.2 70.6h1.5v1.6h-1.5zM397.5 72.1h1.5v1.6h-1.5zM397.5 73.6h6.0v1.6h-6.0zM397.5 75.1h4.5v1.6h-4.5zM403.5 75.1h3.0v1.6h-3.0zM407.9 75.1h1.5v1.6h-1.5zM400.5 76.6h1.5v1.6h-1.5zM404.9 76.6h1.5v1.6h-1.5zM407.9 76.6h1.5v1.6h-1.5zM400.5 78.1h1.5v1.6h-1.5zM403.5 79.5h3.0v1.6h-3.0zM407.9 79.5h1.5v1.6h-1.5zM415.4 79.5h1.5v1.6h-1.5zM404.9 81.0h3.0v1.6h-3.0zM409.4 81.0h1.5v1.6h-1.5zM406.4 82.5h1.5v1.6h-1.5zM412.4 82.5h1.5v1.6h-1.5zM419.8 82.5h1.5v1.6h-1.5zM410.9 84.0h3.0v1.6h-3.0zM416.9 84.0h1.5v1.6h-1.5zM421.3 84.0h1.5v1.6h-1.5zM384.1 85.5h4.5v1.6h-4.5zM406.4 85.5h4.5v1.6h-4.5zM415.4 85.5h1.5v1.6h-1.5zM385.6 87.0h3.0v1.6h-3.0zM385.6 88.5h6.0v1.6h-6.0zM409.4 88.5h1.5v1.6h-1.5zM385.6 90.0h1.5v1.6h-1.5zM419.8 90.0h4.5v1.6h-4.5zM387.1 91.5h1.5v1.6h-1.5zM391.5 91.5h1.5v1.6h-1.5zM421.3 91.5h1.5v1.6h-1.5zM387.1 93.0h3.0v1.6h-3.0zM391.5 93.0h3.0v1.6h-3.0zM419.8 93.0h3.0v1.6h-3.0zM393.0 94.4h3.0v1.6h-3.0zM397.5 94.4h1.5v1.6h-1.5zM416.9 94.4h6.0v1.6h-6.0zM387.1 95.9h3.0v1.6h-3.0zM391.5 95.9h1.5v1.6h-1.5zM397.5 95.9h1.5v1.6h-1.5zM393.0 97.4h1.5v1.6h-1.5zM397.5 97.4h1.5v1.6h-1.5zM400.5 97.4h1.5v1.6h-1.5zM421.3 97.4h3.0v1.6h-3.0zM396.0 98.9h1.5v1.6h-1.5zM422.8 98.9h3.0v1.6h-3.0zM394.5 100.4h3.0v1.6h-3.0zM422.8 100.4h3.0v1.6h-3.0zM424.3 101.9h1.5v1.6h-1.5zM391.5 103.4h1.5v1.6h-1.5zM397.5 103.4h1.5v1.6h-1.5zM396.0 104.9h1.5v1.6h-1.5zM406.4 104.9h1.5v1.6h-1.5zM406.4 106.4h1.5v1.6h-1.5zM394.5 107.8h1.5v1.6h-1.5zM402.0 107.8h1.5v1.6h-1.5zM404.9 107.8h3.0v1.6h-3.0zM396.0 109.3h1.5v1.6h-1.5zM402.0 109.3h6.0v1.6h-6.0zM409.4 109.3h1.5v1.6h-1.5zM402.0 110.8h1.5v1.6h-1.5zM409.4 110.8h4.5v1.6h-4.5zM410.9 112.3h4.5v1.6h-4.5z" fill="#ffb1b1"/>
<path d="M363.2 39.3h1.5v1.6h-1.5zM369.2 40.8h3.0v1.6h-3.0zM366.2 42.3h3.0v1.6h-3.0zM367.7 43.8h1.5v1.6h-1.5zM375.2 45.3h4.5v1.6h-4.5zM370.7 46.8h3.0v1.6h-3.0zM375.2 46.8h1.5v1.6h-1.5zM375.2 48.3h3.0v1.6h-3.0zM376.7 49.8h1.5v1.6h-1.5zM351.3 51.2h1.5v1.6h-1.5zM373.7 51.2h1.5v1.6h-1.5zM376.7 51.2h1.5v1.6h-1.5zM381.1 51.2h1.5v1.6h-1.5zM354.3 54.2h1.5v1.6h-1.5zM378.1 54.2h1.5v1.6h-1.5zM354.3 55.7h3.0v1.6h-3.0zM378.1 55.7h1.5v1.6h-1.5zM382.6 55.7h1.5v1.6h-1.5zM352.8 57.2h1.5v1.6h-1.5zM379.6 57.2h1.5v1.6h-1.5zM382.6 57.2h1.5v1.6h-1.5zM352.8 58.7h1.5v1.6h-1.5zM358.8 58.7h1.5v1.6h-1.5zM358.8 60.2h1.5v1.6h-1.5zM363.2 61.7h1.5v1.6h-1.5zM382.6 61.7h1.5v1.6h-1.5zM357.3 63.2h4.5v1.6h-4.5zM357.3 64.7h1.5v1.6h-1.5zM360.3 64.7h4.5v1.6h-4.5zM357.3 66.1h1.5v1.6h-1.5zM366.2 66.1h3.0v1.6h-3.0zM369.2 67.6h1.5v1.6h-1.5zM363.2 69.1h1.5v1.6h-1.5zM367.7 70.6h3.0v1.6h-3.0zM373.7 70.6h1.5v1.6h-1.5zM402.0 72.1h1.5v1.6h-1.5zM402.0 75.1h1.5v1.6h-1.5zM397.5 76.6h3.0v1.6h-3.0zM403.5 76.6h1.5v1.6h-1.5zM397.5 78.1h3.0v1.6h-3.0zM402.0 78.1h1.5v1.6h-1.5zM400.5 81.0h1.5v1.6h-1.5zM403.5 81.0h1.5v1.6h-1.5zM407.9 82.5h1.5v1.6h-1.5zM407.9 84.0h3.0v1.6h-3.0zM388.6 85.5h3.0v1.6h-3.0zM388.6 87.0h3.0v1.6h-3.0zM407.9 87.0h1.5v1.6h-1.5zM393.0 88.5h1.5v1.6h-1.5zM415.4 88.5h1.5v1.6h-1.5zM384.1 90.0h1.5v1.6h-1.5zM387.1 90.0h1.5v1.6h-1.5zM390.1 90.0h1.5v1.6h-1.5zM415.4 90.0h1.5v1.6h-1.5zM418.4 90.0h1.5v1.6h-1.5zM388.6 91.5h1.5v1.6h-1.5zM393.0 91.5h1.5v1.6h-1.5zM412.4 91.5h7.4v1.6h-7.4zM416.9 93.0h3.0v1.6h-3.0zM422.8 93.0h1.5v1.6h-1.5zM394.5 95.9h3.0v1.6h-3.0zM399.0 95.9h1.5v1.6h-1.5zM416.9 95.9h1.5v1.6h-1.5zM419.8 95.9h3.0v1.6h-3.0zM396.0 97.4h1.5v1.6h-1.5zM419.8 97.4h1.5v1.6h-1.5zM421.3 98.9h1.5v1.6h-1.5zM403.5 100.4h1.5v1.6h-1.5zM403.5 101.9h1.5v1.6h-1.5zM400.5 103.4h4.5v1.6h-4.5zM403.5 104.9h3.0v1.6h-3.0zM407.9 104.9h1.5v1.6h-1.5zM402.0 106.4h4.5v1.6h-4.5zM407.9 107.8h3.0v1.6h-3.0zM407.9 109.3h1.5v1.6h-1.5zM410.9 109.3h1.5v1.6h-1.5zM404.9 110.8h1.5v1.6h-1.5z" fill="#ff9d9d"/>
<path d="M384.1 39.3h1.5v1.6h-1.5zM364.7 40.8h4.5v1.6h-4.5zM364.7 43.8h3.0v1.6h-3.0zM370.7 45.3h1.5v1.6h-1.5zM369.2 46.8h1.5v1.6h-1.5zM372.2 49.8h1.5v1.6h-1.5zM375.2 51.2h1.5v1.6h-1.5zM352.8 52.7h1.5v1.6h-1.5zM355.8 52.7h1.5v1.6h-1.5zM373.7 52.7h3.0v1.6h-3.0zM352.8 54.2h1.5v1.6h-1.5zM355.8 54.2h1.5v1.6h-1.5zM381.1 54.2h1.5v1.6h-1.5zM352.8 55.7h1.5v1.6h-1.5zM381.1 55.7h1.5v1.6h-1.5zM358.8 57.2h1.5v1.6h-1.5zM378.1 57.2h1.5v1.6h-1.5zM357.3 58.7h1.5v1.6h-1.5zM382.6 58.7h1.5v1.6h-1.5zM361.8 60.2h1.5v1.6h-1.5zM379.6 60.2h1.5v1.6h-1.5zM382.6 60.2h1.5v1.6h-1.5zM364.7 61.7h1.5v1.6h-1.5zM381.1 61.7h1.5v1.6h-1.5zM363.2 63.2h3.0v1.6h-3.0zM369.2 66.1h1.5v1.6h-1.5zM372.2 67.6h1.5v1.6h-1.5zM366.2 69.1h3.0v1.6h-3.0zM373.7 69.1h1.5v1.6h-1.5zM370.7 70.6h3.0v1.6h-3.0zM351.3 72.1h1.5v1.6h-1.5zM393.0 72.1h1.5v1.6h-1.5zM396.0 72.1h1.5v1.6h-1.5zM396.0 73.6h1.5v1.6h-1.5zM396.0 75.1h1.5v1.6h-1.5zM402.0 76.6h1.5v1.6h-1.5zM399.0 79.5h4.5v1.6h-4.5zM384.1 81.0h1.5v1.6h-1.5zM404.9 82.5h1.5v1.6h-1.5zM384.1 84.0h4.5v1.6h-4.5zM404.9 84.0h3.0v1.6h-3.0zM404.9 85.5h1.5v1.6h-1.5zM391.5 87.0h1.5v1.6h-1.5zM404.9 87.0h3.0v1.6h-3.0zM391.5 88.5h1.5v1.6h-1.5zM407.9 88.5h1.5v1.6h-1.5zM388.6 90.0h1.5v1.6h-1.5zM391.5 90.0h1.5v1.6h-1.5zM410.9 90.0h1.5v1.6h-1.5zM413.9 90.0h1.5v1.6h-1.5zM416.9 90.0h1.5v1.6h-1.5zM409.4 91.5h3.0v1.6h-3.0zM394.5 93.0h6.0v1.6h-6.0zM413.9 93.0h3.0v1.6h-3.0zM396.0 94.4h1.5v1.6h-1.5zM399.0 94.4h1.5v1.6h-1.5zM413.9 94.4h3.0v1.6h-3.0zM400.5 95.9h1.5v1.6h-1.5zM418.4 95.9h1.5v1.6h-1.5zM403.5 97.4h1.5v1.6h-1.5zM418.4 97.4h1.5v1.6h-1.5zM402.0 98.9h3.0v1.6h-3.0zM418.4 98.9h3.0v1.6h-3.0zM402.0 101.9h1.5v1.6h-1.5zM404.9 101.9h3.0v1.6h-3.0zM422.8 101.9h1.5v1.6h-1.5zM404.9 103.4h3.0v1.6h-3.0zM402.0 104.9h1.5v1.6h-1.5zM424.3 104.9h1.5v1.6h-1.5zM407.9 106.4h4.5v1.6h-4.5zM410.9 107.8h1.5v1.6h-1.5zM413.9 110.8h1.5v1.6h-1.5zM416.9 112.3h1.5v1.6h-1.5z" fill="#ff8989"/>
<path d="M360.3 37.8h1.5v1.6h-1.5zM363.2 42.3h1.5v1.6h-1.5zM361.8 43.8h3.0v1.6h-3.0zM367.7 45.3h3.0v1.6h-3.0zM372.2 45.3h1.5v1.6h-1.5zM349.8 48.3h1.5v1.6h-1.5zM370.7 48.3h3.0v1.6h-3.0zM355.8 49.8h1.5v1.6h-1.5zM370.7 49.8h1.5v1.6h-1.5zM375.2 49.8h1.5v1.6h-1.5zM354.3 51.2h3.0v1.6h-3.0zM372.2 52.7h1.5v1.6h-1.5zM373.7 54.2h1.5v1.6h-1.5zM376.7 54.2h1.5v1.6h-1.5zM357.3 55.7h1.5v1.6h-1.5zM376.7 55.7h1.5v1.6h-1.5zM357.3 57.2h1.5v1.6h-1.5zM381.1 57.2h1.5v1.6h-1.5zM360.3 58.7h3.0v1.6h-3.0zM379.6 58.7h1.5v1.6h-1.5zM357.3 60.2h1.5v1.6h-1.5zM360.3 60.2h1.5v1.6h-1.5zM364.7 60.2h1.5v1.6h-1.5zM381.1 60.2h1.5v1.6h-1.5zM366.2 61.7h1.5v1.6h-1.5zM379.6 61.7h1.5v1.6h-1.5zM361.8 63.2h1.5v1.6h-1.5zM366.2 64.7h3.0v1.6h-3.0zM370.7 67.6h1.5v1.6h-1.5zM373.7 67.6h1.5v1.6h-1.5zM369.2 69.1h1.5v1.6h-1.5zM372.2 69.1h1.5v1.6h-1.5zM390.1 72.1h1.5v1.6h-1.5zM394.5 72.1h1.5v1.6h-1.5zM393.0 73.6h3.0v1.6h-3.0zM393.0 75.1h1.5v1.6h-1.5zM396.0 76.6h1.5v1.6h-1.5zM384.1 78.1h1.5v1.6h-1.5zM397.5 79.5h1.5v1.6h-1.5zM385.6 81.0h3.0v1.6h-3.0zM399.0 81.0h1.5v1.6h-1.5zM402.0 81.0h1.5v1.6h-1.5zM384.1 82.5h3.0v1.6h-3.0zM403.5 82.5h1.5v1.6h-1.5zM388.6 84.0h1.5v1.6h-1.5zM403.5 84.0h1.5v1.6h-1.5zM391.5 85.5h1.5v1.6h-1.5zM403.5 85.5h1.5v1.6h-1.5zM393.0 87.0h1.5v1.6h-1.5zM403.5 87.0h1.5v1.6h-1.5zM406.4 88.5h1.5v1.6h-1.5zM393.0 90.0h1.5v1.6h-1.5zM412.4 90.0h1.5v1.6h-1.5zM394.5 91.5h6.0v1.6h-6.0zM410.9 93.0h3.0v1.6h-3.0zM400.5 94.4h1.5v1.6h-1.5zM404.9 98.9h1.5v1.6h-1.5zM416.9 98.9h1.5v1.6h-1.5zM402.0 100.4h1.5v1.6h-1.5zM404.9 100.4h1.5v1.6h-1.5zM421.3 100.4h1.5v1.6h-1.5zM422.8 103.4h3.0v1.6h-3.0zM410.9 104.9h1.5v1.6h-1.5zM412.4 109.3h1.5v1.6h-1.5zM415.4 110.8h1.5v1.6h-1.5zM415.4 112.3h1.5v1.6h-1.5z" fill="#ff7676"/>
<path d="M348.4 30.4h1.5v1.6h-1.5zM342.4 36.4h1.5v1.6h-1.5zM366.2 37.8h1.5v1.6h-1.5zM358.8 39.3h3.0v1.6h-3.0zM361.8 42.3h1.5v1.6h-1.5zM364.7 45.3h3.0v1.6h-3.0zM351.3 46.8h1.5v1.6h-1.5zM364.7 46.8h1.5v1.6h-1.5zM367.7 46.8h1.5v1.6h-1.5zM351.3 48.3h1.5v1.6h-1.5zM354.3 49.8h1.5v1.6h-1.5zM372.2 51.2h1.5v1.6h-1.5zM357.3 52.7h3.0v1.6h-3.0zM349.8 54.2h1.5v1.6h-1.5zM357.3 54.2h1.5v1.6h-1.5zM375.2 54.2h1.5v1.6h-1.5zM358.8 55.7h1.5v1.6h-1.5zM381.1 58.7h1.5v1.6h-1.5zM363.2 60.2h1.5v1.6h-1.5zM366.2 63.2h1.5v1.6h-1.5zM370.7 69.1h1.5v1.6h-1.5zM403.5 88.5h1.5v1.6h-1.5zM409.4 90.0h1.5v1.6h-1.5zM400.5 91.5h1.5v1.6h-1.5zM415.4 95.9h1.5v1.6h-1.5zM402.0 97.4h1.5v1.6h-1.5zM416.9 97.4h1.5v1.6h-1.5zM419.8 100.4h1.5v1.6h-1.5zM421.3 101.9h1.5v1.6h-1.5zM407.9 103.4h1.5v1.6h-1.5zM409.4 104.9h1.5v1.6h-1.5zM422.8 104.9h1.5v1.6h-1.5zM424.3 106.4h1.5v1.6h-1.5zM412.4 107.8h1.5v1.6h-1.5zM424.3 107.8h1.5v1.6h-1.5zM413.9 109.3h1.5v1.6h-1.5zM416.9 110.8h1.5v1.6h-1.5zM418.4 112.3h3.0v1.6h-3.0z" fill="#ff6262"/>
<path d="M346.9 30.4h1.5v1.6h-1.5zM342.4 34.9h1.5v1.6h-1.5zM358.8 37.8h1.5v1.6h-1.5zM361.8 40.8h3.0v1.6h-3.0zM349.8 46.8h1.5v1.6h-1.5zM366.2 46.8h1.5v1.6h-1.5zM367.7 48.3h3.0v1.6h-3.0zM352.8 49.8h1.5v1.6h-1.5zM369.2 49.8h1.5v1.6h-1.5zM352.8 51.2h1.5v1.6h-1.5zM358.8 54.2h1.5v1.6h-1.5zM360.3 55.7h1.5v1.6h-1.5zM360.3 57.2h3.0v1.6h-3.0zM378.1 58.7h1.5v1.6h-1.5zM378.1 61.7h1.5v1.6h-1.5zM382.6 63.2h1.5v1.6h-1.5zM382.6 64.7h1.5v1.6h-1.5zM370.7 66.1h1.5v1.6h-1.5zM373.7 66.1h1.5v1.6h-1.5zM375.2 70.6h3.0v1.6h-3.0zM391.5 72.1h1.5v1.6h-1.5zM394.5 75.1h1.5v1.6h-1.5zM396.0 78.1h1.5v1.6h-1.5zM384.1 79.5h1.5v1.6h-1.5zM397.5 81.0h1.5v1.6h-1.5zM387.1 82.5h1.5v1.6h-1.5zM400.5 82.5h3.0v1.6h-3.0zM390.1 84.0h1.5v1.6h-1.5zM393.0 85.5h1.5v1.6h-1.5zM394.5 88.5h1.5v1.6h-1.5zM394.5 90.0h1.5v1.6h-1.5zM412.4 94.4h1.5v1.6h-1.5zM413.9 95.9h1.5v1.6h-1.5zM415.4 98.9h1.5v1.6h-1.5zM406.4 100.4h1.5v1.6h-1.5zM407.9 101.9h1.5v1.6h-1.5zM419.8 101.9h1.5v1.6h-1.5zM410.9 103.4h1.5v1.6h-1.5zM413.9 107.8h1.5v1.6h-1.5z" fill="#ff4e4e"/>
<path d="M355.8 37.8h1.5v1.6h-1.5zM360.3 40.8h1.5v1.6h-1.5zM358.8 42.3h3.0v1.6h-3.0zM349.8 43.8h1.5v1.6h-1.5zM354.3 46.8h1.5v1.6h-1.5zM352.8 48.3h3.0v1.6h-3.0zM369.2 52.7h3.0v1.6h-3.0zM373.7 55.7h1.5v1.6h-1.5zM364.7 57.2h1.5v1.6h-1.5zM373.7 57.2h1.5v1.6h-1.5zM364.7 58.7h1.5v1.6h-1.5zM376.7 58.7h1.5v1.6h-1.5zM378.1 60.2h1.5v1.6h-1.5zM367.7 61.7h3.0v1.6h-3.0zM370.7 64.7h1.5v1.6h-1.5zM372.2 66.1h1.5v1.6h-1.5zM394.5 76.6h1.5v1.6h-1.5zM388.6 82.5h1.5v1.6h-1.5zM400.5 85.5h3.0v1.6h-3.0zM397.5 88.5h1.5v1.6h-1.5zM404.9 88.5h1.5v1.6h-1.5zM397.5 90.0h1.5v1.6h-1.5zM406.4 90.0h1.5v1.6h-1.5zM407.9 91.5h1.5v1.6h-1.5zM400.5 93.0h1.5v1.6h-1.5zM402.0 94.4h1.5v1.6h-1.5zM410.9 94.4h1.5v1.6h-1.5zM403.5 95.9h1.5v1.6h-1.5zM413.9 97.4h3.0v1.6h-3.0zM406.4 98.9h1.5v1.6h-1.5zM409.4 101.9h1.5v1.6h-1.5zM409.4 103.4h1.5v1.6h-1.5z" fill="#ff3b3b"/>
<path d="M354.3 37.8h1.5v1.6h-1.5zM355.8 39.3h1.5v1.6h-1.5zM358.8 40.8h1.5v1.6h-1.5zM349.8 42.3h1.5v1.6h-1.5zM351.3 43.8h1.5v1.6h-1.5zM360.3 43.8h1.5v1.6h-1.5zM352.8 46.8h1.5v1.6h-1.5zM355.8 48.3h1.5v1.6h-1.5zM370.7 51.2h1.5v1.6h-1.5zM372.2 54.2h1.5v1.6h-1.5zM375.2 55.7h1.5v1.6h-1.5zM376.7 57.2h1.5v1.6h-1.5zM363.2 58.7h1.5v1.6h-1.5zM366.2 60.2h1.5v1.6h-1.5zM367.7 63.2h1.5v1.6h-1.5zM379.6 63.2h3.0v1.6h-3.0zM369.2 64.7h1.5v1.6h-1.5zM375.2 67.6h1.5v1.6h-1.5zM375.2 69.1h1.5v1.6h-1.5zM390.1 73.6h3.0v1.6h-3.0zM393.0 76.6h1.5v1.6h-1.5zM385.6 78.1h1.5v1.6h-1.5zM393.0 78.1h3.0v1.6h-3.0zM385.6 79.5h1.5v1.6h-1.5zM388.6 81.0h3.0v1.6h-3.0zM390.1 82.5h1.5v1.6h-1.5zM400.5 84.0h3.0v1.6h-3.0zM396.0 88.5h1.5v1.6h-1.5zM396.0 90.0h1.5v1.6h-1.5zM406.4 91.5h1.5v1.6h-1.5zM403.5 94.4h1.5v1.6h-1.5zM412.4 95.9h1.5v1.6h-1.5zM407.9 100.4h1.5v1.6h-1.5z" fill="#ff2727"/>
<path d="M357.3 37.8h1.5v1.6h-1.5zM349.8 45.3h1.5v1.6h-1.5zM363.2 46.8h1.5v1.6h-1.5zM364.7 48.3h3.0v1.6h-3.0zM367.7 49.8h1.5v1.6h-1.5zM358.8 51.2h1.5v1.6h-1.5zM369.2 51.2h1.5v1.6h-1.5zM360.3 52.7h1.5v1.6h-1.5zM360.3 54.2h1.5v1.6h-1.5zM361.8 55.7h1.5v1.6h-1.5zM363.2 57.2h1.5v1.6h-1.5zM375.2 57.2h1.5v1.6h-1.5zM369.2 63.2h1.5v1.6h-1.5zM382.6 66.1h1.5v1.6h-1.5zM378.1 70.6h1.5v1.6h-1.5zM390.1 75.1h3.0v1.6h-3.0zM387.1 78.1h1.5v1.6h-1.5zM387.1 79.5h1.5v1.6h-1.5zM399.0 84.0h1.5v1.6h-1.5zM396.0 87.0h1.5v1.6h-1.5zM407.9 90.0h1.5v1.6h-1.5zM409.4 93.0h1.5v1.6h-1.5zM402.0 95.9h1.5v1.6h-1.5zM404.9 97.4h1.5v1.6h-1.5zM412.4 97.4h1.5v1.6h-1.5zM409.4 100.4h1.5v1.6h-1.5zM416.9 100.4h3.0v1.6h-3.0zM418.4 101.9h1.5v1.6h-1.5zM421.3 103.4h1.5v1.6h-1.5zM412.4 104.9h1.5v1.6h-1.5zM412.4 106.4h3.0v1.6h-3.0zM415.4 109.3h1.5v1.6h-1.5z" fill="#ff1414"/>
<path d="M342.4 30.4h4.5v1.6h-4.5zM342.4 31.9h7.4v1.6h-7.4zM342.4 33.4h7.4v1.6h-7.4zM343.9 34.9h6.0v1.6h-6.0zM343.9 36.4h7.4v1.6h-7.4zM348.4 37.8h6.0v1.6h-6.0zM372.2 37.8h1.5v1.6h-1.5zM349.8 39.3h6.0v1.6h-6.0zM357.3 39.3h1.5v1.6h-1.5zM349.8 40.8h8.9v1.6h-8.9zM351.3 42.3h7.4v1.6h-7.4zM352.8 43.8h7.4v1.6h-7.4zM351.3 45.3h13.4v1.6h-13.4zM355.8 46.8h7.4v1.6h-7.4zM357.3 48.3h7.4v1.6h-7.4zM357.3 49.8h10.4v1.6h-10.4zM357.3 51.2h1.5v1.6h-1.5zM360.3 51.2h8.9v1.6h-8.9zM361.8 52.7h7.4v1.6h-7.4zM361.8 54.2h10.4v1.6h-10.4zM363.2 55.7h10.4v1.6h-10.4zM366.2 57.2h7.4v1.6h-7.4zM366.2 58.7h10.4v1.6h-10.4zM349.8 60.2h1.5v1.6h-1.5zM367.7 60.2h10.4v1.6h-10.4zM370.7 61.7h7.4v1.6h-7.4zM370.7 63.2h8.9v1.6h-8.9zM372.2 64.7h10.4v1.6h-10.4zM375.2 66.1h7.4v1.6h-7.4zM376.7 67.6h7.4v1.6h-7.4zM376.7 69.1h7.4v1.6h-7.4zM379.6 70.6h6.0v1.6h-6.0zM382.6 72.1h7.4v1.6h-7.4zM384.1 73.6h6.0v1.6h-6.0zM384.1 75.1h6.0v1.6h-6.0zM384.1 76.6h8.9v1.6h-8.9zM388.6 78.1h4.5v1.6h-4.5zM388.6 79.5h8.9v1.6h-8.9zM391.5 81.0h6.0v1.6h-6.0zM391.5 82.5h8.9v1.6h-8.9zM391.5 84.0h7.4v1.6h-7.4zM394.5 85.5h6.0v1.6h-6.0zM394.5 87.0h1.5v1.6h-1.5zM397.5 87.0h6.0v1.6h-6.0zM399.0 88.5h4.5v1.6h-4.5zM399.0 90.0h7.4v1.6h-7.4zM402.0 91.5h4.5v1.6h-4.5zM402.0 93.0h7.4v1.6h-7.4zM404.9 94.4h6.0v1.6h-6.0zM404.9 95.9h7.4v1.6h-7.4zM406.4 97.4h6.0v1.6h-6.0zM407.9 98.9h7.4v1.6h-7.4zM410.9 100.4h6.0v1.6h-6.0zM410.9 101.9h7.4v1.6h-7.4zM412.4 103.4h8.9v1.6h-8.9zM413.9 104.9h8.9v1.6h-8.9zM415.4 106.4h8.9v1.6h-8.9zM415.4 107.8h8.9v1.6h-8.9zM416.9 109.3h8.9v1.6h-8.9zM418.4 110.8h7.4v1.6h-7.4zM421.3 112.3h4.5v1.6h-4.5z" fill="#ff0000"/>
<rect x="342.4" y="30.4" width="83.4" height="83.4" fill="none" stroke="#3a3a3a" stroke-width="1.1"/>
<text x="362.8" y="122.4" font-size="8.8" font-style="italic" font-family='"Liberation Serif", serif' fill="#444">M<tspan font-size="5.5" dy="2">ij</tspan><tspan dy="-2" font-style="normal"> / (</tspan>B<tspan font-size="5.5" dy="2">i</tspan><tspan dy="-2" font-style="normal"> * </tspan>B<tspan font-size="5.5" dy="2">j</tspan><tspan dy="-2" font-style="normal">)</tspan></text>
<text x="3.20" y="170.00" font-size="12.5" fill="#000" font-weight="bold">b</text>
<path d="M50.30 273.70H54.2M50.30 269.54H54.2M50.30 266.59H54.2M50.30 264.30H54.2M50.30 262.44H54.2M50.30 260.86H54.2M50.30 259.49H54.2M50.30 258.28H54.2M48.00 257.20H54.2M50.30 250.10H54.2M50.30 245.94H54.2M50.30 242.99H54.2M50.30 240.70H54.2M50.30 238.84H54.2M50.30 237.26H54.2M50.30 235.89H54.2M50.30 234.68H54.2M48.00 233.60H54.2M50.30 226.50H54.2M50.30 222.34H54.2M50.30 219.39H54.2M50.30 217.10H54.2M50.30 215.24H54.2M50.30 213.66H54.2M50.30 212.29H54.2M50.30 211.08H54.2M48.00 210.00H54.2M50.30 202.90H54.2M50.30 198.74H54.2M50.30 195.79H54.2M50.30 193.50H54.2M50.30 191.64H54.2M50.30 190.06H54.2M50.30 188.69H54.2M50.30 187.48H54.2M48.00 186.40H54.2M50.30 179.30H54.2" stroke="#000" stroke-width="1.0" fill="none"/>
<path d="M79.4 276.6V282.40000000000003M120.9 276.6V282.40000000000003" stroke="#000" stroke-width="1.1"/>
<path d="M54.2 176.5V276.6H155.3" stroke="#000" stroke-width="1.2" fill="none"/>
<text x="46.3" y="189.30" font-size="8.5" text-anchor="end">10<tspan font-size="5.6" dy="-3.4">2</tspan></text>
<text x="46.3" y="212.90" font-size="8.5" text-anchor="end">10<tspan font-size="5.6" dy="-3.4">1</tspan></text>
<text x="46.3" y="236.50" font-size="8.5" text-anchor="end">10<tspan font-size="5.6" dy="-3.4">0</tspan></text>
<text x="47.6" y="260.10" font-size="8.5" text-anchor="end">10<tspan font-size="5.6" dy="-3.4">−1</tspan></text>
<text x="71.80" y="292.0" font-size="8.5">10<tspan font-size="5.6" dy="-3.4">5</tspan></text>
<text x="113.30" y="292.0" font-size="8.5">10<tspan font-size="5.6" dy="-3.4">7</tspan></text>
<text x="58.90" y="303.40" font-size="8.98">Genomic Distance (bp)</text>
<text transform="translate(20.9,226.9) rotate(-90)" font-size="8.98" text-anchor="middle">Contact Frequency</text>
<path d="M57.70 181.10C59.25 182.32 64.03 185.95 67.00 188.40C69.97 190.85 72.38 193.22 75.50 195.80C78.62 198.38 82.87 201.53 85.70 203.90C88.53 206.27 90.23 207.38 92.50 210.00C94.77 212.62 97.03 216.33 99.30 219.60C101.57 222.87 103.83 226.40 106.10 229.60C108.37 232.80 110.63 236.10 112.90 238.80C115.17 241.50 117.43 243.80 119.70 245.80C121.97 247.80 124.23 249.10 126.50 250.80C128.77 252.50 131.32 254.00 133.30 256.00C135.28 258.00 136.83 260.63 138.40 262.80C139.97 264.97 141.43 267.57 142.70 269.00C143.97 270.43 144.67 271.03 146.00 271.40C147.33 271.77 149.92 271.23 150.70 271.20" stroke="#4f7fc0" stroke-width="2.3" fill="none" transform="translate(0.3,0.6)"/>
<path d="M57.70 181.10C59.25 182.32 64.03 185.95 67.00 188.40C69.97 190.85 72.38 193.22 75.50 195.80C78.62 198.38 82.87 201.53 85.70 203.90C88.53 206.27 90.23 207.38 92.50 210.00C94.77 212.62 97.03 216.33 99.30 219.60C101.57 222.87 103.83 226.40 106.10 229.60C108.37 232.80 110.63 236.10 112.90 238.80C115.17 241.50 117.43 243.80 119.70 245.80C121.97 247.80 124.23 249.10 126.50 250.80C128.77 252.50 131.32 254.00 133.30 256.00C135.28 258.00 136.83 260.63 138.40 262.80C139.97 264.97 141.43 267.57 142.70 269.00C143.97 270.43 144.67 271.03 146.00 271.40C147.33 271.77 149.92 271.23 150.70 271.20" stroke="#c9b6e0" stroke-width="2.3" fill="none" transform="translate(0.2,0.3)"/>
<path d="M57.70 181.10C59.25 182.32 64.03 185.95 67.00 188.40C69.97 190.85 72.38 193.22 75.50 195.80C78.62 198.38 82.87 201.53 85.70 203.90C88.53 206.27 90.23 207.38 92.50 210.00C94.77 212.62 97.03 216.33 99.30 219.60C101.57 222.87 103.83 226.40 106.10 229.60C108.37 232.80 110.63 236.10 112.90 238.80C115.17 241.50 117.43 243.80 119.70 245.80C121.97 247.80 124.23 249.10 126.50 250.80C128.77 252.50 131.32 254.00 133.30 256.00C135.28 258.00 136.83 260.63 138.40 262.80C139.97 264.97 141.43 267.57 142.70 269.00C143.97 270.43 144.67 271.03 146.00 271.40C147.33 271.77 149.92 271.23 150.70 271.20" stroke="#f7b77a" stroke-width="2.3" fill="none" transform="translate(0.2,-0.6)"/>
<path d="M57.70 181.10C59.25 182.32 64.03 185.95 67.00 188.40C69.97 190.85 72.38 193.22 75.50 195.80C78.62 198.38 82.87 201.53 85.70 203.90C88.53 206.27 90.23 207.38 92.50 210.00C94.77 212.62 97.03 216.33 99.30 219.60C101.57 222.87 103.83 226.40 106.10 229.60C108.37 232.80 110.63 236.10 112.90 238.80C115.17 241.50 117.43 243.80 119.70 245.80C121.97 247.80 124.23 249.10 126.50 250.80C128.77 252.50 131.32 254.00 133.30 256.00C135.28 258.00 136.83 260.63 138.40 262.80C139.97 264.97 141.43 267.57 142.70 269.00C143.97 270.43 144.67 271.03 146.00 271.40C147.33 271.77 149.92 271.23 150.70 271.20" stroke="#79c57a" stroke-width="2.3" fill="none"/>
<path d="M75.2 203.7L123.1 258.1" stroke="#000" stroke-width="1.7"/>
<path d="M115.1 180.5H124.8" stroke="#4f7fc0" stroke-width="1.3"/>
<text x="129.60" y="183.40" font-size="7.9">Raw</text>
<path d="M115.1 192.6H124.8" stroke="#f7b77a" stroke-width="1.3"/>
<text x="129.60" y="195.50" font-size="7.9">ICE</text>
<path d="M115.1 204.8H124.8" stroke="#c9b6e0" stroke-width="1.3"/>
<text x="129.60" y="207.70" font-size="7.9">KR</text>
<path d="M115.1 216.8H124.8" stroke="#79c57a" stroke-width="1.3"/>
<text x="129.60" y="219.70" font-size="7.9">Raichu</text>
<path d="M115.1 229.1H124.8" stroke="#000" stroke-width="1.3"/>
<text x="129.60" y="232.00" font-size="7.9"><tspan font-size="8.6" dy="-0.7">~</tspan><tspan dy="0.7">1/L</tspan></text>
<text x="186.00" y="169.60" font-size="12.5" fill="#000" font-weight="bold">c</text>
<defs><filter id="bl2" x="-50%" y="-50%" width="200%" height="200%"><feGaussianBlur stdDeviation="2.2"/></filter><filter id="bl4" x="-50%" y="-50%" width="200%" height="200%"><feGaussianBlur stdDeviation="4"/></filter></defs>
<text x="225.50" y="181.30" font-size="8.92">Resolution: 100kb</text>
<path d="M212.9 185.3V275.8H311.4M208.4 275.7H212.9M208.4 252.6H212.9M208.4 229.7H212.9M208.4 206.7H212.9M233.3 275.8V280.40000000000003M264.5 275.8V280.40000000000003M295.7 275.8V280.40000000000003" stroke="#000" stroke-width="1.1" fill="none"/>
<text x="204.30" y="278.70" font-size="8.4" text-anchor="end">0</text>
<text x="204.30" y="255.60" font-size="8.4" text-anchor="end">1</text>
<text x="204.30" y="232.70" font-size="8.4" text-anchor="end">2</text>
<text x="204.30" y="209.70" font-size="8.4" text-anchor="end">3</text>
<text x="233.30" y="290.60" font-size="8.4" text-anchor="middle">1</text>
<text x="264.50" y="290.60" font-size="8.4" text-anchor="middle">2</text>
<text x="295.70" y="290.60" font-size="8.4" text-anchor="middle">3</text>
<path d="M241.4 238.2h0M251.8 228.6h0M216.8 259.6h0M243.3 241.4h0M236.5 250.1h0M241.5 244.2h0M233.5 249.5h0M226.6 253.5h0M241.5 243.1h0M250.1 238.1h0M254.7 231.9h0M249.5 233.0h0M230.9 252.2h0M254.4 232.5h0M233.5 250.9h0M222.2 260.7h0M220.2 256.8h0M232.3 248.2h0M228.0 251.3h0M223.3 257.4h0M246.0 239.1h0M245.1 241.1h0M222.6 259.2h0M253.7 238.3h0M253.6 234.0h0M229.0 249.1h0M224.5 251.5h0M254.5 238.1h0M222.4 259.6h0M248.6 240.1h0M238.3 246.9h0M228.0 255.1h0M245.0 241.0h0M225.3 257.5h0M234.6 251.9h0M246.1 238.3h0M223.3 257.2h0M237.9 245.0h0M248.1 238.8h0M248.8 240.2h0M227.0 253.3h0M240.3 247.2h0M250.8 234.5h0M243.3 240.3h0M235.6 250.5h0M256.6 232.4h0M237.0 247.0h0M230.9 246.8h0M233.8 245.2h0M242.0 237.2h0M232.5 247.5h0M237.4 242.4h0M233.7 250.1h0M242.9 244.1h0M228.1 249.9h0M245.6 234.1h0M230.3 246.6h0M245.8 241.5h0M247.4 229.8h0M249.9 233.8h0M229.2 249.4h0M235.5 242.7h0M246.9 244.0h0M239.0 241.6h0M242.1 239.1h0M246.1 240.5h0M234.6 246.1h0M243.2 240.6h0M236.7 247.6h0M224.8 257.0h0M229.8 254.6h0M231.3 246.9h0M228.9 252.8h0M234.0 251.1h0M225.8 253.8h0M221.4 257.3h0M237.4 247.7h0M253.6 231.6h0M246.5 235.9h0M223.4 253.4h0M255.5 233.4h0M232.7 249.8h0M221.8 254.8h0M222.5 251.4h0M232.0 250.0h0M232.7 251.0h0M255.3 232.2h0M232.1 251.9h0M232.0 255.0h0M236.7 249.1h0M223.3 253.9h0M231.5 246.6h0M219.7 258.2h0M252.2 232.8h0M233.5 258.5h0M228.7 249.5h0M239.4 239.6h0M225.0 253.7h0M237.7 247.0h0M236.5 245.8h0M245.1 239.2h0M224.6 254.0h0M249.9 235.8h0M244.1 240.3h0M242.7 238.4h0M249.4 237.0h0M249.7 238.9h0M252.2 239.4h0M242.3 241.8h0M247.8 237.9h0M234.3 245.6h0M233.6 253.2h0M249.2 238.7h0M248.9 234.0h0M220.8 251.2h0M253.7 232.3h0M249.4 240.8h0M252.1 232.9h0M231.7 250.7h0M240.0 243.9h0M242.6 243.2h0M234.2 249.5h0M239.8 238.7h0M223.7 256.4h0M235.6 243.8h0M236.5 250.7h0M224.2 252.8h0M248.2 234.1h0M228.1 251.5h0M244.6 239.3h0M226.3 256.0h0M226.2 250.6h0M223.3 255.8h0M223.8 254.7h0M248.0 236.5h0M250.8 239.1h0M225.9 262.8h0M243.7 242.6h0M251.0 229.6h0M224.2 253.6h0M227.2 256.0h0M231.6 250.9h0M246.0 233.6h0M236.9 245.2h0M237.3 241.7h0M234.5 249.1h0M232.2 255.1h0M236.9 246.4h0M238.9 244.5h0M234.2 248.1h0M227.3 257.1h0M234.6 248.0h0M229.2 253.9h0M230.7 254.5h0M223.9 257.0h0M250.7 231.0h0M237.6 246.3h0M242.2 245.4h0M245.8 241.5h0M221.9 259.4h0M236.3 248.2h0M229.5 251.3h0M244.9 238.4h0M226.5 247.3h0M236.9 245.2h0M224.8 260.5h0M237.2 249.2h0M251.6 233.0h0M228.3 259.0h0M237.9 245.9h0M231.1 253.5h0M222.9 260.1h0M231.7 251.3h0M254.2 236.5h0M233.4 248.3h0M233.5 252.9h0M247.9 232.1h0M230.8 253.8h0M235.1 245.3h0M240.9 237.1h0M227.2 252.5h0M229.8 254.7h0M224.5 252.0h0M231.9 251.6h0M231.1 254.0h0M240.1 244.9h0M245.5 241.3h0M229.7 252.4h0M233.4 252.1h0M241.9 242.2h0M244.0 238.0h0M244.9 232.4h0M244.5 238.1h0M246.9 238.8h0M224.0 259.1h0M243.1 242.3h0M245.7 238.9h0M224.1 259.5h0M252.2 235.5h0M226.7 254.1h0M234.8 250.7h0M248.1 236.3h0M240.1 248.8h0M239.4 245.7h0M222.9 261.2h0M234.0 248.1h0M248.8 237.8h0M252.2 233.1h0M247.2 238.2h0M256.1 234.3h0M238.5 244.7h0M227.9 255.1h0M237.3 247.8h0M228.0 254.3h0M255.7 229.2h0M240.4 243.8h0M247.8 237.4h0M229.4 257.0h0M251.9 240.0h0M229.9 245.8h0M242.2 240.4h0M218.4 258.5h0M225.6 255.7h0M221.1 260.7h0M236.1 244.1h0M255.4 228.1h0M242.6 238.2h0M245.4 240.9h0M241.6 241.0h0M225.3 258.2h0M240.4 239.8h0M232.7 250.1h0M247.9 242.3h0M247.6 240.1h0M245.6 237.5h0M241.8 246.1h0M251.0 242.7h0M238.8 245.0h0M235.3 252.3h0M253.2 233.7h0M236.4 251.5h0M238.8 242.2h0M250.7 238.1h0M226.5 248.2h0M224.0 251.4h0M231.0 254.4h0M251.0 234.5h0M232.3 249.6h0M250.3 237.5h0M242.4 242.9h0M224.1 260.4h0M241.5 244.9h0M238.6 240.4h0M247.4 241.2h0M250.4 236.7h0M246.0 232.2h0M227.2 248.3h0M237.9 247.6h0M227.2 255.7h0M244.2 245.7h0M246.9 235.6h0M249.4 237.5h0M242.6 242.5h0M225.8 257.0h0M230.1 250.3h0M247.4 241.0h0M238.2 245.8h0M238.4 246.3h0M242.5 244.7h0M223.6 253.0h0M232.6 253.3h0M232.3 244.0h0M233.0 252.0h0M244.7 237.6h0M228.5 255.6h0M240.3 246.3h0M228.4 251.9h0M232.0 253.6h0M251.4 232.7h0M253.5 236.0h0M251.5 238.1h0M234.6 249.8h0M234.2 249.2h0M223.9 264.5h0M234.7 247.7h0M233.4 250.6h0M239.8 246.6h0M244.0 240.2h0M248.9 232.6h0M225.9 258.7h0M237.5 244.8h0M245.3 241.9h0M246.9 238.4h0M241.6 242.0h0M254.3 235.8h0M228.2 252.4h0M244.0 242.8h0M238.0 248.2h0M251.7 234.5h0M224.3 252.7h0M241.8 244.9h0M251.9 234.8h0M225.5 255.1h0M243.2 242.6h0M220.1 254.2h0M245.1 241.4h0M240.7 244.0h0M231.8 243.3h0M227.4 251.9h0M238.9 243.4h0M236.8 246.2h0M244.2 240.5h0M241.3 242.3h0M239.6 246.6h0M234.2 250.3h0M233.0 242.4h0M229.8 248.6h0M258.2 232.2h0M233.5 256.4h0M220.1 258.3h0M234.6 249.1h0M227.0 249.7h0M224.0 257.9h0M240.3 247.0h0M224.7 258.7h0M227.4 254.8h0M230.9 247.7h0M231.1 249.0h0M232.7 247.5h0M231.4 250.2h0M251.1 236.9h0M222.5 254.3h0M225.3 260.1h0M237.7 245.6h0M243.0 246.5h0M240.0 241.9h0M252.9 234.9h0M244.3 241.7h0M233.4 242.6h0M247.7 241.8h0M251.5 240.1h0M229.5 252.4h0M241.3 238.7h0M237.2 248.4h0M231.1 251.6h0M223.4 257.5h0M232.7 245.3h0M228.4 256.8h0M241.0 242.2h0M252.2 236.9h0M232.7 244.9h0M238.1 242.3h0M247.8 236.7h0M224.4 258.6h0M250.1 239.5h0M243.2 242.0h0M245.9 240.0h0M243.5 239.7h0M224.8 257.3h0M241.7 240.5h0M234.0 249.4h0M222.7 254.7h0M251.4 237.2h0M230.6 252.7h0M249.5 235.6h0M234.8 248.8h0M239.4 245.5h0M242.7 243.1h0M239.4 249.6h0M223.9 255.8h0M251.3 232.6h0M224.4 249.7h0M235.8 250.9h0M249.0 237.6h0M249.5 239.3h0M238.9 245.9h0M249.7 235.2h0M249.0 233.8h0M230.3 249.6h0M236.7 243.2h0M226.4 259.3h0M251.1 245.5h0M225.9 256.5h0M232.6 243.9h0M226.1 253.6h0M240.1 246.4h0M222.5 256.3h0M244.7 242.1h0M237.6 242.8h0M250.9 237.4h0M251.5 238.2h0M235.8 248.0h0M242.8 237.8h0M222.8 258.2h0M247.9 234.5h0M247.7 235.1h0M241.7 239.8h0M241.6 241.6h0M241.2 246.2h0M246.8 238.3h0M237.6 245.3h0M231.9 252.9h0M230.4 249.5h0M232.7 247.5h0M233.2 252.1h0M240.1 240.8h0M234.1 251.7h0M230.3 246.8h0M235.4 246.6h0M230.3 251.0h0M226.6 257.9h0M222.2 257.0h0M244.9 238.6h0M222.9 254.1h0M243.1 239.7h0M246.4 237.5h0M226.6 253.3h0M229.5 254.7h0M223.7 257.2h0M230.6 253.3h0M230.6 248.6h0M230.9 253.1h0M244.2 243.7h0M235.5 247.6h0M236.4 243.2h0M247.9 232.6h0M253.1 234.1h0M233.0 245.0h0M249.6 233.3h0M226.5 255.8h0M243.7 239.6h0M239.7 243.0h0M222.5 255.0h0M225.7 255.6h0M225.0 255.7h0M215.9 256.8h0M246.2 242.6h0M223.8 257.2h0M220.0 254.9h0M237.6 243.9h0M249.2 233.1h0M224.5 255.8h0M248.4 239.8h0M250.4 239.2h0M226.7 250.3h0M223.8 253.9h0M234.0 247.1h0M230.7 249.8h0M240.9 247.4h0M250.8 234.6h0M235.6 246.2h0M225.6 257.9h0M222.6 255.4h0M232.2 252.6h0M251.5 235.9h0M233.3 249.6h0M233.1 253.9h0M239.8 250.0h0M230.9 247.8h0M251.2 237.0h0M230.1 256.4h0M236.1 248.5h0M246.7 235.8h0M241.0 240.2h0M236.7 250.0h0M249.3 238.5h0M239.8 242.4h0M235.7 246.7h0M224.8 250.5h0M225.9 259.0h0M230.1 251.0h0M237.1 249.1h0M239.6 240.6h0M245.7 233.7h0M224.9 254.8h0M245.1 246.2h0M234.3 243.3h0M248.7 237.8h0M256.4 236.2h0M243.3 240.6h0M222.4 257.7h0M234.2 252.2h0M233.6 245.8h0M234.4 252.6h0M242.8 244.9h0M235.4 243.8h0M246.0 241.0h0M243.9 248.3h0M220.7 257.8h0M239.9 245.8h0M254.0 231.5h0M237.1 247.4h0M229.2 253.8h0M230.1 253.1h0M253.5 227.3h0M248.9 235.3h0M226.5 255.6h0M226.3 251.5h0M219.9 263.5h0M248.6 232.7h0M276.1 214.6h0M249.4 231.6h0M261.3 224.9h0M261.1 234.1h0M265.9 225.1h0M262.2 232.5h0M276.5 218.6h0M273.2 206.5h0M252.4 216.7h0M253.1 228.0h0M245.0 205.8h0M264.7 213.1h0M263.0 223.2h0M253.9 218.0h0M273.0 222.3h0M263.2 229.4h0M253.2 209.5h0M257.8 239.5h0M269.9 245.9h0M274.8 232.0h0M256.1 204.9h0M235.7 223.8h0M248.3 209.8h0M269.3 225.4h0M246.1 224.9h0M279.7 232.2h0M253.6 232.3h0M237.4 219.1h0M256.6 235.3h0M247.0 212.1h0M258.0 230.2h0M244.7 224.8h0M257.7 217.3h0M246.3 226.7h0M264.1 226.8h0M264.4 221.0h0M251.1 222.1h0M272.1 223.7h0M268.9 231.4h0M266.5 219.6h0M250.1 235.6h0M260.1 220.4h0M263.4 230.9h0M273.1 214.7h0M261.3 234.6h0M254.6 222.6h0M251.7 206.8h0M246.0 223.9h0M266.2 194.7h0M259.0 219.8h0M242.9 221.5h0M252.4 236.6h0M249.9 233.2h0M247.4 211.2h0M280.2 214.2h0M256.9 205.4h0M264.2 237.1h0M258.6 219.3h0M262.3 214.1h0M246.2 222.7h0M258.2 203.6h0M231.8 227.2h0M246.3 227.0h0M273.5 221.5h0M254.7 195.2h0M281.4 231.6h0M252.6 210.8h0M268.3 200.9h0M271.1 232.1h0M246.9 210.7h0M284.6 216.9h0M264.2 218.5h0M236.3 232.9h0M282.6 215.9h0M250.8 238.3h0M243.1 218.8h0M245.1 205.3h0M254.3 193.5h0M246.8 222.5h0M252.8 210.2h0M293.3 230.5h0M255.6 233.8h0M270.2 223.9h0M271.4 218.2h0M254.9 241.2h0M263.0 238.3h0M236.8 212.2h0M250.5 223.4h0M261.3 232.4h0M268.6 222.0h0M268.7 229.7h0M265.6 195.9h0M256.0 228.6h0M257.1 236.9h0M255.6 222.7h0M251.8 220.7h0M276.1 237.2h0M273.0 229.3h0M263.6 208.3h0M270.0 215.1h0M265.7 220.9h0M272.8 214.9h0M272.1 222.2h0M282.6 220.8h0M260.1 202.0h0M273.1 222.4h0M234.2 227.2h0M268.2 218.6h0M278.5 220.9h0M260.2 226.3h0M247.9 227.9h0M251.3 224.7h0M276.0 218.0h0M254.0 239.8h0M262.5 233.5h0M269.6 226.9h0M280.1 221.7h0M242.8 219.6h0M254.6 210.2h0M257.1 226.6h0M268.5 223.0h0M260.5 222.9h0M256.6 213.1h0M263.2 231.5h0M253.1 222.3h0M271.0 211.9h0M267.0 223.9h0M275.2 212.8h0M256.7 238.8h0M288.1 228.6h0M279.7 215.7h0M275.0 225.6h0M271.1 209.4h0M264.4 229.8h0M276.5 227.2h0M267.9 232.9h0M284.1 207.6h0M239.3 223.0h0M283.0 241.9h0M271.9 212.6h0M270.2 215.9h0M273.4 220.8h0M284.0 212.4h0M281.2 214.9h0M271.4 226.0h0M246.1 202.0h0M260.5 219.2h0M255.1 230.3h0M266.4 228.9h0M249.5 220.9h0M260.6 233.3h0M278.6 217.2h0M262.4 196.4h0M288.3 226.4h0M269.1 226.1h0M260.6 203.6h0M250.9 213.7h0M259.6 210.6h0M265.1 229.3h0M264.7 224.0h0M292.4 214.0h0M254.2 231.2h0M257.9 240.9h0M254.1 222.3h0M284.3 205.2h0M275.8 225.5h0M265.4 237.4h0M255.1 229.2h0M256.3 236.2h0M247.0 221.7h0M255.8 210.7h0M275.2 218.1h0M269.8 197.5h0M249.5 211.8h0M267.1 205.2h0M266.7 232.7h0M263.5 223.9h0M257.5 212.9h0M261.9 224.5h0M281.2 224.3h0M247.3 228.6h0M273.4 264.9h0M275.5 211.9h0M299.1 209.1h0M265.6 244.6h0M241.6 263.5h0M268.0 249.7h0M229.4 259.1h0M241.6 242.6h0M278.4 219.8h0M239.7 220.4h0M298.2 245.6h0M256.6 238.3h0M271.8 215.2h0M224.2 203.4h0M265.7 241.1h0M298.2 242.8h0M287.9 271.0h0M258.7 227.5h0M256.6 223.6h0M280.3 239.3h0M228.0 268.6h0M261.2 252.7h0M262.9 240.3h0M265.2 203.8h0M228.7 251.3h0M246.7 204.9h0M284.9 252.6h0M280.6 224.8h0M228.8 253.5h0M235.7 246.4h0M275.1 216.0h0M218.2 240.5h0M282.8 240.3h0M298.7 212.6h0M277.9 228.5h0M265.6 218.3h0M236.9 237.2h0M267.8 265.0h0M267.5 233.5h0" stroke="#000" stroke-opacity="0.22" stroke-width="0.80" stroke-linecap="round" fill="none"/>
<ellipse cx="238" cy="246.5" rx="21" ry="4.5" transform="rotate(-39 238 246.5)" fill="#000" opacity="0.3" filter="url(#bl2)"/>
<ellipse cx="262" cy="220" rx="16" ry="9" transform="rotate(-30 262 220)" fill="#000" opacity="0.08" filter="url(#bl4)"/>
<polygon points="223.0,261.1 226.3,259.0 231.3,255.9 237.4,251.3 243.5,245.9 249.4,240.2 253.2,236.1 254.9,234.0 253.1,232.0 250.8,233.5 246.6,237.2 240.5,242.7 234.6,247.7 228.7,251.9 223.7,254.4 220.2,256.3" fill="#111"/>
<circle cx="221.8" cy="258.7" r="2.8" fill="#111"/>
<text x="264.60" y="262.10" font-size="8.9">R<tspan font-size="5.6" dy="-3.4">2</tspan><tspan dy="3.4">=0.921</tspan></text>
<text x="238.30" y="303.40" font-size="8.94">Raichu bias</text>
<text transform="translate(193.3,230.8) rotate(-90)" font-size="8.94" text-anchor="middle">ICE bias</text>
<text x="359.80" y="181.30" font-size="8.92">Resolution: 5kb</text>
<path d="M341.6 185.3V275.8H441M337.1 272.0H341.6M337.1 245.9H341.6M337.1 220.0H341.6M337.1 194.0H341.6M344.1 275.8V280.40000000000003M370.8 275.8V280.40000000000003M397.4 275.8V280.40000000000003M424.0 275.8V280.40000000000003" stroke="#000" stroke-width="1.1" fill="none"/>
<text x="333.30" y="275.00" font-size="8.4" text-anchor="end">0</text>
<text x="333.30" y="248.90" font-size="8.4" text-anchor="end">2</text>
<text x="333.30" y="223.00" font-size="8.4" text-anchor="end">4</text>
<text x="333.30" y="197.00" font-size="8.4" text-anchor="end">6</text>
<text x="344.10" y="290.60" font-size="8.4" text-anchor="middle">0</text>
<text x="370.80" y="290.60" font-size="8.4" text-anchor="middle">2</text>
<text x="397.40" y="290.60" font-size="8.4" text-anchor="middle">4</text>
<text x="424.00" y="290.60" font-size="8.4" text-anchor="middle">6</text>
<path d="M372.6 237.5h0M359.5 254.8h0M353.6 264.1h0M373.7 236.6h0M381.2 229.4h0M376.6 234.5h0M389.0 233.1h0M384.2 232.7h0M372.7 225.6h0M360.7 251.9h0M386.7 222.2h0M355.1 260.8h0M384.9 231.3h0M379.8 220.8h0M366.0 249.5h0M393.2 225.5h0M381.8 229.4h0M381.3 239.9h0M354.0 255.3h0M375.5 241.1h0M375.2 239.4h0M367.1 247.8h0M351.0 262.0h0M360.4 250.8h0M375.5 230.0h0M372.7 243.1h0M355.4 264.9h0M350.6 268.8h0M380.7 230.9h0M353.5 263.6h0M370.2 244.0h0M383.4 224.8h0M389.9 227.9h0M357.3 258.5h0M367.6 245.9h0M375.3 240.2h0M368.0 236.3h0M357.2 261.3h0M366.7 251.6h0M384.4 219.0h0M385.5 226.0h0M369.6 247.2h0M367.6 250.9h0M371.7 242.0h0M358.8 259.9h0M352.5 262.1h0M382.0 230.2h0M388.2 229.9h0M378.2 219.9h0M366.9 244.5h0M376.9 227.6h0M377.2 235.4h0M360.6 251.9h0M376.7 244.1h0M389.2 234.8h0M364.4 231.5h0M377.2 228.9h0M380.4 223.3h0M360.6 252.8h0M398.9 239.1h0M387.9 228.1h0M364.1 254.0h0M363.0 255.1h0M359.3 260.0h0M361.5 256.8h0M355.5 263.2h0M380.7 231.2h0M360.5 251.9h0M367.8 251.7h0M379.7 232.2h0M355.4 255.3h0M361.6 254.2h0M365.3 239.8h0M375.0 238.4h0M373.2 244.3h0M349.5 264.5h0M380.7 226.9h0M370.6 240.9h0M370.0 241.1h0M368.5 250.4h0M366.1 249.7h0M372.8 239.9h0M361.5 247.3h0M362.4 247.5h0M377.5 236.8h0M390.5 229.5h0M359.2 252.4h0M365.6 254.1h0M355.0 264.1h0M369.1 248.6h0M391.0 225.0h0M369.7 251.7h0M382.7 228.7h0M367.1 247.3h0M357.3 265.5h0M381.0 241.7h0M386.8 228.9h0M362.0 245.9h0M372.0 245.4h0M381.0 228.0h0M360.0 259.9h0M366.2 245.6h0M378.8 237.4h0M365.4 245.0h0M369.1 243.2h0M386.7 227.8h0M376.6 240.1h0M385.3 230.7h0M373.5 236.1h0M373.2 246.5h0M386.6 226.7h0M370.3 248.1h0M376.9 239.2h0M363.1 245.4h0M360.8 249.7h0M356.4 249.4h0M379.0 234.0h0M373.0 235.4h0M364.9 251.4h0M382.1 230.2h0M369.0 252.3h0M385.8 222.2h0M384.8 231.9h0M362.0 251.5h0M359.0 255.5h0M354.9 259.4h0M390.1 233.8h0M360.8 255.3h0M379.5 224.2h0M375.6 235.4h0M366.8 251.0h0M389.9 229.2h0M360.2 247.6h0M358.2 258.5h0M362.6 252.4h0M372.7 236.1h0M373.5 252.7h0M381.1 236.4h0M374.7 228.1h0M385.2 235.9h0M362.6 257.0h0M381.7 229.6h0M379.2 232.7h0M396.6 228.8h0M386.9 231.9h0M358.2 255.9h0M377.7 222.9h0M363.5 238.7h0M358.9 258.1h0M371.2 247.4h0M374.3 231.2h0M373.2 242.3h0M384.4 227.0h0M379.7 242.9h0M367.0 240.9h0M368.3 233.7h0M383.2 232.8h0M380.9 235.3h0M366.1 252.0h0M359.2 259.7h0M368.4 249.6h0M373.7 239.3h0M377.9 240.7h0M379.7 236.1h0M375.3 243.6h0M368.0 248.8h0M382.9 226.5h0M378.9 241.3h0M364.8 240.3h0M392.6 228.4h0M374.6 234.5h0M360.1 255.7h0M380.3 245.4h0M385.6 228.1h0M382.6 237.3h0M363.0 249.0h0M353.0 261.8h0M358.1 257.2h0M351.6 266.1h0M383.0 227.2h0M366.9 246.6h0M374.3 244.9h0M378.4 237.9h0M368.5 250.6h0M358.3 258.0h0M359.2 251.4h0M377.3 239.1h0M361.1 248.7h0M383.9 225.9h0M379.1 230.1h0M377.1 236.4h0M365.7 248.5h0M367.4 253.1h0M362.6 246.1h0M368.6 240.6h0M359.8 254.4h0M376.7 232.1h0M356.9 255.2h0M352.8 265.7h0M379.9 238.9h0M383.4 234.7h0M360.6 259.1h0M358.8 256.5h0M386.5 228.1h0M373.2 240.9h0M369.4 238.3h0M370.0 247.9h0M383.0 229.4h0M373.2 248.7h0M367.0 248.0h0M376.6 235.5h0M376.3 234.9h0M379.3 225.5h0M358.5 259.6h0M379.9 238.4h0M371.6 238.9h0M381.7 233.6h0M351.4 264.5h0M367.9 245.1h0M372.0 229.0h0M358.2 254.3h0M378.5 231.4h0M359.1 245.6h0M377.0 243.8h0M363.0 243.2h0M377.2 233.5h0M379.0 233.5h0M358.1 255.9h0M381.3 224.8h0M388.6 230.9h0M387.1 223.7h0M358.2 262.9h0M366.8 252.4h0M352.1 264.0h0M363.1 255.5h0M362.3 248.2h0M389.6 226.6h0M385.2 225.9h0M365.0 258.3h0M375.9 243.0h0M374.9 234.6h0M369.3 250.2h0M379.9 227.8h0M355.9 259.7h0M365.3 250.7h0M350.7 263.4h0M353.5 260.0h0M369.9 242.6h0M357.0 251.4h0M379.1 241.2h0M353.8 261.4h0M356.9 264.6h0M385.9 229.5h0M390.0 226.2h0M360.4 255.7h0M368.6 246.8h0M374.9 245.8h0M386.8 233.0h0M355.9 260.2h0M380.7 228.6h0M360.6 255.0h0M358.6 253.4h0M354.7 257.8h0M376.8 232.6h0M357.4 256.2h0M382.7 233.0h0M354.5 260.9h0M364.9 256.4h0M365.0 251.3h0M379.5 234.1h0M371.7 239.6h0M349.6 265.3h0M386.1 232.5h0M381.7 229.6h0M358.6 261.2h0M360.1 260.6h0M359.3 259.6h0M375.9 242.2h0M360.4 253.0h0M375.5 234.5h0M358.4 259.9h0M384.7 233.0h0M372.5 243.8h0M366.3 251.9h0M373.8 238.9h0M371.8 246.4h0M367.7 248.6h0M379.7 228.3h0M363.1 244.3h0M363.2 255.0h0M386.1 228.5h0M371.1 239.7h0M361.2 255.4h0M357.5 260.6h0M356.4 262.6h0M355.7 264.0h0M359.9 255.5h0M351.4 266.6h0M383.8 223.8h0M350.8 264.7h0M356.4 254.8h0M362.8 250.2h0M379.5 247.0h0M381.0 224.9h0M364.8 250.6h0M375.3 232.8h0M380.8 235.6h0M364.1 253.5h0M362.8 252.7h0M379.7 221.6h0M351.4 261.1h0M364.8 254.0h0M379.6 234.5h0M364.8 253.8h0M354.1 266.0h0M364.9 247.8h0M386.5 231.0h0M384.9 230.7h0M373.3 256.3h0M373.7 225.7h0M381.7 228.0h0M377.1 240.7h0M368.7 237.9h0M384.3 235.0h0M386.0 224.0h0M383.3 238.3h0M381.3 235.2h0M375.1 240.4h0M356.0 263.2h0M366.7 250.0h0M356.7 256.4h0M375.0 238.4h0M391.2 227.2h0M384.8 238.4h0M363.9 251.5h0M372.4 243.9h0M373.8 240.2h0M357.9 261.8h0M352.4 265.6h0M370.5 244.0h0M377.4 239.2h0M389.5 226.7h0M359.1 257.4h0M387.6 227.7h0M379.7 229.8h0M389.2 231.7h0M374.9 238.0h0M355.1 259.5h0M373.8 240.6h0M381.6 238.8h0M372.7 236.2h0M362.5 256.8h0M366.4 245.8h0M381.6 224.6h0M387.3 240.7h0M383.6 229.5h0M349.5 269.4h0M376.9 243.9h0M385.6 237.2h0M368.2 245.5h0M391.6 229.9h0M376.5 240.3h0M365.0 254.7h0M363.2 250.9h0M387.5 229.7h0M370.3 240.8h0M357.0 257.0h0M364.6 254.7h0M385.3 240.8h0M390.3 229.6h0M383.9 233.0h0M348.1 264.8h0M350.9 267.9h0M372.6 245.9h0M374.8 243.1h0M382.9 235.4h0M380.2 249.3h0M388.3 232.1h0M356.5 259.8h0M377.0 229.4h0M388.8 232.8h0M371.0 236.6h0M354.1 263.7h0M363.5 243.0h0M363.2 251.3h0M384.5 229.8h0M367.9 245.3h0M360.9 255.1h0M378.2 228.7h0M366.0 245.4h0M368.2 255.9h0M359.8 260.8h0M364.7 246.3h0M375.1 242.1h0M383.6 229.6h0M358.8 249.7h0M375.0 243.2h0M362.3 247.8h0M375.9 235.3h0M380.3 234.2h0M387.0 237.0h0M375.0 238.6h0M358.3 254.3h0M385.5 232.5h0M364.5 253.6h0M355.8 261.1h0M384.7 220.1h0M365.6 246.0h0M391.7 225.6h0M380.9 234.9h0M383.1 224.3h0M367.3 234.4h0M389.2 227.9h0M370.1 243.7h0M383.6 229.9h0M358.4 254.0h0M389.2 221.1h0M372.9 238.9h0M356.9 262.5h0M357.2 259.8h0M357.7 259.3h0M383.1 220.5h0M376.2 248.2h0M388.2 233.6h0M382.8 225.6h0M365.1 253.4h0M389.5 224.0h0M376.6 233.4h0M356.0 261.8h0M371.0 247.0h0M375.3 245.4h0M371.4 240.4h0M377.1 234.1h0M362.7 253.7h0M364.9 243.7h0M378.0 240.8h0M381.9 231.8h0M374.2 240.8h0M351.8 267.0h0M369.4 234.1h0M376.9 230.5h0M360.2 257.7h0M382.7 226.6h0M391.2 225.3h0M365.4 254.7h0M387.3 234.6h0M385.4 240.0h0M363.4 251.6h0M360.9 250.1h0M367.0 247.5h0M375.2 237.2h0M361.7 250.4h0M371.0 248.9h0M366.6 232.9h0M364.8 249.5h0M357.3 259.6h0M362.8 258.9h0M369.9 237.4h0M362.8 257.4h0M367.7 247.5h0M351.5 265.3h0M366.0 244.5h0M366.3 258.7h0M370.7 227.7h0M378.6 235.8h0M358.8 259.9h0M375.1 239.9h0M360.6 246.4h0M384.6 231.3h0M382.7 229.0h0M373.7 241.6h0M360.9 255.8h0M380.8 233.3h0M369.4 250.8h0M359.2 253.3h0M376.6 236.7h0M390.2 226.8h0M363.7 249.1h0M375.1 245.0h0M379.5 236.1h0M353.0 259.3h0M381.4 233.2h0M382.9 226.9h0M357.3 258.7h0M374.5 239.7h0M358.3 258.0h0M382.7 233.1h0M349.8 265.8h0M363.5 255.2h0M361.1 249.4h0M350.4 263.2h0M357.7 260.7h0M359.2 253.1h0M368.6 227.0h0M382.3 223.1h0M375.3 245.3h0M374.0 231.8h0M379.3 226.2h0M382.1 230.7h0M387.8 228.2h0M394.5 226.2h0M374.8 240.7h0M363.4 253.1h0M358.9 259.9h0M373.8 251.1h0M373.1 246.3h0M352.2 258.7h0M357.5 258.2h0M354.6 265.2h0M371.9 243.3h0M379.0 228.0h0M380.7 231.0h0M381.9 239.9h0M358.7 254.0h0M374.6 235.8h0M359.7 256.5h0M371.0 242.6h0M353.9 265.8h0M371.1 230.1h0M371.9 228.1h0M362.7 255.9h0M349.5 264.8h0M356.0 257.3h0M376.7 240.5h0M381.4 239.2h0M378.6 237.4h0M371.5 242.9h0M360.5 249.3h0M389.9 232.6h0M381.8 220.7h0M348.6 267.6h0M363.5 250.6h0M382.7 223.1h0M360.5 261.8h0M365.0 246.4h0M371.3 234.1h0M347.8 263.1h0M349.6 265.8h0M357.5 256.2h0M356.3 252.7h0M357.5 262.9h0M381.0 244.1h0M377.3 232.6h0M393.1 224.9h0M374.3 246.2h0M376.6 243.6h0M369.2 259.4h0M355.9 263.9h0M359.9 256.2h0M389.6 235.4h0M382.6 234.5h0M383.2 233.3h0M388.1 232.5h0M383.5 221.5h0M374.4 225.7h0M376.5 235.9h0M383.6 229.9h0M378.2 234.9h0M359.6 259.7h0M374.0 237.3h0M383.9 229.4h0M379.4 234.2h0M351.0 267.1h0M386.7 233.8h0M372.6 244.0h0M380.1 229.6h0M362.3 258.8h0M366.1 256.3h0M366.2 251.8h0M362.7 247.9h0M373.1 240.8h0M388.8 226.1h0M367.1 243.5h0M376.3 241.2h0M368.5 246.8h0M375.9 233.1h0M379.0 234.9h0M378.6 242.2h0M379.8 222.3h0M374.7 240.6h0M375.5 237.7h0M379.6 227.4h0M374.7 237.2h0M387.1 227.7h0M372.4 239.6h0M361.2 254.9h0M370.8 245.6h0M383.7 221.4h0M355.9 262.3h0M388.7 231.5h0M374.2 242.1h0M356.9 258.7h0M380.3 238.4h0M364.6 252.6h0M379.4 228.2h0M361.9 259.2h0M366.0 251.0h0M352.1 262.5h0M381.4 239.9h0M357.8 252.6h0M358.3 255.4h0M377.6 237.8h0M365.7 243.9h0M370.3 243.1h0M368.3 246.3h0M376.5 242.5h0M370.8 253.3h0M385.7 227.4h0M365.1 245.9h0M380.7 234.7h0M361.6 257.6h0M370.6 235.8h0M348.4 270.5h0M376.1 232.2h0M357.4 259.7h0M371.8 243.1h0M383.4 239.6h0M384.0 228.6h0M359.3 258.1h0M382.3 230.4h0M382.6 229.8h0M361.5 251.6h0M374.0 243.6h0M389.4 237.5h0M369.7 245.4h0M365.5 248.8h0M363.8 253.5h0M359.0 249.6h0M366.7 252.7h0M385.8 223.9h0M356.2 261.3h0M379.7 220.7h0M357.9 259.5h0M359.1 258.3h0M388.0 227.9h0M365.7 253.2h0M373.5 246.0h0M384.4 237.9h0M358.0 257.6h0M351.0 264.2h0M373.5 246.8h0M359.5 253.2h0M375.6 231.6h0M358.4 252.4h0M364.1 255.7h0M360.0 256.2h0M355.2 257.5h0M371.7 229.0h0M386.9 229.8h0M371.4 246.8h0M392.9 234.1h0M382.3 226.3h0M354.6 261.7h0M384.6 234.1h0M380.0 232.3h0M371.2 248.7h0M363.9 249.9h0M373.6 234.6h0M375.4 242.6h0M355.9 258.9h0M377.9 233.0h0M377.5 237.0h0M372.2 228.2h0M378.5 225.3h0M356.1 259.8h0M377.2 232.1h0M369.3 249.1h0M371.2 235.4h0M358.0 252.3h0M377.2 239.3h0M363.9 249.1h0M370.4 247.4h0M375.1 244.5h0M359.9 262.3h0M353.7 265.8h0M369.4 249.9h0M376.1 241.1h0M356.6 251.5h0M371.3 243.8h0M354.0 266.1h0M366.8 239.1h0M357.9 251.2h0M380.6 237.9h0M379.6 228.7h0M376.4 222.3h0M359.5 253.5h0M348.2 267.6h0M364.2 249.5h0M379.5 244.1h0M386.1 226.5h0M357.0 260.1h0M385.4 239.9h0M373.9 243.5h0M360.6 259.3h0M389.9 232.2h0M351.1 263.1h0M374.6 235.2h0M382.8 232.3h0M375.6 245.1h0M349.0 266.5h0M383.3 225.5h0M377.3 230.0h0M376.2 231.4h0M352.8 263.5h0M368.5 242.8h0M370.9 255.1h0M383.0 221.9h0M375.7 232.8h0M378.2 241.3h0M369.1 248.4h0M381.8 233.9h0M354.6 259.6h0M360.5 262.8h0M388.6 226.8h0M376.6 231.5h0M361.1 253.7h0M358.2 259.0h0M365.3 249.1h0M391.2 234.2h0M367.3 239.2h0M378.5 239.1h0M365.9 243.5h0M368.1 243.3h0M359.7 261.8h0M361.7 257.5h0M364.6 250.3h0M353.9 262.7h0M377.1 222.3h0M348.3 262.1h0M366.4 258.1h0M375.2 241.4h0M374.7 227.2h0M366.7 254.6h0M365.8 251.0h0M351.0 261.9h0M357.7 260.4h0M359.2 254.7h0M380.1 231.1h0M362.6 251.4h0M356.0 259.8h0M354.5 263.7h0M383.6 235.5h0M379.8 242.3h0M355.9 258.0h0M386.0 239.7h0M379.0 233.4h0M355.8 264.2h0M379.9 243.1h0M370.4 248.6h0M362.7 253.6h0M383.3 234.4h0M353.5 260.7h0M368.2 247.4h0M384.2 227.0h0M375.6 240.8h0M389.4 227.6h0M370.5 250.0h0M377.4 235.8h0M367.0 243.7h0M365.0 256.0h0M395.5 229.8h0M363.1 252.9h0M368.9 244.9h0M374.0 240.2h0M376.5 235.4h0M368.6 240.1h0M382.7 233.8h0M377.2 237.6h0M363.0 258.7h0M385.5 226.3h0M389.6 234.9h0M358.0 257.2h0M351.3 264.0h0M379.9 227.9h0M359.4 258.4h0M359.3 255.0h0M350.1 266.6h0M379.3 240.5h0M382.8 226.3h0M387.2 233.4h0M379.2 234.8h0M355.9 255.0h0M358.4 259.5h0M361.2 250.7h0M363.2 252.1h0M374.6 222.3h0M363.9 248.6h0M359.1 252.6h0M381.6 225.2h0M361.1 250.2h0M385.2 225.2h0M366.4 234.5h0M357.7 259.4h0M368.4 250.2h0M365.2 249.6h0M356.6 258.3h0M369.7 242.3h0M358.0 259.7h0M362.0 259.8h0M381.5 215.0h0M374.3 241.6h0M350.7 267.7h0M355.1 261.4h0M356.3 259.7h0M366.9 242.6h0M361.2 251.3h0M358.4 259.8h0M377.2 239.5h0M371.3 237.9h0M351.0 264.1h0M357.8 263.7h0M388.9 224.2h0M380.1 233.9h0M374.0 233.5h0M362.1 253.4h0M369.3 242.5h0M354.1 265.0h0M385.3 231.5h0M358.5 257.6h0M356.2 255.7h0M355.1 256.5h0M374.1 235.8h0M357.3 262.1h0M365.3 248.0h0M377.9 234.4h0M381.2 228.3h0M381.2 228.9h0M375.6 242.6h0M366.0 254.1h0M367.3 243.0h0M363.9 249.3h0M372.7 245.7h0M368.9 242.1h0M383.1 231.2h0M385.1 222.6h0M371.5 232.0h0M386.1 227.9h0M366.3 241.7h0M359.3 256.2h0M368.2 245.2h0M382.9 225.6h0M352.0 262.1h0M377.2 244.6h0M375.5 229.2h0M364.4 248.5h0M378.0 235.7h0M372.3 238.4h0M350.6 264.3h0M385.3 237.2h0M384.9 233.9h0M368.8 247.1h0M362.9 251.9h0M351.6 263.6h0M386.8 230.2h0M382.0 232.5h0M371.4 244.0h0M373.2 238.4h0M359.2 254.9h0M380.2 243.8h0M368.2 249.3h0M367.2 247.0h0M353.1 261.3h0M373.2 226.8h0M373.8 240.0h0M363.7 252.3h0M359.0 253.9h0M348.5 267.1h0M352.5 266.7h0M383.2 223.5h0M376.2 236.6h0M375.9 237.6h0M363.8 257.1h0M354.0 258.3h0M356.6 263.8h0M375.5 240.3h0M356.7 256.1h0M389.3 237.2h0M382.9 228.7h0M361.6 258.7h0M373.8 244.2h0M366.9 246.6h0M377.8 235.2h0M361.3 252.9h0M373.8 234.2h0M388.5 231.6h0M357.0 259.1h0M371.5 246.0h0M364.5 248.2h0M376.2 234.7h0M385.9 236.4h0M368.6 241.6h0M361.2 258.4h0M364.7 250.8h0M372.0 240.0h0M350.7 263.9h0M356.5 259.6h0M380.0 228.4h0M387.0 232.5h0M369.0 251.1h0M366.2 257.9h0M354.6 263.1h0M379.4 235.3h0M390.5 229.3h0M381.9 241.1h0M369.6 251.3h0M377.3 238.6h0M356.7 261.9h0M385.0 226.7h0M371.4 236.9h0M366.9 255.0h0M348.6 263.7h0M366.9 249.3h0M370.6 239.4h0M373.7 232.7h0M370.0 238.4h0M361.0 254.1h0M387.1 228.0h0M372.4 252.1h0M358.9 256.1h0M390.2 238.1h0M365.4 248.5h0M355.5 259.6h0M349.9 262.4h0M377.8 232.9h0M370.2 244.5h0M387.0 229.3h0M368.5 244.7h0M386.6 230.8h0M377.1 222.8h0M370.4 256.3h0M367.0 251.4h0M363.9 257.4h0M363.1 254.0h0M385.6 223.5h0M360.1 249.8h0M370.6 245.1h0M378.9 231.1h0M355.2 260.2h0M386.1 235.2h0M377.4 237.4h0M353.1 261.3h0M393.4 228.4h0M367.0 251.4h0M378.0 227.8h0M352.1 260.5h0M384.8 234.4h0M359.1 258.3h0M356.9 253.5h0M370.4 237.1h0M368.9 249.9h0M371.3 242.3h0M373.0 246.3h0M368.9 244.0h0M368.1 252.5h0M367.2 246.0h0M370.0 245.1h0M369.8 247.8h0M368.1 253.0h0M366.6 249.0h0M362.9 250.0h0M355.3 259.5h0M356.8 253.5h0M362.5 251.6h0M355.2 262.5h0M374.3 239.9h0M355.6 262.8h0M381.4 242.2h0M377.1 224.2h0M369.7 245.2h0M369.2 245.7h0M384.6 226.8h0M386.8 242.5h0M389.1 235.0h0M385.4 224.4h0M370.9 234.0h0M357.6 260.9h0M373.4 227.3h0M359.1 257.0h0M382.5 227.8h0M367.4 243.6h0M354.9 262.7h0M363.9 250.3h0M378.6 232.2h0M365.2 256.5h0M376.1 240.5h0M380.4 225.8h0M381.7 229.3h0M371.6 254.3h0M382.6 231.2h0M392.6 231.5h0M369.6 253.1h0M351.0 266.5h0M384.0 233.0h0M371.8 234.9h0M352.1 259.0h0M383.0 237.0h0M377.6 228.4h0M374.2 241.9h0M361.7 255.5h0M353.3 265.9h0M358.2 261.6h0M369.2 241.1h0M372.6 246.1h0M372.3 248.5h0M371.8 238.1h0M378.9 238.6h0M358.1 255.2h0M385.6 229.8h0M380.2 235.6h0M360.5 251.7h0M370.6 244.3h0M359.8 252.4h0M354.3 255.9h0M360.7 256.0h0M370.1 251.7h0M356.3 262.1h0M360.9 243.7h0M381.1 221.9h0M373.8 242.9h0M369.4 242.5h0M381.2 230.1h0M385.9 238.3h0M387.1 228.5h0M368.9 239.2h0M385.6 231.1h0M351.4 268.1h0M374.5 242.5h0M361.7 251.7h0M376.4 230.4h0M369.2 234.7h0M382.7 229.0h0M375.1 239.6h0M362.2 245.5h0M369.1 239.6h0M353.3 261.6h0M382.5 242.4h0M385.7 235.1h0M365.1 250.0h0M369.1 249.0h0M377.4 238.1h0M360.5 255.7h0M370.3 242.7h0M373.9 232.6h0M375.7 229.0h0M369.1 253.6h0M366.3 239.9h0M355.7 259.1h0M372.4 243.5h0M371.9 243.8h0M375.3 239.8h0M384.4 238.4h0M377.4 235.6h0M366.6 242.9h0M388.9 228.2h0M380.0 240.4h0M349.9 264.6h0M356.9 261.1h0M360.5 249.6h0M364.7 252.2h0M389.2 230.2h0M370.7 247.3h0M355.6 260.9h0M369.3 251.6h0M362.0 256.2h0M359.3 255.4h0M383.8 231.6h0M363.4 246.4h0M384.9 229.9h0M361.4 264.5h0M379.7 234.3h0M384.2 229.3h0M371.0 242.4h0M381.1 242.6h0M356.8 258.5h0M359.2 258.2h0M387.4 228.9h0M354.1 264.5h0M376.3 241.8h0M367.7 249.8h0M380.1 230.8h0M350.6 264.2h0M392.2 229.1h0M379.1 230.8h0M366.8 248.8h0M370.3 241.0h0M365.9 251.7h0M381.1 225.2h0M358.3 257.9h0M388.7 223.5h0M354.5 253.6h0M368.4 251.5h0M374.2 239.3h0M371.8 230.3h0M380.5 222.9h0M383.8 237.8h0M379.3 236.6h0M378.8 239.3h0M363.7 259.7h0M354.9 261.2h0M374.2 243.9h0M362.7 249.5h0M358.5 264.2h0M365.0 249.2h0M351.2 261.9h0M387.5 224.0h0M384.7 221.3h0M351.0 263.4h0M378.9 230.0h0M355.3 257.0h0M353.2 261.1h0M375.0 241.9h0M372.8 242.2h0M377.9 222.9h0M383.9 233.0h0M370.6 237.1h0M353.8 263.5h0M348.3 266.5h0M368.3 245.7h0M372.7 248.2h0M349.4 265.7h0M384.5 231.7h0M363.8 255.9h0M356.4 260.6h0M372.2 244.9h0M359.6 257.3h0M361.0 249.8h0M366.4 247.1h0M366.5 248.2h0M381.8 246.7h0M386.6 223.8h0M356.7 263.5h0M374.3 248.4h0M379.2 229.8h0M366.1 252.4h0M388.4 227.5h0M385.6 232.4h0M369.7 249.0h0M379.5 235.8h0M379.3 244.6h0M376.9 238.1h0M363.6 243.6h0M354.8 257.8h0M374.0 242.0h0M392.3 226.7h0M371.4 245.3h0M383.8 234.7h0M357.7 254.7h0M366.4 243.7h0M353.7 264.2h0M365.4 249.5h0M360.6 256.4h0M362.9 253.1h0M375.9 230.8h0M360.7 257.5h0M357.7 262.5h0M374.0 226.0h0M385.5 233.7h0M391.9 229.1h0M355.6 259.5h0M366.9 247.9h0M372.3 246.0h0M357.7 259.5h0M357.7 262.9h0M383.1 226.5h0M373.9 240.9h0M387.3 240.9h0M373.4 230.1h0M382.2 225.3h0M358.9 262.1h0M379.2 236.9h0M387.9 230.9h0M353.6 262.5h0M364.3 241.1h0M383.4 236.2h0M377.6 236.7h0M350.6 265.9h0M387.3 231.3h0M350.0 264.8h0M378.8 232.3h0M378.4 231.0h0M354.0 261.9h0M386.7 230.9h0M362.0 258.3h0M381.9 237.6h0M362.9 246.5h0M367.1 246.8h0M374.6 230.9h0M379.1 248.2h0M348.9 267.5h0M377.2 237.6h0M364.4 241.9h0M362.5 252.0h0M365.4 250.0h0M358.0 257.3h0M365.8 242.3h0M372.6 235.6h0M368.4 243.7h0M387.8 230.7h0M358.9 258.1h0M377.8 223.2h0M382.0 247.7h0M381.6 221.8h0M356.0 257.1h0M366.5 250.3h0M354.7 256.7h0M350.0 266.2h0M366.7 239.5h0M366.0 250.0h0M385.5 224.9h0M366.0 255.5h0M367.6 252.8h0M381.2 236.7h0M372.5 228.3h0M377.5 240.0h0M381.0 238.4h0M356.2 262.8h0M352.7 256.2h0M367.0 246.0h0M385.2 221.1h0M364.4 255.2h0M375.6 242.9h0M370.8 248.3h0M361.9 248.2h0M370.0 242.1h0M382.9 233.6h0M382.5 234.4h0M389.3 241.9h0M359.7 259.2h0M373.5 245.8h0M384.7 228.1h0M369.4 246.2h0M360.0 252.4h0M383.7 227.6h0M389.2 236.7h0M362.3 253.8h0M370.8 242.4h0M360.4 249.9h0M368.9 245.3h0M388.1 228.8h0M354.5 255.8h0M376.0 243.6h0M370.9 247.9h0M363.5 252.5h0M358.3 254.4h0M364.7 252.3h0M382.9 223.6h0M373.2 242.6h0M355.3 260.5h0M384.4 233.1h0M370.4 246.7h0M370.0 249.1h0M363.2 252.1h0M362.0 254.7h0M359.2 259.1h0M380.5 224.9h0M371.4 242.1h0M357.9 254.5h0M366.9 238.8h0M359.6 260.1h0M379.4 225.9h0M364.5 250.8h0M374.1 242.7h0M355.3 260.7h0M375.4 233.4h0M366.7 253.8h0M369.3 244.0h0M373.6 246.3h0M366.3 256.1h0M379.8 232.6h0M378.4 223.8h0M349.4 263.2h0M381.1 234.9h0M361.4 260.0h0M376.8 220.4h0M350.8 267.3h0M357.3 254.2h0M365.1 252.8h0M369.4 236.3h0M377.9 241.6h0M360.0 260.4h0M366.7 253.7h0M375.7 242.9h0M366.6 254.5h0M356.7 258.1h0M374.9 236.1h0M351.3 263.6h0M371.6 243.5h0M377.5 226.6h0M384.7 246.7h0M362.6 256.3h0M353.6 259.4h0M363.5 236.5h0M372.5 249.8h0M367.5 249.7h0M359.7 259.2h0M363.3 246.1h0M376.0 246.9h0M372.7 238.5h0M388.0 227.6h0M378.1 233.7h0M375.4 232.8h0M359.6 257.5h0M369.5 245.6h0M353.6 259.8h0M386.0 235.9h0M362.2 253.7h0M352.7 264.9h0M366.5 253.4h0M373.4 228.0h0M387.0 224.9h0M390.9 229.2h0M360.7 255.7h0M391.3 225.1h0M369.1 233.9h0M359.4 255.9h0M375.0 232.0h0M376.5 227.7h0M384.8 237.0h0M350.6 260.7h0M382.2 237.0h0M381.1 235.4h0M373.2 241.6h0M389.5 240.1h0M361.4 255.9h0M378.8 230.4h0M385.6 226.7h0M376.6 230.7h0M353.3 264.2h0M352.4 264.4h0M382.0 236.0h0M372.1 246.1h0M357.4 257.7h0M386.8 227.9h0M375.9 236.4h0M382.5 230.8h0M360.5 256.3h0M380.1 220.3h0M379.6 234.9h0M356.8 260.4h0M367.8 254.6h0M364.1 257.3h0M352.1 262.4h0M389.6 231.3h0M358.5 256.1h0M357.4 260.9h0M369.2 247.6h0M375.0 235.8h0M361.7 260.8h0M350.2 264.2h0M376.3 239.5h0M381.1 226.0h0M377.1 235.8h0M356.2 267.0h0M355.5 260.0h0M386.2 228.1h0M358.9 256.4h0M364.2 244.3h0M380.5 236.1h0M390.5 239.3h0M361.1 254.1h0M379.7 228.2h0M358.5 259.5h0M356.6 264.7h0M348.4 268.7h0M389.8 234.4h0M357.9 260.2h0M376.1 223.7h0M351.1 269.0h0M387.4 227.9h0M373.1 243.9h0M378.1 240.6h0M376.0 246.6h0M361.2 257.6h0M377.7 232.0h0M389.6 229.9h0M367.0 251.3h0M361.4 256.3h0M363.1 245.6h0M373.0 242.3h0M356.1 255.8h0M369.8 242.6h0M374.4 251.4h0M384.6 226.5h0M387.7 228.1h0M361.6 257.1h0M373.7 240.8h0M376.1 243.9h0M382.9 236.8h0M389.6 231.4h0M370.4 246.2h0M386.1 227.7h0M362.1 246.1h0M366.2 244.5h0M380.1 226.2h0M364.3 261.3h0M378.3 231.9h0M355.4 263.2h0M376.6 241.3h0M390.0 235.0h0M377.3 236.2h0M404.0 213.3h0M408.9 212.7h0M399.1 217.0h0M397.3 216.1h0M398.4 211.3h0M397.7 208.3h0M396.6 209.6h0M393.4 217.9h0M397.3 197.8h0M398.6 197.3h0M388.8 220.4h0M400.8 213.4h0M405.8 209.0h0M401.2 207.3h0M402.6 214.6h0M411.0 209.1h0M407.0 210.8h0M402.7 219.7h0M414.6 206.1h0M412.3 193.0h0M404.9 206.5h0M394.4 227.9h0M400.3 214.3h0M402.6 212.9h0M399.2 218.0h0M403.1 212.6h0M401.8 205.6h0M394.5 215.2h0M415.5 196.4h0M397.3 225.2h0M395.8 221.1h0M393.6 218.5h0M409.2 199.5h0M391.8 224.6h0M386.0 224.2h0M404.8 215.7h0M403.7 218.9h0M410.5 211.8h0M392.9 220.2h0M401.7 216.1h0M399.6 210.7h0M399.9 212.6h0M406.1 207.8h0M404.9 208.1h0M391.2 221.5h0M393.8 209.8h0M390.8 216.5h0M403.0 201.0h0M407.7 201.5h0M397.3 213.2h0M384.0 229.5h0M395.4 216.6h0M387.2 219.1h0M400.8 210.8h0M395.9 217.4h0M384.0 225.7h0M394.9 224.3h0M387.0 220.6h0M393.9 223.8h0M406.8 207.2h0M393.4 214.8h0M382.2 222.9h0M395.9 215.5h0M410.2 205.1h0M408.0 210.6h0M402.0 211.6h0M399.6 213.5h0M403.1 209.3h0M400.0 205.8h0M395.2 227.3h0M384.4 230.3h0M397.2 213.2h0M394.7 213.4h0M387.6 231.8h0M405.4 212.9h0M404.0 203.1h0M399.7 221.9h0M401.9 208.4h0M391.6 224.8h0M414.1 200.5h0M400.7 217.9h0M400.9 217.9h0M398.5 205.5h0M394.8 219.8h0M399.9 206.6h0M397.3 224.8h0M398.9 212.6h0M399.7 207.7h0M392.1 217.6h0M396.3 206.1h0M396.0 221.0h0M389.5 221.5h0M388.4 219.0h0M396.5 214.3h0M399.1 212.1h0M405.3 213.7h0M395.2 221.0h0M390.6 224.6h0M396.3 213.0h0M401.9 205.8h0M399.3 220.9h0M399.8 206.5h0M403.3 203.8h0M405.3 206.4h0M391.9 224.4h0M394.1 211.5h0M392.7 218.6h0M388.2 222.2h0M388.5 216.8h0M406.7 208.6h0M407.4 218.2h0M406.8 212.2h0M405.4 208.0h0M399.7 210.3h0M402.9 208.5h0M396.7 212.1h0M397.7 211.5h0M392.6 223.7h0M405.5 218.2h0M391.7 217.4h0M389.3 219.8h0M382.3 224.8h0M393.9 221.2h0M406.9 209.3h0M394.0 218.9h0M390.3 217.5h0M409.3 210.0h0M401.4 209.9h0M393.8 213.1h0M391.3 208.9h0M401.9 212.4h0M398.6 209.2h0M397.1 212.1h0M408.8 196.7h0M388.4 219.0h0M414.8 205.1h0M401.2 217.6h0M393.6 218.7h0M381.6 218.3h0M411.8 193.1h0M396.0 205.8h0M382.1 221.1h0M389.1 218.6h0M398.6 206.5h0M399.6 203.8h0M397.0 216.3h0M405.2 197.4h0M396.0 218.1h0M402.1 207.5h0M403.0 210.0h0M410.4 208.8h0M404.2 204.3h0M397.9 213.1h0M406.0 210.6h0M401.5 209.3h0M387.6 216.3h0M402.6 214.6h0M391.2 217.3h0M392.3 216.7h0M395.1 218.3h0M399.5 214.9h0M405.7 205.3h0M391.1 222.4h0M397.5 211.0h0M401.5 207.9h0M402.5 204.5h0M398.5 215.1h0M401.3 215.9h0M405.6 206.0h0M396.5 214.6h0M402.3 214.1h0M397.3 215.0h0M398.0 216.9h0M398.1 213.5h0M389.8 214.2h0M396.0 215.0h0M407.9 203.1h0M404.0 216.9h0M398.4 200.0h0M406.7 212.3h0M389.9 219.7h0M404.5 207.9h0M408.7 203.0h0M393.2 217.8h0M400.4 222.5h0M394.4 218.4h0M387.6 222.5h0M407.0 209.0h0M392.3 224.7h0M402.3 216.3h0M400.0 211.0h0M391.6 211.5h0M390.5 232.1h0M404.0 208.6h0M407.0 211.6h0M407.3 212.8h0M386.5 229.1h0M401.7 212.5h0M408.8 205.0h0M398.4 213.2h0M387.5 216.9h0M377.7 225.9h0M406.4 202.6h0M389.8 223.9h0M394.5 220.2h0M395.1 213.5h0M389.5 219.4h0M403.8 197.2h0M396.8 217.1h0M396.0 213.3h0M396.7 220.6h0M391.4 218.6h0M401.7 200.0h0M400.2 208.8h0M390.2 231.7h0M404.6 203.9h0M400.3 221.0h0M402.8 217.2h0M408.2 206.1h0M391.9 210.7h0M400.2 206.4h0M398.3 212.1h0M393.3 228.4h0M395.0 213.6h0M398.0 222.3h0M392.3 225.4h0M404.1 205.4h0M404.4 208.4h0M403.1 210.4h0M398.5 209.7h0M385.9 226.9h0M403.5 219.3h0M391.7 230.7h0M403.1 212.3h0M398.4 212.7h0M394.8 214.3h0M393.8 220.0h0M396.4 217.3h0M395.7 211.1h0M405.2 214.1h0M409.4 204.8h0M406.1 207.1h0M396.9 210.9h0M409.3 204.2h0M388.7 228.1h0M399.4 214.2h0M398.7 211.2h0M394.2 216.7h0M399.5 218.8h0M402.9 218.2h0M386.5 214.4h0M396.3 215.5h0M395.0 215.8h0M392.3 210.1h0M410.8 197.6h0M406.0 209.5h0M397.6 223.3h0M394.1 218.3h0M408.3 210.1h0M380.9 217.0h0M372.7 231.5h0M356.4 244.0h0M357.1 246.3h0M372.7 231.4h0M363.6 244.5h0M369.7 226.3h0M371.3 213.1h0M370.1 227.7h0M357.1 239.2h0M366.3 240.2h0M363.3 240.9h0M384.1 223.7h0M354.0 247.5h0M365.3 214.7h0M367.7 233.4h0M363.2 243.1h0M350.5 257.6h0M374.7 217.9h0M373.4 231.6h0M371.7 229.3h0M380.1 219.9h0M347.4 252.3h0M370.4 221.8h0M370.5 224.8h0M373.7 225.8h0M372.8 224.3h0M346.1 253.1h0M350.6 257.1h0M371.5 231.1h0M365.6 231.9h0M345.6 254.7h0M361.6 233.4h0M372.0 223.2h0M373.8 230.7h0M368.2 237.5h0M359.7 249.9h0M349.2 255.5h0M373.6 229.1h0M381.3 222.1h0M353.4 251.0h0M351.2 252.0h0M374.2 223.6h0M359.0 248.6h0M351.0 248.2h0M350.2 247.0h0M377.1 226.0h0M367.8 237.2h0M366.9 232.0h0M355.8 235.8h0M364.7 243.1h0M358.8 241.8h0M375.9 213.0h0M354.1 245.9h0M377.1 229.5h0M351.2 245.6h0M358.5 233.9h0M364.5 243.3h0M352.6 247.3h0M356.3 232.2h0M361.8 235.6h0M356.8 245.7h0M362.3 242.3h0M353.7 253.9h0M365.2 243.4h0M351.6 251.4h0M354.6 248.3h0M375.4 219.1h0M362.0 238.0h0M344.4 253.3h0M372.4 230.6h0M378.6 229.9h0M355.0 246.7h0M364.0 240.6h0M351.3 256.0h0M369.2 227.4h0M365.6 220.6h0M378.0 223.8h0M342.6 251.7h0M373.6 230.7h0M353.5 252.3h0M348.3 258.4h0M344.0 252.6h0M368.9 234.7h0M375.1 223.7h0M377.3 219.8h0M349.8 251.8h0M350.2 246.2h0M352.9 255.6h0M378.1 225.9h0M365.3 237.5h0M379.8 228.5h0M364.3 234.6h0M361.3 244.5h0M352.8 249.4h0M375.0 220.3h0M361.7 246.2h0M360.3 245.5h0M359.9 249.0h0M379.1 220.0h0M359.5 246.5h0M364.2 231.8h0M362.8 235.1h0M366.5 231.5h0M361.4 230.9h0M363.6 241.6h0M364.5 231.9h0M345.9 246.5h0M350.3 240.4h0M346.4 253.4h0M350.5 248.5h0M366.2 240.3h0M367.6 232.6h0M349.2 258.3h0M361.1 233.9h0M376.4 224.3h0M350.6 251.1h0M346.9 250.6h0M356.8 248.7h0M354.3 251.9h0M364.4 239.9h0M354.7 240.9h0M379.2 223.8h0M357.8 249.5h0M372.9 230.4h0M360.3 230.4h0M364.5 226.8h0M376.7 221.3h0M364.0 241.5h0M380.3 221.6h0M353.7 243.5h0M365.2 238.4h0M361.0 242.8h0M357.2 243.6h0M370.8 233.9h0M379.1 221.4h0M348.2 258.9h0M382.9 224.0h0M367.3 231.6h0M364.0 231.0h0M374.7 231.6h0M354.6 249.9h0M367.8 228.0h0M381.5 222.8h0M363.8 235.4h0M373.1 223.9h0M360.5 240.0h0M364.7 243.1h0M371.9 233.2h0M351.0 256.6h0M369.2 232.7h0M348.6 252.8h0M371.8 229.9h0M364.5 243.2h0M362.5 234.4h0M348.9 254.0h0M356.5 246.9h0M378.3 225.6h0M350.8 241.4h0M353.4 253.8h0M367.2 236.9h0M368.6 235.1h0M369.2 236.0h0M346.3 255.1h0M377.1 228.4h0M381.7 224.4h0M379.6 225.2h0M370.3 233.5h0M353.2 258.0h0M375.8 222.3h0M358.5 246.9h0M364.2 235.8h0M358.8 249.7h0M355.4 241.7h0M368.5 232.3h0M360.4 238.4h0M361.3 233.8h0M359.0 244.8h0M372.6 230.4h0M347.8 258.5h0M352.3 241.5h0M377.5 225.8h0M355.5 246.4h0M347.8 252.4h0M366.3 238.0h0M366.5 239.9h0M366.3 241.0h0M350.1 249.1h0M350.8 258.0h0M367.2 233.8h0M372.0 227.2h0M348.6 245.2h0M367.8 229.9h0M374.0 226.4h0M365.4 230.9h0M355.1 249.5h0M356.4 247.4h0M372.5 237.2h0M345.7 254.7h0M354.6 246.8h0M377.3 224.5h0M351.5 244.0h0M359.6 240.0h0M350.3 257.7h0M355.7 247.6h0M367.7 238.2h0M367.9 226.6h0M375.2 222.1h0M380.9 221.6h0M363.5 233.0h0M374.8 223.2h0M382.6 223.1h0M367.3 237.3h0M378.2 216.7h0M348.4 253.6h0M352.8 252.6h0M372.3 222.4h0M379.0 218.2h0M348.9 256.1h0M357.9 230.8h0M365.9 244.2h0M369.0 231.4h0M377.2 220.1h0M349.9 254.8h0M358.3 245.4h0M372.2 235.1h0M374.3 217.0h0M355.1 250.4h0M373.9 227.0h0M356.2 245.4h0M368.8 224.3h0M370.8 227.5h0M376.4 223.9h0M365.2 239.4h0M351.5 257.3h0M376.2 225.3h0M359.0 246.2h0M361.2 240.1h0M348.7 248.7h0M377.9 221.9h0M364.0 222.0h0M352.2 253.6h0M371.6 220.3h0M373.5 231.2h0M364.5 233.6h0M352.8 247.1h0M356.8 231.6h0M348.6 258.4h0M353.6 242.2h0M359.7 249.8h0M369.5 237.4h0M362.4 247.0h0M376.3 218.7h0M368.4 235.4h0M346.9 254.3h0M363.9 236.0h0M368.7 216.6h0M357.7 228.7h0M377.0 215.7h0M366.2 240.8h0M372.2 227.4h0M368.4 238.5h0M363.2 246.8h0M373.4 225.8h0M369.7 234.3h0M371.9 233.2h0M352.5 250.4h0M363.6 240.8h0M348.2 255.1h0M368.4 228.1h0M376.3 223.7h0M377.7 226.7h0M360.8 242.8h0M363.0 236.7h0M343.4 245.6h0M353.7 248.4h0M367.2 232.2h0M348.5 246.0h0M354.1 253.3h0M358.4 246.3h0M380.9 222.6h0M379.1 224.8h0M375.5 232.4h0M351.1 252.8h0M372.2 231.9h0M355.8 242.9h0M378.8 229.6h0M383.2 223.4h0M352.3 248.7h0M370.9 239.0h0M377.8 230.1h0M348.6 251.3h0M357.6 251.5h0M368.2 236.5h0M377.1 229.4h0M383.2 221.7h0M363.3 233.6h0M374.8 228.9h0M368.8 239.1h0M356.9 250.1h0M355.9 244.2h0M354.5 249.8h0M356.2 244.6h0M347.5 256.4h0M348.1 256.5h0M375.1 222.9h0M364.0 237.3h0M349.3 256.2h0M350.4 257.4h0M377.1 219.3h0M361.7 239.0h0M352.4 254.7h0M350.3 242.3h0M363.8 240.8h0M362.3 241.6h0M376.4 230.6h0M372.6 235.5h0M350.1 249.4h0M360.4 245.6h0M351.7 254.5h0M362.9 246.2h0M352.8 253.8h0M357.6 249.7h0M353.6 240.4h0M356.6 250.1h0M360.4 246.0h0M352.4 260.1h0M373.5 217.7h0M352.6 257.3h0M356.8 241.5h0M368.7 232.6h0M374.8 226.5h0M355.5 238.5h0M377.1 230.0h0M372.6 225.3h0M364.9 241.5h0M380.9 223.5h0M347.7 251.8h0M368.8 235.5h0M360.6 246.2h0M374.0 228.0h0M358.7 248.6h0M346.6 256.0h0M346.2 247.2h0M349.8 258.1h0M346.6 254.7h0M355.3 250.5h0M371.4 228.3h0M375.0 227.9h0M395.5 221.2h0M389.2 230.3h0M377.4 200.5h0M430.3 265.1h0M400.1 214.8h0M356.1 232.3h0M347.3 225.9h0M353.3 269.0h0M395.5 261.5h0M372.9 264.0h0M369.1 253.5h0M403.7 226.8h0M398.0 247.9h0M432.3 208.0h0M399.1 197.9h0M364.8 194.8h0M426.9 261.3h0M352.5 221.5h0M372.4 247.9h0M437.3 212.0h0M356.2 207.7h0M378.4 194.0h0M401.8 256.6h0M351.3 265.3h0M428.5 235.4h0M372.6 216.5h0M368.7 226.3h0M415.7 227.3h0M377.4 208.0h0M421.0 252.8h0M414.4 240.2h0M386.7 264.7h0M392.8 205.2h0M370.3 210.3h0M394.2 243.2h0M368.7 244.5h0M422.8 270.4h0M424.0 190.3h0M395.7 257.1h0M351.6 261.0h0" stroke="#000" stroke-opacity="0.25" stroke-width="0.80" stroke-linecap="round" fill="none"/>
<ellipse cx="371" cy="244" rx="34" ry="9.5" transform="rotate(-48 371 244)" fill="#000" opacity="0.45" filter="url(#bl2)"/>
<ellipse cx="397" cy="214" rx="13" ry="7" transform="rotate(-55 397 214)" fill="#000" opacity="0.12" filter="url(#bl4)"/>
<ellipse cx="364" cy="238" rx="16" ry="5" transform="rotate(-50 364 238)" fill="#000" opacity="0.14" filter="url(#bl4)"/>
<polygon points="349.6,266.5 350.5,262.5 352.5,260.3 357.3,251.5 362.1,245.0 368.5,237.8 375.0,231.4 381.4,226.6 386.2,224.2 389.4,223.4 390.8,225.0 387.8,229.8 383.8,236.2 378.2,243.4 371.8,250.7 363.7,258.7 358.0,264.0 355.7,267.5 352.0,268.6" fill="#111"/>
<text x="392.60" y="261.80" font-size="8.9">R<tspan font-size="5.6" dy="-3.4">2</tspan><tspan dy="3.4">=0.932</tspan></text>
<text x="367.50" y="303.40" font-size="8.94">Raichu bias</text>
<text transform="translate(322.0,230.8) rotate(-90)" font-size="8.94" text-anchor="middle">ICE bias</text>
<text x="436.90" y="9.70" font-size="12.5" fill="#000" font-weight="bold">d</text>
<text x="574.70" y="10.10" font-size="8.22">chr2: 86,150,000 - 86,700,000</text>
<text transform="translate(462.2,30.05) rotate(-90)" font-size="8.0" text-anchor="middle">ChIP-Seq</text>
<text transform="translate(471.6,30.05) rotate(-90)" font-size="8.0" text-anchor="middle">signals</text>
<text transform="translate(465.3,77.60) rotate(-90)" font-size="8.0" text-anchor="middle">log(biases)</text>
<path d="M494.5 30.0L494.5 29.1L494.9 29.6L498.5 29.6L498.9 29.3L499.3 29.6L499.7 29.6L500.1 29.5L500.5 29.6L502.9 29.6L503.3 29.4L503.7 29.6L504.5 29.6L504.9 29.4L505.3 29.6L506.1 29.6L506.5 29.1L506.9 29.6L508.5 29.6L508.9 29.4L509.3 29.6L509.7 29.5L510.1 29.2L510.5 29.6L513.7 29.6L514.1 29.4L514.5 29.6L517.7 29.6L518.1 27.9L518.5 12.6L518.9 27.9L519.3 23.1L519.7 23.1L520.1 24.0L520.5 15.5L520.9 25.0L521.3 29.5L521.7 29.6L526.9 29.6L527.3 28.4L527.7 26.8L528.1 27.9L528.5 14.0L528.9 21.9L529.3 29.6L530.1 29.6L530.5 29.1L530.9 29.6L534.5 29.6L534.9 29.3L535.3 29.6L538.9 29.6L539.3 29.2L539.7 29.6L540.1 29.2L540.5 29.6L540.9 29.5L541.3 29.6L543.7 29.6L544.1 29.4L544.5 29.6L544.9 27.9L545.3 14.0L545.7 21.9L546.1 29.6L547.3 29.6L547.7 29.2L548.1 29.6L548.9 29.6L549.3 28.7L549.7 29.2L550.1 29.6L553.3 29.6L553.7 29.4L554.1 29.6L555.3 29.6L555.7 29.5L556.1 29.2L556.5 29.6L557.3 29.6L557.7 29.1L558.1 29.1L558.5 29.6L563.3 29.6L563.7 29.2L564.1 29.6L565.7 29.6L566.1 29.5L566.5 29.6L568.5 29.6L568.9 27.9L569.3 14.0L569.7 21.9L570.1 24.0L570.5 24.7L570.9 17.6L571.3 17.6L571.7 29.2L572.1 29.6L572.5 29.5L572.9 29.6L577.3 29.6L577.7 29.3L578.1 29.5L578.5 29.1L578.9 26.0L579.3 22.0L579.7 29.0L580.1 29.6L581.7 29.6L582.1 29.4L582.5 29.6L584.9 29.6L585.3 29.2L585.7 29.5L586.1 29.6L586.5 29.4L586.9 29.6L587.3 29.6L587.7 29.5L588.1 29.6L588.5 29.6L588.9 29.1L589.3 29.6L589.7 29.6L590.1 29.3L590.5 29.6L591.3 29.6L591.7 29.2L592.1 29.6L594.1 29.6L594.5 29.1L594.9 29.6L595.3 29.6L595.7 29.5L596.1 29.6L599.3 29.6L599.7 29.4L600.1 29.6L600.5 29.6L600.9 29.2L601.3 29.6L606.5 29.6L606.9 29.4L607.3 29.3L607.7 29.5L608.1 29.6L610.9 29.6L611.3 29.1L611.7 29.6L613.3 29.6L613.7 29.3L614.1 29.6L614.9 29.6L615.3 29.1L615.7 29.4L616.1 29.6L620.5 29.6L620.9 29.1L621.3 28.4L621.7 28.4L622.1 29.6L624.1 29.6L624.5 29.2L624.9 29.6L625.3 29.6L625.7 29.4L626.1 29.5L626.5 29.6L628.5 29.6L628.9 29.3L629.3 29.6L629.7 29.6L630.1 29.3L630.5 29.6L634.9 29.6L635.3 29.5L635.7 29.6L639.7 29.6L640.1 29.4L640.5 29.6L643.7 29.6L644.1 29.2L644.5 29.6L646.1 29.6L646.5 29.1L646.9 29.6L648.5 29.6L648.9 29.2L649.3 29.6L653.3 29.6L653.7 29.1L654.1 29.6L654.5 29.3L654.9 29.6L655.3 29.4L655.7 29.6L656.1 29.6L656.5 29.5L656.9 29.6L657.3 29.2L657.7 29.6L659.7 29.6L660.1 29.4L660.5 29.6L664.9 29.6L665.3 29.1L665.7 29.2L666.1 29.6L667.3 29.6L667.7 29.3L668.1 29.6L669.7 29.6L670.1 29.3L670.5 29.6L673.7 29.6L674.1 29.4L674.5 29.6L674.9 29.6L675.3 28.2L675.7 27.0L676.1 29.3L676.5 29.6L680.1 29.6L680.5 29.4L680.9 29.6L684.9 29.6L685.0 30.0Z" fill="#3a7dbf" fill-opacity="0.7"/>
<path d="M494.5 49.9L494.5 49.5L494.9 49.5L495.3 49.4L495.7 49.5L502.5 49.5L502.9 49.1L503.3 49.4L503.7 49.5L504.9 49.5L505.3 49.3L505.7 49.2L506.1 45.5L506.5 45.5L506.9 49.5L508.5 49.5L508.9 49.3L509.3 36.3L509.7 45.2L510.1 45.8L510.5 32.6L510.9 45.8L511.3 41.3L511.7 41.3L512.1 49.5L514.9 49.5L515.3 49.3L515.7 47.7L516.1 49.3L516.5 49.5L519.7 49.5L520.1 45.5L520.5 45.5L520.9 49.5L524.9 49.5L525.3 49.0L525.7 49.2L526.1 47.0L526.5 48.1L526.9 49.5L527.3 47.2L527.7 47.2L528.1 49.5L528.5 49.3L528.9 47.5L529.3 48.4L529.7 49.5L531.3 49.5L531.7 49.3L532.1 49.5L532.5 49.5L532.9 49.0L533.3 49.1L533.7 49.3L534.1 49.5L535.7 49.5L536.1 49.0L536.5 49.5L536.9 48.9L537.3 42.3L537.7 46.0L538.1 49.3L538.5 49.2L538.9 49.5L542.5 49.5L542.9 49.2L543.3 49.5L543.7 49.2L544.1 49.5L544.5 49.5L544.9 49.0L545.3 49.5L546.1 49.5L546.5 49.2L546.9 49.4L547.3 49.4L547.7 49.1L548.1 49.5L553.3 49.5L553.7 49.4L554.1 49.5L554.5 49.1L554.9 49.5L555.3 49.4L555.7 49.5L559.7 49.5L560.1 49.2L560.5 49.5L560.9 49.3L561.3 49.5L561.7 49.5L562.1 49.1L562.5 49.5L564.9 49.5L565.3 49.1L565.7 49.3L566.1 49.5L566.5 49.5L566.9 49.2L567.3 49.5L568.5 49.5L568.9 49.3L569.3 49.5L569.7 49.5L570.1 49.1L570.5 49.5L572.5 49.5L572.9 49.4L573.3 49.0L573.7 49.5L574.5 49.5L574.9 49.1L575.3 49.5L583.7 49.5L584.1 49.3L584.5 49.5L584.9 49.3L585.3 49.4L585.7 49.5L586.5 49.5L586.9 49.3L587.3 49.5L588.9 49.5L589.3 49.2L589.7 49.5L590.1 49.5L590.5 49.2L590.9 49.5L593.7 49.5L594.1 43.2L594.5 32.6L594.9 43.2L595.3 49.5L603.3 49.5L603.7 49.2L604.1 49.5L605.3 49.5L605.7 49.0L606.1 49.5L607.3 49.5L607.7 49.0L608.1 49.5L610.1 49.5L610.5 49.1L610.9 49.5L611.7 49.5L612.1 49.4L612.5 49.5L616.9 49.5L617.3 49.4L617.7 49.5L620.5 49.5L620.9 49.4L621.3 49.5L622.1 49.5L622.5 49.2L622.9 49.5L626.9 49.5L627.3 49.0L627.7 49.5L629.7 49.5L630.1 49.1L630.5 49.5L634.5 49.5L634.9 49.0L635.3 49.5L635.7 49.5L636.1 46.0L636.5 33.6L636.9 39.8L637.3 49.0L637.7 49.5L640.1 49.5L640.5 49.3L640.9 49.5L647.7 49.5L648.1 49.4L648.5 49.5L656.5 49.5L656.9 46.0L657.3 33.6L657.7 39.8L658.1 49.0L658.5 49.5L660.5 49.5L660.9 49.4L661.3 49.5L665.3 49.5L665.7 49.4L666.1 49.5L666.9 49.5L667.3 49.2L667.7 49.5L669.7 49.5L670.1 49.2L670.5 49.5L675.3 49.5L675.7 49.4L676.1 49.5L676.5 49.0L676.9 49.5L677.3 49.5L677.7 49.3L678.1 49.5L678.5 49.4L678.9 49.5L679.3 49.5L679.7 49.1L680.1 49.0L680.5 49.5L680.9 49.0L681.3 49.5L682.1 49.5L682.5 49.2L682.9 49.4L683.3 49.5L684.9 49.5L685.0 49.9Z" fill="#f5821f" fill-opacity="0.85"/>
<path d="M491.79999999999995 12.6H493.4V30.0H491.79999999999995M491.79999999999995 32.6H493.4V49.9H491.79999999999995M491.79999999999995 62.300000000000004H493.4V92.89999999999999H491.79999999999995" stroke="#000" stroke-width="1.1" fill="none"/>
<text x="491.30" y="18.80" font-size="8.5" text-anchor="end">22</text>
<text x="491.30" y="29.00" font-size="8.5" text-anchor="end">0</text>
<text x="491.30" y="38.80" font-size="8.5" text-anchor="end">28</text>
<text x="491.30" y="48.90" font-size="8.5" text-anchor="end">0</text>
<text x="491.30" y="68.90" font-size="8.5" text-anchor="end">0.61</text>
<text x="491.30" y="92.30" font-size="8.5" text-anchor="end">-0.95</text>
<text x="497.60" y="22.00" font-size="8.0">CTCF</text>
<text x="497.60" y="41.90" font-size="8.0">H3K27ac</text>
<path d="M494.4 71.9L495.8 81.2L497.3 68.4L498.8 74.2L501.0 70.7L502.4 69.6L503.9 68.4L505.3 76.6L507.1 71.4L509.0 64.9L510.4 65.5L511.9 67.3L514.1 69.5L516.3 77.7L517.8 73.0L519.2 67.3L521.0 66.2L522.8 62.7L524.3 63.8L525.8 63.8L527.2 68.7L528.7 69.5L530.5 67.3L532.3 67.3L534.5 73.1L536.7 64.9L538.9 70.8L541.1 67.3L543.3 73.1L545.5 68.4L546.9 70.8L548.4 67.4L549.9 63.8L551.3 68.7L552.8 75.5L554.2 72.1L555.7 70.8L557.2 71.7L558.6 73.1L560.1 73.4L561.5 73.6L563.0 73.1L564.5 72.2L565.9 72.9L567.4 68.4L569.6 75.5L571.0 75.4L572.5 73.1L574.7 74.2L576.2 72.8L577.6 75.5L579.8 68.4L581.6 69.9L583.4 70.8L585.3 73.5L587.2 77.9L588.7 73.1L590.1 69.7L592.3 77.9L593.8 76.0L595.2 70.8L596.7 72.3L598.1 74.3L599.6 73.6L601.1 77.9L602.5 75.4L604.0 72.1L605.5 73.5L606.9 75.6L608.7 70.6L610.5 68.6L612.7 80.3L614.2 72.7L615.7 67.5L617.2 67.2L618.6 68.6L620.0 82.5L622.2 74.3L623.7 81.4L625.9 75.6L628.5 68.6L630.1 81.4L631.7 94.2L633.2 82.0L634.6 70.8L637.3 62.7L639.7 73.2L641.2 76.2L642.7 79.0L644.2 78.5L645.6 73.2L647.8 77.9L649.2 73.9L650.7 72.1L652.2 72.2L653.6 74.3L655.0 78.1L656.5 82.5L658.4 77.0L660.2 68.6L662.4 72.1L664.6 73.2L666.8 77.9L668.9 79.0M672.6 79.0L674.0 74.0L675.5 72.1L677.7 77.9L679.9 73.2L681.3 74.1L682.8 77.9L685.0 74.3" stroke="#8a8a8a" stroke-width="0.7" stroke-dasharray="1.6 0.7" fill="none"/>
<path d="M494.4 71.8L495.8 79.9L497.3 68.7L498.8 73.7L501.0 70.6L502.4 68.4L503.9 68.7L505.3 75.8L507.1 69.5L509.0 65.6L510.4 67.4L511.9 67.7L514.1 69.7L516.3 76.8L517.8 69.7L519.2 67.7L521.0 65.5L522.8 63.6L524.3 61.7L525.8 64.6L527.2 68.4L528.7 69.7L530.5 68.9L532.3 67.7L534.5 72.7L536.7 65.6L538.9 70.8L541.1 67.7L543.3 72.7L545.5 68.7L546.9 70.8L548.4 69.2L549.9 64.6L551.3 69.2L552.8 74.8L554.2 73.3L555.7 70.8L557.2 71.5L558.6 72.7L560.1 71.9L561.5 72.9L563.0 72.7L564.5 70.0L565.9 69.6L567.4 68.7L569.6 74.8L571.0 74.6L572.5 72.7L574.7 73.7L576.2 74.3L577.6 74.8L579.8 68.7L581.6 69.3L583.4 70.8L585.3 76.3L587.2 76.9L588.7 73.4L590.1 69.8L592.3 76.9L593.8 73.2L595.2 70.8L596.7 72.5L598.1 73.9L599.6 74.8L601.1 76.9L602.5 74.0L604.0 71.9L605.5 73.1L606.9 75.0L608.7 74.1L610.5 68.8L612.7 79.0L614.2 73.5L615.7 67.8L617.2 68.5L618.6 68.8L620.0 81.0L622.2 73.9L623.7 80.0L625.9 75.0L628.5 68.8L630.1 80.8L631.7 91.2L633.2 83.2L634.6 70.8L637.3 63.6L639.7 72.9L641.2 75.2L642.7 77.9L644.2 74.7L645.6 72.9L647.8 76.9L649.2 77.1L650.7 71.9L652.2 71.3L653.6 73.9L655.0 77.0L656.5 81.0L658.4 75.6L660.2 68.8L662.4 71.9L664.6 72.9L666.8 76.9L668.9 77.9M672.6 77.9L674.0 75.5L675.5 71.9L677.7 76.9L679.9 72.9L681.3 72.9L682.8 76.9L685.0 73.9" stroke="#a0a0a0" stroke-width="0.7" stroke-dasharray="2.5 0.8" fill="none"/>
<path d="M494.4 71.8L495.8 77.6L497.3 69.6L498.8 73.2L501.0 71.0L503.9 69.6L505.3 74.7L507.1 71.1L509.0 67.4L511.9 68.9L514.1 70.3L516.3 75.4L519.2 68.9L521.0 67.9L522.8 66.0L525.8 66.7L528.7 70.3L530.5 69.3L532.3 68.9L534.5 72.5L536.7 67.4L538.9 71.1L541.1 68.9L543.3 72.5L545.5 69.6L546.9 71.1L549.9 66.7L552.8 74.0L555.7 71.1L558.6 72.5L560.8 72.8L563.0 72.5L565.2 71.0L567.4 69.6L569.6 74.0L572.5 72.5L574.7 73.2L577.6 74.0L579.8 69.6L581.6 70.3L583.4 71.1L585.3 74.0L587.2 75.5L590.1 70.4L592.3 75.5L595.2 71.1L598.1 73.3L601.1 75.5L604.0 71.9L606.9 74.1L608.7 72.0L610.5 69.7L612.7 77.0L615.7 69.0L618.6 69.7L620.0 78.4L622.2 73.3L623.7 77.7L625.9 74.1L628.5 69.7L630.1 77.7L631.7 85.7L634.6 71.1L637.3 66.0L639.7 72.6L642.7 76.2L645.6 72.6L647.8 75.5L650.7 71.9L653.6 73.3L656.5 78.4L658.4 74.3L660.2 69.7L662.4 71.9L664.6 72.6L666.8 75.5L668.9 76.2M672.6 76.2L675.5 71.9L677.7 75.5L679.9 72.6L682.8 75.5L685.0 73.3" stroke="#111" stroke-width="1.05" fill="none" stroke-linejoin="round"/>
<rect x="502" y="85.1" width="82" height="8.5" fill="#fff"/>
<path d="M503.9 89.6H510.4" stroke="#111" stroke-width="1.1"/>
<text x="512.20" y="92.00" font-size="6.7" fill="#333">Raichu</text>
<path d="M538.2 89.6H544.7" stroke="#999" stroke-width="0.6" stroke-dasharray="1.5 0.8"/>
<text x="546.90" y="92.00" font-size="6.7" fill="#333">ICE</text>
<path d="M563 89.6H569.6" stroke="#999" stroke-width="0.6" stroke-dasharray="2.5 0.8"/>
<text x="571.70" y="92.00" font-size="6.7" fill="#333">KR</text>
<text x="574.60" y="116.00" font-size="8.22">chr3: 98,500,000 - 98,700,000</text>
<text transform="translate(462.2,135.75) rotate(-90)" font-size="8.0" text-anchor="middle">ChIP-Seq</text>
<text transform="translate(471.6,135.75) rotate(-90)" font-size="8.0" text-anchor="middle">signals</text>
<text transform="translate(465.3,183.30) rotate(-90)" font-size="8.0" text-anchor="middle">log(biases)</text>
<path d="M494.5 135.7L494.5 135.3L498.1 135.3L498.5 135.1L498.9 134.8L499.3 135.3L499.7 134.8L500.1 135.3L501.3 135.3L501.7 135.0L502.1 135.2L502.5 135.3L502.9 135.0L503.3 135.3L504.5 135.3L504.9 135.2L505.3 135.3L508.9 135.3L509.3 134.9L509.7 135.3L511.3 135.3L511.7 135.2L512.1 135.3L513.3 135.3L513.7 134.9L514.1 135.3L514.5 135.3L514.9 135.1L515.3 135.3L515.7 135.3L516.1 135.1L516.5 135.2L516.9 135.3L518.9 135.3L519.3 134.9L519.7 135.0L520.1 134.9L520.5 135.3L523.7 135.3L524.1 134.7L524.5 135.3L526.1 135.3L526.5 135.2L526.9 135.3L529.7 135.3L530.1 135.0L530.5 135.3L535.3 135.3L535.7 135.2L536.1 135.3L539.3 135.3L539.7 135.1L540.1 134.9L540.5 135.3L542.1 135.3L542.5 135.1L542.9 135.3L543.3 135.2L543.7 135.3L544.1 135.3L544.5 135.1L544.9 133.8L545.3 134.7L545.7 135.3L546.5 135.3L546.9 135.2L547.3 134.8L547.7 135.3L548.1 135.3L548.5 134.9L548.9 135.3L550.1 135.3L550.5 135.0L550.9 135.3L554.5 135.3L554.9 135.0L555.3 135.3L557.7 135.3L558.1 134.9L558.5 135.3L561.3 135.3L561.7 134.9L562.1 135.0L562.5 135.3L563.3 135.3L563.7 135.1L564.1 126.4L564.5 126.4L564.9 135.1L565.3 135.1L565.7 135.3L572.1 135.3L572.5 135.0L572.9 135.3L574.5 135.3L574.9 135.0L575.3 135.3L578.9 135.3L579.3 135.2L579.7 135.3L580.1 134.9L580.5 135.3L581.3 135.3L581.7 135.2L582.1 135.3L582.5 134.8L582.9 135.3L583.3 135.2L583.7 135.3L586.5 135.3L586.9 134.1L587.3 122.9L587.7 129.2L588.1 135.3L590.5 135.3L590.9 131.4L591.3 118.8L591.7 131.4L592.1 135.3L592.5 134.8L592.9 135.3L593.3 135.0L593.7 135.3L600.9 135.3L601.3 127.9L601.7 120.2L602.1 133.7L602.5 135.3L602.9 135.3L603.3 135.0L603.7 135.3L604.5 135.3L604.9 134.8L605.3 134.8L605.7 135.3L606.5 135.3L606.9 135.2L607.3 135.3L609.7 135.3L610.1 135.1L610.5 135.3L611.3 135.3L611.7 135.2L612.1 134.9L612.5 135.3L618.1 135.3L618.5 134.8L618.9 135.3L619.7 135.3L620.1 135.0L620.5 135.3L620.9 135.3L621.3 135.0L621.7 135.3L623.3 135.3L623.7 135.0L624.1 135.3L626.5 135.3L626.9 134.9L627.3 135.2L627.7 135.3L629.3 135.3L629.7 134.9L630.1 135.0L630.5 135.3L631.7 135.3L632.1 135.0L632.5 135.3L640.1 135.3L640.5 135.1L640.9 135.3L641.3 135.3L641.7 134.8L642.1 135.3L642.5 135.3L642.9 135.1L643.3 135.3L643.7 135.2L644.1 133.7L644.5 120.2L644.9 127.9L645.3 135.0L645.7 135.3L646.9 135.3L647.3 135.2L647.7 135.0L648.1 135.3L648.5 135.3L648.9 135.2L649.3 135.3L650.5 135.3L650.9 135.2L651.3 135.3L654.1 135.3L654.5 134.9L654.9 135.3L657.7 135.3L658.1 134.8L658.5 135.3L659.7 135.3L660.1 135.0L660.5 135.3L666.9 135.3L667.3 135.1L667.7 135.3L668.1 135.1L668.5 135.3L671.7 135.3L672.1 135.2L672.5 135.3L674.1 135.3L674.5 134.9L674.9 135.3L675.7 135.3L676.1 135.2L676.5 135.3L676.9 135.1L677.3 135.3L680.1 135.3L680.5 135.0L680.9 135.3L681.3 134.8L681.7 135.3L683.3 135.3L683.7 134.8L684.1 135.3L684.9 135.3L685.0 135.7Z" fill="#3a7dbf" fill-opacity="0.7"/>
<path d="M494.5 155.6L494.5 155.2L498.5 155.2L498.9 154.9L499.3 155.2L499.7 155.2L500.1 154.7L500.5 154.8L500.9 155.2L501.7 155.2L502.1 155.1L502.5 155.2L502.9 155.2L503.3 154.7L503.7 155.2L504.1 154.9L504.5 155.0L504.9 155.2L505.7 155.2L506.1 155.1L506.5 155.2L508.5 155.2L508.9 154.8L509.3 155.2L511.7 155.2L512.1 155.0L512.5 155.2L513.7 155.2L514.1 154.7L514.5 155.2L514.9 155.1L515.3 154.5L515.7 154.0L516.1 153.9L516.5 154.2L516.9 154.5L517.3 153.4L517.7 152.4L518.1 152.2L518.5 152.9L518.9 154.0L519.3 154.9L519.7 155.2L520.5 155.2L520.9 155.1L521.3 153.3L521.7 150.2L522.1 149.2L522.5 151.7L522.9 154.4L523.3 153.8L523.7 151.3L524.1 150.5L524.5 152.6L524.9 154.7L525.3 155.2L525.7 153.4L526.1 149.5L526.5 146.9L526.9 149.5L527.3 153.4L527.7 153.8L528.1 150.7L528.5 148.7L528.9 150.7L529.3 153.8L529.7 155.2L530.1 154.7L530.5 153.4L530.9 152.5L531.3 152.9L531.7 154.1L532.1 155.1L532.5 154.4L532.9 153.9L533.3 154.1L533.7 154.8L534.1 155.2L537.3 155.2L537.7 154.7L538.1 155.2L541.7 155.2L542.1 154.1L542.5 151.9L542.9 148.8L543.3 146.4L543.7 146.4L544.1 148.8L544.5 151.9L544.9 150.6L545.3 141.2L545.7 141.2L546.1 150.6L546.5 149.6L546.9 142.2L547.3 145.3L547.7 152.9L548.1 145.5L548.5 138.3L548.9 145.5L549.3 153.6L549.7 147.9L550.1 145.6L550.5 151.1L550.9 154.6L551.3 151.0L551.7 144.9L552.1 142.9L552.5 148.0L552.9 153.3L553.3 152.4L553.7 143.4L554.1 139.7L554.5 148.5L554.9 154.5L555.3 152.7L555.7 144.7L556.1 141.4L556.5 149.2L556.9 152.5L557.3 146.5L557.7 146.5L558.1 152.5L558.5 151.8L558.9 147.2L559.3 149.2L559.7 153.1L560.1 151.5L560.5 154.6L560.9 155.2L562.9 155.2L563.3 154.4L563.7 152.5L564.1 154.4L564.5 155.2L570.5 155.2L570.9 154.9L571.3 155.2L571.7 155.2L572.1 155.1L572.5 155.2L572.9 155.2L573.3 154.8L573.7 155.2L576.1 155.2L576.5 154.8L576.9 155.2L582.5 155.2L582.9 154.0L583.3 154.6L583.7 155.2L585.3 155.2L585.7 154.7L586.1 155.2L586.9 155.2L587.3 155.0L587.7 155.1L588.1 155.2L590.9 155.2L591.3 154.8L591.7 155.2L592.1 154.9L592.5 155.2L600.9 155.2L601.3 154.0L601.7 154.6L602.1 155.1L602.5 155.2L602.9 155.2L603.3 154.8L603.7 155.2L605.3 155.2L605.7 155.0L606.1 155.2L608.9 155.2L609.3 154.9L609.7 155.2L611.7 155.2L612.1 154.9L612.5 155.2L612.9 155.2L613.3 155.0L613.7 155.2L619.7 155.2L620.1 154.9L620.5 155.2L621.7 155.2L622.1 154.8L622.5 155.2L630.1 155.2L630.5 154.3L630.9 154.8L631.3 155.2L632.1 155.2L632.5 154.8L632.9 155.0L633.3 155.2L644.5 155.2L644.9 154.9L645.3 154.7L645.7 155.2L649.3 155.2L649.7 155.1L650.1 155.0L650.5 155.2L650.9 154.7L651.3 155.2L652.5 155.2L652.9 155.0L653.3 155.2L658.1 155.2L658.5 154.8L658.9 155.2L660.5 155.2L660.9 154.9L661.3 155.2L661.7 155.2L662.1 154.7L662.5 155.2L665.7 155.2L666.1 154.8L666.5 155.2L671.7 155.2L672.1 155.1L672.5 154.7L672.9 154.9L673.3 154.7L673.7 155.2L680.5 155.2L680.9 154.8L681.3 155.2L681.7 154.9L682.1 155.2L684.9 155.2L685.0 155.6Z" fill="#f5821f" fill-opacity="0.85"/>
<path d="M491.79999999999995 118.3H493.4V135.7H491.79999999999995M491.79999999999995 138.3H493.4V155.6H491.79999999999995M491.79999999999995 168.0H493.4V198.6H491.79999999999995" stroke="#000" stroke-width="1.1" fill="none"/>
<text x="491.30" y="124.50" font-size="8.5" text-anchor="end">35</text>
<text x="491.30" y="134.70" font-size="8.5" text-anchor="end">0</text>
<text x="491.30" y="144.50" font-size="8.5" text-anchor="end">176</text>
<text x="491.30" y="154.60" font-size="8.5" text-anchor="end">0</text>
<text x="491.30" y="174.60" font-size="8.5" text-anchor="end">0.66</text>
<text x="491.30" y="198.00" font-size="8.5" text-anchor="end">-0.89</text>
<text x="497.60" y="127.70" font-size="8.0">CTCF</text>
<text x="497.60" y="147.60" font-size="8.0">H3K27ac</text>
<path d="M494.1 203.4L495.6 194.5L497.0 189.1L498.4 182.5L499.9 173.8L501.9 176.3L503.9 180.1L505.6 176.6L507.3 176.5L509.0 174.8L510.7 177.2L512.4 179.8L514.1 180.1L515.8 175.9L517.5 173.3L519.2 172.4L520.9 173.6L522.6 173.6L524.3 173.2L526.0 177.1L527.7 178.3L529.4 179.0L530.9 180.4L532.3 181.7L533.8 183.6L535.3 187.6L536.7 184.5L538.2 185.5L539.7 180.8L541.1 176.7L542.5 174.6L544.0 170.8L545.5 170.8L546.9 169.9L548.4 170.2L550.1 171.3L551.8 173.0L553.5 173.8L555.0 179.2L556.4 184.1L557.9 187.1L559.6 185.5L561.3 181.0L563.0 181.4L564.7 180.3L566.4 175.6L568.1 175.4L569.8 175.8L571.5 174.6L573.2 177.0L574.7 176.9L576.1 175.7L577.6 176.6L579.1 174.9L580.5 177.0L582.0 170.8L583.7 171.5L585.4 173.5L587.1 173.2L588.6 170.3L590.1 170.5L591.6 169.7L593.0 174.3L594.5 177.1L596.0 181.4L597.4 184.7L598.9 182.9L600.3 179.6L601.8 179.0L603.5 180.7L605.2 179.8L606.9 181.8L608.4 183.2L609.8 178.9L611.3 178.5L612.8 178.1L614.2 176.0L615.7 174.8L617.2 178.7L618.6 179.4L620.0 184.1L621.5 185.5L623.3 184.2L625.1 183.1L626.6 181.1L628.0 176.6L629.5 172.3L631.0 168.4L632.7 170.9L634.4 176.4L636.1 179.0L637.6 177.2L639.0 176.4L640.5 171.9L642.1 171.5L643.7 172.8L645.2 172.8L646.8 172.6L648.4 172.6L650.0 172.4L651.7 175.0L653.4 176.3L655.1 179.4L656.6 178.3L658.0 179.4L659.5 180.1L661.2 184.7L662.9 189.8L664.6 191.8L666.3 188.1L668.0 183.3L669.7 177.0L671.2 180.6L672.6 183.1L674.1 184.7L675.8 189.7L677.5 195.1L679.2 198.8L680.7 199.1L682.1 194.3L683.5 191.8L685.0 190.6" stroke="#8a8a8a" stroke-width="0.7" stroke-dasharray="1.6 0.7" fill="none"/>
<path d="M494.1 200.1L495.6 192.1L497.0 187.4L498.4 180.4L499.9 174.2L501.9 176.4L503.9 179.7L505.6 179.2L507.3 176.7L509.0 175.1L510.7 176.3L512.4 180.1L514.1 179.7L515.8 176.9L517.5 173.8L519.2 173.0L520.9 171.7L522.6 172.9L524.3 173.7L526.0 176.1L527.7 178.0L529.4 178.7L530.9 181.3L532.3 183.5L533.8 182.8L535.3 185.2L536.7 184.6L538.2 184.4L539.7 182.7L541.1 178.8L542.5 174.2L544.0 171.6L545.5 172.3L546.9 171.3L548.4 171.0L550.1 171.9L551.8 175.4L553.5 174.2L555.0 179.0L556.4 181.5L557.9 185.8L559.6 184.1L561.3 185.1L563.0 180.8L564.7 178.9L566.4 178.2L568.1 175.6L569.8 176.8L571.5 177.2L573.2 177.0L574.7 177.6L576.1 176.3L577.6 176.6L579.1 174.5L580.5 173.1L582.0 171.6L583.7 171.9L585.4 173.9L587.1 173.7L588.6 174.4L590.1 170.7L591.6 170.6L593.0 174.6L594.5 176.1L596.0 179.7L597.4 183.7L598.9 181.9L600.3 180.6L601.8 178.7L603.5 179.1L605.2 177.5L606.9 181.2L608.4 181.9L609.8 179.0L611.3 178.3L612.8 176.6L614.2 177.0L615.7 175.1L617.2 176.8L618.6 178.2L620.0 182.7L621.5 184.4L623.3 183.9L625.1 182.3L626.6 178.3L628.0 176.9L629.5 173.2L631.0 169.5L632.7 171.3L634.4 177.6L636.1 178.7L637.6 177.0L639.0 173.4L640.5 172.5L642.1 173.2L643.7 172.9L645.2 173.9L646.8 171.4L648.4 174.1L650.0 173.0L651.7 176.1L653.4 177.9L655.1 179.1L656.6 180.1L658.0 181.0L659.5 179.7L661.2 184.0L662.9 186.7L664.6 189.9L666.3 184.7L668.0 182.6L669.7 177.0L671.2 180.4L672.6 181.9L674.1 183.7L675.8 188.1L677.5 192.8L679.2 196.1L680.7 191.5L682.1 192.9L683.5 188.0L685.0 188.9" stroke="#a0a0a0" stroke-width="0.7" stroke-dasharray="2.5 0.8" fill="none"/>
<path d="M494.1 193.9L496.0 187.4L498.0 181.4L499.9 175.4L501.9 177.1L503.9 179.3L505.6 178.1L507.3 177.4L509.0 176.0L510.7 176.5L512.4 178.1L514.1 179.3L515.8 177.5L517.5 175.8L519.2 174.5L520.9 174.6L522.6 174.8L524.3 175.0L526.0 177.1L527.7 177.5L529.4 178.6L531.6 180.0L533.8 181.5L536.0 182.4L538.2 182.7L540.1 179.3L542.1 176.4L544.0 173.5L546.2 173.5L548.4 173.1L550.1 173.7L551.8 174.3L553.5 175.4L555.7 179.3L557.9 183.7L559.6 182.0L561.3 181.7L563.0 180.1L564.7 179.3L566.4 178.6L568.1 176.4L569.8 176.6L571.5 177.0L573.2 177.4L575.4 177.2L577.6 177.1L579.8 175.5L582.0 173.5L583.7 174.0L585.4 174.8L587.1 175.0L589.4 173.8L591.6 172.8L593.5 175.4L595.5 179.6L597.4 182.2L599.6 180.2L601.8 178.6L603.5 179.6L605.2 179.7L606.9 180.4L609.1 179.4L611.3 178.3L613.5 176.6L615.7 176.0L617.6 177.9L619.6 180.6L621.5 182.7L623.3 182.2L625.1 181.2L627.1 178.1L629.0 175.1L631.0 172.0L632.7 173.6L634.4 176.4L636.1 178.6L638.3 176.2L640.5 174.2L642.4 173.9L644.3 174.4L646.2 174.2L648.1 174.1L650.0 174.5L651.7 175.8L653.4 177.3L655.1 178.9L657.3 179.0L659.5 179.3L661.2 181.8L662.9 184.0L664.6 186.6L666.3 183.9L668.0 181.0L669.7 177.4L671.9 180.2L674.1 182.2L675.8 185.0L677.5 187.8L679.2 191.0L681.1 189.4L683.1 187.5L685.0 185.9" stroke="#111" stroke-width="1.05" fill="none" stroke-linejoin="round"/>
<rect x="502" y="190.8" width="82" height="8.5" fill="#fff"/>
<path d="M503.9 195.3H510.4" stroke="#111" stroke-width="1.1"/>
<text x="512.20" y="197.70" font-size="6.7" fill="#333">Raichu</text>
<path d="M538.2 195.3H544.7" stroke="#999" stroke-width="0.6" stroke-dasharray="1.5 0.8"/>
<text x="546.90" y="197.70" font-size="6.7" fill="#333">ICE</text>
<path d="M563 195.3H569.6" stroke="#999" stroke-width="0.6" stroke-dasharray="2.5 0.8"/>
<text x="571.70" y="197.70" font-size="6.7" fill="#333">KR</text>
<text x="569.90" y="221.70" font-size="8.22">chr21: 33,150,000 - 33,500,000</text>
<text transform="translate(462.2,240.05) rotate(-90)" font-size="8.0" text-anchor="middle">ChIP-Seq</text>
<text transform="translate(471.6,240.05) rotate(-90)" font-size="8.0" text-anchor="middle">signals</text>
<text transform="translate(465.3,287.60) rotate(-90)" font-size="8.0" text-anchor="middle">log(biases)</text>
<path d="M494.5 240.0L494.5 239.6L498.1 239.6L498.5 239.4L498.9 239.6L499.3 239.2L499.7 239.6L500.1 239.6L500.5 239.0L500.9 239.6L501.7 239.6L502.1 239.4L502.5 239.6L502.9 239.1L503.3 239.6L504.1 239.6L504.5 239.1L504.9 239.5L505.3 239.6L506.5 239.6L506.9 239.1L507.3 239.6L510.5 239.6L510.9 239.3L511.3 239.6L514.9 239.6L515.3 239.5L515.7 239.6L519.7 239.6L520.1 233.3L520.5 222.6L520.9 233.3L521.3 239.6L521.7 239.6L522.1 238.7L522.5 236.5L522.9 238.7L523.3 239.6L529.3 239.6L529.7 239.1L530.1 239.3L530.5 239.6L530.9 239.6L531.3 239.4L531.7 239.6L532.5 239.6L532.9 239.4L533.3 239.6L536.1 239.6L536.5 239.5L536.9 239.6L538.1 239.6L538.5 236.8L538.9 238.4L539.3 239.6L540.9 239.6L541.3 239.2L541.7 239.6L542.1 239.3L542.5 239.6L544.9 239.6L545.3 239.5L545.7 239.6L546.1 239.6L546.5 239.1L546.9 239.6L547.3 239.3L547.7 239.6L548.1 239.3L548.5 239.6L550.5 239.6L550.9 239.2L551.3 239.6L552.1 239.6L552.5 239.3L552.9 239.2L553.3 239.6L554.9 239.6L555.3 239.4L555.7 239.6L557.7 239.6L558.1 239.3L558.5 239.6L558.9 239.6L559.3 237.5L559.7 237.5L560.1 239.6L560.9 239.6L561.3 239.1L561.7 239.6L562.9 239.6L563.3 239.5L563.7 239.1L564.1 239.6L564.9 239.6L565.3 239.2L565.7 239.6L567.3 239.6L567.7 239.3L568.1 239.6L569.7 239.6L570.1 239.3L570.5 239.6L571.7 239.6L572.1 239.3L572.5 239.6L578.9 239.6L579.3 239.4L579.7 239.6L580.1 239.6L580.5 239.3L580.9 238.4L581.3 233.6L581.7 238.4L582.1 239.6L582.5 239.1L582.9 239.6L589.7 239.6L590.1 239.3L590.5 239.6L592.9 239.6L593.3 239.1L593.7 239.6L594.1 239.6L594.5 239.3L594.9 239.2L595.3 239.6L595.7 239.6L596.1 239.3L596.5 239.4L596.9 239.6L597.7 239.6L598.1 239.2L598.5 239.6L598.9 239.6L599.3 239.5L599.7 239.6L600.9 239.6L601.3 237.6L601.7 238.8L602.1 239.6L602.5 239.3L602.9 239.1L603.3 239.6L604.1 239.6L604.5 239.1L604.9 239.6L608.1 239.6L608.5 235.6L608.9 222.6L609.3 235.6L609.7 239.6L610.5 239.6L610.9 239.5L611.3 239.6L612.5 239.6L612.9 239.1L613.3 239.6L614.9 239.6L615.3 239.1L615.7 236.9L616.1 227.8L616.5 236.9L616.9 239.6L621.7 239.6L622.1 238.1L622.5 238.1L622.9 239.6L624.1 239.6L624.5 239.4L624.9 239.6L629.7 239.6L630.1 239.3L630.5 239.6L630.9 239.4L631.3 239.6L633.7 239.6L634.1 239.2L634.5 239.6L634.9 239.1L635.3 239.6L636.1 239.6L636.5 239.4L636.9 239.6L639.3 239.6L639.7 239.5L640.1 239.2L640.5 239.6L641.3 239.6L641.7 239.1L642.1 239.6L644.5 239.6L644.9 239.2L645.3 239.6L648.1 239.6L648.5 239.4L648.9 239.6L653.3 239.6L653.7 239.2L654.1 227.6L654.5 227.6L654.9 239.2L655.3 239.6L655.7 239.4L656.1 239.6L656.5 239.1L656.9 239.6L661.7 239.6L662.1 239.5L662.5 239.6L662.9 239.6L663.3 239.1L663.7 239.6L664.1 239.2L664.5 239.6L664.9 239.3L665.3 239.6L670.1 239.6L670.5 239.2L670.9 239.6L672.1 239.6L672.5 239.3L672.9 239.6L673.3 239.6L673.7 238.1L674.1 238.1L674.5 239.6L674.9 239.5L675.3 239.6L676.5 239.6L676.9 239.3L677.3 239.4L677.7 239.6L678.9 239.6L679.3 239.4L679.7 239.6L680.1 239.5L680.5 239.6L681.7 239.6L682.1 239.4L682.5 239.6L683.7 239.6L684.1 239.3L684.5 239.6L684.9 239.6L685.0 240.0Z" fill="#3a7dbf" fill-opacity="0.7"/>
<path d="M494.5 259.9L494.5 259.5L495.7 259.5L496.1 259.1L496.5 259.5L500.1 259.5L500.5 259.0L500.9 259.5L507.3 259.5L507.7 259.0L508.1 259.5L508.5 259.5L508.9 259.2L509.3 259.0L509.7 259.5L514.9 259.5L515.3 259.0L515.7 259.5L518.1 259.5L518.5 259.0L518.9 259.5L520.9 259.5L521.3 259.2L521.7 259.5L522.9 259.5L523.3 259.3L523.7 259.5L524.5 259.5L524.9 258.6L525.3 259.1L525.7 259.5L530.1 259.5L530.5 258.0L530.9 246.9L531.3 246.9L531.7 258.0L532.1 259.5L532.9 259.5L533.3 259.0L533.7 259.5L534.1 259.4L534.5 259.5L535.7 259.5L536.1 259.2L536.5 259.5L537.7 259.5L538.1 256.6L538.5 246.0L538.9 251.3L539.3 259.1L539.7 259.5L540.5 259.5L540.9 257.5L541.3 250.1L541.7 253.8L542.1 259.3L542.5 259.5L542.9 259.1L543.3 259.5L544.1 259.5L544.5 255.3L544.9 252.6L545.3 258.1L545.7 259.1L546.1 259.1L546.5 259.5L547.7 259.5L548.1 259.3L548.5 259.5L548.9 259.5L549.3 259.3L549.7 259.5L556.9 259.5L557.3 258.9L557.7 256.1L558.1 254.9L558.5 257.6L558.9 258.8L559.3 252.4L559.7 252.4L560.1 258.8L560.5 259.5L562.9 259.5L563.3 259.0L563.7 259.5L564.5 259.5L564.9 259.4L565.3 259.5L565.7 259.3L566.1 258.9L566.5 259.5L571.7 259.5L572.1 259.0L572.5 259.5L572.9 259.3L573.3 259.2L573.7 259.5L574.1 259.5L574.5 258.6L574.9 256.4L575.3 258.6L575.7 259.5L577.7 259.5L578.1 259.0L578.5 259.5L578.9 259.5L579.3 259.3L579.7 259.5L580.1 259.4L580.5 259.5L580.9 259.5L581.3 259.2L581.7 259.3L582.1 258.9L582.5 259.3L582.9 259.5L584.5 259.5L584.9 259.1L585.3 259.5L586.5 259.5L586.9 259.4L587.3 259.5L589.3 259.5L589.7 256.0L590.1 243.6L590.5 249.8L590.9 259.0L591.3 259.5L597.7 259.5L598.1 259.2L598.5 257.0L598.9 258.1L599.3 259.5L602.1 259.5L602.5 259.1L602.9 259.2L603.3 259.5L603.7 259.4L604.1 259.1L604.5 259.5L604.9 259.5L605.3 259.3L605.7 259.5L606.1 259.5L606.5 259.2L606.9 259.5L608.5 259.5L608.9 259.3L609.3 259.5L609.7 259.5L610.1 259.2L610.5 258.3L610.9 258.9L611.3 259.5L613.3 259.5L613.7 259.4L614.1 259.0L614.5 259.5L617.7 259.5L618.1 259.3L618.5 259.5L618.9 259.0L619.3 259.5L620.1 259.5L620.5 254.2L620.9 245.2L621.3 254.2L621.7 259.5L622.9 259.5L623.3 259.1L623.7 259.5L625.3 259.5L625.7 259.4L626.1 259.1L626.5 259.5L626.9 259.0L627.3 259.5L628.5 259.5L628.9 259.4L629.3 259.5L629.7 259.5L630.1 259.1L630.5 256.6L630.9 257.9L631.3 259.5L632.1 259.5L632.5 259.2L632.9 259.5L633.7 259.5L634.1 259.0L634.5 259.5L635.3 259.5L635.7 257.7L636.1 250.9L636.5 254.3L636.9 259.4L637.3 259.5L637.7 259.4L638.1 259.5L638.9 259.5L639.3 259.3L639.7 259.3L640.1 259.5L640.5 259.5L640.9 259.1L641.3 259.5L643.7 259.5L644.1 259.3L644.5 259.5L646.1 259.5L646.5 259.3L646.9 259.5L647.7 259.5L648.1 259.0L648.5 250.8L648.9 245.2L649.3 256.4L649.7 259.5L650.1 259.5L650.5 259.2L650.9 259.5L651.3 259.3L651.7 259.5L652.1 259.1L652.5 258.5L652.9 254.2L653.3 256.3L653.7 259.5L654.1 259.5L654.5 259.2L654.9 259.5L655.3 259.5L655.7 259.4L656.1 259.2L656.5 259.5L657.7 259.5L658.1 259.2L658.5 259.5L659.3 259.5L659.7 259.4L660.1 259.1L660.5 259.5L660.9 259.5L661.3 259.2L661.7 259.5L662.1 259.4L662.5 259.5L664.1 259.5L664.5 259.3L664.9 259.5L666.9 259.5L667.3 259.3L667.7 259.5L668.5 259.5L668.9 259.1L669.3 259.5L673.3 259.5L673.7 257.2L674.1 257.2L674.5 259.5L675.3 259.5L675.7 259.3L676.1 259.5L684.1 259.5L684.5 259.1L684.9 259.5L685.0 259.9Z" fill="#f5821f" fill-opacity="0.85"/>
<path d="M491.79999999999995 222.6H493.4V240.0H491.79999999999995M491.79999999999995 242.6H493.4V259.9H491.79999999999995M491.79999999999995 272.3H493.4V302.9H491.79999999999995" stroke="#000" stroke-width="1.1" fill="none"/>
<text x="491.30" y="228.80" font-size="8.5" text-anchor="end">53</text>
<text x="491.30" y="239.00" font-size="8.5" text-anchor="end">0</text>
<text x="491.30" y="248.80" font-size="8.5" text-anchor="end">80</text>
<text x="491.30" y="258.90" font-size="8.5" text-anchor="end">0</text>
<text x="491.30" y="278.90" font-size="8.5" text-anchor="end">0.79</text>
<text x="491.30" y="302.30" font-size="8.5" text-anchor="end">-0.53</text>
<text x="497.60" y="232.00" font-size="8.0">CTCF</text>
<text x="497.60" y="251.90" font-size="8.0">H3K27ac</text>
<path d="M494.4 288.4L495.9 290.9L497.3 291.9L498.8 293.0L500.2 290.6L501.6 295.5L503.1 301.2L505.3 286.0L506.8 284.4L508.2 281.3L509.7 283.9L511.2 289.5L512.6 290.2L514.1 290.6L516.3 291.9L517.8 284.6L519.2 280.2L521.0 282.2L522.8 283.7L525.0 286.0L526.9 283.0L528.7 280.2L530.2 283.5L531.6 284.4L533.1 287.1L534.9 287.2L536.7 289.5L538.4 285.7L540.1 282.0L541.8 281.3L543.2 284.6L544.7 283.7L546.2 282.0L547.7 284.9L549.5 284.4L551.3 283.7L552.8 284.7L554.2 283.6L555.7 283.7L557.2 282.0L558.6 284.3L560.1 283.7L561.5 291.4L563.0 295.4L564.5 291.3L565.9 283.7L567.8 277.2L569.6 274.3L571.8 275.6L573.2 279.9L574.7 283.7L576.2 283.6L577.6 284.9L579.1 280.2L580.5 283.1L582.0 286.0L583.4 288.4L585.0 293.0L586.5 302.1L587.9 307.1L589.3 294.8L590.8 286.0L593.0 281.3L594.5 288.0L596.0 295.4L597.5 288.3L598.9 286.0L601.1 281.3L602.9 288.5L604.7 296.5L606.2 289.8L607.6 284.9L609.0 285.3L610.5 287.1L612.7 284.9L614.2 287.7L615.7 288.4L617.8 286.0L619.3 282.9L620.8 277.8L622.6 280.2L624.4 281.3L626.2 282.2L628.1 283.7L629.9 285.3L631.7 288.4L633.5 281.4L635.4 277.8L636.8 281.4L638.3 284.7L639.7 287.1L641.2 284.6L642.6 282.0L644.1 281.3L645.8 280.1L647.5 282.2L649.2 281.3L651.0 281.8L652.9 278.9L654.7 284.9L656.5 288.4L658.0 284.7L659.5 283.7L661.0 286.3L662.4 290.6L663.9 289.3L665.3 292.6L666.8 290.6L668.2 290.6L669.7 287.7L671.1 288.4L673.3 290.6L674.8 286.0L676.2 280.2L677.7 281.2L679.2 281.3L681.0 284.0L682.8 286.0L685.0 287.1" stroke="#8a8a8a" stroke-width="0.7" stroke-dasharray="1.6 0.7" fill="none"/>
<path d="M494.4 287.8L495.9 288.5L497.3 290.9L498.8 288.6L500.2 289.7L501.6 293.1L503.1 299.0L505.3 285.7L506.8 283.5L508.2 281.6L509.7 282.3L511.2 288.8L512.6 291.6L514.1 289.7L516.3 290.9L517.8 285.6L519.2 280.6L521.0 282.8L522.8 283.7L525.0 285.7L526.9 283.1L528.7 280.6L530.2 283.5L531.6 284.2L533.1 286.7L534.9 288.5L536.7 288.8L538.4 287.1L540.1 284.6L541.8 281.6L543.2 282.1L544.7 283.7L546.2 285.5L547.7 284.7L549.5 284.3L551.3 283.7L552.8 284.1L554.2 284.1L555.7 283.7L557.2 285.0L558.6 282.4L560.1 283.7L561.5 290.0L563.0 293.9L564.5 289.2L565.9 283.7L567.8 278.5L569.6 275.5L571.8 276.6L573.2 281.6L574.7 283.7L576.2 283.7L577.6 281.7L579.1 280.6L580.5 281.9L582.0 284.9L583.4 287.8L585.0 291.8L586.5 297.2L587.9 304.2L589.3 296.7L590.8 285.7L593.0 281.6L594.5 286.7L596.0 293.9L597.5 290.5L598.9 285.7L601.1 281.6L602.9 285.6L604.7 294.9L606.2 290.0L607.6 284.7L609.0 287.1L610.5 286.7L612.7 284.7L614.2 286.0L615.7 287.8L617.8 285.7L619.3 280.1L620.8 278.5L622.6 279.6L624.4 281.6L626.2 283.1L628.1 283.7L629.9 285.4L631.7 287.8L633.5 282.8L635.4 278.5L636.8 281.2L638.3 283.8L639.7 286.7L641.2 283.8L642.6 283.7L644.1 281.6L645.8 282.5L647.5 282.5L649.2 281.6L651.0 279.5L652.9 279.5L654.7 283.7L656.5 287.8L658.0 287.5L659.5 283.7L661.0 285.4L662.4 289.7L663.9 290.4L665.3 289.2L666.8 289.7L668.2 290.1L669.7 288.6L671.1 287.8L673.3 289.7L674.8 286.5L676.2 280.6L677.7 282.3L679.2 281.6L681.0 283.6L682.8 285.7L685.0 286.7" stroke="#a0a0a0" stroke-width="0.7" stroke-dasharray="2.5 0.8" fill="none"/>
<path d="M494.4 287.0L497.3 289.2L500.2 288.4L503.1 295.0L505.3 285.5L508.2 282.6L511.2 287.7L514.1 288.4L516.3 289.2L519.2 281.9L521.0 282.4L522.8 284.1L525.0 285.5L526.9 283.6L528.7 281.9L530.9 284.3L533.1 286.2L534.9 286.9L536.7 287.7L538.4 286.1L540.1 283.8L541.8 282.6L544.7 284.1L547.7 284.8L549.5 284.4L551.3 284.1L553.5 284.0L555.7 284.1L557.9 284.4L560.1 284.1L563.0 291.4L565.9 284.1L567.8 281.2L569.6 278.2L571.8 279.0L574.7 284.1L576.9 283.0L579.1 281.9L581.2 284.2L583.4 287.0L585.0 289.9L587.9 298.7L590.8 285.5L593.0 282.6L596.0 291.4L598.9 285.5L601.1 282.6L602.9 287.0L604.7 292.1L607.6 284.8L610.5 286.2L612.7 284.8L615.7 287.0L617.8 285.5L620.8 280.4L622.6 281.5L624.4 282.6L626.2 283.8L628.1 284.1L629.9 284.9L631.7 287.0L633.5 282.7L635.4 280.4L637.5 284.0L639.7 286.2L641.9 285.0L644.1 282.6L645.8 282.8L647.5 282.7L649.2 282.6L651.0 281.7L652.9 281.1L654.7 283.9L656.5 287.0L659.5 284.1L662.4 288.4L664.6 288.0L666.8 288.4L669.0 287.9L671.1 287.0L673.3 288.4L676.2 281.9L679.2 282.6L681.0 284.0L682.8 285.5L685.0 286.2" stroke="#111" stroke-width="1.05" fill="none" stroke-linejoin="round"/>
<rect x="502" y="295.1" width="82" height="8.5" fill="#fff"/>
<path d="M503.9 299.6H510.4" stroke="#111" stroke-width="1.1"/>
<text x="512.20" y="302.00" font-size="6.7" fill="#333">Raichu</text>
<path d="M538.2 299.6H544.7" stroke="#999" stroke-width="0.6" stroke-dasharray="1.5 0.8"/>
<text x="546.90" y="302.00" font-size="6.7" fill="#333">ICE</text>
<path d="M563 299.6H569.6" stroke="#999" stroke-width="0.6" stroke-dasharray="2.5 0.8"/>
<text x="571.70" y="302.00" font-size="6.7" fill="#333">KR</text>
</svg></body></html>
